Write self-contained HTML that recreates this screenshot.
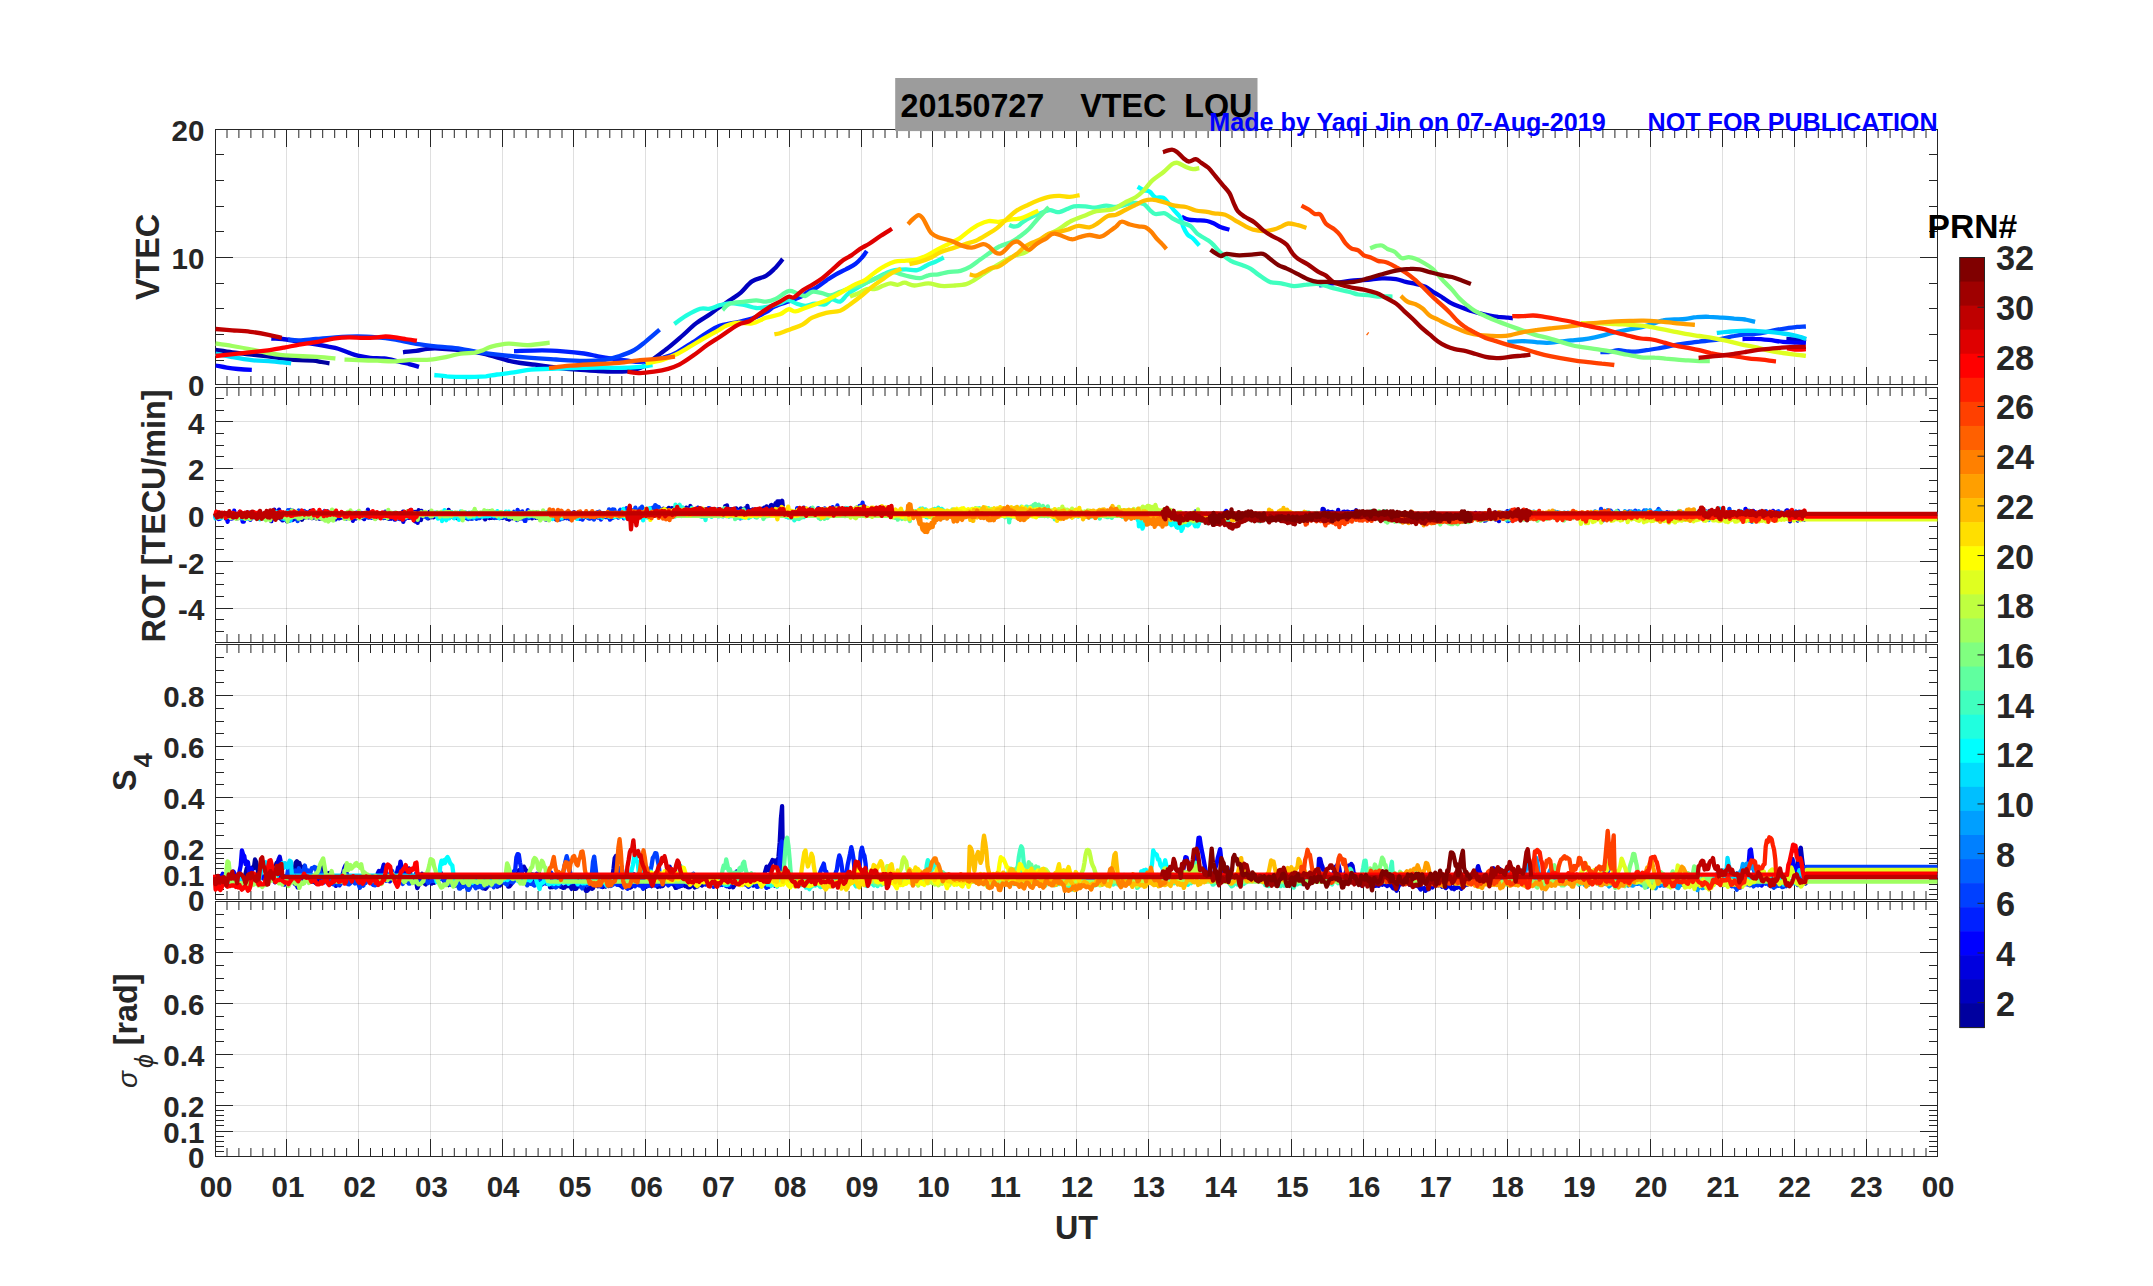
<!DOCTYPE html>
<html><head><meta charset="utf-8"><title>VTEC LOU 20150727</title>
<style>
html,body{margin:0;padding:0;background:#fff;}
body{width:2153px;height:1286px;overflow:hidden;font-family:"Liberation Sans",sans-serif;}
svg{display:block}
svg text{white-space:pre}
</style></head><body>
<svg width="2153" height="1286" viewBox="0 0 2153 1286">
<rect width="2153" height="1286" fill="#fff"/>
<path d="M286.5 129.5V384.5M358.5 129.5V384.5M430.5 129.5V384.5M502.5 129.5V384.5M573.5 129.5V384.5M645.5 129.5V384.5M717.5 129.5V384.5M789.5 129.5V384.5M861.5 129.5V384.5M932.5 129.5V384.5M1004.5 129.5V384.5M1076.5 129.5V384.5M1148.5 129.5V384.5M1220.5 129.5V384.5M1291.5 129.5V384.5M1363.5 129.5V384.5M1435.5 129.5V384.5M1507.5 129.5V384.5M1579.5 129.5V384.5M1650.5 129.5V384.5M1722.5 129.5V384.5M1794.5 129.5V384.5M1866.5 129.5V384.5M286.5 387.5V642.5M358.5 387.5V642.5M430.5 387.5V642.5M502.5 387.5V642.5M573.5 387.5V642.5M645.5 387.5V642.5M717.5 387.5V642.5M789.5 387.5V642.5M861.5 387.5V642.5M932.5 387.5V642.5M1004.5 387.5V642.5M1076.5 387.5V642.5M1148.5 387.5V642.5M1220.5 387.5V642.5M1291.5 387.5V642.5M1363.5 387.5V642.5M1435.5 387.5V642.5M1507.5 387.5V642.5M1579.5 387.5V642.5M1650.5 387.5V642.5M1722.5 387.5V642.5M1794.5 387.5V642.5M1866.5 387.5V642.5M286.5 644.5V899.5M358.5 644.5V899.5M430.5 644.5V899.5M502.5 644.5V899.5M573.5 644.5V899.5M645.5 644.5V899.5M717.5 644.5V899.5M789.5 644.5V899.5M861.5 644.5V899.5M932.5 644.5V899.5M1004.5 644.5V899.5M1076.5 644.5V899.5M1148.5 644.5V899.5M1220.5 644.5V899.5M1291.5 644.5V899.5M1363.5 644.5V899.5M1435.5 644.5V899.5M1507.5 644.5V899.5M1579.5 644.5V899.5M1650.5 644.5V899.5M1722.5 644.5V899.5M1794.5 644.5V899.5M1866.5 644.5V899.5M286.5 901.5V1156.5M358.5 901.5V1156.5M430.5 901.5V1156.5M502.5 901.5V1156.5M573.5 901.5V1156.5M645.5 901.5V1156.5M717.5 901.5V1156.5M789.5 901.5V1156.5M861.5 901.5V1156.5M932.5 901.5V1156.5M1004.5 901.5V1156.5M1076.5 901.5V1156.5M1148.5 901.5V1156.5M1220.5 901.5V1156.5M1291.5 901.5V1156.5M1363.5 901.5V1156.5M1435.5 901.5V1156.5M1507.5 901.5V1156.5M1579.5 901.5V1156.5M1650.5 901.5V1156.5M1722.5 901.5V1156.5M1794.5 901.5V1156.5M1866.5 901.5V1156.5" stroke="#262626" stroke-opacity="0.15" stroke-width="1" fill="none"/>
<path d="M215.5 257.5H1937.5M215.5 608.5H1937.5M215.5 561.5H1937.5M215.5 515.5H1937.5M215.5 468.5H1937.5M215.5 421.5H1937.5M215.5 874.5H1937.5M215.5 848.5H1937.5M215.5 797.5H1937.5M215.5 746.5H1937.5M215.5 695.5H1937.5M215.5 1131.5H1937.5M215.5 1105.5H1937.5M215.5 1054.5H1937.5M215.5 1003.5H1937.5M215.5 952.5H1937.5" stroke="#262626" stroke-opacity="0.15" stroke-width="1" fill="none"/>
<path d="M227 129.5v8.5M227 384.5v-8.5M238.9 129.5v8.5M238.9 384.5v-8.5M250.9 129.5v8.5M250.9 384.5v-8.5M262.9 129.5v8.5M262.9 384.5v-8.5M274.8 129.5v8.5M274.8 384.5v-8.5M298.8 129.5v8.5M298.8 384.5v-8.5M310.7 129.5v8.5M310.7 384.5v-8.5M322.7 129.5v8.5M322.7 384.5v-8.5M334.7 129.5v8.5M334.7 384.5v-8.5M346.6 129.5v8.5M346.6 384.5v-8.5M370.5 129.5v8.5M370.5 384.5v-8.5M382.5 129.5v8.5M382.5 384.5v-8.5M394.5 129.5v8.5M394.5 384.5v-8.5M406.4 129.5v8.5M406.4 384.5v-8.5M418.4 129.5v8.5M418.4 384.5v-8.5M442.3 129.5v8.5M442.3 384.5v-8.5M454.3 129.5v8.5M454.3 384.5v-8.5M466.3 129.5v8.5M466.3 384.5v-8.5M478.2 129.5v8.5M478.2 384.5v-8.5M490.2 129.5v8.5M490.2 384.5v-8.5M514.1 129.5v8.5M514.1 384.5v-8.5M526.1 129.5v8.5M526.1 384.5v-8.5M538.1 129.5v8.5M538.1 384.5v-8.5M550 129.5v8.5M550 384.5v-8.5M562 129.5v8.5M562 384.5v-8.5M585.9 129.5v8.5M585.9 384.5v-8.5M597.9 129.5v8.5M597.9 384.5v-8.5M609.8 129.5v8.5M609.8 384.5v-8.5M621.8 129.5v8.5M621.8 384.5v-8.5M633.8 129.5v8.5M633.8 384.5v-8.5M657.7 129.5v8.5M657.7 384.5v-8.5M669.7 129.5v8.5M669.7 384.5v-8.5M681.6 129.5v8.5M681.6 384.5v-8.5M693.6 129.5v8.5M693.6 384.5v-8.5M705.6 129.5v8.5M705.6 384.5v-8.5M729.5 129.5v8.5M729.5 384.5v-8.5M741.5 129.5v8.5M741.5 384.5v-8.5M753.4 129.5v8.5M753.4 384.5v-8.5M765.4 129.5v8.5M765.4 384.5v-8.5M777.4 129.5v8.5M777.4 384.5v-8.5M801.3 129.5v8.5M801.3 384.5v-8.5M813.3 129.5v8.5M813.3 384.5v-8.5M825.2 129.5v8.5M825.2 384.5v-8.5M837.2 129.5v8.5M837.2 384.5v-8.5M849.1 129.5v8.5M849.1 384.5v-8.5M873.1 129.5v8.5M873.1 384.5v-8.5M885 129.5v8.5M885 384.5v-8.5M897 129.5v8.5M897 384.5v-8.5M909 129.5v8.5M909 384.5v-8.5M920.9 129.5v8.5M920.9 384.5v-8.5M944.9 129.5v8.5M944.9 384.5v-8.5M956.8 129.5v8.5M956.8 384.5v-8.5M968.8 129.5v8.5M968.8 384.5v-8.5M980.8 129.5v8.5M980.8 384.5v-8.5M992.7 129.5v8.5M992.7 384.5v-8.5M1016.7 129.5v8.5M1016.7 384.5v-8.5M1028.6 129.5v8.5M1028.6 384.5v-8.5M1040.6 129.5v8.5M1040.6 384.5v-8.5M1052.6 129.5v8.5M1052.6 384.5v-8.5M1064.5 129.5v8.5M1064.5 384.5v-8.5M1088.4 129.5v8.5M1088.4 384.5v-8.5M1100.4 129.5v8.5M1100.4 384.5v-8.5M1112.4 129.5v8.5M1112.4 384.5v-8.5M1124.3 129.5v8.5M1124.3 384.5v-8.5M1136.3 129.5v8.5M1136.3 384.5v-8.5M1160.2 129.5v8.5M1160.2 384.5v-8.5M1172.2 129.5v8.5M1172.2 384.5v-8.5M1184.2 129.5v8.5M1184.2 384.5v-8.5M1196.1 129.5v8.5M1196.1 384.5v-8.5M1208.1 129.5v8.5M1208.1 384.5v-8.5M1232 129.5v8.5M1232 384.5v-8.5M1244 129.5v8.5M1244 384.5v-8.5M1256 129.5v8.5M1256 384.5v-8.5M1267.9 129.5v8.5M1267.9 384.5v-8.5M1279.9 129.5v8.5M1279.9 384.5v-8.5M1303.8 129.5v8.5M1303.8 384.5v-8.5M1315.8 129.5v8.5M1315.8 384.5v-8.5M1327.7 129.5v8.5M1327.7 384.5v-8.5M1339.7 129.5v8.5M1339.7 384.5v-8.5M1351.7 129.5v8.5M1351.7 384.5v-8.5M1375.6 129.5v8.5M1375.6 384.5v-8.5M1387.6 129.5v8.5M1387.6 384.5v-8.5M1399.5 129.5v8.5M1399.5 384.5v-8.5M1411.5 129.5v8.5M1411.5 384.5v-8.5M1423.5 129.5v8.5M1423.5 384.5v-8.5M1447.4 129.5v8.5M1447.4 384.5v-8.5M1459.4 129.5v8.5M1459.4 384.5v-8.5M1471.3 129.5v8.5M1471.3 384.5v-8.5M1483.3 129.5v8.5M1483.3 384.5v-8.5M1495.3 129.5v8.5M1495.3 384.5v-8.5M1519.2 129.5v8.5M1519.2 384.5v-8.5M1531.2 129.5v8.5M1531.2 384.5v-8.5M1543.1 129.5v8.5M1543.1 384.5v-8.5M1555.1 129.5v8.5M1555.1 384.5v-8.5M1567 129.5v8.5M1567 384.5v-8.5M1591 129.5v8.5M1591 384.5v-8.5M1602.9 129.5v8.5M1602.9 384.5v-8.5M1614.9 129.5v8.5M1614.9 384.5v-8.5M1626.9 129.5v8.5M1626.9 384.5v-8.5M1638.8 129.5v8.5M1638.8 384.5v-8.5M1662.8 129.5v8.5M1662.8 384.5v-8.5M1674.7 129.5v8.5M1674.7 384.5v-8.5M1686.7 129.5v8.5M1686.7 384.5v-8.5M1698.7 129.5v8.5M1698.7 384.5v-8.5M1710.6 129.5v8.5M1710.6 384.5v-8.5M1734.6 129.5v8.5M1734.6 384.5v-8.5M1746.5 129.5v8.5M1746.5 384.5v-8.5M1758.5 129.5v8.5M1758.5 384.5v-8.5M1770.5 129.5v8.5M1770.5 384.5v-8.5M1782.4 129.5v8.5M1782.4 384.5v-8.5M1806.3 129.5v8.5M1806.3 384.5v-8.5M1818.3 129.5v8.5M1818.3 384.5v-8.5M1830.3 129.5v8.5M1830.3 384.5v-8.5M1842.2 129.5v8.5M1842.2 384.5v-8.5M1854.2 129.5v8.5M1854.2 384.5v-8.5M1878.1 129.5v8.5M1878.1 384.5v-8.5M1890.1 129.5v8.5M1890.1 384.5v-8.5M1902.1 129.5v8.5M1902.1 384.5v-8.5M1914 129.5v8.5M1914 384.5v-8.5M1926 129.5v8.5M1926 384.5v-8.5M215.5 360.5h8.5M1937.5 360.5h-8.5M215.5 334.5h8.5M1937.5 334.5h-8.5M215.5 308.5h8.5M1937.5 308.5h-8.5M215.5 283.5h8.5M1937.5 283.5h-8.5M215.5 231.5h8.5M1937.5 231.5h-8.5M215.5 206.5h8.5M1937.5 206.5h-8.5M215.5 180.5h8.5M1937.5 180.5h-8.5M215.5 154.5h8.5M1937.5 154.5h-8.5M227 387.5v8.5M227 642.5v-8.5M238.9 387.5v8.5M238.9 642.5v-8.5M250.9 387.5v8.5M250.9 642.5v-8.5M262.9 387.5v8.5M262.9 642.5v-8.5M274.8 387.5v8.5M274.8 642.5v-8.5M298.8 387.5v8.5M298.8 642.5v-8.5M310.7 387.5v8.5M310.7 642.5v-8.5M322.7 387.5v8.5M322.7 642.5v-8.5M334.7 387.5v8.5M334.7 642.5v-8.5M346.6 387.5v8.5M346.6 642.5v-8.5M370.5 387.5v8.5M370.5 642.5v-8.5M382.5 387.5v8.5M382.5 642.5v-8.5M394.5 387.5v8.5M394.5 642.5v-8.5M406.4 387.5v8.5M406.4 642.5v-8.5M418.4 387.5v8.5M418.4 642.5v-8.5M442.3 387.5v8.5M442.3 642.5v-8.5M454.3 387.5v8.5M454.3 642.5v-8.5M466.3 387.5v8.5M466.3 642.5v-8.5M478.2 387.5v8.5M478.2 642.5v-8.5M490.2 387.5v8.5M490.2 642.5v-8.5M514.1 387.5v8.5M514.1 642.5v-8.5M526.1 387.5v8.5M526.1 642.5v-8.5M538.1 387.5v8.5M538.1 642.5v-8.5M550 387.5v8.5M550 642.5v-8.5M562 387.5v8.5M562 642.5v-8.5M585.9 387.5v8.5M585.9 642.5v-8.5M597.9 387.5v8.5M597.9 642.5v-8.5M609.8 387.5v8.5M609.8 642.5v-8.5M621.8 387.5v8.5M621.8 642.5v-8.5M633.8 387.5v8.5M633.8 642.5v-8.5M657.7 387.5v8.5M657.7 642.5v-8.5M669.7 387.5v8.5M669.7 642.5v-8.5M681.6 387.5v8.5M681.6 642.5v-8.5M693.6 387.5v8.5M693.6 642.5v-8.5M705.6 387.5v8.5M705.6 642.5v-8.5M729.5 387.5v8.5M729.5 642.5v-8.5M741.5 387.5v8.5M741.5 642.5v-8.5M753.4 387.5v8.5M753.4 642.5v-8.5M765.4 387.5v8.5M765.4 642.5v-8.5M777.4 387.5v8.5M777.4 642.5v-8.5M801.3 387.5v8.5M801.3 642.5v-8.5M813.3 387.5v8.5M813.3 642.5v-8.5M825.2 387.5v8.5M825.2 642.5v-8.5M837.2 387.5v8.5M837.2 642.5v-8.5M849.1 387.5v8.5M849.1 642.5v-8.5M873.1 387.5v8.5M873.1 642.5v-8.5M885 387.5v8.5M885 642.5v-8.5M897 387.5v8.5M897 642.5v-8.5M909 387.5v8.5M909 642.5v-8.5M920.9 387.5v8.5M920.9 642.5v-8.5M944.9 387.5v8.5M944.9 642.5v-8.5M956.8 387.5v8.5M956.8 642.5v-8.5M968.8 387.5v8.5M968.8 642.5v-8.5M980.8 387.5v8.5M980.8 642.5v-8.5M992.7 387.5v8.5M992.7 642.5v-8.5M1016.7 387.5v8.5M1016.7 642.5v-8.5M1028.6 387.5v8.5M1028.6 642.5v-8.5M1040.6 387.5v8.5M1040.6 642.5v-8.5M1052.6 387.5v8.5M1052.6 642.5v-8.5M1064.5 387.5v8.5M1064.5 642.5v-8.5M1088.4 387.5v8.5M1088.4 642.5v-8.5M1100.4 387.5v8.5M1100.4 642.5v-8.5M1112.4 387.5v8.5M1112.4 642.5v-8.5M1124.3 387.5v8.5M1124.3 642.5v-8.5M1136.3 387.5v8.5M1136.3 642.5v-8.5M1160.2 387.5v8.5M1160.2 642.5v-8.5M1172.2 387.5v8.5M1172.2 642.5v-8.5M1184.2 387.5v8.5M1184.2 642.5v-8.5M1196.1 387.5v8.5M1196.1 642.5v-8.5M1208.1 387.5v8.5M1208.1 642.5v-8.5M1232 387.5v8.5M1232 642.5v-8.5M1244 387.5v8.5M1244 642.5v-8.5M1256 387.5v8.5M1256 642.5v-8.5M1267.9 387.5v8.5M1267.9 642.5v-8.5M1279.9 387.5v8.5M1279.9 642.5v-8.5M1303.8 387.5v8.5M1303.8 642.5v-8.5M1315.8 387.5v8.5M1315.8 642.5v-8.5M1327.7 387.5v8.5M1327.7 642.5v-8.5M1339.7 387.5v8.5M1339.7 642.5v-8.5M1351.7 387.5v8.5M1351.7 642.5v-8.5M1375.6 387.5v8.5M1375.6 642.5v-8.5M1387.6 387.5v8.5M1387.6 642.5v-8.5M1399.5 387.5v8.5M1399.5 642.5v-8.5M1411.5 387.5v8.5M1411.5 642.5v-8.5M1423.5 387.5v8.5M1423.5 642.5v-8.5M1447.4 387.5v8.5M1447.4 642.5v-8.5M1459.4 387.5v8.5M1459.4 642.5v-8.5M1471.3 387.5v8.5M1471.3 642.5v-8.5M1483.3 387.5v8.5M1483.3 642.5v-8.5M1495.3 387.5v8.5M1495.3 642.5v-8.5M1519.2 387.5v8.5M1519.2 642.5v-8.5M1531.2 387.5v8.5M1531.2 642.5v-8.5M1543.1 387.5v8.5M1543.1 642.5v-8.5M1555.1 387.5v8.5M1555.1 642.5v-8.5M1567 387.5v8.5M1567 642.5v-8.5M1591 387.5v8.5M1591 642.5v-8.5M1602.9 387.5v8.5M1602.9 642.5v-8.5M1614.9 387.5v8.5M1614.9 642.5v-8.5M1626.9 387.5v8.5M1626.9 642.5v-8.5M1638.8 387.5v8.5M1638.8 642.5v-8.5M1662.8 387.5v8.5M1662.8 642.5v-8.5M1674.7 387.5v8.5M1674.7 642.5v-8.5M1686.7 387.5v8.5M1686.7 642.5v-8.5M1698.7 387.5v8.5M1698.7 642.5v-8.5M1710.6 387.5v8.5M1710.6 642.5v-8.5M1734.6 387.5v8.5M1734.6 642.5v-8.5M1746.5 387.5v8.5M1746.5 642.5v-8.5M1758.5 387.5v8.5M1758.5 642.5v-8.5M1770.5 387.5v8.5M1770.5 642.5v-8.5M1782.4 387.5v8.5M1782.4 642.5v-8.5M1806.3 387.5v8.5M1806.3 642.5v-8.5M1818.3 387.5v8.5M1818.3 642.5v-8.5M1830.3 387.5v8.5M1830.3 642.5v-8.5M1842.2 387.5v8.5M1842.2 642.5v-8.5M1854.2 387.5v8.5M1854.2 642.5v-8.5M1878.1 387.5v8.5M1878.1 642.5v-8.5M1890.1 387.5v8.5M1890.1 642.5v-8.5M1902.1 387.5v8.5M1902.1 642.5v-8.5M1914 387.5v8.5M1914 642.5v-8.5M1926 387.5v8.5M1926 642.5v-8.5M215.5 631.5h8.5M1937.5 631.5h-8.5M215.5 619.5h8.5M1937.5 619.5h-8.5M215.5 596.5h8.5M1937.5 596.5h-8.5M215.5 584.5h8.5M1937.5 584.5h-8.5M215.5 573.5h8.5M1937.5 573.5h-8.5M215.5 549.5h8.5M1937.5 549.5h-8.5M215.5 538.5h8.5M1937.5 538.5h-8.5M215.5 526.5h8.5M1937.5 526.5h-8.5M215.5 503.5h8.5M1937.5 503.5h-8.5M215.5 491.5h8.5M1937.5 491.5h-8.5M215.5 480.5h8.5M1937.5 480.5h-8.5M215.5 456.5h8.5M1937.5 456.5h-8.5M215.5 445.5h8.5M1937.5 445.5h-8.5M215.5 433.5h8.5M1937.5 433.5h-8.5M215.5 410.5h8.5M1937.5 410.5h-8.5M215.5 398.5h8.5M1937.5 398.5h-8.5M227 644.5v8.5M227 899.5v-8.5M238.9 644.5v8.5M238.9 899.5v-8.5M250.9 644.5v8.5M250.9 899.5v-8.5M262.9 644.5v8.5M262.9 899.5v-8.5M274.8 644.5v8.5M274.8 899.5v-8.5M298.8 644.5v8.5M298.8 899.5v-8.5M310.7 644.5v8.5M310.7 899.5v-8.5M322.7 644.5v8.5M322.7 899.5v-8.5M334.7 644.5v8.5M334.7 899.5v-8.5M346.6 644.5v8.5M346.6 899.5v-8.5M370.5 644.5v8.5M370.5 899.5v-8.5M382.5 644.5v8.5M382.5 899.5v-8.5M394.5 644.5v8.5M394.5 899.5v-8.5M406.4 644.5v8.5M406.4 899.5v-8.5M418.4 644.5v8.5M418.4 899.5v-8.5M442.3 644.5v8.5M442.3 899.5v-8.5M454.3 644.5v8.5M454.3 899.5v-8.5M466.3 644.5v8.5M466.3 899.5v-8.5M478.2 644.5v8.5M478.2 899.5v-8.5M490.2 644.5v8.5M490.2 899.5v-8.5M514.1 644.5v8.5M514.1 899.5v-8.5M526.1 644.5v8.5M526.1 899.5v-8.5M538.1 644.5v8.5M538.1 899.5v-8.5M550 644.5v8.5M550 899.5v-8.5M562 644.5v8.5M562 899.5v-8.5M585.9 644.5v8.5M585.9 899.5v-8.5M597.9 644.5v8.5M597.9 899.5v-8.5M609.8 644.5v8.5M609.8 899.5v-8.5M621.8 644.5v8.5M621.8 899.5v-8.5M633.8 644.5v8.5M633.8 899.5v-8.5M657.7 644.5v8.5M657.7 899.5v-8.5M669.7 644.5v8.5M669.7 899.5v-8.5M681.6 644.5v8.5M681.6 899.5v-8.5M693.6 644.5v8.5M693.6 899.5v-8.5M705.6 644.5v8.5M705.6 899.5v-8.5M729.5 644.5v8.5M729.5 899.5v-8.5M741.5 644.5v8.5M741.5 899.5v-8.5M753.4 644.5v8.5M753.4 899.5v-8.5M765.4 644.5v8.5M765.4 899.5v-8.5M777.4 644.5v8.5M777.4 899.5v-8.5M801.3 644.5v8.5M801.3 899.5v-8.5M813.3 644.5v8.5M813.3 899.5v-8.5M825.2 644.5v8.5M825.2 899.5v-8.5M837.2 644.5v8.5M837.2 899.5v-8.5M849.1 644.5v8.5M849.1 899.5v-8.5M873.1 644.5v8.5M873.1 899.5v-8.5M885 644.5v8.5M885 899.5v-8.5M897 644.5v8.5M897 899.5v-8.5M909 644.5v8.5M909 899.5v-8.5M920.9 644.5v8.5M920.9 899.5v-8.5M944.9 644.5v8.5M944.9 899.5v-8.5M956.8 644.5v8.5M956.8 899.5v-8.5M968.8 644.5v8.5M968.8 899.5v-8.5M980.8 644.5v8.5M980.8 899.5v-8.5M992.7 644.5v8.5M992.7 899.5v-8.5M1016.7 644.5v8.5M1016.7 899.5v-8.5M1028.6 644.5v8.5M1028.6 899.5v-8.5M1040.6 644.5v8.5M1040.6 899.5v-8.5M1052.6 644.5v8.5M1052.6 899.5v-8.5M1064.5 644.5v8.5M1064.5 899.5v-8.5M1088.4 644.5v8.5M1088.4 899.5v-8.5M1100.4 644.5v8.5M1100.4 899.5v-8.5M1112.4 644.5v8.5M1112.4 899.5v-8.5M1124.3 644.5v8.5M1124.3 899.5v-8.5M1136.3 644.5v8.5M1136.3 899.5v-8.5M1160.2 644.5v8.5M1160.2 899.5v-8.5M1172.2 644.5v8.5M1172.2 899.5v-8.5M1184.2 644.5v8.5M1184.2 899.5v-8.5M1196.1 644.5v8.5M1196.1 899.5v-8.5M1208.1 644.5v8.5M1208.1 899.5v-8.5M1232 644.5v8.5M1232 899.5v-8.5M1244 644.5v8.5M1244 899.5v-8.5M1256 644.5v8.5M1256 899.5v-8.5M1267.9 644.5v8.5M1267.9 899.5v-8.5M1279.9 644.5v8.5M1279.9 899.5v-8.5M1303.8 644.5v8.5M1303.8 899.5v-8.5M1315.8 644.5v8.5M1315.8 899.5v-8.5M1327.7 644.5v8.5M1327.7 899.5v-8.5M1339.7 644.5v8.5M1339.7 899.5v-8.5M1351.7 644.5v8.5M1351.7 899.5v-8.5M1375.6 644.5v8.5M1375.6 899.5v-8.5M1387.6 644.5v8.5M1387.6 899.5v-8.5M1399.5 644.5v8.5M1399.5 899.5v-8.5M1411.5 644.5v8.5M1411.5 899.5v-8.5M1423.5 644.5v8.5M1423.5 899.5v-8.5M1447.4 644.5v8.5M1447.4 899.5v-8.5M1459.4 644.5v8.5M1459.4 899.5v-8.5M1471.3 644.5v8.5M1471.3 899.5v-8.5M1483.3 644.5v8.5M1483.3 899.5v-8.5M1495.3 644.5v8.5M1495.3 899.5v-8.5M1519.2 644.5v8.5M1519.2 899.5v-8.5M1531.2 644.5v8.5M1531.2 899.5v-8.5M1543.1 644.5v8.5M1543.1 899.5v-8.5M1555.1 644.5v8.5M1555.1 899.5v-8.5M1567 644.5v8.5M1567 899.5v-8.5M1591 644.5v8.5M1591 899.5v-8.5M1602.9 644.5v8.5M1602.9 899.5v-8.5M1614.9 644.5v8.5M1614.9 899.5v-8.5M1626.9 644.5v8.5M1626.9 899.5v-8.5M1638.8 644.5v8.5M1638.8 899.5v-8.5M1662.8 644.5v8.5M1662.8 899.5v-8.5M1674.7 644.5v8.5M1674.7 899.5v-8.5M1686.7 644.5v8.5M1686.7 899.5v-8.5M1698.7 644.5v8.5M1698.7 899.5v-8.5M1710.6 644.5v8.5M1710.6 899.5v-8.5M1734.6 644.5v8.5M1734.6 899.5v-8.5M1746.5 644.5v8.5M1746.5 899.5v-8.5M1758.5 644.5v8.5M1758.5 899.5v-8.5M1770.5 644.5v8.5M1770.5 899.5v-8.5M1782.4 644.5v8.5M1782.4 899.5v-8.5M1806.3 644.5v8.5M1806.3 899.5v-8.5M1818.3 644.5v8.5M1818.3 899.5v-8.5M1830.3 644.5v8.5M1830.3 899.5v-8.5M1842.2 644.5v8.5M1842.2 899.5v-8.5M1854.2 644.5v8.5M1854.2 899.5v-8.5M1878.1 644.5v8.5M1878.1 899.5v-8.5M1890.1 644.5v8.5M1890.1 899.5v-8.5M1902.1 644.5v8.5M1902.1 899.5v-8.5M1914 644.5v8.5M1914 899.5v-8.5M1926 644.5v8.5M1926 899.5v-8.5M215.5 894.5h8.5M1937.5 894.5h-8.5M215.5 889.5h8.5M1937.5 889.5h-8.5M215.5 884.5h8.5M1937.5 884.5h-8.5M215.5 879.5h8.5M1937.5 879.5h-8.5M215.5 868.5h8.5M1937.5 868.5h-8.5M215.5 863.5h8.5M1937.5 863.5h-8.5M215.5 858.5h8.5M1937.5 858.5h-8.5M215.5 853.5h8.5M1937.5 853.5h-8.5M215.5 835.5h8.5M1937.5 835.5h-8.5M215.5 823.5h8.5M1937.5 823.5h-8.5M215.5 810.5h8.5M1937.5 810.5h-8.5M215.5 784.5h8.5M1937.5 784.5h-8.5M215.5 772.5h8.5M1937.5 772.5h-8.5M215.5 759.5h8.5M1937.5 759.5h-8.5M215.5 733.5h8.5M1937.5 733.5h-8.5M215.5 721.5h8.5M1937.5 721.5h-8.5M215.5 708.5h8.5M1937.5 708.5h-8.5M215.5 682.5h8.5M1937.5 682.5h-8.5M215.5 670.5h8.5M1937.5 670.5h-8.5M215.5 657.5h8.5M1937.5 657.5h-8.5M227 901.5v8.5M227 1156.5v-8.5M238.9 901.5v8.5M238.9 1156.5v-8.5M250.9 901.5v8.5M250.9 1156.5v-8.5M262.9 901.5v8.5M262.9 1156.5v-8.5M274.8 901.5v8.5M274.8 1156.5v-8.5M298.8 901.5v8.5M298.8 1156.5v-8.5M310.7 901.5v8.5M310.7 1156.5v-8.5M322.7 901.5v8.5M322.7 1156.5v-8.5M334.7 901.5v8.5M334.7 1156.5v-8.5M346.6 901.5v8.5M346.6 1156.5v-8.5M370.5 901.5v8.5M370.5 1156.5v-8.5M382.5 901.5v8.5M382.5 1156.5v-8.5M394.5 901.5v8.5M394.5 1156.5v-8.5M406.4 901.5v8.5M406.4 1156.5v-8.5M418.4 901.5v8.5M418.4 1156.5v-8.5M442.3 901.5v8.5M442.3 1156.5v-8.5M454.3 901.5v8.5M454.3 1156.5v-8.5M466.3 901.5v8.5M466.3 1156.5v-8.5M478.2 901.5v8.5M478.2 1156.5v-8.5M490.2 901.5v8.5M490.2 1156.5v-8.5M514.1 901.5v8.5M514.1 1156.5v-8.5M526.1 901.5v8.5M526.1 1156.5v-8.5M538.1 901.5v8.5M538.1 1156.5v-8.5M550 901.5v8.5M550 1156.5v-8.5M562 901.5v8.5M562 1156.5v-8.5M585.9 901.5v8.5M585.9 1156.5v-8.5M597.9 901.5v8.5M597.9 1156.5v-8.5M609.8 901.5v8.5M609.8 1156.5v-8.5M621.8 901.5v8.5M621.8 1156.5v-8.5M633.8 901.5v8.5M633.8 1156.5v-8.5M657.7 901.5v8.5M657.7 1156.5v-8.5M669.7 901.5v8.5M669.7 1156.5v-8.5M681.6 901.5v8.5M681.6 1156.5v-8.5M693.6 901.5v8.5M693.6 1156.5v-8.5M705.6 901.5v8.5M705.6 1156.5v-8.5M729.5 901.5v8.5M729.5 1156.5v-8.5M741.5 901.5v8.5M741.5 1156.5v-8.5M753.4 901.5v8.5M753.4 1156.5v-8.5M765.4 901.5v8.5M765.4 1156.5v-8.5M777.4 901.5v8.5M777.4 1156.5v-8.5M801.3 901.5v8.5M801.3 1156.5v-8.5M813.3 901.5v8.5M813.3 1156.5v-8.5M825.2 901.5v8.5M825.2 1156.5v-8.5M837.2 901.5v8.5M837.2 1156.5v-8.5M849.1 901.5v8.5M849.1 1156.5v-8.5M873.1 901.5v8.5M873.1 1156.5v-8.5M885 901.5v8.5M885 1156.5v-8.5M897 901.5v8.5M897 1156.5v-8.5M909 901.5v8.5M909 1156.5v-8.5M920.9 901.5v8.5M920.9 1156.5v-8.5M944.9 901.5v8.5M944.9 1156.5v-8.5M956.8 901.5v8.5M956.8 1156.5v-8.5M968.8 901.5v8.5M968.8 1156.5v-8.5M980.8 901.5v8.5M980.8 1156.5v-8.5M992.7 901.5v8.5M992.7 1156.5v-8.5M1016.7 901.5v8.5M1016.7 1156.5v-8.5M1028.6 901.5v8.5M1028.6 1156.5v-8.5M1040.6 901.5v8.5M1040.6 1156.5v-8.5M1052.6 901.5v8.5M1052.6 1156.5v-8.5M1064.5 901.5v8.5M1064.5 1156.5v-8.5M1088.4 901.5v8.5M1088.4 1156.5v-8.5M1100.4 901.5v8.5M1100.4 1156.5v-8.5M1112.4 901.5v8.5M1112.4 1156.5v-8.5M1124.3 901.5v8.5M1124.3 1156.5v-8.5M1136.3 901.5v8.5M1136.3 1156.5v-8.5M1160.2 901.5v8.5M1160.2 1156.5v-8.5M1172.2 901.5v8.5M1172.2 1156.5v-8.5M1184.2 901.5v8.5M1184.2 1156.5v-8.5M1196.1 901.5v8.5M1196.1 1156.5v-8.5M1208.1 901.5v8.5M1208.1 1156.5v-8.5M1232 901.5v8.5M1232 1156.5v-8.5M1244 901.5v8.5M1244 1156.5v-8.5M1256 901.5v8.5M1256 1156.5v-8.5M1267.9 901.5v8.5M1267.9 1156.5v-8.5M1279.9 901.5v8.5M1279.9 1156.5v-8.5M1303.8 901.5v8.5M1303.8 1156.5v-8.5M1315.8 901.5v8.5M1315.8 1156.5v-8.5M1327.7 901.5v8.5M1327.7 1156.5v-8.5M1339.7 901.5v8.5M1339.7 1156.5v-8.5M1351.7 901.5v8.5M1351.7 1156.5v-8.5M1375.6 901.5v8.5M1375.6 1156.5v-8.5M1387.6 901.5v8.5M1387.6 1156.5v-8.5M1399.5 901.5v8.5M1399.5 1156.5v-8.5M1411.5 901.5v8.5M1411.5 1156.5v-8.5M1423.5 901.5v8.5M1423.5 1156.5v-8.5M1447.4 901.5v8.5M1447.4 1156.5v-8.5M1459.4 901.5v8.5M1459.4 1156.5v-8.5M1471.3 901.5v8.5M1471.3 1156.5v-8.5M1483.3 901.5v8.5M1483.3 1156.5v-8.5M1495.3 901.5v8.5M1495.3 1156.5v-8.5M1519.2 901.5v8.5M1519.2 1156.5v-8.5M1531.2 901.5v8.5M1531.2 1156.5v-8.5M1543.1 901.5v8.5M1543.1 1156.5v-8.5M1555.1 901.5v8.5M1555.1 1156.5v-8.5M1567 901.5v8.5M1567 1156.5v-8.5M1591 901.5v8.5M1591 1156.5v-8.5M1602.9 901.5v8.5M1602.9 1156.5v-8.5M1614.9 901.5v8.5M1614.9 1156.5v-8.5M1626.9 901.5v8.5M1626.9 1156.5v-8.5M1638.8 901.5v8.5M1638.8 1156.5v-8.5M1662.8 901.5v8.5M1662.8 1156.5v-8.5M1674.7 901.5v8.5M1674.7 1156.5v-8.5M1686.7 901.5v8.5M1686.7 1156.5v-8.5M1698.7 901.5v8.5M1698.7 1156.5v-8.5M1710.6 901.5v8.5M1710.6 1156.5v-8.5M1734.6 901.5v8.5M1734.6 1156.5v-8.5M1746.5 901.5v8.5M1746.5 1156.5v-8.5M1758.5 901.5v8.5M1758.5 1156.5v-8.5M1770.5 901.5v8.5M1770.5 1156.5v-8.5M1782.4 901.5v8.5M1782.4 1156.5v-8.5M1806.3 901.5v8.5M1806.3 1156.5v-8.5M1818.3 901.5v8.5M1818.3 1156.5v-8.5M1830.3 901.5v8.5M1830.3 1156.5v-8.5M1842.2 901.5v8.5M1842.2 1156.5v-8.5M1854.2 901.5v8.5M1854.2 1156.5v-8.5M1878.1 901.5v8.5M1878.1 1156.5v-8.5M1890.1 901.5v8.5M1890.1 1156.5v-8.5M1902.1 901.5v8.5M1902.1 1156.5v-8.5M1914 901.5v8.5M1914 1156.5v-8.5M1926 901.5v8.5M1926 1156.5v-8.5M215.5 1151.5h8.5M1937.5 1151.5h-8.5M215.5 1146.5h8.5M1937.5 1146.5h-8.5M215.5 1141.5h8.5M1937.5 1141.5h-8.5M215.5 1136.5h8.5M1937.5 1136.5h-8.5M215.5 1125.5h8.5M1937.5 1125.5h-8.5M215.5 1120.5h8.5M1937.5 1120.5h-8.5M215.5 1115.5h8.5M1937.5 1115.5h-8.5M215.5 1110.5h8.5M1937.5 1110.5h-8.5M215.5 1092.5h8.5M1937.5 1092.5h-8.5M215.5 1080.5h8.5M1937.5 1080.5h-8.5M215.5 1067.5h8.5M1937.5 1067.5h-8.5M215.5 1041.5h8.5M1937.5 1041.5h-8.5M215.5 1029.5h8.5M1937.5 1029.5h-8.5M215.5 1016.5h8.5M1937.5 1016.5h-8.5M215.5 990.5h8.5M1937.5 990.5h-8.5M215.5 978.5h8.5M1937.5 978.5h-8.5M215.5 965.5h8.5M1937.5 965.5h-8.5M215.5 939.5h8.5M1937.5 939.5h-8.5M215.5 927.5h8.5M1937.5 927.5h-8.5M215.5 914.5h8.5M1937.5 914.5h-8.5" stroke="#262626" stroke-width="1" fill="none"/>
<path d="M215.5 129.5v17.5M215.5 384.5v-17.5M286.5 129.5v17.5M286.5 384.5v-17.5M358.5 129.5v17.5M358.5 384.5v-17.5M430.5 129.5v17.5M430.5 384.5v-17.5M502.5 129.5v17.5M502.5 384.5v-17.5M573.5 129.5v17.5M573.5 384.5v-17.5M645.5 129.5v17.5M645.5 384.5v-17.5M717.5 129.5v17.5M717.5 384.5v-17.5M789.5 129.5v17.5M789.5 384.5v-17.5M861.5 129.5v17.5M861.5 384.5v-17.5M932.5 129.5v17.5M932.5 384.5v-17.5M1004.5 129.5v17.5M1004.5 384.5v-17.5M1076.5 129.5v17.5M1076.5 384.5v-17.5M1148.5 129.5v17.5M1148.5 384.5v-17.5M1220.5 129.5v17.5M1220.5 384.5v-17.5M1291.5 129.5v17.5M1291.5 384.5v-17.5M1363.5 129.5v17.5M1363.5 384.5v-17.5M1435.5 129.5v17.5M1435.5 384.5v-17.5M1507.5 129.5v17.5M1507.5 384.5v-17.5M1579.5 129.5v17.5M1579.5 384.5v-17.5M1650.5 129.5v17.5M1650.5 384.5v-17.5M1722.5 129.5v17.5M1722.5 384.5v-17.5M1794.5 129.5v17.5M1794.5 384.5v-17.5M1866.5 129.5v17.5M1866.5 384.5v-17.5M1937.5 129.5v17.5M1937.5 384.5v-17.5M215.5 384.5h17.5M1937.5 384.5h-17.5M215.5 257.5h17.5M1937.5 257.5h-17.5M215.5 129.5h17.5M1937.5 129.5h-17.5M215.5 387.5v17.5M215.5 642.5v-17.5M286.5 387.5v17.5M286.5 642.5v-17.5M358.5 387.5v17.5M358.5 642.5v-17.5M430.5 387.5v17.5M430.5 642.5v-17.5M502.5 387.5v17.5M502.5 642.5v-17.5M573.5 387.5v17.5M573.5 642.5v-17.5M645.5 387.5v17.5M645.5 642.5v-17.5M717.5 387.5v17.5M717.5 642.5v-17.5M789.5 387.5v17.5M789.5 642.5v-17.5M861.5 387.5v17.5M861.5 642.5v-17.5M932.5 387.5v17.5M932.5 642.5v-17.5M1004.5 387.5v17.5M1004.5 642.5v-17.5M1076.5 387.5v17.5M1076.5 642.5v-17.5M1148.5 387.5v17.5M1148.5 642.5v-17.5M1220.5 387.5v17.5M1220.5 642.5v-17.5M1291.5 387.5v17.5M1291.5 642.5v-17.5M1363.5 387.5v17.5M1363.5 642.5v-17.5M1435.5 387.5v17.5M1435.5 642.5v-17.5M1507.5 387.5v17.5M1507.5 642.5v-17.5M1579.5 387.5v17.5M1579.5 642.5v-17.5M1650.5 387.5v17.5M1650.5 642.5v-17.5M1722.5 387.5v17.5M1722.5 642.5v-17.5M1794.5 387.5v17.5M1794.5 642.5v-17.5M1866.5 387.5v17.5M1866.5 642.5v-17.5M1937.5 387.5v17.5M1937.5 642.5v-17.5M215.5 608.5h17.5M1937.5 608.5h-17.5M215.5 561.5h17.5M1937.5 561.5h-17.5M215.5 515.5h17.5M1937.5 515.5h-17.5M215.5 468.5h17.5M1937.5 468.5h-17.5M215.5 421.5h17.5M1937.5 421.5h-17.5M215.5 644.5v17.5M215.5 899.5v-17.5M286.5 644.5v17.5M286.5 899.5v-17.5M358.5 644.5v17.5M358.5 899.5v-17.5M430.5 644.5v17.5M430.5 899.5v-17.5M502.5 644.5v17.5M502.5 899.5v-17.5M573.5 644.5v17.5M573.5 899.5v-17.5M645.5 644.5v17.5M645.5 899.5v-17.5M717.5 644.5v17.5M717.5 899.5v-17.5M789.5 644.5v17.5M789.5 899.5v-17.5M861.5 644.5v17.5M861.5 899.5v-17.5M932.5 644.5v17.5M932.5 899.5v-17.5M1004.5 644.5v17.5M1004.5 899.5v-17.5M1076.5 644.5v17.5M1076.5 899.5v-17.5M1148.5 644.5v17.5M1148.5 899.5v-17.5M1220.5 644.5v17.5M1220.5 899.5v-17.5M1291.5 644.5v17.5M1291.5 899.5v-17.5M1363.5 644.5v17.5M1363.5 899.5v-17.5M1435.5 644.5v17.5M1435.5 899.5v-17.5M1507.5 644.5v17.5M1507.5 899.5v-17.5M1579.5 644.5v17.5M1579.5 899.5v-17.5M1650.5 644.5v17.5M1650.5 899.5v-17.5M1722.5 644.5v17.5M1722.5 899.5v-17.5M1794.5 644.5v17.5M1794.5 899.5v-17.5M1866.5 644.5v17.5M1866.5 899.5v-17.5M1937.5 644.5v17.5M1937.5 899.5v-17.5M215.5 899.5h17.5M1937.5 899.5h-17.5M215.5 874.5h17.5M1937.5 874.5h-17.5M215.5 848.5h17.5M1937.5 848.5h-17.5M215.5 797.5h17.5M1937.5 797.5h-17.5M215.5 746.5h17.5M1937.5 746.5h-17.5M215.5 695.5h17.5M1937.5 695.5h-17.5M215.5 901.5v17.5M215.5 1156.5v-17.5M286.5 901.5v17.5M286.5 1156.5v-17.5M358.5 901.5v17.5M358.5 1156.5v-17.5M430.5 901.5v17.5M430.5 1156.5v-17.5M502.5 901.5v17.5M502.5 1156.5v-17.5M573.5 901.5v17.5M573.5 1156.5v-17.5M645.5 901.5v17.5M645.5 1156.5v-17.5M717.5 901.5v17.5M717.5 1156.5v-17.5M789.5 901.5v17.5M789.5 1156.5v-17.5M861.5 901.5v17.5M861.5 1156.5v-17.5M932.5 901.5v17.5M932.5 1156.5v-17.5M1004.5 901.5v17.5M1004.5 1156.5v-17.5M1076.5 901.5v17.5M1076.5 1156.5v-17.5M1148.5 901.5v17.5M1148.5 1156.5v-17.5M1220.5 901.5v17.5M1220.5 1156.5v-17.5M1291.5 901.5v17.5M1291.5 1156.5v-17.5M1363.5 901.5v17.5M1363.5 1156.5v-17.5M1435.5 901.5v17.5M1435.5 1156.5v-17.5M1507.5 901.5v17.5M1507.5 1156.5v-17.5M1579.5 901.5v17.5M1579.5 1156.5v-17.5M1650.5 901.5v17.5M1650.5 1156.5v-17.5M1722.5 901.5v17.5M1722.5 1156.5v-17.5M1794.5 901.5v17.5M1794.5 1156.5v-17.5M1866.5 901.5v17.5M1866.5 1156.5v-17.5M1937.5 901.5v17.5M1937.5 1156.5v-17.5M215.5 1156.5h17.5M1937.5 1156.5h-17.5M215.5 1131.5h17.5M1937.5 1131.5h-17.5M215.5 1105.5h17.5M1937.5 1105.5h-17.5M215.5 1054.5h17.5M1937.5 1054.5h-17.5M215.5 1003.5h17.5M1937.5 1003.5h-17.5M215.5 952.5h17.5M1937.5 952.5h-17.5" stroke="#262626" stroke-width="1" fill="none"/>
<rect x="215.5" y="129.5" width="1722" height="255" fill="none" stroke="#262626" stroke-width="1"/>
<rect x="215.5" y="387.5" width="1722" height="255" fill="none" stroke="#262626" stroke-width="1"/>
<rect x="215.5" y="644.5" width="1722" height="255" fill="none" stroke="#262626" stroke-width="1"/>
<rect x="215.5" y="901.5" width="1722" height="255" fill="none" stroke="#262626" stroke-width="1"/>
<g fill="none" stroke-width="4.3" stroke-linejoin="round" stroke-linecap="butt">
<path d="M215.6 349.9C218.4 350.3 226.3 351.5 232.3 352.3C238.3 353.0 245.3 353.9 251.8 354.6C258.3 355.4 265.3 356.1 271.3 356.8C277.3 357.6 283.4 358.7 288.0 359.2C292.7 359.8 295.0 360.0 299.2 360.2C303.4 360.4 309.4 360.3 313.1 360.6C316.8 360.9 318.7 361.5 321.5 362.0C324.2 362.5 328.2 363.2 329.5 363.4" stroke="#00009f"/>
<path d="M403.0 352.3C405.2 352.0 412.2 351.4 416.2 350.9C420.3 350.3 423.6 349.2 427.4 348.8C431.1 348.4 432.9 348.3 438.5 348.5C444.1 348.7 453.4 349.3 460.8 350.2C468.2 351.0 474.2 351.7 483.1 353.6C492.0 355.6 505.3 360.1 514.0 361.9C522.7 363.7 528.0 363.8 535.0 364.7C542.0 365.6 549.0 366.7 556.0 367.5C563.0 368.3 570.0 369.0 577.0 369.6C584.0 370.2 591.2 370.6 598.0 371.0C604.8 371.3 611.8 371.8 617.6 371.7C623.4 371.6 628.3 371.3 633.0 370.3C637.7 369.2 642.1 367.4 645.6 365.4C649.1 363.4 650.3 361.3 654.0 358.4C657.7 355.5 663.3 351.6 668.0 347.9C672.7 344.2 677.3 340.1 682.0 336.0C686.7 331.9 691.3 327.0 696.0 323.4C700.7 319.8 706.3 316.9 710.0 314.3C713.7 311.7 714.9 310.4 718.4 308.0C721.9 305.5 727.3 302.2 731.0 299.6C734.7 297.0 737.3 295.6 740.8 292.6C744.3 289.6 747.8 284.2 752.0 281.4C756.2 278.6 762.3 277.9 766.0 275.8C769.7 273.7 771.6 271.6 774.4 268.8C777.2 266.0 781.4 260.6 782.8 259.0" stroke="#0000bf"/>
<path d="M1786.4 339.0C1788.2 339.1 1793.6 339.0 1796.9 339.5C1800.1 339.9 1804.4 341.4 1805.9 341.8" stroke="#0000bf"/>
<path d="M271.3 338.7C273.2 338.8 277.8 338.5 282.5 339.0C287.1 339.5 293.6 340.9 299.2 341.8C304.7 342.7 311.0 343.5 315.9 344.3C320.8 345.1 324.7 345.9 328.4 346.7C332.1 347.4 334.7 347.7 338.2 348.8C341.7 349.8 346.1 351.8 349.3 352.9C352.6 354.1 354.2 354.9 357.7 355.7C361.2 356.5 365.8 357.4 370.2 357.8C374.6 358.3 379.5 357.9 384.2 358.5C388.8 359.1 393.9 360.4 398.1 361.3C402.3 362.2 405.8 363.2 409.2 364.1C412.7 365.0 417.4 366.4 419.0 366.9" stroke="#0000df"/>
<path d="M1319.0 285.4C1321.3 285.0 1327.2 284.1 1333.0 283.3C1338.8 282.5 1348.2 281.1 1354.0 280.5C1359.8 279.9 1363.3 280.1 1368.0 279.8C1372.7 279.4 1377.3 278.5 1382.0 278.4C1386.7 278.3 1392.0 278.5 1396.0 279.1C1400.0 279.7 1402.5 281.1 1405.8 281.9C1409.1 282.7 1412.3 283.2 1415.6 284.0C1418.9 284.8 1422.4 285.4 1425.4 286.8C1428.4 288.2 1431.0 290.6 1433.8 292.4C1436.6 294.1 1439.4 295.5 1442.2 297.3C1445.0 299.0 1447.6 301.3 1450.6 302.9C1453.6 304.5 1457.1 305.8 1460.4 307.1C1463.7 308.4 1466.9 309.5 1470.2 310.6C1473.5 311.6 1476.7 312.6 1480.0 313.4C1483.3 314.2 1486.8 314.9 1489.8 315.5C1492.8 316.1 1495.2 316.5 1498.2 316.9C1501.2 317.2 1505.5 317.4 1508.0 317.6C1510.4 317.8 1512.1 318.2 1512.9 318.3" stroke="#0000df"/>
<path d="M215.6 365.5C217.4 365.8 223.0 367.0 226.7 367.6C230.4 368.2 233.7 368.6 237.9 369.0C242.0 369.4 249.5 369.8 251.8 369.9" stroke="#0000ff"/>
<path d="M1181.8 216.8C1183.0 217.3 1186.2 219.0 1188.8 219.6C1191.4 220.2 1194.2 220.1 1197.2 220.3C1200.2 220.5 1204.2 220.5 1207.0 221.0C1209.8 221.5 1211.7 222.5 1214.0 223.5C1216.3 224.6 1218.4 226.3 1221.0 227.3C1223.6 228.3 1228.0 229.3 1229.4 229.7" stroke="#0000ff"/>
<path d="M1742.5 339.0C1744.6 339.0 1750.7 338.6 1755.1 338.8C1759.5 338.9 1764.4 339.4 1769.0 339.9C1773.6 340.4 1778.3 341.4 1782.9 341.8C1787.6 342.3 1793.0 342.4 1796.9 342.7C1800.7 342.9 1804.4 343.1 1805.9 343.2" stroke="#0000ff"/>
<path d="M514.0 351.1C518.7 351.0 533.8 350.4 542.0 350.4C550.2 350.5 556.0 350.9 563.0 351.4C570.0 351.9 578.2 352.7 584.0 353.5C589.8 354.3 593.3 355.4 598.0 356.3C602.7 357.2 607.3 358.0 612.0 358.7C616.7 359.4 621.3 360.0 626.0 360.5C630.7 361.0 635.3 361.9 640.0 361.9C644.7 361.9 649.8 361.3 654.0 360.5C658.2 359.7 661.7 358.2 665.2 357.0C668.7 355.8 669.9 356.3 675.0 353.5C680.1 350.7 689.0 344.6 696.0 340.2C703.0 335.8 710.0 329.9 717.0 326.9C724.0 323.9 732.2 323.4 738.0 322.0C743.8 320.6 747.3 320.1 752.0 318.5C756.7 316.9 762.3 314.2 766.0 312.2C769.7 310.2 770.7 308.4 774.4 306.6C778.1 304.8 785.1 302.8 788.4 301.6C791.7 300.4 791.9 300.3 794.0 299.5C796.1 298.7 798.7 298.0 801.0 296.7C803.3 295.4 805.4 293.3 808.0 291.8C810.6 290.3 813.4 289.5 816.4 287.6C819.4 285.7 822.9 282.8 826.2 280.6C829.5 278.4 832.7 276.2 836.0 274.3C839.3 272.4 842.5 271.1 845.8 269.4C849.1 267.6 852.8 265.9 855.6 263.8C858.4 261.7 860.7 258.9 862.6 256.8C864.5 254.7 866.1 251.9 866.8 250.9" stroke="#0020ff"/>
<path d="M288.0 339.4C289.9 339.6 294.5 340.5 299.2 340.4C303.8 340.3 309.9 339.5 315.9 339.0C321.9 338.5 328.4 337.8 335.4 337.3C342.4 336.9 350.7 336.5 357.7 336.5C364.7 336.5 371.2 336.9 377.2 337.3C383.2 337.8 387.4 338.3 393.9 339.4C400.4 340.5 408.8 342.7 416.2 343.9C423.6 345.1 431.1 345.9 438.5 346.7C445.9 347.5 453.4 347.7 460.8 348.8C468.2 349.8 471.9 351.5 483.1 352.9C494.3 354.4 515.8 356.6 528.0 357.7C540.2 358.8 546.7 359.0 556.0 359.5C565.3 360.1 575.8 360.9 584.0 360.9C592.2 361.0 599.2 360.6 605.0 359.8C610.8 359.0 614.1 357.9 619.0 356.3C623.9 354.7 630.0 352.4 634.4 350.0C638.8 347.5 641.4 345.0 645.6 341.6C649.8 338.2 657.3 331.7 659.6 329.7" stroke="#0040ff"/>
<path d="M1600.4 352.0C1601.8 352.0 1605.7 352.3 1608.8 352.0C1611.8 351.7 1615.5 350.3 1618.5 350.2C1621.5 350.1 1624.1 351.1 1626.9 351.3C1629.7 351.5 1632.0 351.8 1635.2 351.6C1638.5 351.4 1642.7 350.7 1646.4 350.2C1650.1 349.7 1653.8 349.1 1657.5 348.5C1661.2 347.9 1665.2 347.1 1668.7 346.4C1672.2 345.7 1675.0 344.9 1678.4 344.3C1681.9 343.8 1686.1 343.4 1689.6 342.9C1693.1 342.5 1695.9 342.0 1699.3 341.6C1702.8 341.1 1706.8 340.9 1710.5 340.4C1714.2 340.0 1717.7 339.5 1721.6 338.8C1725.6 338.0 1730.2 336.7 1734.2 336.0C1738.1 335.2 1741.8 334.7 1745.3 334.3C1748.8 334.0 1751.6 334.3 1755.1 333.9C1758.6 333.5 1762.5 332.8 1766.2 332.1C1769.9 331.4 1773.6 330.4 1777.4 329.7C1781.1 329.0 1785.3 328.4 1788.5 327.9C1791.8 327.4 1794.0 327.2 1796.9 326.9C1799.8 326.7 1804.4 326.6 1805.9 326.5" stroke="#0040ff"/>
<path d="M1507.3 342.1C1509.7 341.9 1517.2 341.1 1522.0 341.1C1526.8 341.1 1531.8 341.8 1536.0 342.1C1540.2 342.4 1543.0 342.9 1547.2 342.8C1551.4 342.7 1557.2 341.8 1561.2 341.4C1565.2 341.0 1567.6 340.8 1571.1 340.4C1574.7 340.1 1578.3 340.0 1582.3 339.5C1586.2 339.0 1590.9 338.2 1594.8 337.4C1598.8 336.6 1602.0 335.6 1606.0 334.6C1609.9 333.6 1614.6 332.4 1618.5 331.5C1622.5 330.6 1626.0 330.0 1629.7 329.3C1633.4 328.6 1637.1 328.2 1640.8 327.3C1644.5 326.5 1648.2 325.3 1652.0 324.1C1655.7 323.0 1659.4 321.1 1663.1 320.4C1666.8 319.6 1670.5 319.8 1674.3 319.5C1678.0 319.3 1681.7 319.4 1685.4 319.0C1689.1 318.6 1692.6 317.5 1696.5 317.2C1700.5 316.8 1704.9 316.7 1709.1 316.8C1713.3 316.8 1717.4 317.3 1721.6 317.6C1725.8 317.9 1730.2 318.2 1734.2 318.6C1738.1 318.9 1741.8 319.0 1745.3 319.5C1748.8 320.1 1753.4 321.4 1755.1 321.8" stroke="#009fff"/>
<path d="M215.6 353.6C218.4 354.2 226.3 356.0 232.3 357.1C238.3 358.2 245.3 359.5 251.8 360.2C258.3 360.9 266.2 360.9 271.3 361.3C276.4 361.7 279.2 362.1 282.5 362.4C285.8 362.8 289.7 363.2 291.1 363.4" stroke="#00dfff"/>
<path d="M1716.8 332.9C1718.5 332.7 1723.1 332.1 1727.2 331.8C1731.3 331.5 1736.5 331.0 1741.1 330.8C1745.8 330.7 1750.4 330.7 1755.1 330.8C1759.7 331.0 1764.4 331.4 1769.0 331.8C1773.6 332.2 1778.8 332.9 1782.9 333.5C1787.1 334.1 1791.1 334.7 1794.1 335.3C1797.1 335.9 1799.0 336.5 1801.0 337.1C1803.1 337.7 1805.5 338.7 1806.3 339.0" stroke="#00dfff"/>
<path d="M434.3 375.0C436.4 375.2 442.5 376.0 446.9 376.4C451.3 376.7 456.2 376.8 460.8 376.9C465.4 377.0 470.6 377.0 474.7 376.9C478.9 376.8 482.2 376.7 485.9 376.4C489.6 376.0 492.3 375.2 497.0 374.5C501.7 373.9 508.4 373.2 514.0 372.4C519.6 371.6 525.0 370.2 530.8 369.6C536.6 369.0 542.5 369.1 549.0 368.9C555.5 368.7 561.8 368.4 570.0 368.2C578.2 368.0 589.8 367.5 598.0 367.5C606.2 367.5 612.0 368.0 619.0 367.9C626.0 367.8 634.4 367.3 640.0 366.8C645.6 366.3 650.5 365.4 652.6 365.1" stroke="#00ffff"/>
<path d="M1137.7 186.7C1138.7 187.3 1142.0 189.4 1144.0 190.2C1146.0 191.0 1147.7 190.4 1149.6 191.6C1151.5 192.8 1152.9 196.1 1155.2 197.2C1157.5 198.2 1161.3 196.7 1163.6 197.9C1165.9 199.1 1167.3 202.0 1169.2 204.2C1171.1 206.4 1172.9 209.0 1174.8 211.2C1176.7 213.4 1179.0 214.9 1180.4 217.5C1181.8 220.1 1182.0 223.8 1183.2 226.6C1184.4 229.4 1185.8 232.3 1187.4 234.3C1189.0 236.3 1191.0 236.6 1193.0 238.5C1195.0 240.4 1198.2 244.3 1199.3 245.5" stroke="#00ffff"/>
<path d="M674.3 324.1C676.3 322.7 681.9 318.3 686.2 315.7C690.5 313.1 696.2 309.9 700.2 308.7C704.2 307.5 706.7 309.3 710.0 308.7C713.3 308.1 716.3 306.1 719.8 305.2C723.3 304.3 726.8 303.1 731.0 303.1C735.2 303.1 740.8 304.4 745.0 305.2C749.2 306.0 752.2 307.8 756.2 308.0C760.2 308.2 764.8 307.4 768.8 306.6C772.8 305.8 776.7 304.2 780.0 303.1C783.3 302.0 785.6 300.1 788.4 300.2C791.2 300.3 794.0 302.8 796.8 303.7C799.6 304.6 802.2 305.8 805.2 305.8C808.2 305.8 811.7 303.9 815.0 303.7C818.3 303.5 822.0 305.1 824.8 304.4C827.6 303.7 829.2 300.0 831.8 299.5C834.4 299.0 837.6 302.4 840.2 301.6C842.8 300.8 844.6 296.7 847.2 294.6C849.8 292.5 852.8 290.7 855.6 289.0C858.4 287.2 860.7 285.8 864.0 284.1C867.3 282.3 871.5 280.4 875.2 278.5C878.9 276.6 883.1 274.3 886.4 272.9C889.7 271.5 891.5 270.7 894.8 270.1C898.1 269.5 902.3 269.4 906.0 269.4C909.7 269.4 913.7 270.8 917.2 270.1C920.7 269.4 924.0 266.6 927.0 265.2C930.0 263.8 932.6 263.0 935.4 261.7C938.2 260.4 942.4 258.2 943.8 257.5" stroke="#20ffdf"/>
<path d="M1009.2 224.9C1009.9 225.2 1011.9 226.4 1013.4 226.5C1014.9 226.6 1016.7 226.3 1018.1 225.7C1019.5 225.1 1020.3 223.9 1021.8 222.8C1023.3 221.8 1024.9 220.5 1026.9 219.4C1028.9 218.3 1031.4 217.0 1033.6 216.0C1035.8 215.0 1037.8 214.3 1039.9 213.5C1042.0 212.7 1044.5 211.6 1046.2 211.0C1048.0 210.4 1048.8 210.1 1050.4 210.2C1052.0 210.3 1054.3 211.5 1055.9 211.8C1057.5 212.1 1058.2 212.3 1060.0 211.9C1061.8 211.4 1064.7 210.0 1067.0 209.1C1069.3 208.2 1071.0 206.8 1074.0 206.3C1077.0 205.8 1081.7 206.1 1085.2 206.3C1088.7 206.5 1091.5 207.8 1095.0 207.7C1098.5 207.6 1102.7 205.7 1106.2 205.6C1109.7 205.5 1112.5 207.2 1116.0 207.0C1119.5 206.8 1123.9 204.9 1127.2 204.2C1130.5 203.5 1132.8 202.8 1135.6 202.8C1138.4 202.8 1141.7 203.0 1144.0 204.2C1146.3 205.4 1147.7 208.2 1149.6 209.8C1151.5 211.4 1152.6 213.4 1155.2 214.0C1157.8 214.6 1162.2 212.6 1165.0 213.3C1167.8 214.0 1169.7 216.8 1172.0 218.2C1174.3 219.6 1176.0 220.4 1179.0 221.7C1182.0 223.0 1187.2 223.9 1190.2 225.9C1193.2 227.9 1194.2 231.1 1197.2 233.6C1200.2 236.0 1205.6 238.6 1208.4 240.6C1211.2 242.6 1211.9 243.4 1214.0 245.5C1216.1 247.6 1218.2 250.6 1221.0 253.2C1223.8 255.8 1227.3 258.9 1230.8 260.9C1234.3 262.9 1238.7 263.8 1242.0 265.1C1245.3 266.4 1247.6 267.0 1250.4 268.6C1253.2 270.2 1255.5 272.7 1258.8 274.9C1262.1 277.1 1266.3 280.5 1270.0 281.9C1273.7 283.3 1277.2 282.6 1281.2 283.3C1285.2 284.0 1289.6 285.9 1293.8 286.1C1298.0 286.3 1302.2 285.0 1306.4 284.7C1310.6 284.3 1314.6 283.4 1319.0 284.0C1323.4 284.6 1328.1 286.9 1333.0 288.2C1337.9 289.5 1344.2 290.6 1348.4 291.7C1352.6 292.7 1354.9 293.9 1358.2 294.5C1361.5 295.1 1364.7 294.8 1368.0 295.2C1371.3 295.5 1374.8 296.4 1377.8 296.6C1380.8 296.8 1383.7 296.3 1386.2 296.3C1388.6 296.3 1391.4 296.6 1392.5 296.6" stroke="#40ffbf"/>
<path d="M722.6 310.1C723.8 309.0 725.9 305.2 729.6 303.8C733.3 302.4 740.6 302.3 745.0 301.7C749.4 301.1 752.7 300.3 756.2 300.3C759.7 300.3 762.7 301.9 766.0 301.7C769.3 301.5 772.1 300.7 775.8 298.9C779.5 297.1 784.9 292.0 788.4 291.1C791.9 290.1 794.0 292.4 796.8 293.2C799.6 294.0 802.6 296.2 805.2 296.0C807.8 295.8 809.4 292.3 812.2 291.8C815.0 291.3 819.0 292.6 822.0 293.2C825.0 293.8 827.4 295.5 830.4 295.3C833.4 295.1 836.9 293.0 840.2 291.8C843.5 290.6 846.5 289.5 850.0 288.3C853.5 287.1 857.7 286.1 861.2 284.8C864.7 283.5 867.7 282.0 871.0 280.6C874.3 279.2 877.3 277.8 880.8 276.4C884.3 275.0 889.0 272.7 892.0 272.2C895.0 271.7 896.2 272.9 899.0 273.6C901.8 274.3 905.3 275.7 908.8 276.4C912.3 277.1 916.7 278.3 920.0 278.1C923.3 277.9 925.4 275.9 928.4 275.3C931.4 274.6 934.9 274.8 938.2 274.3C941.5 273.8 944.3 272.8 948.0 272.2C951.7 271.6 956.9 271.7 960.6 270.8C964.3 269.9 967.1 268.5 970.4 266.6C973.7 264.7 976.9 261.9 980.2 259.6C983.5 257.3 986.7 254.8 990.0 252.6C993.3 250.4 996.3 248.0 999.8 246.3C1003.3 244.5 1007.5 243.8 1011.0 242.1C1014.5 240.3 1017.8 238.0 1020.8 235.8C1023.8 233.6 1026.4 231.6 1029.2 228.8C1032.0 226.0 1034.8 222.1 1037.6 219.0C1040.4 215.8 1044.1 211.9 1046.0 209.9C1047.9 207.9 1048.3 207.6 1048.8 207.1" stroke="#60ff9f"/>
<path d="M1370.1 248.3C1371.1 247.9 1374.4 246.4 1376.4 245.9C1378.4 245.5 1380.1 245.0 1382.0 245.5C1383.9 246.0 1385.5 247.9 1387.6 249.0C1389.7 250.0 1392.3 250.3 1394.6 251.8C1396.9 253.3 1399.3 257.2 1401.6 258.1C1403.9 259.0 1406.3 257.0 1408.6 257.1C1410.9 257.2 1413.0 257.8 1415.6 258.8C1418.2 259.8 1421.2 261.4 1424.0 263.0C1426.8 264.6 1429.8 266.4 1432.4 268.6C1435.0 270.8 1437.3 274.0 1439.4 276.3C1441.5 278.6 1442.9 280.4 1445.0 282.6C1447.1 284.8 1449.7 287.0 1452.0 289.6C1454.3 292.2 1456.7 295.5 1459.0 298.0C1461.3 300.4 1463.4 302.2 1466.0 304.3C1468.6 306.4 1471.1 308.6 1474.4 310.6C1477.7 312.6 1481.9 314.4 1485.6 316.2C1489.3 317.9 1493.1 319.6 1496.8 321.1C1500.5 322.6 1503.8 323.8 1508.0 325.3C1512.2 326.8 1517.3 328.6 1522.0 330.2C1526.7 331.8 1531.3 333.7 1536.0 335.1C1540.7 336.5 1544.1 336.9 1550.0 338.6C1555.9 340.3 1565.8 343.6 1571.1 345.0C1576.5 346.5 1578.1 346.4 1582.3 347.1C1586.5 347.8 1591.6 348.5 1596.2 349.2C1600.9 349.9 1605.7 350.5 1610.2 351.3C1614.6 352.1 1618.5 353.0 1622.7 353.8C1626.9 354.6 1631.8 355.6 1635.2 356.2C1638.7 356.8 1640.3 357.3 1643.6 357.6C1646.9 357.8 1651.0 357.4 1654.7 357.6C1658.5 357.7 1662.2 358.2 1665.9 358.6C1669.6 358.9 1673.3 359.4 1677.0 359.7C1680.8 360.0 1684.5 360.1 1688.2 360.4C1691.9 360.6 1695.7 360.9 1699.3 361.1C1702.9 361.2 1708.0 361.1 1709.8 361.1" stroke="#80ff80"/>
<path d="M215.6 343.5C218.4 343.9 226.3 345.0 232.3 346.0C238.3 347.0 245.3 348.2 251.8 349.5C258.3 350.7 264.8 352.6 271.3 353.6C277.8 354.7 284.8 355.3 290.8 355.7C296.9 356.2 302.0 356.2 307.5 356.4C313.1 356.7 319.6 357.1 324.3 357.4C328.9 357.8 333.5 358.3 335.4 358.5" stroke="#9fff60"/>
<path d="M344.5 359.6C346.7 359.7 352.2 360.0 357.7 360.2C363.2 360.4 371.2 360.6 377.2 360.7C383.2 360.9 388.1 361.4 393.9 361.3C399.7 361.2 406.0 360.2 412.0 359.9C418.1 359.6 424.3 360.1 430.1 359.6C436.0 359.1 441.8 357.8 446.9 356.8C452.0 355.8 456.2 354.3 460.8 353.6C465.4 352.9 471.0 353.2 474.7 352.7C478.5 352.1 480.3 351.2 483.1 350.2C485.9 349.2 487.2 347.8 491.5 346.7C495.7 345.6 502.3 344.0 508.4 343.7C514.5 343.4 521.1 345.3 528.0 345.1C534.9 344.9 546.1 343.1 549.7 342.7" stroke="#9fff60"/>
<path d="M850.0 296.7C851.4 296.1 855.6 294.5 858.4 293.2C861.2 291.9 864.0 289.7 866.8 289.0C869.6 288.3 872.4 289.6 875.2 289.0C878.0 288.4 881.0 286.4 883.6 285.5C886.2 284.6 888.3 283.5 890.6 283.4C892.9 283.3 895.3 284.9 897.6 284.8C899.9 284.7 901.8 282.6 904.6 282.7C907.4 282.8 910.4 285.4 914.4 285.5C918.4 285.6 924.0 283.3 928.4 283.4C932.8 283.5 936.6 285.6 941.0 285.9C945.4 286.3 950.8 285.8 955.0 285.5C959.2 285.2 962.9 285.0 966.2 284.1C969.5 283.2 971.8 281.5 974.6 279.9C977.4 278.3 980.0 276.3 983.0 274.3C986.0 272.3 989.3 270.2 992.8 268.0C996.3 265.8 1000.3 263.1 1004.0 261.0C1007.7 258.9 1011.5 256.9 1015.2 255.4C1018.9 253.9 1022.7 254.0 1026.4 251.9C1030.1 249.8 1034.3 245.5 1037.6 242.8C1040.9 240.1 1042.7 237.9 1046.0 235.8C1049.3 233.7 1053.0 232.7 1057.2 230.2C1061.4 227.7 1066.5 223.5 1071.2 221.0C1075.9 218.5 1081.0 217.0 1085.2 215.4C1089.4 213.8 1091.7 212.2 1096.4 211.2C1101.1 210.1 1108.5 210.5 1113.2 209.1C1117.9 207.7 1120.7 204.8 1124.4 202.8C1128.1 200.8 1132.3 199.3 1135.6 197.2C1138.9 195.1 1141.2 193.0 1144.0 190.2C1146.8 187.4 1149.1 183.4 1152.4 180.4C1155.7 177.4 1160.3 174.7 1163.6 172.0C1166.9 169.3 1169.7 165.8 1172.0 164.3C1174.3 162.8 1175.3 162.4 1177.6 162.9C1179.9 163.4 1183.4 166.0 1186.0 167.1C1188.6 168.1 1190.8 169.0 1193.0 169.2C1195.2 169.4 1198.2 168.3 1199.3 168.1" stroke="#bfff40"/>
<path d="M1580.9 323.2C1584.4 323.2 1596.0 323.3 1601.8 323.4C1607.6 323.6 1611.1 323.9 1615.7 324.1C1620.4 324.4 1625.0 324.5 1629.7 324.8C1634.3 325.1 1639.0 325.4 1643.6 325.9C1648.2 326.5 1652.9 327.5 1657.5 328.3C1662.2 329.2 1666.8 330.2 1671.5 331.1C1676.1 332.0 1680.8 333.1 1685.4 333.9C1690.0 334.7 1694.7 335.3 1699.3 336.0C1704.0 336.7 1708.6 337.3 1713.3 338.1C1717.9 338.9 1722.6 339.8 1727.2 340.9C1731.8 341.9 1736.5 343.3 1741.1 344.3C1745.8 345.4 1750.4 346.1 1755.1 347.1C1759.7 348.2 1764.4 349.6 1769.0 350.6C1773.6 351.6 1778.3 352.3 1782.9 353.0C1787.6 353.7 1793.0 354.3 1796.9 354.8C1800.7 355.3 1804.4 355.6 1805.9 355.8" stroke="#dfff20"/>
<path d="M645.6 363.3C648.2 362.8 656.1 361.9 661.0 360.5C665.9 359.1 670.3 357.1 675.0 354.9C679.7 352.7 684.3 349.9 689.0 347.2C693.7 344.5 698.3 341.5 703.0 338.8C707.7 336.1 713.0 333.3 717.0 331.1C721.0 328.9 723.3 326.9 726.8 325.5C730.3 324.1 733.8 323.0 738.0 322.7C742.2 322.3 747.3 324.2 752.0 323.4C756.7 322.6 761.3 319.3 766.0 317.8C770.7 316.3 776.3 315.7 780.0 314.3C783.7 312.9 785.8 309.8 788.4 309.3C791.0 308.8 792.6 311.6 795.4 311.4C798.2 311.2 801.9 309.1 805.2 307.9C808.5 306.7 811.7 305.6 815.0 304.4C818.3 303.2 821.3 302.4 824.8 300.9C828.3 299.4 832.5 297.2 836.0 295.3C839.5 293.4 842.5 291.6 845.8 289.7C849.1 287.8 852.3 285.7 855.6 284.1C858.9 282.5 862.1 281.9 865.4 279.9C868.7 277.9 871.9 274.5 875.2 272.2C878.5 269.9 881.7 267.6 885.0 265.9C888.3 264.1 891.3 262.6 894.8 261.7C898.3 260.8 902.5 261.1 906.0 260.7C909.5 260.4 912.3 260.5 915.8 259.6C919.3 258.7 923.3 257.1 927.0 255.4C930.7 253.6 934.7 251.0 938.2 249.1C941.7 247.2 944.5 245.9 948.0 244.2C951.5 242.4 955.7 240.8 959.2 238.6C962.7 236.4 965.7 233.2 969.0 230.9C972.3 228.6 975.5 226.2 978.8 224.6C982.1 223.0 985.3 221.6 988.6 221.1C991.9 220.6 994.9 222.0 998.4 221.8C1001.9 221.6 1005.9 220.3 1009.6 219.7C1013.3 219.1 1017.3 219.2 1020.8 218.3C1024.3 217.4 1027.7 215.4 1030.6 214.1C1033.5 212.8 1037.0 211.2 1038.3 210.6" stroke="#ffff00"/>
<path d="M774.4 334.3C775.3 334.1 777.2 334.1 780.0 333.2C782.8 332.3 787.5 330.3 791.2 328.9C794.9 327.5 798.9 326.6 802.4 324.7C805.9 322.8 808.2 319.7 812.2 317.7C816.2 315.7 821.5 314.0 826.2 312.8C830.9 311.6 836.2 312.1 840.2 310.7C844.2 309.3 846.5 306.8 850.0 304.4C853.5 301.9 857.7 298.8 861.2 296.0C864.7 293.2 867.7 290.2 871.0 287.6C874.3 285.0 877.3 283.0 880.8 280.6C884.3 278.1 888.6 274.9 892.0 272.9C895.4 270.9 899.6 269.4 901.1 268.7" stroke="#ffdf00"/>
<path d="M909.5 264.1C911.2 263.7 916.4 262.8 920.0 261.7C923.6 260.6 927.7 259.1 931.2 257.5C934.7 255.9 937.5 253.4 941.0 251.9C944.5 250.4 948.2 249.7 952.2 248.4C956.2 247.1 960.8 245.5 964.8 244.2C968.8 242.9 972.3 242.3 976.0 240.7C979.7 239.1 983.7 236.5 987.2 234.4C990.7 232.3 993.7 230.7 997.0 228.1C1000.3 225.5 1003.5 221.9 1006.8 219.0C1010.1 216.1 1013.1 212.9 1016.6 210.6C1020.1 208.3 1024.1 206.7 1027.8 205.0C1031.5 203.2 1035.3 201.5 1039.0 200.1C1042.7 198.7 1046.7 197.3 1050.2 196.6C1053.7 195.9 1056.7 195.8 1060.0 195.9C1063.3 196.0 1066.5 197.1 1069.8 196.9C1073.1 196.8 1078.0 195.4 1079.6 195.1" stroke="#ffdf00"/>
<path d="M969.7 274.3C970.7 274.5 973.8 276.0 976.0 275.7C978.2 275.3 980.4 273.5 983.0 272.2C985.6 270.9 988.8 268.9 991.4 268.0C994.0 267.1 995.8 267.8 998.4 266.6C1001.0 265.4 1003.8 263.1 1006.8 261.0C1009.8 258.9 1013.8 256.2 1016.6 254.0C1019.4 251.8 1021.3 249.4 1023.6 247.7C1025.9 245.9 1028.0 244.8 1030.6 243.5C1033.2 242.2 1036.0 241.6 1039.0 240.0C1042.0 238.4 1045.3 235.1 1048.8 233.7C1052.3 232.3 1056.7 232.3 1060.0 231.6C1063.3 230.9 1065.4 230.3 1068.4 229.4C1071.4 228.4 1074.7 226.2 1078.2 225.9C1081.7 225.5 1086.1 227.8 1089.4 227.3C1092.7 226.8 1094.8 225.0 1097.8 223.1C1100.8 221.2 1104.6 217.5 1107.6 216.1C1110.6 214.7 1113.0 215.7 1116.0 214.7C1119.0 213.6 1122.5 211.4 1125.8 209.8C1129.1 208.2 1132.6 206.4 1135.6 204.9C1138.6 203.4 1141.2 201.6 1144.0 200.7C1146.8 199.8 1149.1 199.3 1152.4 199.6C1155.7 199.8 1159.9 201.1 1163.6 202.1C1167.3 203.1 1171.1 204.8 1174.8 205.6C1178.5 206.4 1182.5 206.2 1186.0 207.0C1189.5 207.8 1192.3 209.7 1195.8 210.5C1199.3 211.3 1204.0 211.4 1207.0 211.9C1210.0 212.4 1211.0 212.8 1214.0 213.3C1217.0 213.8 1221.7 213.5 1225.2 214.7C1228.7 215.9 1231.7 218.4 1235.0 220.3C1238.3 222.2 1241.8 224.3 1244.8 225.9C1247.8 227.5 1250.2 228.8 1253.2 229.7C1256.2 230.5 1259.5 231.1 1263.0 231.1C1266.5 231.0 1271.2 230.1 1274.2 229.4C1277.2 228.7 1278.9 227.6 1281.2 226.6C1283.5 225.6 1285.4 223.8 1288.2 223.5C1291.0 223.3 1295.0 224.5 1298.0 225.2C1301.0 225.9 1305.0 227.5 1306.4 228.0" stroke="#ffbf00"/>
<path d="M1400.9 295.9C1401.9 296.8 1404.7 300.1 1407.2 301.5C1409.6 302.9 1413.0 303.1 1415.6 304.3C1418.2 305.5 1420.3 306.6 1422.6 308.5C1424.9 310.4 1427.0 313.6 1429.6 315.5C1432.2 317.4 1435.0 318.2 1438.0 319.7C1441.0 321.2 1444.5 323.1 1447.8 324.6C1451.1 326.1 1454.1 327.4 1457.6 328.8C1461.1 330.2 1465.1 331.9 1468.8 333.0C1472.5 334.0 1476.3 334.6 1480.0 335.1C1483.7 335.6 1487.7 335.6 1491.2 335.8C1494.7 336.0 1497.7 336.2 1501.0 336.1C1504.3 336.0 1507.3 335.7 1510.8 335.1C1514.3 334.5 1517.8 333.1 1522.0 332.3C1526.2 331.5 1531.3 330.8 1536.0 330.2C1540.7 329.6 1543.7 329.2 1550.0 328.5C1556.3 327.8 1567.6 326.7 1573.9 325.9C1580.2 325.1 1583.2 324.3 1587.9 323.7C1592.5 323.1 1597.2 322.7 1601.8 322.3C1606.4 321.9 1611.1 321.6 1615.7 321.4C1620.4 321.1 1625.0 321.0 1629.7 320.9C1634.3 320.8 1639.0 320.6 1643.6 320.7C1648.2 320.7 1652.9 321.0 1657.5 321.4C1662.2 321.7 1666.8 322.3 1671.5 322.7C1676.1 323.2 1681.5 323.8 1685.4 324.1C1689.3 324.5 1693.3 324.7 1694.9 324.8" stroke="#ff9f00"/>
<path d="M908.1 224.3C908.9 223.4 911.2 220.5 913.0 219.0C914.7 217.5 917.0 215.2 918.6 215.1C920.2 215.0 921.4 216.5 922.8 218.3C924.2 220.1 925.6 223.5 927.0 226.0C928.4 228.4 929.3 231.1 931.2 233.0C933.1 234.9 934.9 235.9 938.2 237.2C941.5 238.5 946.8 239.3 950.8 240.7C954.8 242.1 958.5 244.4 962.0 245.6C965.5 246.8 968.3 247.9 971.8 247.7C975.3 247.5 980.2 244.4 983.0 244.2C985.8 244.0 986.5 244.9 988.6 246.3C990.7 247.7 993.5 251.4 995.6 252.6C997.7 253.8 999.3 254.0 1001.2 253.3C1003.1 252.6 1004.9 250.1 1006.8 248.4C1008.7 246.6 1010.5 243.9 1012.4 242.8C1014.3 241.7 1016.1 241.1 1018.0 241.7C1019.9 242.3 1021.7 244.9 1023.6 246.3C1025.5 247.7 1027.1 250.1 1029.2 249.8C1031.3 249.4 1033.4 246.1 1036.2 244.2C1039.0 242.3 1043.0 240.3 1046.0 238.6C1049.0 236.8 1050.2 233.6 1054.4 233.7C1058.6 233.8 1067.0 238.6 1071.2 239.2C1075.4 239.8 1076.6 237.8 1079.6 237.1C1082.6 236.4 1085.9 235.1 1089.4 235.0C1092.9 234.9 1097.1 237.4 1100.6 236.7C1104.1 236.0 1107.8 232.5 1110.4 230.8C1113.0 229.1 1114.1 228.1 1116.0 226.6C1117.9 225.1 1119.3 222.0 1121.6 221.7C1123.9 221.3 1127.2 223.7 1130.0 224.5C1132.8 225.3 1135.8 225.9 1138.4 226.3C1141.0 226.8 1143.3 226.4 1145.4 227.3C1147.5 228.2 1149.1 229.6 1151.0 231.5C1152.9 233.4 1154.7 236.4 1156.6 238.5C1158.5 240.6 1160.6 242.3 1162.2 244.1C1163.8 245.8 1165.7 248.2 1166.4 249.0" stroke="#ff8000"/>
<path d="M549.0 368.2C552.5 367.8 561.8 366.4 570.0 365.7C578.2 365.0 589.8 364.5 598.0 364.0C606.2 363.5 612.0 363.5 619.0 362.9C626.0 362.2 634.2 360.7 640.0 360.1C645.8 359.4 648.2 359.7 654.0 359.1C659.8 358.5 671.5 357.1 675.0 356.7" stroke="#ff6000"/>
<path d="M1366.6 335.1L1368.7 332.3" stroke="#ff6000" stroke-width="1.3"/>
<path d="M1301.5 205.6C1302.8 206.3 1307.0 208.4 1309.2 209.8C1311.4 211.2 1312.9 213.2 1314.8 214.0C1316.7 214.8 1318.5 213.1 1320.4 214.7C1322.3 216.3 1323.7 221.3 1326.0 223.8C1328.3 226.2 1332.1 227.5 1334.4 229.4C1336.7 231.3 1338.1 232.7 1340.0 235.0C1341.9 237.3 1343.7 241.2 1345.6 243.4C1347.5 245.6 1349.1 247.1 1351.2 248.3C1353.3 249.5 1356.1 249.2 1358.2 250.4C1360.3 251.6 1361.7 254.1 1363.8 255.3C1365.9 256.5 1368.5 256.5 1370.8 257.4C1373.1 258.3 1375.2 260.1 1377.8 260.9C1380.4 261.7 1383.2 261.2 1386.2 262.3C1389.2 263.3 1392.7 265.4 1396.0 267.2C1399.3 268.9 1402.8 270.8 1405.8 272.8C1408.8 274.8 1411.4 276.8 1414.2 279.1C1417.0 281.4 1419.8 284.1 1422.6 286.8C1425.4 289.5 1428.2 292.5 1431.0 295.2C1433.8 297.9 1436.4 300.1 1439.4 302.9C1442.4 305.7 1446.2 309.0 1449.2 312.0C1452.2 315.0 1455.0 318.6 1457.6 321.1C1460.2 323.5 1461.8 324.8 1464.6 326.7C1467.4 328.6 1470.9 330.4 1474.4 332.3C1477.9 334.2 1481.9 336.4 1485.6 337.9C1489.3 339.4 1493.1 340.2 1496.8 341.4C1500.5 342.6 1503.8 343.7 1508.0 344.9C1512.2 346.1 1517.3 347.1 1522.0 348.4C1526.7 349.7 1531.3 351.3 1536.0 352.6C1540.7 353.9 1543.7 354.8 1550.0 356.1C1556.3 357.4 1567.6 359.4 1573.9 360.4C1580.2 361.4 1583.2 361.6 1587.9 362.2C1592.5 362.7 1597.4 363.1 1601.8 363.6C1606.2 364.0 1612.3 364.7 1614.3 365.0" stroke="#ff4000"/>
<path d="M1512.2 316.2C1513.8 316.2 1518.5 316.3 1522.0 316.2C1525.5 316.1 1529.5 315.4 1533.2 315.5C1536.9 315.6 1540.4 316.3 1544.4 316.9C1548.4 317.5 1552.1 318.1 1557.0 319.0C1561.9 319.9 1568.8 321.2 1573.9 322.3C1579.1 323.5 1583.2 324.9 1587.9 325.9C1592.5 327.0 1597.2 327.6 1601.8 328.7C1606.4 329.8 1611.1 331.3 1615.7 332.5C1620.4 333.7 1625.5 335.0 1629.7 336.0C1633.8 337.0 1637.1 337.9 1640.8 338.5C1644.5 339.1 1648.2 338.8 1652.0 339.5C1655.7 340.1 1659.2 341.2 1663.1 342.3C1667.1 343.3 1671.5 344.8 1675.6 345.7C1679.8 346.7 1684.2 347.1 1688.2 347.8C1692.1 348.6 1695.6 349.3 1699.3 350.2C1703.0 351.1 1707.0 352.2 1710.5 353.0C1714.0 353.7 1716.3 354.3 1720.2 354.8C1724.2 355.3 1729.5 355.6 1734.2 356.2C1738.8 356.8 1743.5 357.7 1748.1 358.3C1752.7 358.9 1757.4 359.2 1762.0 359.7C1766.7 360.2 1773.6 361.1 1776.0 361.3" stroke="#ff2000"/>
<path d="M215.6 356.0C219.3 355.6 231.1 354.4 237.9 353.6C244.6 352.9 250.4 352.2 256.0 351.6C261.6 350.9 266.4 350.6 271.3 349.9C276.2 349.2 280.6 348.3 285.2 347.4C289.9 346.5 294.1 345.5 299.2 344.6C304.3 343.7 309.9 343.1 315.9 342.1C321.9 341.0 329.8 339.1 335.4 338.3C341.0 337.5 344.7 337.4 349.3 337.3C354.0 337.3 358.6 337.9 363.3 337.9C367.9 337.9 373.5 337.6 377.2 337.3C380.9 337.1 382.5 336.5 385.6 336.5C388.6 336.5 392.1 336.9 395.3 337.3C398.6 337.8 401.5 338.5 405.1 339.0C408.7 339.6 414.9 340.4 416.9 340.7" stroke="#ff0000"/>
<path d="M1787.1 348.2C1788.7 348.5 1793.7 349.5 1796.9 349.6C1800.0 349.8 1804.4 349.3 1805.9 349.2" stroke="#ff0000"/>
<path d="M627.4 371.7C629.5 371.9 635.6 373.1 640.0 373.1C644.4 373.1 649.3 372.4 654.0 371.7C658.7 371.0 663.8 370.1 668.0 368.9C672.2 367.7 675.0 366.9 679.2 364.7C683.4 362.5 688.5 358.9 693.2 355.6C697.9 352.3 702.5 348.4 707.2 345.1C711.9 341.8 716.1 339.4 721.2 336.0C726.3 332.6 733.3 327.2 738.0 324.8C742.7 322.3 745.7 323.0 749.2 321.3C752.7 319.5 755.5 316.7 759.0 314.3C762.5 311.8 766.7 308.7 770.2 306.6C773.7 304.5 777.0 303.3 780.0 301.7C783.0 300.0 786.1 297.4 788.4 296.7C790.7 296.0 791.7 298.4 794.0 297.4C796.3 296.3 799.4 292.5 802.4 290.4C805.4 288.3 808.9 286.8 812.2 284.8C815.5 282.8 818.7 280.9 822.0 278.5C825.3 276.0 828.3 273.1 831.8 270.1C835.3 267.1 839.7 262.7 843.0 260.3C846.3 257.8 848.6 257.3 851.4 255.4C854.2 253.5 856.8 251.1 859.8 249.1C862.8 247.1 866.1 245.7 869.6 243.5C873.1 241.3 877.1 238.2 880.8 235.8C884.5 233.3 890.1 230.0 892.0 228.8" stroke="#df0000"/>
<path d="M215.6 329.0C218.4 329.2 226.5 329.9 232.3 330.4C238.1 330.8 244.4 331.0 250.4 331.8C256.4 332.5 263.3 333.8 268.5 334.8C273.7 335.9 279.6 337.4 281.8 337.9" stroke="#bf0000"/>
<path d="M1698.6 358.0C1700.6 357.8 1706.6 357.0 1710.5 356.6C1714.3 356.2 1717.7 356.0 1721.6 355.5C1725.6 355.0 1730.2 354.4 1734.2 353.8C1738.1 353.2 1741.4 352.7 1745.3 352.0C1749.3 351.4 1753.9 350.4 1757.9 349.9C1761.8 349.4 1765.3 349.1 1769.0 348.8C1772.7 348.5 1776.7 348.1 1780.1 347.8C1783.6 347.5 1785.6 347.3 1789.9 347.1C1794.2 347.0 1803.3 346.9 1805.9 346.8" stroke="#bf0000"/>
<path d="M1162.9 152.1C1164.4 151.7 1169.5 149.6 1172.0 149.6C1174.4 149.6 1175.7 151.0 1177.6 152.4C1179.5 153.8 1181.3 156.5 1183.2 158.0C1185.1 159.5 1186.7 161.3 1188.8 161.5C1190.9 161.7 1193.7 158.9 1195.8 159.1C1197.9 159.4 1199.3 161.5 1201.4 162.9C1203.5 164.3 1206.1 165.6 1208.4 167.8C1210.7 170.0 1213.1 173.4 1215.4 176.2C1217.7 179.0 1220.1 181.8 1222.4 184.6C1224.7 187.4 1227.5 190.0 1229.4 193.0C1231.3 196.0 1232.2 199.8 1233.6 202.8C1235.0 205.8 1235.9 208.9 1237.8 211.2C1239.7 213.5 1242.0 214.9 1244.8 216.8C1247.6 218.7 1251.6 220.2 1254.6 222.4C1257.6 224.6 1260.2 227.9 1263.0 230.1C1265.8 232.3 1268.6 234.1 1271.4 235.7C1274.2 237.3 1277.2 238.4 1279.8 239.9C1282.4 241.4 1284.7 242.6 1286.8 244.8C1288.9 247.0 1290.5 250.9 1292.4 253.2C1294.3 255.5 1295.4 256.9 1298.0 258.8C1300.6 260.7 1304.5 262.3 1307.8 264.4C1311.1 266.5 1314.6 269.5 1317.6 271.4C1320.6 273.3 1323.2 273.7 1326.0 275.6C1328.8 277.5 1330.2 280.6 1334.4 282.6C1338.6 284.6 1346.3 286.3 1351.2 287.5C1356.1 288.7 1359.6 288.7 1363.8 289.6C1368.0 290.5 1372.9 291.8 1376.4 293.1C1379.9 294.4 1381.5 295.5 1384.8 297.3C1388.1 299.0 1392.7 301.3 1396.0 303.6C1399.3 305.9 1401.6 308.7 1404.4 311.3C1407.2 313.9 1410.0 316.3 1412.8 319.0C1415.6 321.7 1418.4 324.8 1421.2 327.4C1424.0 330.0 1426.8 332.1 1429.6 334.4C1432.4 336.7 1435.2 339.4 1438.0 341.4C1440.8 343.4 1443.6 345.0 1446.4 346.3C1449.2 347.6 1451.5 348.3 1454.8 349.1C1458.1 349.9 1462.5 350.4 1466.0 351.2C1469.5 352.0 1472.5 353.1 1475.8 354.0C1479.1 354.9 1482.6 356.1 1485.6 356.8C1488.6 357.5 1491.2 357.7 1494.0 357.9C1496.8 358.1 1499.4 358.2 1502.4 357.9C1505.4 357.7 1508.9 356.9 1512.2 356.5C1515.5 356.1 1519.0 356.0 1522.0 355.7C1525.0 355.4 1529.0 354.9 1530.4 354.7" stroke="#9f0000"/>
<path d="M1210.5 249.7C1211.3 250.3 1213.6 252.1 1215.4 253.2C1217.1 254.2 1219.1 255.9 1221.0 256.0C1222.9 256.1 1223.6 254.0 1226.6 253.9C1229.6 253.8 1235.0 255.2 1239.2 255.3C1243.4 255.4 1247.8 254.8 1251.8 254.6C1255.8 254.4 1260.0 253.2 1263.0 253.9C1266.0 254.6 1267.4 256.9 1270.0 258.8C1272.6 260.7 1275.6 263.5 1278.4 265.1C1281.2 266.7 1283.5 267.1 1286.8 268.6C1290.1 270.1 1294.3 272.3 1298.0 274.2C1301.7 276.1 1305.9 278.5 1309.2 279.8C1312.5 281.1 1314.3 281.5 1317.6 281.9C1320.9 282.2 1325.1 281.8 1328.8 281.9C1332.5 282.0 1335.8 282.6 1340.0 282.6C1344.2 282.6 1349.3 282.6 1354.0 281.9C1358.7 281.2 1363.3 279.7 1368.0 278.4C1372.7 277.1 1377.3 275.5 1382.0 274.2C1386.7 272.9 1391.3 271.6 1396.0 270.7C1400.7 269.8 1406.0 269.1 1410.0 268.9C1414.0 268.6 1416.5 268.8 1419.8 269.3C1423.1 269.8 1426.1 271.2 1429.6 272.1C1433.1 273.0 1437.1 274.1 1440.8 274.9C1444.5 275.7 1448.5 276.1 1452.0 277.0C1455.5 277.9 1458.6 279.3 1461.8 280.5C1464.9 281.7 1469.4 283.4 1470.9 284.0" stroke="#800000"/>
</g>
<clipPath id="c2"><rect x="213" y="387.5" width="1726" height="255"/></clipPath>
<clipPath id="c3"><rect x="213" y="644.5" width="1726" height="255"/></clipPath>
<g fill="none" stroke-width="4.3" stroke-linejoin="round" stroke-linecap="butt" clip-path="url(#c2)">
<path d="M215.0 515.0L215.6 515.5L216.2 516.3L216.8 516.9L217.4 515.2L218.0 517.4L218.6 516.6L219.2 516.6L219.8 518.7L220.4 515.9L221.0 516.7L221.6 515.6L222.2 516.0L222.8 516.4L223.4 515.5L224.0 516.3L224.6 516.1L225.2 516.1L225.8 515.1L226.4 516.0L227.0 515.9L227.6 514.9L228.2 513.0L228.8 514.9L229.4 515.9L230.0 514.5L230.6 513.0L231.2 515.6L231.8 516.1L232.4 516.0L233.0 515.6L233.6 515.2L234.2 515.6L234.8 516.4L235.4 516.6L236.0 515.0L236.6 516.3L237.2 518.3L237.8 516.7L238.4 517.2L239.0 516.0L239.6 514.8L240.2 516.4L240.8 517.7L241.4 516.3L242.0 515.2L242.6 515.2L243.2 515.8L243.8 513.1L244.4 515.3L245.0 515.4L245.6 515.7L246.2 513.0L246.8 517.4L247.4 516.1L248.0 514.0L248.6 517.2L249.2 515.6L249.8 516.2L250.4 516.6L251.0 516.9L251.6 516.1L252.2 513.9L252.8 514.4L253.4 516.4L254.0 514.3L254.6 516.0L255.2 514.6L255.8 514.6L256.4 515.6L257.0 515.1L257.6 517.4L258.2 516.9L258.8 516.5L259.4 515.6L260.0 516.2L260.6 512.9L261.2 515.0L261.8 515.7L262.4 516.3L263.0 514.0L263.6 514.5L264.2 516.7L264.8 517.1L265.4 514.6L266.0 514.0L266.6 517.1L267.2 514.4L267.8 515.3L268.4 515.1L269.0 513.6L269.6 517.5L270.2 514.6L270.8 514.4L271.4 515.2L272.0 516.1L272.6 516.1L273.2 516.0L273.8 517.1L274.4 512.0L275.0 514.0L275.6 514.1L276.2 513.9L276.8 515.3L277.4 514.8L278.0 516.6L278.6 517.4L279.2 516.8L279.8 514.6L280.4 518.4L281.0 515.4L281.6 515.7L282.2 518.2L282.8 518.6L283.4 516.8L284.0 516.1L284.6 516.3L285.2 514.9L285.8 517.5L286.4 513.7L287.0 515.4L287.6 515.9L288.2 515.6L288.8 515.1L289.4 519.2L290.0 514.7L290.6 514.9L291.2 515.7L291.8 514.9L292.4 517.5L293.0 516.8L293.6 514.4L294.2 517.5L294.8 513.7L295.4 516.2L296.0 513.0L296.6 514.2L297.2 514.5L297.8 519.2L298.4 515.6L299.0 517.9L299.6 517.1L300.2 514.7L300.8 515.2L301.4 517.0L302.0 519.7L302.6 513.1L303.2 514.8L303.8 511.7L304.4 513.5L305.0 516.1L305.6 512.2L306.2 514.5L306.8 514.9L307.4 513.8L308.0 514.5L308.6 517.3L309.2 513.8L309.8 516.4L310.4 511.0L311.0 513.3L311.6 515.2L312.2 515.1L312.8 514.7L313.4 515.9L314.0 516.2L314.6 516.1L315.2 514.6L315.8 516.4L316.4 518.2L317.0 517.4L317.6 513.7L318.2 517.0L318.8 517.5L319.4 512.6L320.0 518.5L320.6 518.1L321.2 514.4L321.8 518.9L322.4 516.3L323.0 516.5L323.6 515.8L324.2 516.4L324.8 518.1L325.4 518.8L326.0 511.9L326.6 512.7L327.2 511.2L327.8 512.2L328.4 517.2L329.0 520.0L329.6 515.0" stroke="#00009f"/>
<path d="M402.4 514.4L403.0 511.7L403.6 511.6L404.2 515.3L404.8 517.6L405.4 513.6L406.0 517.4L406.6 514.3L407.2 516.1L407.8 512.2L408.4 515.3L409.0 517.9L409.6 514.9L410.2 515.5L410.8 509.8L411.4 515.9L412.0 516.3L412.6 512.8L413.2 512.1L413.8 513.1L414.4 517.0L415.0 512.0L415.6 512.9L416.2 513.7L416.8 514.8L417.4 511.8L418.0 518.8L418.6 510.2L419.2 513.7L419.8 515.5L420.4 515.7L421.0 520.0L421.6 510.9L422.2 512.4L422.8 513.6L423.4 512.2L424.0 513.5L424.6 513.7L425.2 515.0L425.8 516.4L426.4 513.1L427.0 513.2L427.6 516.5L428.2 518.4L428.8 516.5L429.4 511.8L430.0 515.1L430.6 514.8L431.2 517.2L431.8 513.2L432.4 515.6L433.0 515.3L433.6 517.2L434.2 517.0L434.8 513.0L435.4 514.5L436.0 516.1L436.6 514.5L437.2 516.1L437.8 514.4L438.4 513.7L439.0 517.3L439.6 516.8L440.2 515.5L440.8 514.2L441.4 514.2L442.0 515.7L442.6 516.4L443.2 515.9L443.8 515.5L444.4 515.4L445.0 516.7L445.6 517.7L446.2 515.9L446.8 514.8L447.4 516.9L448.0 515.1L448.6 509.9L449.2 512.7L449.8 515.8L450.4 514.6L451.0 514.7L451.6 515.4L452.2 514.5L452.8 515.2L453.4 517.3L454.0 513.4L454.6 516.0L455.2 517.1L455.8 516.2L456.4 513.6L457.0 518.1L457.6 513.3L458.2 514.7L458.8 516.0L459.4 515.5L460.0 513.8L460.6 515.3L461.2 515.4L461.8 514.8L462.4 516.1L463.0 515.0L463.6 516.1L464.2 514.5L464.8 517.1L465.4 515.4L466.0 515.8L466.6 516.4L467.2 515.8L467.8 515.5L468.4 515.3L469.0 515.2L469.6 515.8L470.2 516.9L470.8 518.4L471.4 518.6L472.0 516.0L472.6 516.4L473.2 517.8L473.8 515.0L474.4 517.5L475.0 517.6L475.6 516.4L476.2 516.5L476.8 514.5L477.4 517.7L478.0 517.7L478.6 515.5L479.2 516.1L479.8 517.7L480.4 516.6L481.0 516.1L481.6 517.0L482.2 515.8L482.8 516.0L483.4 517.4L484.0 515.0L484.6 515.4L485.2 519.4L485.8 515.1L486.4 517.7L487.0 516.5L487.6 516.3L488.2 514.1L488.8 514.8L489.4 518.2L490.0 515.6L490.6 516.7L491.2 517.8L491.8 517.7L492.4 516.6L493.0 517.2L493.6 517.5L494.2 517.9L494.8 516.9L495.4 516.1L496.0 515.1L496.6 514.2L497.2 515.6L497.8 515.1L498.4 517.8L499.0 516.9L499.6 518.0L500.2 517.2L500.8 517.4L501.4 515.6L502.0 515.0L502.6 517.8L503.2 517.6L503.8 515.2L504.4 516.2L505.0 515.3L505.6 516.5L506.2 515.8L506.8 518.8L507.4 515.5L508.0 517.5L508.6 518.2L509.2 519.5L509.8 514.8L510.4 516.5L511.0 518.2L511.6 516.2L512.2 517.8L512.8 518.2L513.4 517.7L514.0 513.9L514.6 516.1L515.2 517.1L515.8 515.8L516.4 515.8L517.0 517.5L517.6 516.1L518.2 515.7L518.8 516.9L519.4 518.6L520.0 513.3L520.6 515.3L521.2 515.1L521.8 517.5L522.4 516.4L523.0 518.4L523.6 515.2L524.2 515.5L524.8 515.3L525.4 514.9L526.0 514.8L526.6 517.1L527.2 514.6L527.8 516.3L528.4 514.3L529.0 515.9L529.6 516.1L530.2 514.4L530.8 516.7L531.4 515.6L532.0 518.4L532.6 514.4L533.2 513.1L533.8 514.4L534.4 514.6L535.0 516.3L535.6 517.7L536.2 516.2L536.8 513.7L537.4 516.8L538.0 517.6L538.6 515.1L539.2 514.5L539.8 517.8L540.4 517.2L541.0 516.4L541.6 517.3L542.2 515.0L542.8 514.1L543.4 517.5L544.0 516.2L544.6 512.8L545.2 516.2L545.8 519.7L546.4 514.9L547.0 517.3L547.6 512.5L548.2 515.8L548.8 512.5L549.4 515.3L550.0 515.7L550.6 513.4L551.2 515.2L551.8 515.9L552.4 514.5L553.0 516.4L553.6 514.4L554.2 514.6L554.8 513.9L555.4 518.0L556.0 519.6L556.6 516.8L557.2 517.8L557.8 518.3L558.4 514.8L559.0 516.4L559.6 518.1L560.2 514.6L560.8 516.4L561.4 515.9L562.0 518.5L562.6 516.0L563.2 518.3L563.8 518.2L564.4 516.4L565.0 514.5L565.6 514.6L566.2 516.2L566.8 516.7L567.4 514.6L568.0 515.5L568.6 516.8L569.2 516.2L569.8 516.0L570.4 516.3L571.0 515.2L571.6 515.0L572.2 517.1L572.8 514.0L573.4 516.0L574.0 512.2L574.6 515.5L575.2 515.0L575.8 516.2L576.4 516.0L577.0 517.0L577.6 515.9L578.2 516.2L578.8 516.9L579.4 514.4L580.0 513.5L580.6 513.7L581.2 515.6L581.8 513.6L582.4 517.2L583.0 514.8L583.6 517.7L584.2 514.7L584.8 515.8L585.4 513.6L586.0 516.8L586.6 513.9L587.2 515.9L587.8 515.9L588.4 516.2L589.0 515.6L589.6 516.7L590.2 516.1L590.8 516.1L591.4 514.4L592.0 516.2L592.6 514.5L593.2 516.8L593.8 514.5L594.4 514.6L595.0 517.3L595.6 513.4L596.2 515.2L596.8 514.1L597.4 514.8L598.0 512.9L598.6 514.1L599.2 516.6L599.8 515.2L600.4 515.0L601.0 515.2L601.6 514.6L602.2 516.6L602.8 516.2L603.4 515.3L604.0 513.9L604.6 516.0L605.2 513.3L605.8 515.1L606.4 515.2L607.0 515.7L607.6 513.2L608.2 515.7L608.8 514.8L609.4 514.0L610.0 514.1L610.6 517.2L611.2 514.1L611.8 517.1L612.4 515.6L613.0 512.3L613.6 517.2L614.2 515.2L614.8 514.2L615.4 514.5L616.0 514.4L616.6 514.7L617.2 514.0L617.8 515.5L618.4 513.7L619.0 513.0L619.6 515.2L620.2 513.4L620.8 515.3L621.4 514.1L622.0 515.8L622.6 515.1L623.2 515.4L623.8 514.8L624.4 515.6L625.0 515.0L625.6 514.3L626.2 511.5L626.8 516.2L627.4 514.3L628.0 514.4L628.6 513.7L629.2 512.8L629.8 516.1L630.4 514.2L631.0 516.6L631.6 515.1L632.2 513.1L632.8 512.4L633.4 513.9L634.0 514.6L634.6 514.3L635.2 510.7L635.8 514.7L636.4 513.0L637.0 511.5L637.6 512.1L638.2 511.4L638.8 511.9L639.4 513.9L640.0 511.4L640.6 513.0L641.2 510.4L641.8 513.5L642.4 510.9L643.0 512.0L643.6 513.5L644.2 512.2L644.8 511.6L645.4 510.6L646.0 513.1L646.6 512.0L647.2 508.9L647.8 510.0L648.4 510.4L649.0 511.9L649.6 509.8L650.2 509.5L650.8 508.5L651.4 509.5L652.0 510.8L652.6 510.8L653.2 510.5L653.8 507.7L654.4 509.8L655.0 510.2L655.6 514.8L656.2 510.7L656.8 510.5L657.4 508.8L658.0 511.3L658.6 509.6L659.2 509.3L659.8 510.8L660.4 511.8L661.0 509.7L661.6 511.8L662.2 510.0L662.8 509.4L663.4 508.7L664.0 510.0L664.6 512.4L665.2 510.3L665.8 509.3L666.4 511.0L667.0 510.2L667.6 509.0L668.2 511.2L668.8 507.9L669.4 510.3L670.0 511.9L670.6 511.7L671.2 511.3L671.8 508.1L672.4 512.5L673.0 509.1L673.6 508.4L674.2 509.3L674.8 508.2L675.4 510.6L676.0 508.0L676.6 509.9L677.2 508.2L677.8 511.2L678.4 508.9L679.0 510.8L679.6 507.2L680.2 515.7L680.8 510.7L681.4 509.3L682.0 509.9L682.6 511.7L683.2 508.5L683.8 508.7L684.4 510.1L685.0 510.5L685.6 510.0L686.2 507.6L686.8 510.7L687.4 509.2L688.0 509.6L688.6 510.5L689.2 508.3L689.8 509.7L690.4 506.0L691.0 511.6L691.6 514.2L692.2 509.8L692.8 509.1L693.4 509.4L694.0 511.2L694.6 510.8L695.2 509.2L695.8 511.3L696.4 511.4L697.0 510.7L697.6 509.4L698.2 507.8L698.8 511.7L699.4 509.5L700.0 511.9L700.6 508.5L701.2 510.6L701.8 511.3L702.4 510.6L703.0 512.9L703.6 511.9L704.2 509.3L704.8 512.2L705.4 513.1L706.0 510.5L706.6 510.0L707.2 511.5L707.8 509.5L708.4 510.1L709.0 511.7L709.6 508.3L710.2 510.8L710.8 513.1L711.4 511.1L712.0 510.0L712.6 512.5L713.2 510.0L713.8 511.1L714.4 511.7L715.0 510.2L715.6 512.3L716.2 509.5L716.8 512.5L717.4 512.9L718.0 509.5L718.6 510.3L719.2 509.3L719.8 510.4L720.4 512.0L721.0 511.7L721.6 511.3L722.2 510.5L722.8 511.0L723.4 512.8L724.0 512.4L724.6 510.3L725.2 506.1L725.8 511.0L726.4 512.4L727.0 505.5L727.6 511.1L728.2 510.8L728.8 510.5L729.4 509.5L730.0 510.9L730.6 510.1L731.2 509.2L731.8 512.1L732.4 511.4L733.0 509.7L733.6 511.7L734.2 510.1L734.8 511.1L735.4 510.1L736.0 508.4L736.6 510.8L737.2 510.0L737.8 509.7L738.4 511.2L739.0 511.2L739.6 510.6L740.2 511.6L740.8 508.3L741.4 509.8L742.0 509.5L742.6 509.2L743.2 512.0L743.8 509.3L744.4 511.3L745.0 508.5L745.6 510.5L746.2 509.5L746.8 513.9L747.4 505.9L748.0 509.6L748.6 510.4L749.2 510.9L749.8 510.0L750.4 512.8L751.0 514.1L751.6 510.4L752.2 510.5L752.8 509.4L753.4 513.0L754.0 512.1L754.6 514.8L755.2 512.0L755.8 509.8L756.4 511.9L757.0 512.6L757.6 512.8L758.2 515.1L758.8 509.4L759.4 512.9L760.0 513.4L760.6 512.5L761.2 510.3L761.8 509.0L762.4 512.2L763.0 511.7L763.6 512.1L764.2 507.6L764.8 513.4L765.4 513.3L766.0 509.6L766.6 506.3L767.2 509.1L767.8 513.3L768.4 510.4L769.0 511.2L769.6 511.7L770.2 510.2L770.8 505.4L771.4 505.0L772.0 507.8L772.6 505.7L773.2 509.0L773.8 507.8L774.4 508.4L775.0 506.0L775.6 503.1L776.2 505.6L776.8 510.4L777.4 501.3L778.0 505.3L778.6 501.3L779.2 508.2L779.8 501.5L780.4 503.2L781.0 506.5L781.6 502.8L782.2 500.7L782.8 506.3L783.4 514.4L1785.8 514.4L1786.4 510.6L1787.0 518.2L1787.6 512.1L1788.2 512.8L1788.8 516.2L1789.4 511.9L1790.0 521.3L1790.6 517.9L1791.2 518.7L1791.8 517.1L1792.4 512.6L1793.0 512.4L1793.6 515.1L1794.2 515.4L1794.8 515.7L1795.4 514.4L1796.0 514.0L1796.6 512.3L1797.2 515.1L1797.8 520.5L1798.4 516.5L1799.0 519.2L1799.6 512.3L1800.2 517.4L1800.8 515.0L1801.4 513.4L1802.0 516.3L1802.6 519.2L1803.2 516.6L1803.8 518.1L1804.4 519.5L1805.0 518.8L1805.6 516.0L1806.2 514.4L1937.5 514.4" stroke="#0000bf"/>
<path d="M270.7 514.9L271.3 521.2L271.9 514.0L272.5 518.6L273.1 514.6L273.7 518.7L274.3 509.6L274.9 513.1L275.5 514.7L276.1 514.2L276.7 511.6L277.3 513.2L277.9 514.9L278.5 516.0L279.1 509.6L279.7 516.9L280.3 514.7L280.9 514.9L281.5 519.6L282.1 515.8L282.7 520.4L283.3 515.0L283.9 513.7L284.5 518.2L285.1 515.9L285.7 518.2L286.3 514.8L286.9 521.3L287.5 513.5L288.1 516.7L288.7 518.0L289.3 512.8L289.9 516.0L290.5 513.2L291.1 516.0L291.7 515.3L292.3 520.2L292.9 515.2L293.5 518.3L294.1 512.9L294.7 519.1L295.3 517.1L295.9 514.0L296.5 516.6L297.1 516.0L297.7 514.3L298.3 517.1L298.9 514.1L299.5 515.1L300.1 515.5L300.7 518.5L301.3 516.7L301.9 516.5L302.5 517.0L303.1 513.3L303.7 515.5L304.3 515.6L304.9 517.5L305.5 513.0L306.1 516.4L306.7 516.9L307.3 516.6L307.9 516.7L308.5 515.9L309.1 515.3L309.7 512.3L310.3 515.2L310.9 517.0L311.5 513.5L312.1 518.2L312.7 516.5L313.3 517.5L313.9 512.9L314.5 516.2L315.1 516.9L315.7 515.6L316.3 517.6L316.9 514.9L317.5 516.8L318.1 515.9L318.7 514.6L319.3 518.5L319.9 517.5L320.5 514.2L321.1 516.9L321.7 516.2L322.3 515.0L322.9 515.8L323.5 517.6L324.1 518.6L324.7 514.0L325.3 519.9L325.9 517.0L326.5 517.3L327.1 515.3L327.7 518.6L328.3 515.9L328.9 517.4L329.5 515.4L330.1 515.2L330.7 517.8L331.3 517.8L331.9 515.2L332.5 518.7L333.1 516.0L333.7 516.5L334.3 515.3L334.9 516.8L335.5 519.4L336.1 515.0L336.7 515.9L337.3 517.3L337.9 516.2L338.5 516.9L339.1 518.4L339.7 517.3L340.3 516.1L340.9 517.7L341.5 516.1L342.1 517.4L342.7 517.5L343.3 517.4L343.9 517.5L344.5 514.1L345.1 517.6L345.7 517.3L346.3 514.5L346.9 514.8L347.5 514.4L348.1 516.8L348.7 517.7L349.3 515.6L349.9 517.3L350.5 517.7L351.1 516.6L351.7 516.4L352.3 518.5L352.9 520.8L353.5 516.8L354.1 516.3L354.7 514.2L355.3 515.0L355.9 518.6L356.5 518.0L357.1 517.0L357.7 516.1L358.3 514.7L358.9 514.8L359.5 516.0L360.1 515.3L360.7 515.8L361.3 517.4L361.9 515.0L362.5 517.7L363.1 515.4L363.7 514.5L364.3 519.1L364.9 516.2L365.5 515.0L366.1 514.5L366.7 515.8L367.3 514.7L367.9 509.7L368.5 517.7L369.1 515.6L369.7 515.6L370.3 515.1L370.9 515.4L371.5 515.6L372.1 515.4L372.7 515.3L373.3 515.5L373.9 516.3L374.5 514.9L375.1 518.7L375.7 513.6L376.3 515.2L376.9 516.7L377.5 515.4L378.1 514.8L378.7 516.4L379.3 516.0L379.9 513.7L380.5 516.2L381.1 515.1L381.7 513.2L382.3 516.7L382.9 517.8L383.5 515.3L384.1 513.5L384.7 514.8L385.3 517.9L385.9 513.0L386.5 516.3L387.1 517.6L387.7 515.0L388.3 515.0L388.9 518.8L389.5 517.1L390.1 516.4L390.7 515.8L391.3 518.7L391.9 515.1L392.5 513.5L393.1 516.5L393.7 517.8L394.3 513.6L394.9 519.7L395.5 512.8L396.1 513.6L396.7 517.5L397.3 516.0L397.9 518.2L398.5 517.6L399.1 515.5L399.7 519.0L400.3 518.2L400.9 519.1L401.5 517.3L402.1 518.5L402.7 514.3L403.3 521.9L403.9 519.0L404.5 518.9L405.1 517.7L405.7 518.5L406.3 514.8L406.9 517.2L407.5 511.7L408.1 511.8L408.7 516.9L409.3 515.6L409.9 514.6L410.5 516.7L411.1 517.5L411.7 516.2L412.3 517.6L412.9 516.0L413.5 512.6L414.1 515.8L414.7 520.9L415.3 521.4L415.9 514.8L416.5 515.6L417.1 514.9L417.7 522.8L418.3 516.9L418.9 518.5L419.5 514.9L1318.4 514.9L1319.0 515.5L1319.6 517.3L1320.2 516.5L1320.8 513.4L1321.4 515.1L1322.0 517.2L1322.6 509.0L1323.2 509.0L1323.8 509.5L1324.4 513.4L1325.0 517.9L1325.6 515.2L1326.2 518.2L1326.8 513.7L1327.4 516.8L1328.0 511.3L1328.6 513.7L1329.2 515.4L1329.8 514.1L1330.4 512.2L1331.0 516.6L1331.6 520.2L1332.2 511.9L1332.8 517.9L1333.4 514.9L1334.0 513.6L1334.6 512.9L1335.2 514.7L1335.8 515.3L1336.4 516.9L1337.0 512.4L1337.6 516.2L1338.2 510.0L1338.8 517.1L1339.4 513.0L1340.0 513.3L1340.6 514.6L1341.2 517.1L1341.8 513.3L1342.4 514.6L1343.0 511.9L1343.6 514.9L1344.2 511.7L1344.8 517.0L1345.4 513.8L1346.0 514.7L1346.6 514.0L1347.2 511.7L1347.8 515.6L1348.4 515.0L1349.0 512.0L1349.6 514.1L1350.2 516.0L1350.8 514.7L1351.4 513.9L1352.0 512.3L1352.6 516.0L1353.2 512.0L1353.8 513.5L1354.4 517.0L1355.0 514.8L1355.6 513.1L1356.2 510.3L1356.8 514.4L1357.4 513.6L1358.0 515.0L1358.6 512.2L1359.2 515.0L1359.8 514.3L1360.4 513.6L1361.0 516.5L1361.6 512.2L1362.2 514.7L1362.8 513.2L1363.4 516.6L1364.0 516.3L1364.6 513.7L1365.2 517.1L1365.8 514.5L1366.4 514.7L1367.0 515.6L1367.6 514.3L1368.2 513.2L1368.8 514.4L1369.4 514.4L1370.0 513.2L1370.6 512.8L1371.2 514.8L1371.8 515.5L1372.4 513.4L1373.0 515.8L1373.6 514.4L1374.2 512.7L1374.8 511.4L1375.4 512.6L1376.0 513.4L1376.6 515.0L1377.2 514.3L1377.8 513.7L1378.4 514.8L1379.0 516.8L1379.6 515.7L1380.2 513.7L1380.8 512.6L1381.4 514.0L1382.0 516.9L1382.6 514.3L1383.2 514.1L1383.8 517.8L1384.4 516.9L1385.0 515.9L1385.6 514.3L1386.2 514.0L1386.8 516.6L1387.4 514.3L1388.0 514.7L1388.6 514.5L1389.2 516.5L1389.8 516.9L1390.4 515.5L1391.0 514.0L1391.6 513.0L1392.2 515.1L1392.8 515.0L1393.4 518.9L1394.0 516.2L1394.6 515.9L1395.2 515.7L1395.8 517.1L1396.4 515.7L1397.0 516.3L1397.6 514.3L1398.2 518.2L1398.8 516.0L1399.4 514.9L1400.0 519.4L1400.6 516.5L1401.2 517.2L1401.8 517.0L1402.4 517.2L1403.0 518.9L1403.6 517.5L1404.2 517.0L1404.8 517.9L1405.4 514.2L1406.0 518.6L1406.6 514.8L1407.2 517.4L1407.8 516.4L1408.4 517.9L1409.0 517.2L1409.6 517.4L1410.2 517.2L1410.8 515.5L1411.4 516.8L1412.0 514.8L1412.6 516.2L1413.2 516.7L1413.8 518.5L1414.4 515.9L1415.0 516.7L1415.6 519.3L1416.2 516.4L1416.8 516.5L1417.4 515.9L1418.0 516.9L1418.6 516.2L1419.2 518.7L1419.8 517.5L1420.4 516.2L1421.0 516.5L1421.6 518.9L1422.2 516.5L1422.8 519.8L1423.4 518.1L1424.0 516.0L1424.6 516.2L1425.2 517.3L1425.8 517.8L1426.4 519.1L1427.0 519.7L1427.6 519.4L1428.2 521.2L1428.8 517.0L1429.4 518.4L1430.0 518.8L1430.6 518.9L1431.2 519.9L1431.8 520.0L1432.4 518.2L1433.0 519.7L1433.6 517.2L1434.2 518.3L1434.8 518.1L1435.4 517.2L1436.0 518.9L1436.6 518.3L1437.2 518.2L1437.8 518.7L1438.4 520.5L1439.0 520.3L1439.6 519.1L1440.2 520.0L1440.8 517.6L1441.4 518.5L1442.0 519.9L1442.6 518.6L1443.2 517.2L1443.8 519.9L1444.4 519.9L1445.0 519.0L1445.6 518.4L1446.2 519.2L1446.8 517.5L1447.4 517.1L1448.0 518.7L1448.6 518.7L1449.2 518.2L1449.8 519.8L1450.4 517.2L1451.0 516.9L1451.6 517.3L1452.2 517.9L1452.8 516.5L1453.4 520.8L1454.0 520.5L1454.6 518.6L1455.2 515.9L1455.8 518.5L1456.4 517.1L1457.0 518.2L1457.6 519.0L1458.2 518.3L1458.8 517.5L1459.4 517.8L1460.0 519.2L1460.6 518.9L1461.2 515.6L1461.8 516.8L1462.4 518.7L1463.0 520.2L1463.6 513.9L1464.2 517.6L1464.8 517.2L1465.4 516.0L1466.0 517.6L1466.6 518.5L1467.2 515.6L1467.8 516.1L1468.4 516.9L1469.0 516.3L1469.6 519.7L1470.2 518.5L1470.8 518.0L1471.4 516.5L1472.0 516.8L1472.6 515.1L1473.2 513.9L1473.8 516.6L1474.4 518.1L1475.0 518.7L1475.6 513.0L1476.2 518.4L1476.8 513.8L1477.4 516.7L1478.0 517.0L1478.6 519.1L1479.2 514.7L1479.8 513.5L1480.4 514.5L1481.0 516.4L1481.6 517.5L1482.2 513.9L1482.8 517.5L1483.4 517.0L1484.0 515.2L1484.6 520.7L1485.2 517.1L1485.8 520.4L1486.4 516.2L1487.0 516.0L1487.6 516.0L1488.2 514.1L1488.8 515.9L1489.4 515.1L1490.0 518.3L1490.6 514.6L1491.2 518.5L1491.8 516.4L1492.4 516.5L1493.0 515.0L1493.6 515.7L1494.2 512.9L1494.8 513.0L1495.4 512.6L1496.0 519.7L1496.6 516.7L1497.2 518.0L1497.8 514.7L1498.4 514.5L1499.0 521.2L1499.6 512.4L1500.2 518.4L1500.8 513.7L1501.4 514.9L1502.0 512.9L1502.6 516.2L1503.2 516.4L1503.8 518.4L1504.4 512.9L1505.0 513.2L1505.6 516.1L1506.2 518.8L1506.8 516.2L1507.4 511.1L1508.0 521.0L1508.6 513.5L1509.2 517.5L1509.8 513.6L1510.4 518.0L1511.0 520.1L1511.6 512.9L1512.2 517.1L1512.8 515.6L1513.4 514.9" stroke="#0000df"/>
<path d="M215.0 514.8L215.6 516.8L216.2 517.9L216.8 515.5L217.4 517.0L218.0 516.8L218.6 519.0L219.2 518.7L219.8 516.3L220.4 514.4L221.0 513.6L221.6 515.5L222.2 515.5L222.8 514.0L223.4 516.5L224.0 514.8L224.6 517.2L225.2 515.2L225.8 518.5L226.4 516.3L227.0 517.8L227.6 521.8L228.2 515.4L228.8 513.9L229.4 517.0L230.0 514.6L230.6 514.2L231.2 518.6L231.8 515.6L232.4 515.0L233.0 518.2L233.6 515.7L234.2 510.7L234.8 517.2L235.4 513.8L236.0 514.9L236.6 515.0L237.2 514.3L237.8 517.8L238.4 515.2L239.0 518.0L239.6 512.0L240.2 515.3L240.8 517.1L241.4 515.8L242.0 516.8L242.6 521.5L243.2 515.5L243.8 521.5L244.4 513.3L245.0 517.4L245.6 513.6L246.2 515.1L246.8 512.6L247.4 513.2L248.0 514.0L248.6 517.1L249.2 515.4L249.8 512.6L250.4 519.8L251.0 517.4L251.6 514.4L252.2 514.8L1181.2 514.8L1181.8 515.1L1182.4 521.0L1183.0 518.9L1183.6 514.5L1184.2 518.3L1184.8 518.6L1185.4 516.7L1186.0 513.4L1186.6 521.5L1187.2 514.2L1187.8 516.7L1188.4 515.8L1189.0 514.4L1189.6 516.2L1190.2 517.6L1190.8 522.2L1191.4 518.9L1192.0 517.4L1192.6 516.7L1193.2 513.6L1193.8 520.2L1194.4 516.0L1195.0 515.4L1195.6 511.5L1196.2 516.3L1196.8 516.0L1197.4 515.3L1198.0 515.3L1198.6 516.2L1199.2 513.4L1199.8 515.5L1200.4 515.4L1201.0 514.6L1201.6 514.1L1202.2 515.5L1202.8 516.1L1203.4 515.5L1204.0 515.3L1204.6 516.8L1205.2 515.8L1205.8 519.0L1206.4 513.8L1207.0 518.9L1207.6 517.3L1208.2 514.6L1208.8 516.1L1209.4 514.6L1210.0 519.0L1210.6 516.2L1211.2 517.0L1211.8 520.5L1212.4 516.5L1213.0 519.8L1213.6 517.0L1214.2 520.0L1214.8 518.7L1215.4 520.1L1216.0 517.6L1216.6 518.0L1217.2 516.5L1217.8 518.6L1218.4 519.1L1219.0 517.1L1219.6 516.3L1220.2 515.7L1220.8 515.3L1221.4 520.6L1222.0 520.0L1222.6 520.0L1223.2 517.2L1223.8 513.8L1224.4 514.2L1225.0 512.3L1225.6 517.7L1226.2 510.8L1226.8 522.2L1227.4 514.5L1228.0 521.7L1228.6 518.8L1229.2 517.0L1229.8 514.8L1741.9 514.8L1742.5 515.4L1743.1 520.4L1743.7 516.5L1744.3 514.3L1744.9 514.8L1745.5 508.8L1746.1 510.1L1746.7 514.7L1747.3 515.2L1747.9 516.9L1748.5 515.2L1749.1 514.6L1749.7 513.6L1750.3 515.7L1750.9 516.4L1751.5 514.1L1752.1 513.6L1752.7 514.5L1753.3 510.8L1753.9 512.7L1754.5 514.0L1755.1 516.0L1755.7 512.3L1756.3 518.5L1756.9 519.2L1757.5 514.7L1758.1 513.1L1758.7 519.2L1759.3 518.7L1759.9 516.8L1760.5 512.3L1761.1 515.0L1761.7 515.4L1762.3 514.2L1762.9 512.3L1763.5 513.5L1764.1 515.6L1764.7 514.1L1765.3 519.2L1765.9 515.3L1766.5 513.1L1767.1 518.1L1767.7 517.0L1768.3 514.7L1768.9 517.1L1769.5 513.5L1770.1 517.0L1770.7 513.5L1771.3 514.5L1771.9 517.2L1772.5 516.3L1773.1 511.0L1773.7 517.1L1774.3 517.2L1774.9 517.1L1775.5 517.2L1776.1 517.9L1776.7 517.7L1777.3 516.5L1777.9 514.6L1778.5 517.1L1779.1 512.6L1779.7 517.2L1780.3 515.0L1780.9 514.3L1781.5 513.9L1782.1 515.2L1782.7 516.6L1783.3 517.1L1783.9 514.7L1784.5 514.1L1785.1 514.4L1785.7 518.6L1786.3 514.8L1786.9 517.3L1787.5 510.3L1788.1 515.7L1788.7 515.0L1789.3 517.5L1789.9 513.9L1790.5 513.9L1791.1 513.2L1791.7 517.2L1792.3 516.3L1792.9 516.0L1793.5 515.1L1794.1 515.4L1794.7 515.6L1795.3 514.7L1795.9 518.1L1796.5 514.6L1797.1 517.0L1797.7 515.8L1798.3 516.8L1798.9 513.9L1799.5 512.2L1800.1 515.4L1800.7 513.9L1801.3 517.1L1801.9 516.0L1802.5 515.2L1803.1 515.2L1803.7 515.6L1804.3 514.4L1804.9 515.2L1805.5 515.0L1806.1 514.8L1937.5 514.8" stroke="#0000ff"/>
<path d="M513.4 514.7L514.0 511.8L514.6 517.8L515.2 516.8L515.8 517.9L516.4 512.9L517.0 520.0L517.6 509.9L518.2 513.5L518.8 514.6L519.4 512.5L520.0 512.3L520.6 517.4L521.2 512.5L521.8 518.3L522.4 511.4L523.0 516.4L523.6 517.1L524.2 516.4L524.8 520.9L525.4 520.9L526.0 516.3L526.6 516.1L527.2 512.9L527.8 510.1L528.4 515.7L529.0 515.8L529.6 513.8L530.2 514.6L530.8 516.2L531.4 514.6L532.0 515.4L532.6 513.0L533.2 514.4L533.8 515.0L534.4 513.2L535.0 515.6L535.6 514.1L536.2 512.4L536.8 516.9L537.4 513.2L538.0 512.7L538.6 518.0L539.2 514.9L539.8 515.4L540.4 516.4L541.0 517.0L541.6 517.3L542.2 517.4L542.8 514.1L543.4 516.2L544.0 515.8L544.6 518.2L545.2 513.1L545.8 515.4L546.4 513.6L547.0 516.7L547.6 516.9L548.2 512.0L548.8 515.5L549.4 513.0L550.0 515.5L550.6 512.9L551.2 516.8L551.8 514.2L552.4 516.2L553.0 517.7L553.6 516.7L554.2 515.7L554.8 516.2L555.4 513.8L556.0 516.9L556.6 516.8L557.2 513.5L557.8 513.9L558.4 513.4L559.0 515.4L559.6 517.8L560.2 516.5L560.8 516.3L561.4 515.0L562.0 516.8L562.6 513.0L563.2 514.1L563.8 516.1L564.4 516.6L565.0 513.8L565.6 514.6L566.2 515.9L566.8 518.2L567.4 516.5L568.0 513.9L568.6 515.4L569.2 515.1L569.8 519.1L570.4 514.2L571.0 513.5L571.6 516.2L572.2 515.6L572.8 516.3L573.4 517.4L574.0 513.9L574.6 515.5L575.2 515.6L575.8 513.1L576.4 514.9L577.0 515.4L577.6 516.0L578.2 515.4L578.8 518.3L579.4 515.5L580.0 514.0L580.6 518.4L581.2 517.9L581.8 516.4L582.4 519.7L583.0 514.2L583.6 517.6L584.2 516.1L584.8 516.2L585.4 513.4L586.0 514.3L586.6 515.1L587.2 516.2L587.8 514.6L588.4 516.6L589.0 516.4L589.6 518.6L590.2 516.3L590.8 516.8L591.4 514.9L592.0 518.2L592.6 516.2L593.2 515.5L593.8 515.5L594.4 515.5L595.0 514.1L595.6 517.1L596.2 516.2L596.8 514.2L597.4 516.4L598.0 517.5L598.6 513.6L599.2 513.2L599.8 515.9L600.4 514.5L601.0 519.5L601.6 515.9L602.2 515.1L602.8 517.1L603.4 515.3L604.0 513.5L604.6 516.2L605.2 517.0L605.8 516.8L606.4 517.2L607.0 517.0L607.6 516.1L608.2 517.5L608.8 514.8L609.4 515.5L610.0 519.6L610.6 515.9L611.2 516.3L611.8 516.5L612.4 517.9L613.0 516.4L613.6 516.0L614.2 514.6L614.8 516.0L615.4 516.4L616.0 516.9L616.6 516.8L617.2 515.4L617.8 515.4L618.4 517.6L619.0 514.8L619.6 510.8L620.2 516.7L620.8 515.4L621.4 516.1L622.0 514.4L622.6 516.0L623.2 515.5L623.8 518.3L624.4 509.7L625.0 515.8L625.6 516.7L626.2 516.1L626.8 516.6L627.4 518.3L628.0 513.6L628.6 515.3L629.2 515.1L629.8 517.0L630.4 513.0L631.0 516.7L631.6 516.1L632.2 517.3L632.8 515.4L633.4 514.1L634.0 515.3L634.6 516.7L635.2 515.1L635.8 517.0L636.4 514.5L637.0 513.9L637.6 517.4L638.2 514.4L638.8 514.3L639.4 515.6L640.0 515.9L640.6 513.2L641.2 516.9L641.8 512.8L642.4 515.6L643.0 513.5L643.6 514.4L644.2 516.2L644.8 513.1L645.4 515.3L646.0 515.1L646.6 515.9L647.2 513.1L647.8 513.7L648.4 513.6L649.0 511.8L649.6 515.6L650.2 514.5L650.8 514.0L651.4 515.5L652.0 512.3L652.6 512.3L653.2 514.1L653.8 513.0L654.4 512.3L655.0 514.3L655.6 512.8L656.2 515.9L656.8 511.9L657.4 513.1L658.0 513.1L658.6 512.6L659.2 509.8L659.8 512.7L660.4 512.6L661.0 512.5L661.6 511.4L662.2 512.4L662.8 510.5L663.4 513.4L664.0 516.0L664.6 514.0L665.2 512.7L665.8 512.5L666.4 513.3L667.0 513.8L667.6 512.1L668.2 511.3L668.8 515.5L669.4 512.6L670.0 512.9L670.6 512.3L671.2 513.2L671.8 513.4L672.4 514.3L673.0 514.8L673.6 511.3L674.2 512.2L674.8 512.1L675.4 510.3L676.0 512.3L676.6 510.9L677.2 510.7L677.8 511.9L678.4 508.4L679.0 515.5L679.6 511.6L680.2 513.3L680.8 514.4L681.4 512.8L682.0 511.6L682.6 511.6L683.2 510.5L683.8 513.6L684.4 510.9L685.0 511.8L685.6 511.6L686.2 513.6L686.8 513.8L687.4 512.4L688.0 509.9L688.6 510.8L689.2 510.6L689.8 509.6L690.4 509.9L691.0 510.9L691.6 511.7L692.2 511.1L692.8 509.5L693.4 509.5L694.0 511.8L694.6 511.3L695.2 510.2L695.8 510.7L696.4 510.3L697.0 512.6L697.6 508.5L698.2 511.1L698.8 512.3L699.4 510.4L700.0 510.6L700.6 509.8L701.2 512.8L701.8 510.8L702.4 510.2L703.0 509.9L703.6 510.6L704.2 511.5L704.8 509.4L705.4 511.2L706.0 510.9L706.6 511.7L707.2 510.0L707.8 510.1L708.4 508.3L709.0 512.4L709.6 512.9L710.2 512.2L710.8 510.2L711.4 512.5L712.0 511.6L712.6 512.9L713.2 513.7L713.8 513.2L714.4 512.8L715.0 513.4L715.6 512.6L716.2 510.4L716.8 515.0L717.4 514.1L718.0 510.2L718.6 515.1L719.2 512.1L719.8 513.2L720.4 512.3L721.0 515.2L721.6 512.8L722.2 513.1L722.8 512.8L723.4 516.1L724.0 513.3L724.6 514.1L725.2 511.4L725.8 512.9L726.4 516.0L727.0 513.7L727.6 513.6L728.2 514.0L728.8 513.5L729.4 512.8L730.0 513.4L730.6 514.2L731.2 510.5L731.8 513.5L732.4 515.2L733.0 514.2L733.6 514.4L734.2 514.0L734.8 516.1L735.4 514.6L736.0 513.7L736.6 512.8L737.2 510.7L737.8 511.7L738.4 515.6L739.0 512.1L739.6 511.5L740.2 518.4L740.8 512.9L741.4 516.0L742.0 513.0L742.6 513.7L743.2 515.0L743.8 511.8L744.4 512.5L745.0 512.0L745.6 513.1L746.2 514.2L746.8 511.0L747.4 515.0L748.0 513.3L748.6 512.3L749.2 512.1L749.8 514.3L750.4 513.5L751.0 512.7L751.6 511.7L752.2 511.9L752.8 510.4L753.4 511.7L754.0 511.0L754.6 512.4L755.2 513.7L755.8 510.4L756.4 510.8L757.0 511.4L757.6 510.8L758.2 511.7L758.8 512.0L759.4 512.1L760.0 513.2L760.6 513.8L761.2 513.6L761.8 513.7L762.4 512.3L763.0 512.6L763.6 513.7L764.2 512.1L764.8 512.0L765.4 509.3L766.0 510.1L766.6 512.1L767.2 510.2L767.8 513.4L768.4 513.3L769.0 512.3L769.6 510.9L770.2 511.1L770.8 510.8L771.4 510.9L772.0 511.5L772.6 512.1L773.2 513.9L773.8 513.1L774.4 511.7L775.0 511.0L775.6 513.2L776.2 513.0L776.8 511.9L777.4 511.0L778.0 511.5L778.6 512.7L779.2 512.5L779.8 512.2L780.4 511.2L781.0 513.1L781.6 515.4L782.2 512.7L782.8 514.5L783.4 511.8L784.0 509.6L784.6 513.2L785.2 512.9L785.8 510.8L786.4 512.9L787.0 513.1L787.6 514.8L788.2 512.3L788.8 514.0L789.4 512.3L790.0 513.3L790.6 512.2L791.2 514.4L791.8 512.7L792.4 511.6L793.0 515.4L793.6 513.8L794.2 512.2L794.8 512.8L795.4 512.7L796.0 514.6L796.6 513.0L797.2 508.1L797.8 508.8L798.4 509.4L799.0 510.9L799.6 513.4L800.2 511.6L800.8 512.3L801.4 510.4L802.0 513.2L802.6 510.5L803.2 511.0L803.8 507.7L804.4 512.9L805.0 508.4L805.6 513.0L806.2 509.9L806.8 514.0L807.4 511.8L808.0 510.9L808.6 513.9L809.2 511.8L809.8 511.7L810.4 511.7L811.0 508.3L811.6 512.2L812.2 510.4L812.8 511.8L813.4 512.4L814.0 513.1L814.6 512.1L815.2 512.6L815.8 511.4L816.4 511.1L817.0 511.2L817.6 514.1L818.2 508.2L818.8 508.9L819.4 509.3L820.0 509.4L820.6 510.6L821.2 513.5L821.8 510.1L822.4 510.6L823.0 510.3L823.6 513.8L824.2 509.9L824.8 508.5L825.4 510.1L826.0 508.9L826.6 509.7L827.2 510.3L827.8 509.2L828.4 511.0L829.0 511.4L829.6 512.1L830.2 512.9L830.8 511.6L831.4 513.3L832.0 512.1L832.6 507.1L833.2 511.1L833.8 510.2L834.4 513.4L835.0 510.3L835.6 509.0L836.2 511.3L836.8 511.1L837.4 505.5L838.0 513.5L838.6 512.7L839.2 512.8L839.8 509.2L840.4 513.6L841.0 509.8L841.6 513.1L842.2 515.3L842.8 511.0L843.4 509.8L844.0 511.2L844.6 514.1L845.2 509.7L845.8 510.3L846.4 508.4L847.0 515.1L847.6 510.2L848.2 510.6L848.8 514.6L849.4 508.7L850.0 511.7L850.6 510.1L851.2 512.3L851.8 510.5L852.4 509.9L853.0 512.0L853.6 512.7L854.2 511.6L854.8 510.3L855.4 508.8L856.0 510.8L856.6 508.8L857.2 507.6L857.8 508.1L858.4 510.1L859.0 510.7L859.6 505.8L860.2 506.8L860.8 506.8L861.4 511.8L862.0 507.6L862.6 502.7L863.2 508.9L863.8 507.3L864.4 506.4L865.0 507.2L865.6 510.8L866.2 509.3L866.8 514.7" stroke="#0020ff"/>
<path d="M287.4 514.2L288.0 510.2L288.6 516.7L289.2 520.9L289.8 516.1L290.4 509.9L291.0 512.9L291.6 510.7L292.2 516.0L292.8 510.7L293.4 514.3L294.0 512.3L294.6 513.4L295.2 517.1L295.8 513.6L296.4 518.4L297.0 513.3L297.6 521.0L298.2 513.6L298.8 510.5L299.4 515.1L300.0 512.7L300.6 515.0L301.2 511.0L301.8 512.7L302.4 512.4L303.0 513.7L303.6 511.7L304.2 511.0L304.8 516.7L305.4 513.9L306.0 514.5L306.6 512.7L307.2 517.0L307.8 512.3L308.4 512.4L309.0 513.6L309.6 513.0L310.2 514.4L310.8 513.5L311.4 513.4L312.0 512.7L312.6 510.5L313.2 514.4L313.8 515.1L314.4 515.4L315.0 514.7L315.6 514.5L316.2 512.6L316.8 514.5L317.4 515.5L318.0 514.5L318.6 512.9L319.2 513.9L319.8 516.2L320.4 514.0L321.0 515.3L321.6 512.6L322.2 512.4L322.8 513.2L323.4 515.8L324.0 513.2L324.6 511.0L325.2 513.5L325.8 516.4L326.4 515.2L327.0 513.7L327.6 513.9L328.2 512.9L328.8 512.8L329.4 515.3L330.0 513.2L330.6 513.7L331.2 516.2L331.8 514.2L332.4 514.6L333.0 514.9L333.6 516.8L334.2 514.9L334.8 516.1L335.4 513.7L336.0 515.4L336.6 514.3L337.2 514.5L337.8 514.2L338.4 513.9L339.0 516.0L339.6 514.1L340.2 514.3L340.8 514.9L341.4 515.0L342.0 515.3L342.6 516.3L343.2 514.5L343.8 514.3L344.4 514.4L345.0 516.1L345.6 513.8L346.2 518.7L346.8 513.3L347.4 515.4L348.0 516.5L348.6 514.6L349.2 514.6L349.8 514.8L350.4 516.1L351.0 517.5L351.6 517.8L352.2 512.8L352.8 516.1L353.4 514.3L354.0 514.9L354.6 514.7L355.2 513.3L355.8 517.2L356.4 512.7L357.0 515.1L357.6 516.2L358.2 516.8L358.8 515.7L359.4 514.6L360.0 517.2L360.6 514.8L361.2 514.0L361.8 512.9L362.4 516.5L363.0 516.1L363.6 516.9L364.2 516.4L364.8 516.7L365.4 516.7L366.0 516.3L366.6 515.4L367.2 517.0L367.8 515.2L368.4 513.5L369.0 514.9L369.6 515.4L370.2 517.2L370.8 515.0L371.4 517.9L372.0 514.3L372.6 515.5L373.2 513.7L373.8 514.8L374.4 513.6L375.0 516.0L375.6 516.6L376.2 515.2L376.8 517.4L377.4 515.3L378.0 517.1L378.6 514.2L379.2 516.7L379.8 514.8L380.4 516.1L381.0 516.4L381.6 515.8L382.2 517.9L382.8 516.9L383.4 518.1L384.0 516.2L384.6 515.6L385.2 511.6L385.8 516.3L386.4 513.2L387.0 518.0L387.6 513.3L388.2 516.1L388.8 513.6L389.4 514.9L390.0 516.9L390.6 515.1L391.2 513.9L391.8 515.9L392.4 515.8L393.0 514.4L393.6 517.7L394.2 513.0L394.8 517.1L395.4 515.3L396.0 514.2L396.6 516.3L397.2 516.9L397.8 515.5L398.4 515.3L399.0 518.8L399.6 513.5L400.2 515.0L400.8 515.1L401.4 515.2L402.0 516.9L402.6 516.7L403.2 516.4L403.8 517.6L404.4 515.4L405.0 516.9L405.6 516.2L406.2 517.7L406.8 517.5L407.4 515.5L408.0 514.3L408.6 516.4L409.2 516.8L409.8 516.2L410.4 515.3L411.0 514.9L411.6 515.3L412.2 515.9L412.8 514.8L413.4 515.3L414.0 516.4L414.6 517.2L415.2 514.1L415.8 514.4L416.4 514.5L417.0 515.2L417.6 517.0L418.2 516.8L418.8 515.9L419.4 513.7L420.0 515.0L420.6 515.2L421.2 515.6L421.8 515.2L422.4 515.1L423.0 513.6L423.6 515.8L424.2 516.5L424.8 515.5L425.4 515.4L426.0 515.9L426.6 513.6L427.2 518.0L427.8 514.4L428.4 516.2L429.0 516.5L429.6 515.5L430.2 516.0L430.8 517.0L431.4 515.5L432.0 515.3L432.6 514.6L433.2 515.9L433.8 515.0L434.4 513.5L435.0 515.1L435.6 515.2L436.2 513.3L436.8 515.0L437.4 513.6L438.0 514.5L438.6 516.7L439.2 515.5L439.8 514.8L440.4 515.1L441.0 513.6L441.6 516.1L442.2 513.6L442.8 516.8L443.4 518.4L444.0 514.4L444.6 518.0L445.2 516.9L445.8 515.0L446.4 513.3L447.0 515.8L447.6 515.5L448.2 515.0L448.8 515.5L449.4 511.9L450.0 517.3L450.6 515.3L451.2 515.9L451.8 516.0L452.4 515.5L453.0 514.2L453.6 516.8L454.2 517.0L454.8 516.9L455.4 514.9L456.0 515.8L456.6 516.6L457.2 515.5L457.8 515.3L458.4 515.9L459.0 516.4L459.6 515.4L460.2 517.0L460.8 517.4L461.4 517.1L462.0 516.1L462.6 517.6L463.2 516.3L463.8 516.7L464.4 516.5L465.0 516.6L465.6 517.7L466.2 517.3L466.8 517.6L467.4 518.8L468.0 519.0L468.6 515.5L469.2 516.2L469.8 518.2L470.4 516.4L471.0 514.4L471.6 517.4L472.2 517.0L472.8 518.5L473.4 515.0L474.0 515.1L474.6 515.0L475.2 515.2L475.8 515.2L476.4 518.8L477.0 516.8L477.6 515.1L478.2 518.0L478.8 516.1L479.4 518.1L480.0 516.4L480.6 515.4L481.2 516.1L481.8 515.0L482.4 515.4L483.0 516.1L483.6 514.7L484.2 516.6L484.8 515.2L485.4 515.2L486.0 515.1L486.6 515.9L487.2 514.5L487.8 516.0L488.4 513.4L489.0 515.6L489.6 511.2L490.2 513.7L490.8 515.2L491.4 516.5L492.0 515.2L492.6 513.9L493.2 512.4L493.8 513.8L494.4 517.6L495.0 516.3L495.6 514.5L496.2 517.8L496.8 516.6L497.4 514.2L498.0 516.0L498.6 517.6L499.2 514.1L499.8 517.3L500.4 517.6L501.0 516.3L501.6 515.3L502.2 516.2L502.8 517.0L503.4 514.2L504.0 516.0L504.6 515.4L505.2 514.4L505.8 517.7L506.4 515.0L507.0 516.0L507.6 514.3L508.2 514.0L508.8 515.6L509.4 514.4L510.0 517.7L510.6 516.4L511.2 516.6L511.8 516.5L512.4 516.6L513.0 514.2L513.6 515.2L514.2 515.6L514.8 515.6L515.4 514.2L516.0 517.0L516.6 516.4L517.2 515.7L517.8 515.2L518.4 512.5L519.0 517.7L519.6 515.5L520.2 515.4L520.8 516.1L521.4 514.8L522.0 515.2L522.6 514.8L523.2 515.1L523.8 517.6L524.4 514.0L525.0 515.0L525.6 515.9L526.2 514.8L526.8 514.5L527.4 515.1L528.0 517.2L528.6 518.1L529.2 516.7L529.8 517.0L530.4 515.2L531.0 515.6L531.6 514.4L532.2 514.9L532.8 516.3L533.4 514.6L534.0 516.9L534.6 516.8L535.2 513.0L535.8 516.3L536.4 516.1L537.0 515.6L537.6 514.5L538.2 515.2L538.8 515.5L539.4 514.8L540.0 516.3L540.6 516.4L541.2 517.1L541.8 516.2L542.4 515.5L543.0 515.5L543.6 514.9L544.2 515.9L544.8 515.9L545.4 512.9L546.0 515.3L546.6 516.8L547.2 517.4L547.8 515.5L548.4 514.2L549.0 516.7L549.6 516.4L550.2 517.4L550.8 516.2L551.4 515.9L552.0 515.8L552.6 516.7L553.2 516.8L553.8 515.8L554.4 518.2L555.0 515.8L555.6 514.1L556.2 513.5L556.8 514.6L557.4 517.5L558.0 518.1L558.6 515.9L559.2 515.2L559.8 519.7L560.4 514.0L561.0 515.5L561.6 515.1L562.2 514.1L562.8 518.1L563.4 515.2L564.0 515.8L564.6 513.0L565.2 516.2L565.8 514.7L566.4 514.3L567.0 512.5L567.6 514.6L568.2 515.3L568.8 512.4L569.4 517.9L570.0 517.8L570.6 514.7L571.2 514.1L571.8 515.4L572.4 515.4L573.0 515.2L573.6 514.3L574.2 516.9L574.8 516.0L575.4 516.3L576.0 515.9L576.6 515.4L577.2 513.9L577.8 514.8L578.4 515.9L579.0 514.8L579.6 516.4L580.2 518.9L580.8 514.3L581.4 514.6L582.0 514.0L582.6 514.6L583.2 515.3L583.8 513.9L584.4 515.0L585.0 513.4L585.6 515.5L586.2 513.7L586.8 514.6L587.4 514.0L588.0 518.0L588.6 515.6L589.2 517.4L589.8 514.5L590.4 513.5L591.0 513.2L591.6 513.2L592.2 514.7L592.8 514.1L593.4 514.9L594.0 519.6L594.6 513.6L595.2 513.4L595.8 515.1L596.4 514.2L597.0 512.4L597.6 515.6L598.2 513.5L598.8 516.2L599.4 511.6L600.0 515.5L600.6 512.9L601.2 517.0L601.8 516.6L602.4 514.4L603.0 515.0L603.6 513.3L604.2 514.5L604.8 513.5L605.4 515.4L606.0 515.5L606.6 515.0L607.2 513.3L607.8 514.0L608.4 514.4L609.0 509.5L609.6 510.4L610.2 512.9L610.8 516.2L611.4 513.5L612.0 511.5L612.6 509.4L613.2 512.6L613.8 513.4L614.4 509.7L615.0 512.9L615.6 514.4L616.2 513.5L616.8 514.9L617.4 515.0L618.0 513.7L618.6 513.4L619.2 512.3L619.8 512.3L620.4 509.8L621.0 514.1L621.6 513.0L622.2 510.9L622.8 511.9L623.4 514.1L624.0 515.5L624.6 513.2L625.2 512.0L625.8 510.9L626.4 508.1L627.0 514.0L627.6 513.5L628.2 510.9L628.8 511.8L629.4 512.1L630.0 514.4L630.6 514.7L631.2 509.8L631.8 510.9L632.4 511.9L633.0 512.4L633.6 512.3L634.2 512.2L634.8 511.6L635.4 507.7L636.0 510.5L636.6 510.1L637.2 511.2L637.8 510.7L638.4 511.6L639.0 511.9L639.6 512.6L640.2 508.2L640.8 510.9L641.4 509.7L642.0 506.6L642.6 508.3L643.2 509.0L643.8 510.7L644.4 509.2L645.0 512.4L645.6 509.1L646.2 511.8L646.8 511.2L647.4 512.0L648.0 509.4L648.6 511.8L649.2 509.5L649.8 509.5L650.4 509.0L651.0 509.8L651.6 509.0L652.2 509.9L652.8 507.8L653.4 510.6L654.0 509.5L654.6 510.2L655.2 505.1L655.8 513.0L656.4 507.9L657.0 506.2L657.6 510.8L658.2 509.5L658.8 507.2L659.4 508.9L660.0 514.2L1599.8 514.2L1600.4 515.6L1601.0 508.9L1601.6 518.9L1602.2 514.5L1602.8 520.7L1603.4 517.0L1604.0 517.5L1604.6 517.1L1605.2 518.0L1605.8 512.4L1606.4 516.4L1607.0 513.9L1607.6 516.1L1608.2 511.0L1608.8 511.6L1609.4 514.0L1610.0 514.0L1610.6 510.7L1611.2 511.3L1611.8 514.4L1612.4 515.8L1613.0 513.9L1613.6 516.3L1614.2 512.8L1614.8 516.0L1615.4 515.6L1616.0 514.0L1616.6 512.2L1617.2 513.5L1617.8 510.9L1618.4 514.6L1619.0 515.4L1619.6 512.8L1620.2 513.7L1620.8 513.2L1621.4 517.3L1622.0 515.2L1622.6 514.1L1623.2 514.2L1623.8 515.3L1624.4 515.7L1625.0 515.5L1625.6 516.8L1626.2 512.9L1626.8 513.1L1627.4 515.9L1628.0 512.6L1628.6 515.5L1629.2 511.3L1629.8 515.4L1630.4 513.7L1631.0 515.1L1631.6 517.1L1632.2 512.2L1632.8 514.5L1633.4 518.1L1634.0 513.0L1634.6 514.6L1635.2 510.6L1635.8 515.7L1636.4 515.1L1637.0 514.1L1637.6 517.1L1638.2 514.1L1638.8 515.0L1639.4 513.2L1640.0 513.5L1640.6 515.0L1641.2 512.6L1641.8 515.1L1642.4 516.4L1643.0 513.3L1643.6 512.3L1644.2 510.5L1644.8 515.6L1645.4 512.6L1646.0 514.4L1646.6 515.1L1647.2 513.6L1647.8 514.4L1648.4 515.8L1649.0 513.4L1649.6 519.0L1650.2 513.1L1650.8 515.4L1651.4 512.8L1652.0 514.1L1652.6 514.4L1653.2 512.9L1653.8 514.6L1654.4 516.0L1655.0 512.4L1655.6 512.7L1656.2 512.3L1656.8 513.7L1657.4 513.0L1658.0 510.0L1658.6 509.0L1659.2 513.7L1659.8 513.7L1660.4 515.4L1661.0 513.4L1661.6 516.6L1662.2 514.9L1662.8 513.6L1663.4 513.9L1664.0 512.9L1664.6 515.2L1665.2 514.4L1665.8 513.0L1666.4 515.4L1667.0 512.1L1667.6 513.3L1668.2 514.7L1668.8 512.9L1669.4 512.6L1670.0 513.5L1670.6 513.3L1671.2 513.7L1671.8 514.0L1672.4 514.5L1673.0 513.9L1673.6 514.3L1674.2 513.8L1674.8 515.7L1675.4 515.1L1676.0 514.3L1676.6 513.8L1677.2 513.7L1677.8 514.0L1678.4 512.9L1679.0 514.5L1679.6 513.9L1680.2 512.0L1680.8 516.9L1681.4 512.9L1682.0 514.1L1682.6 514.5L1683.2 512.9L1683.8 516.0L1684.4 514.5L1685.0 515.7L1685.6 515.4L1686.2 514.9L1686.8 513.1L1687.4 513.8L1688.0 514.0L1688.6 512.1L1689.2 515.2L1689.8 515.3L1690.4 514.8L1691.0 516.5L1691.6 516.2L1692.2 513.6L1692.8 512.4L1693.4 514.8L1694.0 514.3L1694.6 514.1L1695.2 515.9L1695.8 515.4L1696.4 514.8L1697.0 513.7L1697.6 513.8L1698.2 513.5L1698.8 512.3L1699.4 512.0L1700.0 515.8L1700.6 515.8L1701.2 513.9L1701.8 513.3L1702.4 515.5L1703.0 515.0L1703.6 513.1L1704.2 516.5L1704.8 516.3L1705.4 513.8L1706.0 512.9L1706.6 511.6L1707.2 514.2L1707.8 513.1L1708.4 515.3L1709.0 516.6L1709.6 511.0L1710.2 515.4L1710.8 513.2L1711.4 513.8L1712.0 514.8L1712.6 513.4L1713.2 513.9L1713.8 516.6L1714.4 514.3L1715.0 514.1L1715.6 515.5L1716.2 514.1L1716.8 513.6L1717.4 515.2L1718.0 513.3L1718.6 514.1L1719.2 513.0L1719.8 516.9L1720.4 515.6L1721.0 512.9L1721.6 514.8L1722.2 514.9L1722.8 514.0L1723.4 514.4L1724.0 513.9L1724.6 514.0L1725.2 514.1L1725.8 515.9L1726.4 515.3L1727.0 512.7L1727.6 512.9L1728.2 512.1L1728.8 513.4L1729.4 508.9L1730.0 512.2L1730.6 514.3L1731.2 514.3L1731.8 512.1L1732.4 513.8L1733.0 514.7L1733.6 514.7L1734.2 515.6L1734.8 514.5L1735.4 513.0L1736.0 515.2L1736.6 516.1L1737.2 514.6L1737.8 514.2L1738.4 513.0L1739.0 514.5L1739.6 511.0L1740.2 513.7L1740.8 515.2L1741.4 514.8L1742.0 514.0L1742.6 514.3L1743.2 517.5L1743.8 513.7L1744.4 516.0L1745.0 514.4L1745.6 515.5L1746.2 514.9L1746.8 514.5L1747.4 511.8L1748.0 513.4L1748.6 514.5L1749.2 515.9L1749.8 514.0L1750.4 513.0L1751.0 515.9L1751.6 517.3L1752.2 516.0L1752.8 516.7L1753.4 513.7L1754.0 513.4L1754.6 515.2L1755.2 513.1L1755.8 514.7L1756.4 513.8L1757.0 514.0L1757.6 514.5L1758.2 514.4L1758.8 513.7L1759.4 514.7L1760.0 511.6L1760.6 515.0L1761.2 512.0L1761.8 512.2L1762.4 512.4L1763.0 514.5L1763.6 514.8L1764.2 512.8L1764.8 514.3L1765.4 514.7L1766.0 511.1L1766.6 513.2L1767.2 515.5L1767.8 513.6L1768.4 513.4L1769.0 514.6L1769.6 514.4L1770.2 513.0L1770.8 515.0L1771.4 513.7L1772.0 515.1L1772.6 514.4L1773.2 515.1L1773.8 514.8L1774.4 513.1L1775.0 513.8L1775.6 513.3L1776.2 512.5L1776.8 514.7L1777.4 511.6L1778.0 513.3L1778.6 511.3L1779.2 512.8L1779.8 515.2L1780.4 514.3L1781.0 514.3L1781.6 514.2L1782.2 514.0L1782.8 514.8L1783.4 514.3L1784.0 513.0L1784.6 514.2L1785.2 514.3L1785.8 514.1L1786.4 512.9L1787.0 515.6L1787.6 513.5L1788.2 514.3L1788.8 512.0L1789.4 513.7L1790.0 514.4L1790.6 513.4L1791.2 513.9L1791.8 512.2L1792.4 515.6L1793.0 514.4L1793.6 514.0L1794.2 513.4L1794.8 514.4L1795.4 513.7L1796.0 511.5L1796.6 515.5L1797.2 515.1L1797.8 516.2L1798.4 514.7L1799.0 511.7L1799.6 512.6L1800.2 515.7L1800.8 514.6L1801.4 515.6L1802.0 512.4L1802.6 517.1L1803.2 514.0L1803.8 514.2L1804.4 513.0L1805.0 514.2L1805.6 514.0L1806.2 514.2L1937.5 514.2" stroke="#0040ff"/>
<path d="M1506.7 514.3L1507.3 520.6L1507.9 515.6L1508.5 512.3L1509.1 519.8L1509.7 513.4L1510.3 510.8L1510.9 514.7L1511.5 518.4L1512.1 512.0L1512.7 511.8L1513.3 515.7L1513.9 517.4L1514.5 513.9L1515.1 517.4L1515.7 519.3L1516.3 511.8L1516.9 514.8L1517.5 513.1L1518.1 518.3L1518.7 515.8L1519.3 514.9L1519.9 518.4L1520.5 512.4L1521.1 519.0L1521.7 513.7L1522.3 511.8L1522.9 517.1L1523.5 515.4L1524.1 517.3L1524.7 515.8L1525.3 515.0L1525.9 519.5L1526.5 516.8L1527.1 514.4L1527.7 515.2L1528.3 514.1L1528.9 513.3L1529.5 514.5L1530.1 514.7L1530.7 515.2L1531.3 513.5L1531.9 515.9L1532.5 513.9L1533.1 515.0L1533.7 511.6L1534.3 514.3L1534.9 516.7L1535.5 517.0L1536.1 517.0L1536.7 512.4L1537.3 513.1L1537.9 515.1L1538.5 513.4L1539.1 513.3L1539.7 514.4L1540.3 514.8L1540.9 514.7L1541.5 515.2L1542.1 516.0L1542.7 515.8L1543.3 513.7L1543.9 515.0L1544.5 514.9L1545.1 515.8L1545.7 514.1L1546.3 516.5L1546.9 514.4L1547.5 513.8L1548.1 515.9L1548.7 514.2L1549.3 513.4L1549.9 517.2L1550.5 515.8L1551.1 514.4L1551.7 515.7L1552.3 513.8L1552.9 515.4L1553.5 512.5L1554.1 514.6L1554.7 511.7L1555.3 512.7L1555.9 512.9L1556.5 513.3L1557.1 513.0L1557.7 512.3L1558.3 514.3L1558.9 515.0L1559.5 513.0L1560.1 515.2L1560.7 513.8L1561.3 513.3L1561.9 514.0L1562.5 515.8L1563.1 514.8L1563.7 516.0L1564.3 512.7L1564.9 513.6L1565.5 514.6L1566.1 514.8L1566.7 514.8L1567.3 515.8L1567.9 512.6L1568.5 515.0L1569.1 514.8L1569.7 514.4L1570.3 515.8L1570.9 516.3L1571.5 515.1L1572.1 514.7L1572.7 513.8L1573.3 513.0L1573.9 514.0L1574.5 514.6L1575.1 513.9L1575.7 514.6L1576.3 514.5L1576.9 516.5L1577.5 514.0L1578.1 515.3L1578.7 514.1L1579.3 515.2L1579.9 515.3L1580.5 514.5L1581.1 513.5L1581.7 515.3L1582.3 514.0L1582.9 514.5L1583.5 515.5L1584.1 513.2L1584.7 515.3L1585.3 514.3L1585.9 514.5L1586.5 515.8L1587.1 513.8L1587.7 517.3L1588.3 514.3L1588.9 513.5L1589.5 515.0L1590.1 515.1L1590.7 514.2L1591.3 516.9L1591.9 514.1L1592.5 517.0L1593.1 513.9L1593.7 512.6L1594.3 513.2L1594.9 511.4L1595.5 514.2L1596.1 514.0L1596.7 512.5L1597.3 515.7L1597.9 512.7L1598.5 513.1L1599.1 512.7L1599.7 514.0L1600.3 512.4L1600.9 514.1L1601.5 514.1L1602.1 512.7L1602.7 515.5L1603.3 514.0L1603.9 511.8L1604.5 513.1L1605.1 513.4L1605.7 514.3L1606.3 515.4L1606.9 514.7L1607.5 510.1L1608.1 514.8L1608.7 512.1L1609.3 514.1L1609.9 515.7L1610.5 513.2L1611.1 512.3L1611.7 514.2L1612.3 513.2L1612.9 514.7L1613.5 514.1L1614.1 513.2L1614.7 515.7L1615.3 513.8L1615.9 515.7L1616.5 511.6L1617.1 512.2L1617.7 511.9L1618.3 513.2L1618.9 512.7L1619.5 513.3L1620.1 515.3L1620.7 514.2L1621.3 513.4L1621.9 514.1L1622.5 514.2L1623.1 513.2L1623.7 513.5L1624.3 512.6L1624.9 511.3L1625.5 513.5L1626.1 514.1L1626.7 512.4L1627.3 514.1L1627.9 515.9L1628.5 515.3L1629.1 514.6L1629.7 514.3L1630.3 514.6L1630.9 512.4L1631.5 511.5L1632.1 512.2L1632.7 516.0L1633.3 514.6L1633.9 513.9L1634.5 512.1L1635.1 514.0L1635.7 513.6L1636.3 515.3L1636.9 513.8L1637.5 513.0L1638.1 515.5L1638.7 511.1L1639.3 513.7L1639.9 513.6L1640.5 513.5L1641.1 515.7L1641.7 515.0L1642.3 513.7L1642.9 513.5L1643.5 513.6L1644.1 514.6L1644.7 511.4L1645.3 512.0L1645.9 513.0L1646.5 510.3L1647.1 512.0L1647.7 513.9L1648.3 512.6L1648.9 512.6L1649.5 512.0L1650.1 510.3L1650.7 513.1L1651.3 512.8L1651.9 513.3L1652.5 513.4L1653.1 514.6L1653.7 513.9L1654.3 513.5L1654.9 514.5L1655.5 514.0L1656.1 513.9L1656.7 513.2L1657.3 511.0L1657.9 511.5L1658.5 512.7L1659.1 513.3L1659.7 510.5L1660.3 514.9L1660.9 515.2L1661.5 513.4L1662.1 512.6L1662.7 514.2L1663.3 514.2L1663.9 514.8L1664.5 515.8L1665.1 513.2L1665.7 514.4L1666.3 513.7L1666.9 515.0L1667.5 513.5L1668.1 514.4L1668.7 513.8L1669.3 515.1L1669.9 515.0L1670.5 516.4L1671.1 514.8L1671.7 515.1L1672.3 515.5L1672.9 512.8L1673.5 513.6L1674.1 515.1L1674.7 514.4L1675.3 515.1L1675.9 514.8L1676.5 514.2L1677.1 514.4L1677.7 512.7L1678.3 515.2L1678.9 516.9L1679.5 516.1L1680.1 517.3L1680.7 512.3L1681.3 516.6L1681.9 515.7L1682.5 516.6L1683.1 512.6L1683.7 513.7L1684.3 516.0L1684.9 514.6L1685.5 516.3L1686.1 515.2L1686.7 515.1L1687.3 514.5L1687.9 514.2L1688.5 515.3L1689.1 515.3L1689.7 513.7L1690.3 515.0L1690.9 512.6L1691.5 513.5L1692.1 516.4L1692.7 513.2L1693.3 514.9L1693.9 513.5L1694.5 516.2L1695.1 513.5L1695.7 513.5L1696.3 515.1L1696.9 514.8L1697.5 513.6L1698.1 512.4L1698.7 516.5L1699.3 515.9L1699.9 514.2L1700.5 515.5L1701.1 515.2L1701.7 516.0L1702.3 515.2L1702.9 512.9L1703.5 517.2L1704.1 516.4L1704.7 514.8L1705.3 512.4L1705.9 513.1L1706.5 517.5L1707.1 515.7L1707.7 514.9L1708.3 515.1L1708.9 520.0L1709.5 517.8L1710.1 515.0L1710.7 518.7L1711.3 515.2L1711.9 515.9L1712.5 519.0L1713.1 516.7L1713.7 515.8L1714.3 514.2L1714.9 514.7L1715.5 514.1L1716.1 513.0L1716.7 514.9L1717.3 513.4L1717.9 514.6L1718.5 515.3L1719.1 516.3L1719.7 515.9L1720.3 516.2L1720.9 516.9L1721.5 516.4L1722.1 514.9L1722.7 514.8L1723.3 515.5L1723.9 517.5L1724.5 513.2L1725.1 515.9L1725.7 519.8L1726.3 513.8L1726.9 513.8L1727.5 514.7L1728.1 516.1L1728.7 516.2L1729.3 519.1L1729.9 516.4L1730.5 516.8L1731.1 517.3L1731.7 514.1L1732.3 514.5L1732.9 512.7L1733.5 514.7L1734.1 514.5L1734.7 515.5L1735.3 513.7L1735.9 513.4L1736.5 515.7L1737.1 518.8L1737.7 515.5L1738.3 516.1L1738.9 518.5L1739.5 518.5L1740.1 512.6L1740.7 512.6L1741.3 516.1L1741.9 518.8L1742.5 515.7L1743.1 515.3L1743.7 516.0L1744.3 514.3L1744.9 514.8L1745.5 519.0L1746.1 516.2L1746.7 519.9L1747.3 516.0L1747.9 515.9L1748.5 519.3L1749.1 510.7L1749.7 520.8L1750.3 513.8L1750.9 516.9L1751.5 516.4L1752.1 521.8L1752.7 516.4L1753.3 514.7L1753.9 517.5L1754.5 514.7L1755.1 514.3" stroke="#009fff"/>
<path d="M215.0 514.4L215.6 518.4L216.2 515.5L216.8 515.6L217.4 514.9L218.0 517.6L218.6 515.0L219.2 517.8L219.8 514.8L220.4 515.0L221.0 518.4L221.6 517.1L222.2 516.4L222.8 515.4L223.4 516.7L224.0 514.8L224.6 514.7L225.2 516.3L225.8 515.4L226.4 516.7L227.0 516.2L227.6 515.8L228.2 515.6L228.8 516.3L229.4 515.3L230.0 516.7L230.6 516.0L231.2 515.1L231.8 515.0L232.4 516.8L233.0 515.1L233.6 513.1L234.2 513.8L234.8 515.4L235.4 515.7L236.0 514.2L236.6 516.1L237.2 515.7L237.8 516.9L238.4 516.7L239.0 515.7L239.6 515.8L240.2 517.6L240.8 515.0L241.4 516.8L242.0 518.2L242.6 513.3L243.2 517.0L243.8 516.9L244.4 513.5L245.0 515.2L245.6 516.1L246.2 516.2L246.8 518.7L247.4 514.2L248.0 515.4L248.6 514.8L249.2 516.9L249.8 516.5L250.4 514.3L251.0 514.2L251.6 513.4L252.2 514.5L252.8 517.5L253.4 515.6L254.0 516.8L254.6 516.3L255.2 514.4L255.8 517.5L256.4 518.3L257.0 514.1L257.6 515.9L258.2 518.6L258.8 516.2L259.4 514.4L260.0 519.3L260.6 515.1L261.2 514.6L261.8 515.5L262.4 514.6L263.0 517.1L263.6 518.4L264.2 514.1L264.8 515.1L265.4 515.9L266.0 513.5L266.6 513.0L267.2 518.6L267.8 517.5L268.4 517.2L269.0 515.1L269.6 513.8L270.2 515.9L270.8 514.9L271.4 514.2L272.0 517.4L272.6 513.8L273.2 516.3L273.8 514.0L274.4 517.3L275.0 515.8L275.6 513.0L276.2 511.9L276.8 513.1L277.4 517.5L278.0 513.3L278.6 514.6L279.2 515.4L279.8 512.4L280.4 513.2L281.0 514.7L281.6 516.2L282.2 518.4L282.8 512.6L283.4 516.3L284.0 518.8L284.6 515.9L285.2 515.1L285.8 517.9L286.4 519.0L287.0 520.4L287.6 511.9L288.2 513.8L288.8 514.4L289.4 517.1L290.0 518.5L290.6 520.4L291.2 514.4L1716.2 514.4L1716.8 516.9L1717.4 514.2L1718.0 510.0L1718.6 512.5L1719.2 508.3L1719.8 512.0L1720.4 518.4L1721.0 519.2L1721.6 515.5L1722.2 513.8L1722.8 513.6L1723.4 511.1L1724.0 512.7L1724.6 513.5L1725.2 516.5L1725.8 518.0L1726.4 513.9L1727.0 518.7L1727.6 514.0L1728.2 512.9L1728.8 514.4L1729.4 513.7L1730.0 514.3L1730.6 515.0L1731.2 511.9L1731.8 515.5L1732.4 518.4L1733.0 517.9L1733.6 516.2L1734.2 512.1L1734.8 512.2L1735.4 513.8L1736.0 513.4L1736.6 514.7L1737.2 513.8L1737.8 516.7L1738.4 515.6L1739.0 517.4L1739.6 515.6L1740.2 516.2L1740.8 511.4L1741.4 517.8L1742.0 518.5L1742.6 513.3L1743.2 515.7L1743.8 514.4L1744.4 518.6L1745.0 512.3L1745.6 516.3L1746.2 514.1L1746.8 514.4L1747.4 512.7L1748.0 518.6L1748.6 514.5L1749.2 515.0L1749.8 513.1L1750.4 513.1L1751.0 516.2L1751.6 517.4L1752.2 515.9L1752.8 514.0L1753.4 516.1L1754.0 514.6L1754.6 517.7L1755.2 514.8L1755.8 517.4L1756.4 514.7L1757.0 513.3L1757.6 515.0L1758.2 515.3L1758.8 516.3L1759.4 513.0L1760.0 515.2L1760.6 513.9L1761.2 516.1L1761.8 515.3L1762.4 515.4L1763.0 515.5L1763.6 514.8L1764.2 517.0L1764.8 517.2L1765.4 515.1L1766.0 517.3L1766.6 514.8L1767.2 514.6L1767.8 514.4L1768.4 515.6L1769.0 515.1L1769.6 513.4L1770.2 515.0L1770.8 515.6L1771.4 514.8L1772.0 515.0L1772.6 517.3L1773.2 516.7L1773.8 517.6L1774.4 515.6L1775.0 513.5L1775.6 517.0L1776.2 516.1L1776.8 517.6L1777.4 515.1L1778.0 516.5L1778.6 516.1L1779.2 515.3L1779.8 516.0L1780.4 515.0L1781.0 516.0L1781.6 517.1L1782.2 515.4L1782.8 514.8L1783.4 516.0L1784.0 515.0L1784.6 517.8L1785.2 515.1L1785.8 516.2L1786.4 515.3L1787.0 517.0L1787.6 517.1L1788.2 515.7L1788.8 512.3L1789.4 516.5L1790.0 515.5L1790.6 516.5L1791.2 517.7L1791.8 518.2L1792.4 515.7L1793.0 517.0L1793.6 514.9L1794.2 518.1L1794.8 515.3L1795.4 516.7L1796.0 515.7L1796.6 518.2L1797.2 516.8L1797.8 517.5L1798.4 517.4L1799.0 519.9L1799.6 519.2L1800.2 514.9L1800.8 514.4L1801.4 517.9L1802.0 518.2L1802.6 517.2L1803.2 519.2L1803.8 518.0L1804.4 518.5L1805.0 515.2L1805.6 518.4L1806.2 517.2L1806.8 514.4L1937.5 514.4" stroke="#00dfff"/>
<path d="M433.7 514.4L434.3 513.2L434.9 515.2L435.5 515.1L436.1 514.0L436.7 512.6L437.3 517.3L437.9 518.5L438.5 515.4L439.1 513.0L439.7 518.1L440.3 517.6L440.9 516.2L441.5 512.0L442.1 521.0L442.7 517.4L443.3 515.7L443.9 513.8L444.5 510.2L445.1 514.9L445.7 518.2L446.3 520.2L446.9 516.2L447.5 516.8L448.1 513.1L448.7 514.6L449.3 518.3L449.9 515.5L450.5 515.8L451.1 514.9L451.7 512.1L452.3 513.2L452.9 516.7L453.5 515.7L454.1 518.3L454.7 513.0L455.3 514.1L455.9 516.0L456.5 514.6L457.1 516.0L457.7 512.8L458.3 516.7L458.9 519.8L459.5 516.8L460.1 514.1L460.7 511.5L461.3 515.3L461.9 512.4L462.5 515.2L463.1 516.9L463.7 514.8L464.3 515.9L464.9 516.6L465.5 512.4L466.1 514.8L466.7 513.8L467.3 516.6L467.9 516.2L468.5 517.6L469.1 512.6L469.7 516.0L470.3 517.3L470.9 513.8L471.5 513.8L472.1 515.2L472.7 515.1L473.3 511.7L473.9 517.5L474.5 514.8L475.1 513.3L475.7 514.4L476.3 516.4L476.9 515.6L477.5 516.3L478.1 514.7L478.7 514.1L479.3 514.6L479.9 516.1L480.5 513.3L481.1 513.7L481.7 514.2L482.3 516.8L482.9 514.3L483.5 513.0L484.1 514.5L484.7 514.3L485.3 516.2L485.9 514.1L486.5 511.2L487.1 514.9L487.7 516.4L488.3 512.5L488.9 515.0L489.5 513.6L490.1 515.9L490.7 514.3L491.3 515.2L491.9 512.8L492.5 513.6L493.1 512.4L493.7 516.0L494.3 513.2L494.9 512.6L495.5 515.0L496.1 514.9L496.7 513.5L497.3 511.2L497.9 512.8L498.5 513.9L499.1 518.0L499.7 515.4L500.3 513.8L500.9 513.7L501.5 512.5L502.1 516.6L502.7 515.2L503.3 513.5L503.9 513.0L504.5 513.4L505.1 513.3L505.7 511.6L506.3 514.3L506.9 514.4L507.5 512.6L508.1 513.8L508.7 511.6L509.3 515.0L509.9 513.5L510.5 513.9L511.1 514.1L511.7 514.3L512.3 515.2L512.9 516.0L513.5 513.8L514.1 514.0L514.7 514.5L515.3 512.8L515.9 513.3L516.5 514.7L517.1 513.7L517.7 515.7L518.3 515.4L518.9 513.6L519.5 515.0L520.1 514.5L520.7 512.9L521.3 513.2L521.9 514.0L522.5 515.7L523.1 514.4L523.7 514.6L524.3 513.2L524.9 513.8L525.5 515.3L526.1 514.6L526.7 513.8L527.3 515.2L527.9 514.0L528.5 514.4L529.1 516.5L529.7 513.5L530.3 514.4L530.9 515.7L531.5 513.0L532.1 513.5L532.7 512.6L533.3 513.3L533.9 516.0L534.5 515.6L535.1 514.1L535.7 514.9L536.3 513.6L536.9 513.2L537.5 514.4L538.1 515.7L538.7 513.8L539.3 515.1L539.9 514.9L540.5 513.4L541.1 514.1L541.7 515.7L542.3 513.4L542.9 515.9L543.5 517.4L544.1 517.4L544.7 515.8L545.3 518.3L545.9 516.1L546.5 515.3L547.1 512.4L547.7 514.0L548.3 513.5L548.9 515.6L549.5 513.3L550.1 513.8L550.7 515.1L551.3 515.3L551.9 514.0L552.5 519.0L553.1 515.5L553.7 514.4L554.3 513.6L554.9 513.0L555.5 515.0L556.1 515.9L556.7 516.8L557.3 513.7L557.9 513.6L558.5 515.1L559.1 514.2L559.7 515.6L560.3 514.3L560.9 516.8L561.5 518.3L562.1 517.7L562.7 515.1L563.3 515.3L563.9 514.3L564.5 514.9L565.1 513.3L565.7 515.6L566.3 514.8L566.9 515.2L567.5 515.7L568.1 515.3L568.7 514.0L569.3 515.6L569.9 514.3L570.5 516.3L571.1 516.0L571.7 514.2L572.3 514.2L572.9 513.8L573.5 513.6L574.1 515.8L574.7 514.4L575.3 515.8L575.9 515.0L576.5 516.5L577.1 518.9L577.7 513.5L578.3 514.9L578.9 515.6L579.5 514.7L580.1 516.6L580.7 515.3L581.3 513.5L581.9 514.9L582.5 515.9L583.1 516.0L583.7 516.7L584.3 514.8L584.9 514.9L585.5 515.5L586.1 514.5L586.7 514.5L587.3 516.5L587.9 515.8L588.5 512.9L589.1 514.7L589.7 513.5L590.3 516.5L590.9 514.9L591.5 515.7L592.1 514.1L592.7 513.2L593.3 514.7L593.9 514.3L594.5 512.9L595.1 513.9L595.7 514.3L596.3 514.4L596.9 515.5L597.5 513.8L598.1 514.8L598.7 516.8L599.3 514.5L599.9 514.9L600.5 514.8L601.1 515.8L601.7 514.7L602.3 517.9L602.9 513.9L603.5 513.8L604.1 516.1L604.7 514.6L605.3 514.2L605.9 514.1L606.5 514.4L607.1 514.7L607.7 514.3L608.3 516.4L608.9 514.8L609.5 517.0L610.1 513.9L610.7 516.6L611.3 516.8L611.9 515.3L612.5 515.2L613.1 515.2L613.7 514.4L614.3 517.4L614.9 513.2L615.5 516.0L616.1 516.4L616.7 513.6L617.3 514.2L617.9 514.4L618.5 515.5L619.1 516.9L619.7 514.5L620.3 516.0L620.9 517.0L621.5 515.9L622.1 514.2L622.7 515.2L623.3 508.9L623.9 514.3L624.5 515.8L625.1 517.9L625.7 512.8L626.3 512.6L626.9 515.7L627.5 513.7L628.1 513.0L628.7 515.9L629.3 512.7L629.9 512.1L630.5 517.5L631.1 517.0L631.7 514.9L632.3 513.5L632.9 518.3L633.5 515.0L634.1 513.9L634.7 514.7L635.3 514.4L635.9 514.0L636.5 514.6L637.1 512.0L637.7 515.3L638.3 513.0L638.9 514.5L639.5 511.9L640.1 513.9L640.7 515.8L641.3 514.8L641.9 514.1L642.5 512.7L643.1 520.4L643.7 513.0L644.3 514.2L644.9 511.1L645.5 514.9L646.1 515.8L646.7 514.6L647.3 517.6L647.9 513.5L648.5 513.0L649.1 513.5L649.7 508.2L650.3 515.1L650.9 515.6L651.5 516.7L652.1 515.3L652.7 514.4L1137.1 514.4L1137.7 520.1L1138.3 514.3L1138.9 526.3L1139.5 523.9L1140.1 517.1L1140.7 522.3L1141.3 521.1L1141.9 524.3L1142.5 528.7L1143.1 526.8L1143.7 520.7L1144.3 524.2L1144.9 524.3L1145.5 520.2L1146.1 523.4L1146.7 516.3L1147.3 514.8L1147.9 519.9L1148.5 522.1L1149.1 518.1L1149.7 517.4L1150.3 512.8L1150.9 517.3L1151.5 516.7L1152.1 515.4L1152.7 519.1L1153.3 514.4L1153.9 519.2L1154.5 521.3L1155.1 517.8L1155.7 515.5L1156.3 516.1L1156.9 516.1L1157.5 519.8L1158.1 514.3L1158.7 516.8L1159.3 512.7L1159.9 518.0L1160.5 518.2L1161.1 520.0L1161.7 520.1L1162.3 517.5L1162.9 516.9L1163.5 518.2L1164.1 518.5L1164.7 518.7L1165.3 521.9L1165.9 518.8L1166.5 521.7L1167.1 517.5L1167.7 523.2L1168.3 523.4L1168.9 523.5L1169.5 523.6L1170.1 520.1L1170.7 523.4L1171.3 525.1L1171.9 520.9L1172.5 524.1L1173.1 520.4L1173.7 522.1L1174.3 523.6L1174.9 522.7L1175.5 525.5L1176.1 521.9L1176.7 527.2L1177.3 525.7L1177.9 527.8L1178.5 526.7L1179.1 526.3L1179.7 524.7L1180.3 523.5L1180.9 526.4L1181.5 530.9L1182.1 524.2L1182.7 528.6L1183.3 525.6L1183.9 521.5L1184.5 524.2L1185.1 523.5L1185.7 523.5L1186.3 524.7L1186.9 524.7L1187.5 525.4L1188.1 525.3L1188.7 516.8L1189.3 524.5L1189.9 521.0L1190.5 523.0L1191.1 520.1L1191.7 519.6L1192.3 522.3L1192.9 515.8L1193.5 520.0L1194.1 521.5L1194.7 525.3L1195.3 526.2L1195.9 520.1L1196.5 520.0L1197.1 524.9L1197.7 526.3L1198.3 524.9L1198.9 523.8L1199.5 514.4" stroke="#00ffff"/>
<path d="M673.7 514.9L674.3 511.6L674.9 516.7L675.5 504.6L676.1 509.6L676.7 510.9L677.3 506.4L677.9 511.7L678.5 508.9L679.1 506.9L679.7 504.8L680.3 510.9L680.9 512.6L681.5 516.0L682.1 507.8L682.7 507.4L683.3 509.4L683.9 515.0L684.5 514.3L685.1 514.0L685.7 511.3L686.3 512.2L686.9 509.7L687.5 509.8L688.1 510.7L688.7 511.6L689.3 512.2L689.9 512.5L690.5 511.4L691.1 514.2L691.7 507.8L692.3 511.9L692.9 513.9L693.5 510.1L694.1 510.3L694.7 509.9L695.3 514.1L695.9 513.4L696.5 512.1L697.1 514.3L697.7 514.7L698.3 511.9L698.9 512.2L699.5 513.0L700.1 514.2L700.7 516.3L701.3 514.3L701.9 516.9L702.5 513.2L703.1 512.6L703.7 513.9L704.3 513.2L704.9 516.1L705.5 520.0L706.1 513.5L706.7 515.1L707.3 515.6L707.9 512.2L708.5 512.9L709.1 515.0L709.7 512.5L710.3 514.5L710.9 513.9L711.5 516.9L712.1 512.6L712.7 510.8L713.3 514.6L713.9 512.5L714.5 512.2L715.1 512.5L715.7 513.2L716.3 512.8L716.9 515.5L717.5 513.9L718.1 516.3L718.7 516.4L719.3 514.3L719.9 513.5L720.5 513.0L721.1 513.2L721.7 513.3L722.3 516.4L722.9 513.4L723.5 513.9L724.1 512.1L724.7 514.1L725.3 512.9L725.9 514.5L726.5 514.3L727.1 512.9L727.7 514.8L728.3 516.2L728.9 516.5L729.5 514.5L730.1 516.1L730.7 515.4L731.3 515.9L731.9 514.0L732.5 514.7L733.1 516.0L733.7 515.4L734.3 514.7L734.9 515.1L735.5 515.2L736.1 514.1L736.7 517.4L737.3 516.2L737.9 515.8L738.5 513.5L739.1 517.7L739.7 515.0L740.3 517.6L740.9 517.3L741.5 514.3L742.1 518.0L742.7 514.5L743.3 517.4L743.9 517.4L744.5 517.5L745.1 517.3L745.7 515.7L746.3 515.1L746.9 515.4L747.5 514.2L748.1 517.1L748.7 518.0L749.3 515.7L749.9 517.1L750.5 516.7L751.1 516.0L751.7 515.4L752.3 516.0L752.9 515.8L753.5 515.5L754.1 513.6L754.7 514.5L755.3 517.1L755.9 515.4L756.5 515.5L757.1 516.3L757.7 516.0L758.3 514.8L758.9 514.6L759.5 512.0L760.1 515.3L760.7 514.7L761.3 515.7L761.9 513.0L762.5 513.3L763.1 512.7L763.7 514.4L764.3 512.9L764.9 514.9L765.5 514.1L766.1 512.1L766.7 514.8L767.3 512.1L767.9 514.9L768.5 512.9L769.1 512.1L769.7 515.5L770.3 514.9L770.9 514.2L771.5 514.5L772.1 513.6L772.7 513.0L773.3 511.9L773.9 513.3L774.5 515.0L775.1 513.2L775.7 513.7L776.3 511.6L776.9 510.8L777.5 514.2L778.1 511.1L778.7 511.3L779.3 512.9L779.9 513.5L780.5 514.0L781.1 512.0L781.7 514.2L782.3 514.0L782.9 514.2L783.5 513.2L784.1 512.3L784.7 514.5L785.3 516.2L785.9 516.8L786.5 514.1L787.1 513.6L787.7 516.2L788.3 517.5L788.9 516.8L789.5 516.3L790.1 516.2L790.7 516.1L791.3 518.0L791.9 516.6L792.5 516.5L793.1 515.5L793.7 517.3L794.3 520.4L794.9 518.2L795.5 515.0L796.1 517.5L796.7 518.3L797.3 518.6L797.9 517.3L798.5 516.8L799.1 519.0L799.7 517.6L800.3 514.6L800.9 517.2L801.5 516.8L802.1 517.0L802.7 516.4L803.3 516.5L803.9 517.0L804.5 515.2L805.1 514.8L805.7 515.6L806.3 513.8L806.9 515.5L807.5 515.6L808.1 514.9L808.7 514.6L809.3 512.6L809.9 514.1L810.5 511.9L811.1 515.6L811.7 514.7L812.3 514.4L812.9 514.2L813.5 514.5L814.1 513.9L814.7 515.6L815.3 514.2L815.9 514.6L816.5 514.9L817.1 515.4L817.7 514.7L818.3 513.3L818.9 514.9L819.5 513.8L820.1 516.1L820.7 512.9L821.3 512.9L821.9 515.5L822.5 515.4L823.1 515.0L823.7 514.7L824.3 514.8L824.9 512.2L825.5 512.8L826.1 512.6L826.7 513.3L827.3 512.2L827.9 512.4L828.5 511.7L829.1 514.2L829.7 515.6L830.3 511.9L830.9 513.4L831.5 511.8L832.1 514.5L832.7 510.6L833.3 514.3L833.9 514.4L834.5 514.8L835.1 512.4L835.7 512.3L836.3 512.7L836.9 515.1L837.5 514.5L838.1 513.5L838.7 515.3L839.3 513.4L839.9 513.8L840.5 511.5L841.1 510.5L841.7 514.0L842.3 513.0L842.9 512.5L843.5 509.6L844.1 513.0L844.7 509.9L845.3 511.5L845.9 508.0L846.5 509.3L847.1 509.7L847.7 511.2L848.3 508.3L848.9 510.6L849.5 511.6L850.1 509.6L850.7 511.1L851.3 509.5L851.9 512.3L852.5 510.8L853.1 510.1L853.7 509.2L854.3 512.8L854.9 510.5L855.5 510.0L856.1 511.4L856.7 512.9L857.3 511.7L857.9 513.3L858.5 511.5L859.1 510.9L859.7 510.9L860.3 512.0L860.9 510.5L861.5 512.0L862.1 510.5L862.7 511.6L863.3 513.3L863.9 509.2L864.5 512.9L865.1 511.6L865.7 513.3L866.3 509.6L866.9 513.1L867.5 510.5L868.1 512.6L868.7 510.9L869.3 511.6L869.9 510.0L870.5 511.9L871.1 511.8L871.7 509.1L872.3 513.1L872.9 513.3L873.5 510.1L874.1 510.4L874.7 513.1L875.3 510.9L875.9 512.5L876.5 512.3L877.1 511.5L877.7 513.1L878.3 511.7L878.9 512.0L879.5 511.7L880.1 512.4L880.7 511.3L881.3 511.8L881.9 512.3L882.5 511.8L883.1 511.4L883.7 511.1L884.3 513.8L884.9 514.6L885.5 508.9L886.1 515.1L886.7 512.6L887.3 511.3L887.9 511.7L888.5 511.5L889.1 516.0L889.7 512.6L890.3 514.3L890.9 514.6L891.5 514.6L892.1 514.3L892.7 512.0L893.3 516.6L893.9 511.4L894.5 514.4L895.1 513.8L895.7 517.9L896.3 514.0L896.9 513.7L897.5 514.9L898.1 515.3L898.7 513.7L899.3 514.3L899.9 512.5L900.5 515.7L901.1 516.4L901.7 511.0L902.3 513.3L902.9 516.5L903.5 517.6L904.1 513.3L904.7 515.4L905.3 515.3L905.9 515.8L906.5 516.4L907.1 514.6L907.7 517.6L908.3 515.7L908.9 515.1L909.5 517.8L910.1 516.3L910.7 516.3L911.3 514.3L911.9 514.1L912.5 514.8L913.1 511.8L913.7 514.6L914.3 515.6L914.9 513.5L915.5 511.2L916.1 514.5L916.7 513.9L917.3 514.6L917.9 515.4L918.5 514.2L919.1 513.8L919.7 512.9L920.3 508.6L920.9 510.9L921.5 510.4L922.1 510.6L922.7 508.5L923.3 513.3L923.9 511.1L924.5 513.5L925.1 510.3L925.7 509.4L926.3 517.0L926.9 515.9L927.5 517.2L928.1 516.3L928.7 511.6L929.3 511.3L929.9 514.9L930.5 511.1L931.1 510.6L931.7 512.7L932.3 516.5L932.9 510.0L933.5 511.6L934.1 512.4L934.7 508.9L935.3 510.4L935.9 510.8L936.5 510.4L937.1 510.3L937.7 514.1L938.3 507.7L938.9 509.3L939.5 509.6L940.1 517.3L940.7 513.7L941.3 509.1L941.9 508.9L942.5 513.1L943.1 518.0L943.7 510.3L944.3 514.9" stroke="#20ffdf"/>
<path d="M1008.6 514.2L1009.2 522.4L1009.8 512.3L1010.4 518.3L1011.0 516.0L1011.6 510.8L1012.2 511.9L1012.8 515.1L1013.4 508.8L1014.0 514.3L1014.6 516.5L1015.2 514.8L1015.8 510.0L1016.4 507.4L1017.0 511.7L1017.6 511.3L1018.2 509.5L1018.8 511.4L1019.4 509.0L1020.0 512.4L1020.6 515.5L1021.2 510.3L1021.8 510.2L1022.4 514.5L1023.0 510.0L1023.6 515.6L1024.2 513.3L1024.8 511.3L1025.4 510.3L1026.0 511.8L1026.6 512.0L1027.2 509.5L1027.8 511.4L1028.4 514.4L1029.0 512.1L1029.6 513.6L1030.2 512.6L1030.8 509.4L1031.4 511.7L1032.0 510.5L1032.6 510.7L1033.2 511.6L1033.8 511.6L1034.4 511.8L1035.0 511.2L1035.6 514.4L1036.2 510.6L1036.8 511.1L1037.4 509.8L1038.0 513.0L1038.6 514.1L1039.2 513.3L1039.8 513.1L1040.4 508.3L1041.0 513.5L1041.6 510.0L1042.2 510.9L1042.8 515.5L1043.4 511.1L1044.0 511.1L1044.6 516.0L1045.2 514.6L1045.8 514.0L1046.4 515.4L1047.0 515.9L1047.6 516.2L1048.2 513.4L1048.8 514.7L1049.4 514.1L1050.0 512.2L1050.6 515.2L1051.2 514.3L1051.8 515.9L1052.4 512.8L1053.0 516.9L1053.6 517.1L1054.2 515.9L1054.8 519.3L1055.4 515.1L1056.0 516.4L1056.6 516.5L1057.2 515.5L1057.8 515.4L1058.4 516.4L1059.0 513.8L1059.6 514.0L1060.2 512.5L1060.8 514.2L1061.4 512.6L1062.0 513.2L1062.6 514.6L1063.2 511.7L1063.8 512.9L1064.4 512.8L1065.0 515.4L1065.6 512.9L1066.2 511.8L1066.8 512.4L1067.4 512.7L1068.0 510.9L1068.6 513.1L1069.2 512.3L1069.8 512.9L1070.4 514.2L1071.0 512.9L1071.6 511.2L1072.2 515.6L1072.8 513.0L1073.4 514.7L1074.0 516.5L1074.6 513.3L1075.2 514.8L1075.8 514.2L1076.4 512.8L1077.0 513.7L1077.6 515.6L1078.2 516.6L1078.8 514.5L1079.4 514.5L1080.0 514.0L1080.6 515.1L1081.2 515.4L1081.8 515.3L1082.4 513.7L1083.0 514.8L1083.6 515.5L1084.2 514.5L1084.8 515.5L1085.4 516.3L1086.0 515.8L1086.6 516.2L1087.2 515.2L1087.8 515.7L1088.4 516.0L1089.0 517.6L1089.6 516.7L1090.2 513.2L1090.8 516.9L1091.4 513.6L1092.0 515.3L1092.6 515.3L1093.2 516.1L1093.8 514.3L1094.4 514.8L1095.0 514.9L1095.6 513.2L1096.2 512.6L1096.8 512.7L1097.4 513.5L1098.0 512.8L1098.6 513.8L1099.2 513.1L1099.8 518.5L1100.4 513.0L1101.0 516.1L1101.6 514.9L1102.2 513.8L1102.8 514.8L1103.4 513.3L1104.0 510.6L1104.6 516.3L1105.2 515.9L1105.8 512.9L1106.4 514.1L1107.0 517.1L1107.6 516.2L1108.2 516.9L1108.8 514.4L1109.4 514.3L1110.0 516.6L1110.6 515.3L1111.2 514.4L1111.8 517.9L1112.4 516.1L1113.0 513.9L1113.6 515.9L1114.2 514.3L1114.8 514.7L1115.4 515.1L1116.0 515.0L1116.6 513.2L1117.2 514.6L1117.8 514.6L1118.4 513.4L1119.0 511.8L1119.6 512.5L1120.2 515.7L1120.8 512.8L1121.4 512.6L1122.0 514.5L1122.6 516.9L1123.2 512.7L1123.8 514.2L1124.4 514.4L1125.0 514.3L1125.6 514.9L1126.2 514.9L1126.8 512.5L1127.4 514.3L1128.0 514.0L1128.6 517.3L1129.2 514.1L1129.8 512.3L1130.4 514.9L1131.0 515.4L1131.6 511.7L1132.2 514.4L1132.8 514.8L1133.4 516.4L1134.0 515.5L1134.6 515.8L1135.2 512.5L1135.8 513.1L1136.4 516.6L1137.0 515.7L1137.6 516.1L1138.2 516.2L1138.8 514.8L1139.4 516.4L1140.0 518.8L1140.6 518.4L1141.2 517.6L1141.8 517.4L1142.4 518.0L1143.0 517.7L1143.6 517.8L1144.2 520.4L1144.8 517.4L1145.4 519.7L1146.0 519.0L1146.6 519.2L1147.2 520.3L1147.8 518.2L1148.4 519.9L1149.0 520.1L1149.6 522.8L1150.2 519.8L1150.8 520.5L1151.4 520.6L1152.0 517.7L1152.6 518.5L1153.2 517.4L1153.8 517.7L1154.4 518.4L1155.0 517.2L1155.6 518.3L1156.2 517.1L1156.8 518.2L1157.4 515.7L1158.0 515.3L1158.6 515.7L1159.2 516.0L1159.8 514.7L1160.4 517.3L1161.0 517.2L1161.6 513.8L1162.2 516.5L1162.8 516.0L1163.4 515.8L1164.0 516.6L1164.6 517.9L1165.2 517.1L1165.8 518.2L1166.4 519.1L1167.0 517.3L1167.6 516.2L1168.2 517.6L1168.8 518.2L1169.4 519.6L1170.0 519.8L1170.6 518.5L1171.2 519.6L1171.8 519.2L1172.4 518.7L1173.0 517.4L1173.6 519.7L1174.2 518.3L1174.8 518.5L1175.4 515.0L1176.0 519.3L1176.6 517.4L1177.2 518.2L1177.8 517.9L1178.4 516.9L1179.0 518.9L1179.6 516.1L1180.2 517.7L1180.8 517.2L1181.4 518.2L1182.0 518.5L1182.6 516.1L1183.2 518.4L1183.8 518.4L1184.4 516.9L1185.0 519.4L1185.6 518.5L1186.2 516.3L1186.8 517.1L1187.4 516.9L1188.0 517.2L1188.6 516.7L1189.2 521.5L1189.8 518.0L1190.4 520.9L1191.0 520.1L1191.6 521.5L1192.2 518.7L1192.8 521.8L1193.4 519.0L1194.0 518.0L1194.6 519.7L1195.2 522.4L1195.8 518.1L1196.4 520.8L1197.0 519.1L1197.6 519.4L1198.2 520.4L1198.8 517.8L1199.4 519.0L1200.0 519.5L1200.6 521.0L1201.2 520.5L1201.8 519.2L1202.4 520.7L1203.0 517.5L1203.6 520.5L1204.2 520.1L1204.8 520.7L1205.4 518.6L1206.0 520.2L1206.6 523.1L1207.2 520.1L1207.8 516.8L1208.4 519.6L1209.0 518.6L1209.6 518.7L1210.2 519.9L1210.8 520.4L1211.4 519.9L1212.0 520.1L1212.6 520.0L1213.2 521.1L1213.8 521.7L1214.4 520.0L1215.0 521.4L1215.6 519.5L1216.2 522.0L1216.8 521.3L1217.4 520.7L1218.0 519.6L1218.6 519.5L1219.2 516.6L1219.8 520.6L1220.4 519.4L1221.0 518.3L1221.6 521.1L1222.2 519.1L1222.8 519.7L1223.4 518.6L1224.0 519.0L1224.6 518.2L1225.2 514.0L1225.8 520.9L1226.4 521.1L1227.0 516.9L1227.6 517.7L1228.2 519.2L1228.8 519.7L1229.4 518.4L1230.0 519.3L1230.6 518.3L1231.2 517.4L1231.8 516.7L1232.4 517.0L1233.0 517.4L1233.6 516.9L1234.2 517.6L1234.8 518.9L1235.4 517.0L1236.0 517.5L1236.6 518.5L1237.2 518.8L1237.8 516.4L1238.4 515.7L1239.0 518.0L1239.6 515.1L1240.2 518.5L1240.8 517.9L1241.4 518.8L1242.0 516.2L1242.6 514.1L1243.2 519.8L1243.8 517.1L1244.4 518.6L1245.0 516.9L1245.6 517.5L1246.2 519.8L1246.8 518.9L1247.4 518.1L1248.0 518.5L1248.6 518.1L1249.2 517.7L1249.8 519.1L1250.4 519.9L1251.0 517.9L1251.6 517.8L1252.2 518.5L1252.8 518.3L1253.4 517.3L1254.0 520.8L1254.6 518.7L1255.2 519.5L1255.8 519.0L1256.4 520.3L1257.0 519.9L1257.6 519.7L1258.2 518.5L1258.8 518.7L1259.4 519.1L1260.0 521.4L1260.6 520.6L1261.2 519.9L1261.8 519.6L1262.4 518.3L1263.0 519.0L1263.6 519.3L1264.2 517.7L1264.8 519.5L1265.4 517.8L1266.0 517.5L1266.6 517.7L1267.2 516.8L1267.8 517.1L1268.4 514.4L1269.0 519.6L1269.6 516.3L1270.2 519.6L1270.8 516.8L1271.4 517.0L1272.0 516.7L1272.6 516.3L1273.2 517.0L1273.8 516.6L1274.4 515.1L1275.0 516.1L1275.6 513.6L1276.2 516.0L1276.8 515.7L1277.4 514.6L1278.0 516.0L1278.6 514.5L1279.2 517.8L1279.8 515.0L1280.4 514.8L1281.0 515.4L1281.6 515.2L1282.2 515.8L1282.8 516.8L1283.4 516.1L1284.0 517.4L1284.6 517.3L1285.2 517.3L1285.8 514.3L1286.4 516.1L1287.0 514.3L1287.6 519.7L1288.2 517.1L1288.8 514.3L1289.4 514.9L1290.0 516.9L1290.6 513.4L1291.2 517.5L1291.8 516.6L1292.4 514.3L1293.0 516.0L1293.6 516.7L1294.2 517.1L1294.8 517.0L1295.4 515.5L1296.0 513.2L1296.6 514.1L1297.2 515.7L1297.8 515.4L1298.4 513.6L1299.0 513.6L1299.6 514.2L1300.2 513.5L1300.8 513.1L1301.4 514.2L1302.0 514.7L1302.6 513.6L1303.2 512.9L1303.8 515.1L1304.4 514.0L1305.0 515.1L1305.6 513.0L1306.2 512.8L1306.8 512.5L1307.4 513.8L1308.0 514.6L1308.6 512.4L1309.2 514.0L1309.8 514.1L1310.4 514.8L1311.0 514.9L1311.6 515.0L1312.2 514.2L1312.8 514.3L1313.4 513.9L1314.0 513.6L1314.6 515.2L1315.2 513.3L1315.8 515.1L1316.4 514.5L1317.0 513.1L1317.6 516.3L1318.2 514.3L1318.8 517.6L1319.4 515.5L1320.0 516.5L1320.6 517.0L1321.2 514.2L1321.8 517.5L1322.4 515.8L1323.0 515.7L1323.6 516.3L1324.2 515.3L1324.8 514.8L1325.4 516.7L1326.0 518.8L1326.6 517.2L1327.2 516.9L1327.8 519.0L1328.4 516.9L1329.0 516.3L1329.6 516.3L1330.2 517.5L1330.8 515.5L1331.4 516.0L1332.0 516.1L1332.6 516.9L1333.2 516.0L1333.8 517.8L1334.4 518.3L1335.0 516.4L1335.6 518.0L1336.2 515.9L1336.8 514.2L1337.4 516.0L1338.0 517.3L1338.6 515.6L1339.2 518.5L1339.8 515.1L1340.4 514.5L1341.0 515.0L1341.6 519.0L1342.2 515.2L1342.8 515.9L1343.4 517.7L1344.0 515.2L1344.6 515.7L1345.2 516.0L1345.8 517.7L1346.4 516.9L1347.0 513.6L1347.6 515.4L1348.2 516.7L1348.8 513.9L1349.4 514.5L1350.0 516.8L1350.6 516.9L1351.2 516.1L1351.8 516.3L1352.4 514.1L1353.0 517.2L1353.6 519.6L1354.2 517.8L1354.8 515.3L1355.4 515.9L1356.0 517.2L1356.6 515.3L1357.2 517.7L1357.8 517.6L1358.4 516.5L1359.0 516.0L1359.6 514.8L1360.2 517.7L1360.8 518.2L1361.4 516.9L1362.0 517.0L1362.6 518.4L1363.2 519.4L1363.8 517.8L1364.4 514.1L1365.0 514.6L1365.6 514.1L1366.2 513.6L1366.8 517.2L1367.4 514.2L1368.0 519.6L1368.6 512.3L1369.2 515.7L1369.8 511.8L1370.4 515.8L1371.0 511.2L1371.6 516.8L1372.2 516.4L1372.8 516.4L1373.4 512.4L1374.0 517.3L1374.6 517.9L1375.2 516.4L1375.8 512.1L1376.4 514.8L1377.0 513.2L1377.6 518.0L1378.2 513.0L1378.8 515.9L1379.4 514.9L1380.0 513.1L1380.6 512.5L1381.2 518.0L1381.8 514.8L1382.4 512.8L1383.0 516.1L1383.6 518.0L1384.2 519.9L1384.8 511.1L1385.4 515.4L1386.0 521.1L1386.6 513.2L1387.2 516.4L1387.8 512.5L1388.4 515.1L1389.0 517.9L1389.6 512.4L1390.2 514.1L1390.8 515.2L1391.4 514.1L1392.0 516.5L1392.6 514.2" stroke="#40ffbf"/>
<path d="M722.0 515.1L722.6 514.8L723.2 509.1L723.8 514.0L724.4 508.2L725.0 510.6L725.6 510.8L726.2 513.7L726.8 509.2L727.4 512.4L728.0 512.9L728.6 516.3L729.2 515.7L729.8 515.1L730.4 510.6L731.0 513.3L731.6 511.2L732.2 511.6L732.8 510.4L733.4 511.6L734.0 513.4L734.6 513.1L735.2 519.2L735.8 517.1L736.4 513.7L737.0 512.2L737.6 516.0L738.2 517.7L738.8 512.7L739.4 512.3L740.0 511.9L740.6 515.1L741.2 515.0L741.8 514.1L742.4 514.5L743.0 512.7L743.6 509.3L744.2 513.3L744.8 514.9L745.4 515.1L746.0 512.5L746.6 512.5L747.2 512.5L747.8 514.2L748.4 514.6L749.0 516.7L749.6 514.2L750.2 516.5L750.8 514.6L751.4 512.4L752.0 513.3L752.6 513.7L753.2 515.3L753.8 515.3L754.4 513.7L755.0 514.7L755.6 512.7L756.2 516.0L756.8 517.6L757.4 516.5L758.0 515.7L758.6 516.0L759.2 513.3L759.8 514.6L760.4 515.4L761.0 514.6L761.6 516.0L762.2 514.1L762.8 515.6L763.4 519.0L764.0 514.6L764.6 517.4L765.2 511.6L765.8 516.0L766.4 516.0L767.0 514.4L767.6 516.1L768.2 514.4L768.8 513.1L769.4 513.5L770.0 512.9L770.6 513.7L771.2 512.1L771.8 515.4L772.4 513.1L773.0 512.9L773.6 512.2L774.2 513.1L774.8 512.4L775.4 513.8L776.0 509.1L776.6 512.1L777.2 511.4L777.8 512.7L778.4 513.1L779.0 513.1L779.6 513.3L780.2 510.2L780.8 512.2L781.4 511.6L782.0 510.7L782.6 512.2L783.2 513.3L783.8 513.6L784.4 514.2L785.0 511.8L785.6 514.3L786.2 514.9L786.8 513.6L787.4 515.0L788.0 512.9L788.6 513.1L789.2 515.9L789.8 516.6L790.4 515.3L791.0 515.9L791.6 513.4L792.2 514.0L792.8 517.9L793.4 516.1L794.0 517.5L794.6 517.6L795.2 516.1L795.8 518.0L796.4 517.3L797.0 518.6L797.6 515.9L798.2 515.9L798.8 518.0L799.4 517.0L800.0 518.1L800.6 514.5L801.2 517.6L801.8 515.6L802.4 514.4L803.0 515.2L803.6 514.5L804.2 516.1L804.8 514.1L805.4 514.5L806.0 513.4L806.6 512.8L807.2 512.8L807.8 513.5L808.4 513.7L809.0 514.1L809.6 512.3L810.2 511.2L810.8 512.0L811.4 513.8L812.0 514.7L812.6 507.7L813.2 513.3L813.8 515.6L814.4 515.5L815.0 515.6L815.6 515.8L816.2 514.9L816.8 515.7L817.4 514.0L818.0 516.0L818.6 517.9L819.2 516.9L819.8 514.4L820.4 519.1L821.0 515.2L821.6 515.9L822.2 516.8L822.8 517.0L823.4 515.2L824.0 517.0L824.6 518.7L825.2 515.6L825.8 517.4L826.4 513.1L827.0 515.3L827.6 518.0L828.2 513.8L828.8 515.3L829.4 511.4L830.0 516.0L830.6 513.7L831.2 513.5L831.8 513.7L832.4 512.7L833.0 513.7L833.6 513.4L834.2 513.7L834.8 513.4L835.4 512.5L836.0 512.4L836.6 514.4L837.2 511.9L837.8 511.2L838.4 514.3L839.0 511.5L839.6 513.8L840.2 514.2L840.8 513.7L841.4 510.5L842.0 514.6L842.6 512.8L843.2 510.6L843.8 510.4L844.4 514.0L845.0 516.1L845.6 514.9L846.2 512.9L846.8 513.4L847.4 512.8L848.0 513.4L848.6 513.0L849.2 514.7L849.8 510.5L850.4 513.6L851.0 512.1L851.6 513.5L852.2 513.5L852.8 514.4L853.4 512.5L854.0 516.1L854.6 513.3L855.2 514.7L855.8 511.9L856.4 512.3L857.0 513.8L857.6 511.4L858.2 512.9L858.8 512.4L859.4 512.5L860.0 515.5L860.6 513.0L861.2 512.5L861.8 512.4L862.4 511.8L863.0 512.6L863.6 512.6L864.2 508.6L864.8 511.6L865.4 514.3L866.0 512.6L866.6 510.6L867.2 512.5L867.8 512.1L868.4 514.7L869.0 510.7L869.6 515.2L870.2 513.1L870.8 513.1L871.4 510.7L872.0 512.1L872.6 511.6L873.2 513.0L873.8 511.0L874.4 510.5L875.0 510.5L875.6 512.9L876.2 511.2L876.8 511.1L877.4 512.3L878.0 511.7L878.6 511.1L879.2 514.5L879.8 511.3L880.4 512.5L881.0 514.3L881.6 513.8L882.2 513.0L882.8 512.5L883.4 512.2L884.0 512.9L884.6 513.5L885.2 511.1L885.8 510.5L886.4 513.0L887.0 511.1L887.6 513.5L888.2 512.9L888.8 513.5L889.4 512.2L890.0 512.9L890.6 513.3L891.2 513.9L891.8 513.6L892.4 515.1L893.0 513.9L893.6 514.6L894.2 516.8L894.8 515.0L895.4 517.5L896.0 515.6L896.6 515.4L897.2 515.7L897.8 519.7L898.4 516.1L899.0 514.3L899.6 516.1L900.2 516.4L900.8 514.6L901.4 515.6L902.0 519.0L902.6 515.4L903.2 515.7L903.8 514.7L904.4 516.8L905.0 516.5L905.6 517.8L906.2 517.0L906.8 517.3L907.4 514.5L908.0 515.4L908.6 518.8L909.2 519.5L909.8 521.1L910.4 517.3L911.0 514.7L911.6 516.4L912.2 516.1L912.8 514.6L913.4 516.4L914.0 515.5L914.6 513.5L915.2 514.6L915.8 515.5L916.4 516.0L917.0 514.8L917.6 516.2L918.2 512.7L918.8 513.5L919.4 514.6L920.0 513.1L920.6 513.5L921.2 513.4L921.8 513.3L922.4 513.9L923.0 513.0L923.6 514.9L924.2 513.7L924.8 513.9L925.4 512.7L926.0 513.0L926.6 514.7L927.2 513.2L927.8 511.7L928.4 515.1L929.0 515.4L929.6 516.0L930.2 513.7L930.8 512.3L931.4 512.3L932.0 513.5L932.6 515.0L933.2 516.5L933.8 513.1L934.4 513.5L935.0 513.4L935.6 512.5L936.2 514.3L936.8 513.4L937.4 513.8L938.0 515.9L938.6 510.4L939.2 513.3L939.8 513.7L940.4 513.7L941.0 516.0L941.6 512.9L942.2 514.2L942.8 513.1L943.4 516.1L944.0 515.8L944.6 512.0L945.2 512.6L945.8 515.3L946.4 513.0L947.0 513.3L947.6 514.3L948.2 516.6L948.8 515.7L949.4 515.1L950.0 513.5L950.6 513.7L951.2 513.8L951.8 512.2L952.4 509.5L953.0 514.3L953.6 512.4L954.2 514.9L954.8 512.8L955.4 514.0L956.0 514.5L956.6 515.8L957.2 515.5L957.8 512.8L958.4 511.9L959.0 514.4L959.6 513.6L960.2 512.0L960.8 514.0L961.4 511.2L962.0 513.9L962.6 514.8L963.2 510.6L963.8 515.8L964.4 512.7L965.0 513.3L965.6 511.9L966.2 512.9L966.8 514.0L967.4 514.1L968.0 512.6L968.6 511.2L969.2 511.3L969.8 511.2L970.4 512.3L971.0 510.5L971.6 509.4L972.2 512.3L972.8 512.8L973.4 509.7L974.0 510.9L974.6 511.4L975.2 510.7L975.8 510.8L976.4 511.8L977.0 511.9L977.6 508.5L978.2 510.4L978.8 510.6L979.4 508.2L980.0 509.5L980.6 510.3L981.2 509.3L981.8 509.6L982.4 510.0L983.0 511.3L983.6 512.6L984.2 510.7L984.8 509.9L985.4 511.3L986.0 511.0L986.6 509.3L987.2 510.7L987.8 511.9L988.4 508.1L989.0 512.8L989.6 511.9L990.2 511.5L990.8 512.5L991.4 510.7L992.0 512.8L992.6 511.5L993.2 510.2L993.8 510.1L994.4 514.1L995.0 511.5L995.6 509.2L996.2 510.7L996.8 510.8L997.4 513.3L998.0 512.1L998.6 514.0L999.2 511.4L999.8 512.2L1000.4 512.4L1001.0 509.3L1001.6 510.9L1002.2 511.4L1002.8 514.0L1003.4 511.0L1004.0 510.1L1004.6 514.5L1005.2 517.2L1005.8 512.5L1006.4 514.4L1007.0 510.5L1007.6 515.5L1008.2 513.2L1008.8 515.6L1009.4 512.8L1010.0 511.9L1010.6 512.7L1011.2 512.0L1011.8 511.7L1012.4 515.6L1013.0 508.4L1013.6 512.2L1014.2 512.9L1014.8 513.9L1015.4 511.3L1016.0 511.0L1016.6 514.4L1017.2 513.8L1017.8 514.4L1018.4 509.8L1019.0 509.4L1019.6 510.9L1020.2 510.7L1020.8 511.1L1021.4 506.7L1022.0 511.4L1022.6 508.8L1023.2 509.8L1023.8 509.6L1024.4 509.5L1025.0 509.8L1025.6 510.5L1026.2 506.7L1026.8 508.0L1027.4 506.8L1028.0 508.4L1028.6 508.6L1029.2 509.6L1029.8 507.5L1030.4 512.5L1031.0 506.7L1031.6 507.6L1032.2 506.4L1032.8 506.8L1033.4 505.2L1034.0 509.2L1034.6 509.9L1035.2 503.9L1035.8 507.9L1036.4 509.9L1037.0 506.9L1037.6 509.9L1038.2 509.1L1038.8 504.7L1039.4 507.7L1040.0 513.9L1040.6 512.6L1041.2 507.0L1041.8 508.1L1042.4 510.6L1043.0 505.8L1043.6 507.1L1044.2 509.0L1044.8 509.8L1045.4 509.9L1046.0 514.6L1046.6 513.3L1047.2 511.0L1047.8 506.4L1048.4 510.5L1049.0 515.1" stroke="#60ff9f"/>
<path d="M1369.5 514.5L1370.1 517.1L1370.7 514.5L1371.3 516.5L1371.9 512.9L1372.5 517.4L1373.1 513.5L1373.7 515.6L1374.3 514.7L1374.9 514.6L1375.5 511.5L1376.1 513.8L1376.7 517.8L1377.3 516.4L1377.9 515.7L1378.5 517.2L1379.1 511.2L1379.7 520.1L1380.3 516.9L1380.9 515.1L1381.5 513.4L1382.1 514.4L1382.7 517.5L1383.3 516.2L1383.9 515.9L1384.5 512.6L1385.1 516.6L1385.7 521.4L1386.3 517.2L1386.9 516.4L1387.5 522.5L1388.1 516.1L1388.7 517.4L1389.3 518.5L1389.9 519.4L1390.5 520.6L1391.1 518.0L1391.7 519.2L1392.3 513.2L1392.9 519.6L1393.5 518.5L1394.1 520.7L1394.7 521.7L1395.3 517.0L1395.9 517.6L1396.5 520.4L1397.1 520.9L1397.7 520.9L1398.3 521.2L1398.9 519.1L1399.5 519.3L1400.1 521.7L1400.7 518.8L1401.3 516.2L1401.9 515.3L1402.5 518.2L1403.1 515.7L1403.7 518.4L1404.3 516.5L1404.9 513.0L1405.5 514.5L1406.1 513.1L1406.7 515.4L1407.3 513.5L1407.9 514.7L1408.5 515.6L1409.1 515.2L1409.7 515.7L1410.3 514.9L1410.9 515.0L1411.5 518.0L1412.1 516.1L1412.7 518.1L1413.3 517.0L1413.9 517.2L1414.5 518.4L1415.1 516.1L1415.7 517.7L1416.3 517.3L1416.9 516.8L1417.5 518.7L1418.1 517.3L1418.7 517.6L1419.3 520.0L1419.9 518.7L1420.5 517.2L1421.1 518.3L1421.7 518.1L1422.3 517.9L1422.9 518.5L1423.5 518.6L1424.1 516.9L1424.7 516.6L1425.3 519.4L1425.9 519.4L1426.5 518.8L1427.1 520.5L1427.7 519.0L1428.3 519.1L1428.9 519.0L1429.5 521.6L1430.1 521.8L1430.7 520.6L1431.3 520.3L1431.9 520.8L1432.5 520.3L1433.1 518.4L1433.7 523.2L1434.3 520.1L1434.9 522.8L1435.5 522.2L1436.1 520.2L1436.7 521.0L1437.3 520.2L1437.9 522.1L1438.5 521.8L1439.1 521.3L1439.7 521.6L1440.3 524.5L1440.9 522.5L1441.5 520.7L1442.1 522.0L1442.7 520.7L1443.3 521.5L1443.9 519.8L1444.5 518.3L1445.1 522.0L1445.7 520.9L1446.3 517.2L1446.9 520.7L1447.5 522.4L1448.1 522.0L1448.7 523.4L1449.3 523.3L1449.9 521.7L1450.5 520.2L1451.1 524.1L1451.7 523.4L1452.3 521.1L1452.9 524.1L1453.5 521.4L1454.1 520.6L1454.7 520.4L1455.3 521.7L1455.9 521.2L1456.5 523.6L1457.1 521.2L1457.7 524.2L1458.3 521.7L1458.9 520.2L1459.5 520.0L1460.1 520.7L1460.7 521.8L1461.3 521.4L1461.9 522.0L1462.5 518.9L1463.1 521.8L1463.7 520.6L1464.3 518.6L1464.9 519.7L1465.5 520.1L1466.1 519.9L1466.7 521.6L1467.3 520.7L1467.9 520.2L1468.5 522.0L1469.1 520.5L1469.7 519.0L1470.3 519.0L1470.9 520.2L1471.5 516.6L1472.1 518.5L1472.7 516.8L1473.3 517.0L1473.9 517.2L1474.5 518.5L1475.1 519.0L1475.7 519.3L1476.3 516.5L1476.9 518.7L1477.5 515.8L1478.1 517.4L1478.7 516.5L1479.3 518.2L1479.9 518.8L1480.5 520.9L1481.1 519.4L1481.7 517.5L1482.3 519.8L1482.9 518.1L1483.5 519.6L1484.1 518.0L1484.7 517.2L1485.3 519.2L1485.9 518.5L1486.5 519.2L1487.1 517.3L1487.7 517.3L1488.3 519.1L1488.9 517.1L1489.5 518.4L1490.1 517.5L1490.7 517.2L1491.3 518.5L1491.9 517.3L1492.5 515.4L1493.1 518.7L1493.7 518.9L1494.3 518.0L1494.9 517.6L1495.5 516.5L1496.1 517.6L1496.7 515.5L1497.3 515.9L1497.9 516.4L1498.5 514.3L1499.1 517.1L1499.7 517.1L1500.3 516.2L1500.9 517.5L1501.5 518.5L1502.1 515.8L1502.7 517.8L1503.3 516.6L1503.9 518.5L1504.5 517.2L1505.1 517.5L1505.7 519.2L1506.3 514.7L1506.9 517.2L1507.5 517.0L1508.1 516.9L1508.7 517.1L1509.3 517.3L1509.9 519.2L1510.5 519.1L1511.1 516.2L1511.7 518.3L1512.3 516.3L1512.9 515.5L1513.5 516.0L1514.1 513.9L1514.7 516.0L1515.3 518.5L1515.9 517.3L1516.5 518.4L1517.1 516.7L1517.7 516.0L1518.3 517.2L1518.9 513.5L1519.5 517.6L1520.1 516.8L1520.7 517.4L1521.3 517.2L1521.9 517.1L1522.5 515.9L1523.1 517.2L1523.7 519.5L1524.3 517.6L1524.9 519.3L1525.5 514.9L1526.1 518.1L1526.7 516.3L1527.3 518.9L1527.9 516.1L1528.5 515.4L1529.1 516.6L1529.7 515.3L1530.3 516.5L1530.9 518.4L1531.5 518.0L1532.1 517.4L1532.7 515.9L1533.3 517.8L1533.9 515.5L1534.5 515.2L1535.1 515.8L1535.7 516.8L1536.3 514.4L1536.9 518.2L1537.5 520.7L1538.1 516.6L1538.7 519.3L1539.3 515.9L1539.9 518.0L1540.5 514.8L1541.1 514.0L1541.7 516.1L1542.3 518.2L1542.9 515.1L1543.5 516.5L1544.1 515.3L1544.7 518.2L1545.3 516.5L1545.9 515.3L1546.5 519.0L1547.1 516.2L1547.7 515.8L1548.3 516.5L1548.9 515.4L1549.5 516.3L1550.1 515.3L1550.7 516.7L1551.3 516.8L1551.9 516.7L1552.5 515.8L1553.1 515.8L1553.7 516.8L1554.3 518.1L1554.9 515.7L1555.5 517.1L1556.1 517.6L1556.7 518.4L1557.3 514.7L1557.9 514.8L1558.5 516.3L1559.1 518.6L1559.7 514.0L1560.3 514.9L1560.9 515.8L1561.5 516.8L1562.1 518.1L1562.7 514.3L1563.3 515.6L1563.9 520.6L1564.5 518.0L1565.1 517.9L1565.7 515.7L1566.3 515.1L1566.9 516.6L1567.5 513.9L1568.1 518.4L1568.7 518.3L1569.3 517.1L1569.9 516.2L1570.5 517.5L1571.1 516.1L1571.7 516.8L1572.3 517.2L1572.9 518.0L1573.5 512.7L1574.1 515.3L1574.7 516.0L1575.3 515.3L1575.9 516.4L1576.5 517.1L1577.1 516.9L1577.7 516.1L1578.3 517.3L1578.9 517.5L1579.5 515.3L1580.1 519.3L1580.7 516.7L1581.3 514.5L1581.9 514.4L1582.5 516.9L1583.1 516.6L1583.7 514.8L1584.3 516.5L1584.9 516.4L1585.5 514.9L1586.1 516.0L1586.7 514.8L1587.3 515.7L1587.9 518.4L1588.5 516.5L1589.1 516.6L1589.7 514.8L1590.3 516.3L1590.9 515.8L1591.5 516.1L1592.1 516.0L1592.7 516.3L1593.3 518.2L1593.9 516.2L1594.5 516.6L1595.1 515.5L1595.7 516.5L1596.3 516.3L1596.9 515.1L1597.5 515.7L1598.1 516.9L1598.7 517.0L1599.3 515.7L1599.9 514.4L1600.5 518.1L1601.1 517.7L1601.7 515.6L1602.3 516.4L1602.9 515.8L1603.5 516.6L1604.1 513.0L1604.7 513.9L1605.3 516.6L1605.9 517.1L1606.5 518.5L1607.1 516.3L1607.7 515.3L1608.3 518.2L1608.9 513.4L1609.5 513.8L1610.1 514.5L1610.7 516.0L1611.3 515.3L1611.9 515.7L1612.5 514.3L1613.1 514.2L1613.7 514.9L1614.3 515.9L1614.9 517.5L1615.5 518.0L1616.1 513.9L1616.7 511.3L1617.3 517.3L1617.9 514.7L1618.5 515.4L1619.1 517.5L1619.7 514.8L1620.3 516.9L1620.9 516.0L1621.5 517.8L1622.1 518.0L1622.7 514.6L1623.3 517.0L1623.9 514.0L1624.5 516.3L1625.1 512.9L1625.7 517.4L1626.3 517.0L1626.9 517.1L1627.5 514.7L1628.1 517.0L1628.7 515.2L1629.3 517.9L1629.9 515.7L1630.5 516.4L1631.1 516.8L1631.7 519.1L1632.3 515.7L1632.9 516.2L1633.5 516.3L1634.1 515.1L1634.7 516.6L1635.3 516.6L1635.9 517.1L1636.5 516.0L1637.1 516.5L1637.7 515.5L1638.3 516.5L1638.9 514.9L1639.5 513.4L1640.1 515.1L1640.7 513.4L1641.3 516.6L1641.9 516.9L1642.5 515.1L1643.1 514.5L1643.7 514.5L1644.3 515.9L1644.9 516.5L1645.5 515.8L1646.1 516.4L1646.7 515.3L1647.3 516.2L1647.9 515.8L1648.5 514.6L1649.1 514.7L1649.7 516.8L1650.3 513.6L1650.9 517.3L1651.5 515.1L1652.1 514.0L1652.7 519.5L1653.3 517.2L1653.9 514.2L1654.5 514.0L1655.1 515.1L1655.7 515.4L1656.3 515.1L1656.9 515.0L1657.5 514.4L1658.1 516.2L1658.7 516.5L1659.3 515.8L1659.9 515.5L1660.5 514.4L1661.1 517.1L1661.7 519.4L1662.3 515.9L1662.9 515.0L1663.5 516.0L1664.1 514.4L1664.7 515.6L1665.3 514.7L1665.9 515.1L1666.5 513.8L1667.1 513.9L1667.7 514.5L1668.3 515.7L1668.9 517.7L1669.5 514.5L1670.1 516.4L1670.7 513.2L1671.3 514.0L1671.9 512.7L1672.5 513.2L1673.1 514.0L1673.7 515.7L1674.3 513.0L1674.9 519.0L1675.5 513.2L1676.1 516.6L1676.7 514.2L1677.3 514.6L1677.9 513.8L1678.5 512.5L1679.1 511.0L1679.7 514.9L1680.3 515.0L1680.9 514.1L1681.5 515.7L1682.1 515.1L1682.7 516.0L1683.3 519.9L1683.9 514.2L1684.5 516.6L1685.1 516.7L1685.7 515.3L1686.3 517.6L1686.9 512.8L1687.5 511.6L1688.1 518.6L1688.7 514.2L1689.3 512.6L1689.9 511.5L1690.5 515.0L1691.1 514.3L1691.7 514.3L1692.3 513.1L1692.9 514.5L1693.5 516.2L1694.1 509.8L1694.7 515.3L1695.3 518.5L1695.9 516.7L1696.5 517.9L1697.1 518.6L1697.7 514.6L1698.3 512.7L1698.9 515.8L1699.5 517.0L1700.1 516.5L1700.7 514.3L1701.3 514.0L1701.9 514.5L1702.5 509.0L1703.1 516.7L1703.7 516.7L1704.3 513.5L1704.9 512.0L1705.5 517.0L1706.1 512.4L1706.7 516.9L1707.3 516.4L1707.9 513.7L1708.5 517.4L1709.1 511.9L1709.7 513.8L1710.3 514.5" stroke="#80ff80"/>
<path d="M215.0 515.8L215.6 515.0L216.2 515.3L216.8 515.7L217.4 515.9L218.0 514.7L218.6 517.3L219.2 516.1L219.8 513.8L220.4 514.1L221.0 516.1L221.6 515.4L222.2 516.3L222.8 516.6L223.4 516.2L224.0 513.9L224.6 514.1L225.2 516.3L225.8 516.1L226.4 517.1L227.0 514.9L227.6 515.4L228.2 515.5L228.8 515.1L229.4 514.7L230.0 516.5L230.6 518.0L231.2 516.6L231.8 517.3L232.4 517.2L233.0 517.4L233.6 514.9L234.2 517.3L234.8 514.7L235.4 517.2L236.0 518.7L236.6 517.1L237.2 518.1L237.8 515.5L238.4 518.3L239.0 516.8L239.6 513.4L240.2 515.2L240.8 516.1L241.4 513.6L242.0 515.7L242.6 515.8L243.2 515.7L243.8 514.1L244.4 515.3L245.0 518.9L245.6 518.1L246.2 518.0L246.8 516.2L247.4 517.8L248.0 515.9L248.6 516.6L249.2 514.6L249.8 516.9L250.4 519.0L251.0 515.1L251.6 514.8L252.2 515.9L252.8 515.5L253.4 513.3L254.0 514.8L254.6 516.4L255.2 515.8L255.8 516.5L256.4 515.1L257.0 516.6L257.6 518.3L258.2 517.3L258.8 515.0L259.4 517.5L260.0 515.6L260.6 518.3L261.2 514.2L261.8 516.7L262.4 514.6L263.0 518.2L263.6 515.0L264.2 516.7L264.8 518.0L265.4 517.8L266.0 520.2L266.6 515.9L267.2 514.8L267.8 516.4L268.4 515.4L269.0 516.3L269.6 516.3L270.2 520.3L270.8 515.1L271.4 514.3L272.0 514.7L272.6 517.7L273.2 516.5L273.8 516.1L274.4 516.6L275.0 515.2L275.6 517.1L276.2 513.8L276.8 514.2L277.4 516.1L278.0 516.7L278.6 515.3L279.2 515.9L279.8 516.2L280.4 515.2L281.0 516.4L281.6 515.7L282.2 513.9L282.8 516.2L283.4 515.6L284.0 517.2L284.6 515.2L285.2 514.7L285.8 517.5L286.4 514.6L287.0 515.6L287.6 521.6L288.2 513.6L288.8 516.1L289.4 514.6L290.0 514.9L290.6 517.7L291.2 514.1L291.8 510.3L292.4 513.2L293.0 517.2L293.6 514.7L294.2 516.6L294.8 515.1L295.4 516.6L296.0 511.6L296.6 515.5L297.2 514.3L297.8 516.7L298.4 518.7L299.0 518.6L299.6 514.2L300.2 514.0L300.8 514.3L301.4 517.8L302.0 513.9L302.6 516.9L303.2 516.6L303.8 512.7L304.4 514.1L305.0 515.7L305.6 513.5L306.2 517.5L306.8 514.3L307.4 517.0L308.0 515.0L308.6 513.7L309.2 514.3L309.8 516.2L310.4 513.8L311.0 517.4L311.6 518.0L312.2 512.7L312.8 516.1L313.4 511.6L314.0 515.8L314.6 511.6L315.2 515.5L315.8 516.1L316.4 518.2L317.0 516.1L317.6 515.0L318.2 515.4L318.8 517.3L319.4 511.6L320.0 513.6L320.6 513.3L321.2 518.6L321.8 518.1L322.4 519.1L323.0 517.5L323.6 516.4L324.2 518.2L324.8 513.9L325.4 520.7L326.0 511.5L326.6 515.7L327.2 519.7L327.8 512.9L328.4 521.6L329.0 516.6L329.6 515.4L330.2 515.3L330.8 519.5L331.4 512.0L332.0 509.6L332.6 512.9L333.2 520.5L333.8 510.9L334.4 516.3L335.0 517.4L335.6 515.8L343.9 515.8L344.5 518.9L345.1 515.8L345.7 514.6L346.3 515.6L346.9 512.8L347.5 512.1L348.1 518.4L348.7 516.6L349.3 515.0L349.9 518.8L350.5 510.3L351.1 513.6L351.7 516.5L352.3 515.5L352.9 517.0L353.5 512.7L354.1 514.9L354.7 515.2L355.3 515.7L355.9 515.0L356.5 516.4L357.1 514.9L357.7 517.5L358.3 517.3L358.9 511.0L359.5 518.3L360.1 514.6L360.7 515.2L361.3 513.9L361.9 516.7L362.5 515.0L363.1 514.1L363.7 513.7L364.3 515.2L364.9 515.0L365.5 514.3L366.1 512.7L366.7 515.6L367.3 516.0L367.9 515.9L368.5 515.8L369.1 514.6L369.7 516.8L370.3 515.6L370.9 514.4L371.5 513.2L372.1 515.9L372.7 516.9L373.3 515.4L373.9 513.9L374.5 515.6L375.1 519.1L375.7 516.0L376.3 515.4L376.9 517.2L377.5 517.5L378.1 515.0L378.7 513.6L379.3 514.2L379.9 516.1L380.5 513.4L381.1 514.1L381.7 516.2L382.3 517.2L382.9 514.2L383.5 515.5L384.1 514.2L384.7 515.8L385.3 516.7L385.9 513.1L386.5 513.3L387.1 516.5L387.7 518.2L388.3 510.0L388.9 514.2L389.5 514.7L390.1 514.6L390.7 516.0L391.3 515.8L391.9 512.8L392.5 516.6L393.1 515.1L393.7 515.6L394.3 516.1L394.9 515.6L395.5 515.8L396.1 512.5L396.7 513.9L397.3 513.7L397.9 517.4L398.5 514.2L399.1 516.4L399.7 514.4L400.3 515.6L400.9 513.9L401.5 514.2L402.1 516.4L402.7 513.2L403.3 515.1L403.9 515.5L404.5 514.6L405.1 514.0L405.7 517.3L406.3 512.5L406.9 516.0L407.5 511.1L408.1 515.4L408.7 516.1L409.3 514.5L409.9 514.7L410.5 514.4L411.1 513.5L411.7 515.8L412.3 516.2L412.9 514.4L413.5 513.1L414.1 514.4L414.7 514.7L415.3 513.2L415.9 514.4L416.5 515.1L417.1 515.6L417.7 519.8L418.3 514.6L418.9 513.6L419.5 513.7L420.1 514.2L420.7 515.0L421.3 512.3L421.9 515.4L422.5 515.3L423.1 515.9L423.7 513.2L424.3 512.2L424.9 513.2L425.5 511.9L426.1 513.8L426.7 514.6L427.3 514.5L427.9 514.0L428.5 514.2L429.1 514.4L429.7 515.4L430.3 516.2L430.9 514.5L431.5 510.7L432.1 516.3L432.7 512.5L433.3 512.9L433.9 513.4L434.5 514.6L435.1 513.9L435.7 514.1L436.3 514.4L436.9 514.0L437.5 512.3L438.1 512.8L438.7 512.9L439.3 513.3L439.9 516.8L440.5 514.4L441.1 512.0L441.7 515.2L442.3 513.1L442.9 515.4L443.5 514.5L444.1 516.2L444.7 512.3L445.3 514.6L445.9 516.2L446.5 512.0L447.1 513.1L447.7 514.3L448.3 516.2L448.9 512.0L449.5 512.1L450.1 514.4L450.7 514.8L451.3 516.0L451.9 512.7L452.5 514.6L453.1 515.0L453.7 514.1L454.3 513.6L454.9 513.5L455.5 512.4L456.1 514.6L456.7 512.7L457.3 513.8L457.9 513.2L458.5 514.7L459.1 513.3L459.7 514.6L460.3 516.2L460.9 513.8L461.5 513.8L462.1 511.4L462.7 520.3L463.3 514.7L463.9 513.6L464.5 512.3L465.1 513.8L465.7 513.9L466.3 513.9L466.9 514.3L467.5 515.0L468.1 515.2L468.7 516.2L469.3 515.6L469.9 514.6L470.5 516.4L471.1 514.2L471.7 512.5L472.3 513.1L472.9 513.1L473.5 511.6L474.1 515.5L474.7 509.0L475.3 513.0L475.9 513.7L476.5 512.0L477.1 512.3L477.7 513.7L478.3 513.6L478.9 513.1L479.5 515.5L480.1 513.9L480.7 512.4L481.3 514.4L481.9 514.2L482.5 512.2L483.1 514.3L483.7 512.9L484.3 510.3L484.9 514.0L485.5 511.8L486.1 512.6L486.7 513.2L487.3 511.7L487.9 511.0L488.5 513.3L489.1 512.8L489.7 511.5L490.3 513.7L490.9 512.8L491.5 514.0L492.1 510.3L492.7 514.6L493.3 513.3L493.9 514.6L494.5 512.5L495.1 514.3L495.7 512.8L496.3 514.1L496.9 516.2L497.5 512.8L498.1 514.2L498.7 515.0L499.3 513.9L499.9 512.2L500.5 513.7L501.1 516.6L501.7 512.1L502.3 514.7L502.9 514.1L503.5 514.6L504.1 513.7L504.7 514.4L505.3 515.8L505.9 514.2L506.5 515.0L507.1 512.8L507.7 514.3L508.3 514.9L508.9 516.7L509.5 514.0L510.1 516.3L510.7 515.0L511.3 517.3L511.9 512.7L512.5 514.3L513.1 516.3L513.7 516.5L514.3 515.6L514.9 519.0L515.5 516.3L516.1 517.4L516.7 514.6L517.3 518.1L517.9 519.4L518.5 516.4L519.1 514.5L519.7 516.4L520.3 517.9L520.9 517.5L521.5 517.4L522.1 513.5L522.7 514.5L523.3 516.4L523.9 516.2L524.5 516.2L525.1 515.1L525.7 515.7L526.3 514.2L526.9 513.6L527.5 515.4L528.1 513.6L528.7 514.7L529.3 511.7L529.9 515.7L530.5 515.7L531.1 514.6L531.7 514.7L532.3 515.3L532.9 511.8L533.5 514.1L534.1 516.1L534.7 515.0L535.3 512.2L535.9 514.5L536.5 514.9L537.1 517.2L537.7 514.8L538.3 512.0L538.9 517.1L539.5 513.3L540.1 520.4L540.7 520.0L541.3 515.9L541.9 512.4L542.5 518.0L543.1 510.5L543.7 515.2L544.3 514.5L544.9 513.3L545.5 519.3L546.1 514.9L546.7 512.6L547.3 517.5L547.9 516.0L548.5 514.8L549.1 520.4L549.7 514.7L550.3 515.8L1937.5 515.8" stroke="#9fff60"/>
<path d="M849.4 514.9L850.0 515.1L850.6 517.6L851.2 510.9L851.8 508.9L852.4 512.4L853.0 513.9L853.6 511.7L854.2 516.6L854.8 517.6L855.4 515.3L856.0 518.2L856.6 507.3L857.2 514.0L857.8 515.4L858.4 515.9L859.0 507.9L859.6 509.1L860.2 509.2L860.8 507.1L861.4 512.0L862.0 510.4L862.6 512.2L863.2 511.1L863.8 512.4L864.4 512.5L865.0 513.3L865.6 516.3L866.2 512.3L866.8 515.6L867.4 514.8L868.0 515.3L868.6 514.4L869.2 515.9L869.8 514.3L870.4 513.9L871.0 511.3L871.6 514.7L872.2 516.9L872.8 513.8L873.4 515.8L874.0 515.2L874.6 514.7L875.2 511.9L875.8 514.1L876.4 513.5L877.0 514.2L877.6 513.7L878.2 515.7L878.8 513.4L879.4 513.2L880.0 514.6L880.6 513.2L881.2 512.7L881.8 515.7L882.4 512.7L883.0 512.8L883.6 513.3L884.2 513.7L884.8 512.7L885.4 514.3L886.0 512.5L886.6 514.4L887.2 515.1L887.8 514.3L888.4 515.2L889.0 515.9L889.6 515.7L890.2 513.4L890.8 514.6L891.4 516.4L892.0 513.2L892.6 512.6L893.2 517.6L893.8 515.7L894.4 516.0L895.0 514.5L895.6 513.2L896.2 513.1L896.8 516.1L897.4 515.3L898.0 514.8L898.6 513.7L899.2 516.4L899.8 515.3L900.4 514.3L901.0 516.9L901.6 514.8L902.2 514.8L902.8 514.0L903.4 517.2L904.0 512.9L904.6 515.7L905.2 519.2L905.8 514.3L906.4 517.1L907.0 515.5L907.6 516.3L908.2 516.1L908.8 516.1L909.4 517.3L910.0 514.7L910.6 516.4L911.2 518.0L911.8 516.4L912.4 516.6L913.0 516.5L913.6 515.5L914.2 516.7L914.8 514.3L915.4 514.9L916.0 514.4L916.6 516.8L917.2 512.9L917.8 514.6L918.4 518.1L919.0 514.1L919.6 515.2L920.2 514.8L920.8 513.7L921.4 514.8L922.0 513.2L922.6 511.6L923.2 515.3L923.8 513.4L924.4 513.7L925.0 515.1L925.6 513.5L926.2 513.5L926.8 515.5L927.4 514.1L928.0 516.1L928.6 515.0L929.2 514.4L929.8 516.8L930.4 516.5L931.0 515.7L931.6 515.8L932.2 517.9L932.8 517.8L933.4 518.7L934.0 516.3L934.6 515.8L935.2 516.4L935.8 516.4L936.4 514.3L937.0 515.0L937.6 517.5L938.2 515.6L938.8 515.7L939.4 515.6L940.0 513.7L940.6 515.6L941.2 513.3L941.8 514.6L942.4 515.4L943.0 513.9L943.6 514.0L944.2 514.2L944.8 515.2L945.4 515.1L946.0 514.7L946.6 514.8L947.2 512.4L947.8 515.3L948.4 513.8L949.0 512.8L949.6 516.6L950.2 513.3L950.8 515.4L951.4 513.3L952.0 515.0L952.6 515.5L953.2 513.3L953.8 516.1L954.4 513.1L955.0 515.4L955.6 514.5L956.2 513.6L956.8 517.4L957.4 513.7L958.0 515.4L958.6 511.0L959.2 515.6L959.8 514.1L960.4 513.5L961.0 513.4L961.6 513.8L962.2 514.1L962.8 514.9L963.4 512.0L964.0 514.9L964.6 512.0L965.2 513.1L965.8 514.0L966.4 513.9L967.0 513.6L967.6 512.7L968.2 514.0L968.8 510.9L969.4 511.2L970.0 513.9L970.6 511.4L971.2 511.3L971.8 509.5L972.4 512.3L973.0 511.0L973.6 510.1L974.2 511.0L974.8 510.8L975.4 508.1L976.0 510.9L976.6 511.4L977.2 510.3L977.8 512.1L978.4 510.8L979.0 511.4L979.6 511.4L980.2 509.7L980.8 510.0L981.4 512.3L982.0 510.2L982.6 512.9L983.2 509.0L983.8 512.1L984.4 511.6L985.0 508.8L985.6 507.7L986.2 511.1L986.8 512.9L987.4 511.3L988.0 510.4L988.6 509.3L989.2 510.3L989.8 510.8L990.4 512.0L991.0 510.4L991.6 509.1L992.2 509.9L992.8 510.9L993.4 511.2L994.0 510.7L994.6 509.5L995.2 510.7L995.8 512.0L996.4 510.8L997.0 509.9L997.6 511.0L998.2 512.4L998.8 513.7L999.4 510.0L1000.0 512.9L1000.6 509.3L1001.2 509.9L1001.8 512.1L1002.4 510.9L1003.0 512.6L1003.6 513.8L1004.2 511.7L1004.8 510.0L1005.4 513.0L1006.0 512.5L1006.6 511.4L1007.2 512.8L1007.8 510.3L1008.4 511.1L1009.0 511.7L1009.6 512.4L1010.2 512.0L1010.8 513.3L1011.4 513.0L1012.0 514.4L1012.6 511.9L1013.2 516.0L1013.8 511.1L1014.4 510.4L1015.0 514.4L1015.6 511.5L1016.2 510.1L1016.8 511.8L1017.4 513.1L1018.0 513.7L1018.6 515.4L1019.2 508.6L1019.8 512.4L1020.4 513.2L1021.0 512.3L1021.6 515.1L1022.2 512.6L1022.8 512.2L1023.4 510.0L1024.0 511.3L1024.6 510.9L1025.2 514.0L1025.8 509.7L1026.4 511.3L1027.0 511.8L1027.6 512.3L1028.2 510.9L1028.8 511.0L1029.4 511.9L1030.0 511.3L1030.6 510.0L1031.2 510.0L1031.8 511.1L1032.4 510.4L1033.0 510.7L1033.6 510.5L1034.2 509.8L1034.8 511.0L1035.4 509.1L1036.0 511.5L1036.6 511.9L1037.2 511.5L1037.8 509.0L1038.4 511.4L1039.0 510.2L1039.6 509.8L1040.2 509.3L1040.8 509.9L1041.4 509.2L1042.0 512.7L1042.6 509.3L1043.2 510.0L1043.8 511.5L1044.4 510.7L1045.0 511.0L1045.6 510.3L1046.2 511.3L1046.8 511.6L1047.4 511.6L1048.0 511.1L1048.6 510.6L1049.2 511.0L1049.8 512.3L1050.4 510.9L1051.0 511.2L1051.6 510.5L1052.2 512.6L1052.8 512.5L1053.4 513.3L1054.0 509.8L1054.6 510.7L1055.2 510.3L1055.8 511.1L1056.4 511.0L1057.0 514.5L1057.6 509.7L1058.2 511.8L1058.8 509.2L1059.4 511.6L1060.0 510.2L1060.6 509.8L1061.2 509.8L1061.8 511.8L1062.4 506.6L1063.0 513.2L1063.6 513.2L1064.2 509.5L1064.8 509.4L1065.4 512.1L1066.0 511.4L1066.6 510.2L1067.2 509.7L1067.8 512.1L1068.4 510.3L1069.0 510.7L1069.6 511.9L1070.2 512.8L1070.8 511.8L1071.4 511.4L1072.0 508.6L1072.6 512.8L1073.2 510.7L1073.8 513.1L1074.4 512.2L1075.0 511.6L1075.6 513.6L1076.2 513.3L1076.8 511.2L1077.4 513.3L1078.0 512.6L1078.6 514.6L1079.2 513.2L1079.8 511.7L1080.4 511.0L1081.0 511.2L1081.6 514.5L1082.2 512.1L1082.8 512.9L1083.4 512.9L1084.0 513.5L1084.6 511.5L1085.2 513.9L1085.8 514.1L1086.4 515.7L1087.0 512.7L1087.6 510.5L1088.2 513.1L1088.8 510.7L1089.4 512.5L1090.0 515.2L1090.6 511.7L1091.2 514.4L1091.8 511.6L1092.4 516.1L1093.0 512.9L1093.6 512.9L1094.2 516.4L1094.8 512.1L1095.4 514.2L1096.0 512.7L1096.6 513.7L1097.2 513.6L1097.8 512.9L1098.4 513.3L1099.0 514.7L1099.6 513.6L1100.2 513.9L1100.8 512.9L1101.4 515.6L1102.0 513.2L1102.6 512.7L1103.2 515.5L1103.8 511.1L1104.4 513.6L1105.0 513.8L1105.6 512.5L1106.2 515.0L1106.8 513.2L1107.4 511.7L1108.0 514.5L1108.6 512.2L1109.2 514.9L1109.8 512.6L1110.4 514.8L1111.0 513.1L1111.6 513.1L1112.2 511.6L1112.8 515.2L1113.4 513.3L1114.0 511.2L1114.6 511.9L1115.2 512.0L1115.8 513.0L1116.4 512.1L1117.0 512.7L1117.6 511.9L1118.2 511.2L1118.8 507.0L1119.4 511.5L1120.0 510.4L1120.6 512.7L1121.2 510.5L1121.8 513.5L1122.4 510.8L1123.0 512.2L1123.6 511.7L1124.2 510.5L1124.8 511.6L1125.4 513.6L1126.0 510.1L1126.6 510.6L1127.2 513.0L1127.8 515.5L1128.4 510.7L1129.0 511.2L1129.6 513.3L1130.2 511.7L1130.8 510.2L1131.4 511.9L1132.0 513.3L1132.6 512.6L1133.2 511.5L1133.8 509.0L1134.4 512.0L1135.0 511.1L1135.6 510.9L1136.2 512.3L1136.8 511.3L1137.4 510.5L1138.0 509.1L1138.6 512.7L1139.2 510.3L1139.8 508.6L1140.4 510.5L1141.0 508.9L1141.6 509.0L1142.2 509.6L1142.8 506.6L1143.4 508.9L1144.0 508.8L1144.6 511.3L1145.2 507.3L1145.8 511.4L1146.4 510.2L1147.0 508.3L1147.6 505.8L1148.2 505.9L1148.8 506.8L1149.4 507.5L1150.0 506.4L1150.6 510.0L1151.2 510.4L1151.8 509.0L1152.4 508.2L1153.0 507.0L1153.6 508.2L1154.2 508.5L1154.8 509.9L1155.4 504.9L1156.0 507.3L1156.6 512.5L1157.2 509.1L1157.8 511.8L1158.4 510.1L1159.0 510.3L1159.6 510.3L1160.2 513.0L1160.8 510.5L1161.4 511.6L1162.0 510.9L1162.6 511.3L1163.2 509.9L1163.8 509.6L1164.4 514.4L1165.0 510.4L1165.6 509.3L1166.2 511.2L1166.8 510.5L1167.4 510.0L1168.0 515.1L1168.6 509.5L1169.2 510.6L1169.8 511.0L1170.4 509.9L1171.0 513.2L1171.6 511.7L1172.2 512.3L1172.8 513.3L1173.4 513.6L1174.0 514.1L1174.6 513.6L1175.2 515.6L1175.8 515.4L1176.4 515.5L1177.0 514.4L1177.6 519.1L1178.2 512.3L1178.8 518.2L1179.4 514.2L1180.0 516.5L1180.6 512.2L1181.2 516.2L1181.8 523.1L1182.4 517.3L1183.0 516.1L1183.6 519.1L1184.2 520.3L1184.8 515.0L1185.4 522.0L1186.0 515.9L1186.6 518.3L1187.2 515.9L1187.8 516.5L1188.4 518.1L1189.0 516.0L1189.6 519.7L1190.2 519.7L1190.8 515.1L1191.4 515.2L1192.0 515.1L1192.6 513.7L1193.2 520.9L1193.8 512.4L1194.4 519.5L1195.0 516.1L1195.6 514.0L1196.2 516.4L1196.8 517.0L1197.4 520.2L1198.0 509.5L1198.6 513.5L1199.2 517.7L1199.8 514.9" stroke="#bfff40"/>
<path d="M1580.3 515.0L1580.9 523.9L1581.5 514.7L1582.1 517.2L1582.7 520.4L1583.3 517.7L1583.9 516.5L1584.5 516.6L1585.1 515.0L1585.7 523.2L1586.3 517.0L1586.9 516.6L1587.5 514.8L1588.1 523.0L1588.7 515.8L1589.3 515.9L1589.9 516.4L1590.5 518.4L1591.1 518.9L1591.7 519.6L1592.3 516.9L1592.9 522.0L1593.5 519.8L1594.1 516.1L1594.7 521.3L1595.3 513.4L1595.9 516.4L1596.5 514.5L1597.1 517.0L1597.7 519.6L1598.3 515.6L1598.9 514.5L1599.5 519.2L1600.1 517.7L1600.7 512.5L1601.3 522.5L1601.9 517.7L1602.5 518.1L1603.1 515.9L1603.7 517.2L1604.3 515.7L1604.9 517.2L1605.5 518.2L1606.1 518.1L1606.7 519.5L1607.3 519.0L1607.9 517.0L1608.5 514.7L1609.1 518.4L1609.7 518.7L1610.3 517.9L1610.9 515.9L1611.5 520.9L1612.1 517.4L1612.7 514.7L1613.3 517.9L1613.9 520.2L1614.5 518.8L1615.1 518.4L1615.7 518.3L1616.3 518.9L1616.9 519.2L1617.5 518.4L1618.1 518.6L1618.7 519.2L1619.3 518.4L1619.9 517.8L1620.5 520.5L1621.1 514.4L1621.7 517.2L1622.3 520.0L1622.9 516.0L1623.5 517.7L1624.1 518.1L1624.7 517.3L1625.3 517.7L1625.9 517.8L1626.5 517.1L1627.1 518.1L1627.7 522.1L1628.3 515.2L1628.9 518.8L1629.5 517.7L1630.1 518.0L1630.7 516.7L1631.3 519.3L1631.9 518.9L1632.5 517.7L1633.1 517.7L1633.7 517.9L1634.3 516.9L1634.9 516.2L1635.5 519.2L1636.1 519.1L1636.7 519.9L1637.3 520.3L1637.9 519.4L1638.5 519.5L1639.1 520.8L1639.7 518.0L1640.3 517.8L1640.9 518.7L1641.5 517.4L1642.1 519.4L1642.7 519.6L1643.3 519.8L1643.9 522.2L1644.5 518.1L1645.1 520.1L1645.7 519.3L1646.3 518.8L1646.9 521.2L1647.5 517.4L1648.1 519.6L1648.7 518.8L1649.3 517.6L1649.9 518.2L1650.5 518.3L1651.1 521.1L1651.7 517.9L1652.3 519.4L1652.9 519.8L1653.5 520.7L1654.1 519.7L1654.7 518.7L1655.3 517.5L1655.9 517.3L1656.5 518.1L1657.1 520.1L1657.7 516.2L1658.3 518.6L1658.9 519.6L1659.5 518.3L1660.1 519.3L1660.7 521.6L1661.3 519.3L1661.9 517.4L1662.5 516.5L1663.1 517.7L1663.7 520.1L1664.3 520.9L1664.9 519.7L1665.5 518.8L1666.1 519.0L1666.7 519.1L1667.3 521.3L1667.9 518.8L1668.5 517.5L1669.1 522.7L1669.7 519.2L1670.3 518.9L1670.9 518.5L1671.5 518.5L1672.1 520.0L1672.7 521.0L1673.3 519.5L1673.9 519.2L1674.5 517.7L1675.1 522.4L1675.7 517.5L1676.3 520.3L1676.9 519.4L1677.5 520.6L1678.1 520.4L1678.7 518.5L1679.3 520.0L1679.9 518.6L1680.5 520.4L1681.1 518.2L1681.7 520.6L1682.3 519.2L1682.9 518.9L1683.5 514.5L1684.1 516.5L1684.7 517.2L1685.3 519.1L1685.9 519.8L1686.5 518.6L1687.1 515.8L1687.7 519.9L1688.3 518.2L1688.9 517.5L1689.5 516.5L1690.1 518.4L1690.7 518.6L1691.3 519.8L1691.9 519.5L1692.5 520.2L1693.1 519.5L1693.7 521.2L1694.3 517.7L1694.9 517.4L1695.5 519.9L1696.1 518.8L1696.7 520.1L1697.3 518.3L1697.9 519.0L1698.5 516.9L1699.1 519.5L1699.7 518.0L1700.3 517.1L1700.9 516.6L1701.5 518.8L1702.1 516.1L1702.7 518.0L1703.3 519.1L1703.9 520.6L1704.5 517.7L1705.1 518.0L1705.7 520.7L1706.3 517.9L1706.9 518.7L1707.5 519.6L1708.1 519.1L1708.7 517.5L1709.3 517.4L1709.9 516.8L1710.5 516.6L1711.1 518.3L1711.7 518.9L1712.3 517.7L1712.9 520.3L1713.5 518.1L1714.1 520.4L1714.7 518.2L1715.3 516.8L1715.9 519.9L1716.5 520.2L1717.1 520.3L1717.7 517.7L1718.3 518.0L1718.9 521.1L1719.5 517.6L1720.1 519.2L1720.7 520.8L1721.3 518.5L1721.9 520.1L1722.5 520.3L1723.1 519.1L1723.7 518.5L1724.3 518.9L1724.9 517.9L1725.5 521.6L1726.1 519.2L1726.7 518.5L1727.3 518.3L1727.9 522.1L1728.5 520.6L1729.1 520.6L1729.7 519.8L1730.3 519.1L1730.9 520.2L1731.5 515.9L1732.1 519.3L1732.7 518.4L1733.3 519.1L1733.9 518.7L1734.5 518.9L1735.1 521.6L1735.7 518.4L1736.3 518.7L1736.9 521.5L1737.5 518.3L1738.1 519.8L1738.7 519.7L1739.3 517.8L1739.9 520.2L1740.5 520.0L1741.1 517.5L1741.7 519.5L1742.3 519.2L1742.9 518.0L1743.5 518.8L1744.1 521.1L1744.7 519.7L1745.3 520.9L1745.9 521.1L1746.5 519.1L1747.1 516.4L1747.7 519.7L1748.3 519.4L1748.9 520.1L1749.5 519.4L1750.1 519.0L1750.7 516.8L1751.3 519.6L1751.9 519.4L1752.5 518.0L1753.1 516.8L1753.7 521.0L1754.3 517.9L1754.9 520.4L1755.5 518.2L1756.1 517.3L1756.7 519.9L1757.3 518.5L1757.9 518.6L1758.5 519.7L1759.1 521.3L1759.7 518.0L1760.3 519.3L1760.9 519.9L1761.5 520.2L1762.1 520.8L1762.7 518.0L1763.3 519.5L1763.9 519.3L1764.5 520.5L1765.1 518.6L1765.7 514.0L1766.3 521.6L1766.9 519.9L1767.5 520.5L1768.1 518.5L1768.7 519.9L1769.3 517.4L1769.9 518.2L1770.5 518.1L1771.1 519.5L1771.7 519.5L1772.3 519.1L1772.9 519.9L1773.5 518.3L1774.1 519.2L1774.7 516.8L1775.3 516.5L1775.9 518.5L1776.5 517.5L1777.1 520.6L1777.7 517.7L1778.3 519.6L1778.9 517.4L1779.5 517.2L1780.1 518.5L1780.7 518.2L1781.3 519.8L1781.9 518.1L1782.5 516.4L1783.1 517.7L1783.7 517.8L1784.3 519.6L1784.9 517.2L1785.5 517.6L1786.1 517.9L1786.7 516.8L1787.3 518.8L1787.9 519.1L1788.5 517.4L1789.1 517.9L1789.7 519.8L1790.3 519.1L1790.9 518.5L1791.5 519.0L1792.1 517.3L1792.7 519.2L1793.3 517.0L1793.9 520.7L1794.5 520.2L1795.1 516.8L1795.7 518.4L1796.3 518.4L1796.9 518.6L1797.5 519.1L1798.1 517.1L1798.7 517.4L1799.3 518.8L1799.9 517.5L1800.5 520.1L1801.1 515.5L1801.7 518.3L1802.3 515.9L1802.9 517.8L1803.5 519.3L1804.1 517.5L1804.7 518.2L1805.3 519.0L1805.9 519.4L1806.5 519.4L1937.5 519.4" stroke="#dfff20"/>
<path d="M645.0 514.6L645.6 511.4L646.2 508.7L646.8 516.4L647.4 514.2L648.0 514.8L648.6 513.6L649.2 515.2L649.8 514.7L650.4 519.9L651.0 514.5L651.6 513.3L652.2 512.7L652.8 512.2L653.4 514.8L654.0 515.5L654.6 514.3L655.2 515.1L655.8 514.7L656.4 512.2L657.0 514.8L657.6 512.5L658.2 511.9L658.8 514.0L659.4 512.4L660.0 514.6L660.6 513.7L661.2 510.4L661.8 515.2L662.4 512.6L663.0 515.5L663.6 509.5L664.2 514.5L664.8 509.1L665.4 513.4L666.0 513.7L666.6 512.2L667.2 513.6L667.8 513.3L668.4 512.6L669.0 510.3L669.6 511.3L670.2 513.2L670.8 511.0L671.4 512.2L672.0 513.9L672.6 513.2L673.2 510.2L673.8 512.0L674.4 513.9L675.0 511.1L675.6 513.2L676.2 514.0L676.8 509.3L677.4 511.3L678.0 513.3L678.6 509.3L679.2 510.7L679.8 512.5L680.4 512.8L681.0 511.5L681.6 511.2L682.2 510.2L682.8 510.2L683.4 512.8L684.0 509.5L684.6 509.6L685.2 511.5L685.8 512.3L686.4 512.8L687.0 514.5L687.6 511.5L688.2 511.2L688.8 511.3L689.4 512.7L690.0 512.3L690.6 514.7L691.2 511.2L691.8 510.1L692.4 509.4L693.0 512.8L693.6 512.0L694.2 509.5L694.8 513.2L695.4 512.2L696.0 510.3L696.6 509.4L697.2 509.9L697.8 513.0L698.4 509.6L699.0 511.0L699.6 511.8L700.2 510.4L700.8 510.0L701.4 511.4L702.0 512.0L702.6 508.7L703.2 510.3L703.8 510.6L704.4 512.0L705.0 509.8L705.6 512.3L706.2 512.0L706.8 512.4L707.4 511.1L708.0 511.6L708.6 512.5L709.2 513.6L709.8 512.7L710.4 511.5L711.0 513.0L711.6 511.1L712.2 511.9L712.8 511.2L713.4 512.3L714.0 509.7L714.6 511.7L715.2 510.4L715.8 509.6L716.4 512.4L717.0 511.6L717.6 511.4L718.2 511.7L718.8 511.9L719.4 511.6L720.0 513.5L720.6 513.0L721.2 510.6L721.8 514.8L722.4 511.3L723.0 512.5L723.6 511.2L724.2 512.4L724.8 511.0L725.4 510.9L726.0 510.2L726.6 512.4L727.2 516.0L727.8 514.5L728.4 511.0L729.0 514.4L729.6 515.0L730.2 513.5L730.8 514.4L731.4 511.7L732.0 512.2L732.6 513.1L733.2 515.4L733.8 513.8L734.4 513.3L735.0 512.8L735.6 513.1L736.2 513.7L736.8 513.7L737.4 513.5L738.0 515.1L738.6 514.5L739.2 513.7L739.8 515.0L740.4 515.9L741.0 515.7L741.6 514.9L742.2 514.0L742.8 516.8L743.4 515.3L744.0 514.7L744.6 517.0L745.2 516.7L745.8 517.7L746.4 513.3L747.0 514.6L747.6 515.7L748.2 512.4L748.8 513.7L749.4 514.8L750.0 513.8L750.6 512.0L751.2 516.0L751.8 515.9L752.4 512.5L753.0 513.5L753.6 513.9L754.2 514.5L754.8 514.9L755.4 511.6L756.0 515.4L756.6 515.6L757.2 513.8L757.8 513.9L758.4 511.9L759.0 512.2L759.6 511.9L760.2 515.5L760.8 510.9L761.4 512.9L762.0 514.0L762.6 512.2L763.2 512.6L763.8 510.9L764.4 512.9L765.0 512.9L765.6 514.5L766.2 512.8L766.8 512.3L767.4 515.1L768.0 512.5L768.6 513.8L769.2 512.9L769.8 513.2L770.4 511.8L771.0 514.1L771.6 515.6L772.2 512.0L772.8 512.7L773.4 515.8L774.0 513.3L774.6 515.5L775.2 513.5L775.8 513.8L776.4 513.7L777.0 513.2L777.6 516.8L778.2 511.6L778.8 510.6L779.4 512.9L780.0 512.1L780.6 512.2L781.2 512.7L781.8 512.4L782.4 513.7L783.0 512.3L783.6 513.0L784.2 514.3L784.8 513.5L785.4 510.7L786.0 512.4L786.6 514.3L787.2 513.6L787.8 511.4L788.4 514.6L789.0 514.5L789.6 513.9L790.2 516.5L790.8 514.7L791.4 515.8L792.0 515.8L792.6 516.0L793.2 514.7L793.8 515.3L794.4 513.9L795.0 514.5L795.6 515.9L796.2 513.2L796.8 515.1L797.4 513.5L798.0 515.4L798.6 511.2L799.2 514.1L799.8 512.3L800.4 513.4L801.0 512.5L801.6 513.2L802.2 511.5L802.8 513.1L803.4 512.2L804.0 513.9L804.6 511.8L805.2 512.6L805.8 513.6L806.4 512.7L807.0 512.0L807.6 513.1L808.2 514.9L808.8 513.5L809.4 513.4L810.0 511.0L810.6 513.3L811.2 513.9L811.8 511.3L812.4 512.4L813.0 512.5L813.6 511.5L814.2 513.4L814.8 511.5L815.4 512.0L816.0 512.7L816.6 513.4L817.2 512.6L817.8 513.0L818.4 515.0L819.0 513.3L819.6 511.1L820.2 511.7L820.8 511.6L821.4 512.5L822.0 513.1L822.6 509.2L823.2 513.1L823.8 510.2L824.4 512.4L825.0 509.7L825.6 514.3L826.2 514.2L826.8 509.3L827.4 512.7L828.0 509.1L828.6 511.8L829.2 512.9L829.8 511.7L830.4 511.4L831.0 513.5L831.6 512.4L832.2 511.5L832.8 514.4L833.4 512.0L834.0 512.6L834.6 512.1L835.2 511.8L835.8 511.8L836.4 508.3L837.0 512.1L837.6 513.0L838.2 509.6L838.8 510.9L839.4 513.0L840.0 512.1L840.6 509.2L841.2 511.6L841.8 509.7L842.4 510.7L843.0 512.1L843.6 513.7L844.2 510.8L844.8 513.2L845.4 510.2L846.0 511.2L846.6 510.9L847.2 511.8L847.8 509.3L848.4 512.9L849.0 510.7L849.6 512.6L850.2 511.0L850.8 512.0L851.4 510.7L852.0 509.5L852.6 512.1L853.2 510.5L853.8 512.3L854.4 510.7L855.0 510.8L855.6 512.1L856.2 512.0L856.8 510.8L857.4 510.7L858.0 511.8L858.6 511.5L859.2 513.7L859.8 514.0L860.4 513.2L861.0 511.3L861.6 510.7L862.2 512.1L862.8 510.5L863.4 511.7L864.0 512.3L864.6 512.3L865.2 512.7L865.8 510.1L866.4 512.7L867.0 514.4L867.6 510.3L868.2 510.6L868.8 510.8L869.4 508.9L870.0 509.1L870.6 509.2L871.2 509.7L871.8 508.4L872.4 511.1L873.0 507.6L873.6 511.8L874.2 511.3L874.8 509.3L875.4 513.2L876.0 510.6L876.6 510.2L877.2 511.9L877.8 511.9L878.4 510.5L879.0 511.3L879.6 509.1L880.2 511.5L880.8 512.0L881.4 513.0L882.0 512.4L882.6 511.3L883.2 509.1L883.8 509.4L884.4 509.8L885.0 511.4L885.6 514.3L886.2 511.6L886.8 510.1L887.4 511.3L888.0 513.6L888.6 513.1L889.2 511.7L889.8 513.8L890.4 513.1L891.0 511.7L891.6 514.2L892.2 511.9L892.8 515.1L893.4 513.2L894.0 515.6L894.6 513.6L895.2 515.0L895.8 511.9L896.4 513.7L897.0 513.8L897.6 512.2L898.2 515.0L898.8 513.4L899.4 514.9L900.0 512.9L900.6 513.9L901.2 513.4L901.8 513.2L902.4 517.2L903.0 514.8L903.6 514.6L904.2 513.3L904.8 512.8L905.4 514.7L906.0 514.2L906.6 511.8L907.2 515.7L907.8 514.0L908.4 515.3L909.0 510.7L909.6 514.6L910.2 514.7L910.8 514.1L911.4 512.5L912.0 513.9L912.6 512.2L913.2 512.2L913.8 511.5L914.4 513.6L915.0 512.9L915.6 512.7L916.2 513.6L916.8 511.7L917.4 513.8L918.0 517.2L918.6 512.0L919.2 513.8L919.8 513.5L920.4 512.8L921.0 513.3L921.6 514.0L922.2 512.3L922.8 512.8L923.4 512.0L924.0 511.7L924.6 514.4L925.2 512.1L925.8 513.3L926.4 510.7L927.0 510.5L927.6 513.3L928.2 514.0L928.8 510.9L929.4 510.7L930.0 510.7L930.6 511.6L931.2 512.6L931.8 513.6L932.4 512.3L933.0 511.7L933.6 510.5L934.2 510.7L934.8 515.4L935.4 509.8L936.0 510.7L936.6 512.2L937.2 510.2L937.8 511.8L938.4 511.8L939.0 510.2L939.6 512.7L940.2 511.7L940.8 513.6L941.4 511.0L942.0 512.5L942.6 511.8L943.2 512.0L943.8 513.9L944.4 512.5L945.0 513.6L945.6 513.1L946.2 512.6L946.8 514.1L947.4 513.1L948.0 512.0L948.6 513.9L949.2 512.2L949.8 511.2L950.4 510.9L951.0 512.9L951.6 511.4L952.2 511.1L952.8 511.2L953.4 513.4L954.0 511.8L954.6 509.8L955.2 512.7L955.8 510.7L956.4 511.5L957.0 508.8L957.6 510.7L958.2 511.2L958.8 512.0L959.4 511.9L960.0 509.8L960.6 508.9L961.2 510.7L961.8 509.9L962.4 508.4L963.0 508.9L963.6 508.4L964.2 509.7L964.8 512.9L965.4 510.4L966.0 511.0L966.6 510.0L967.2 509.8L967.8 510.6L968.4 509.3L969.0 509.8L969.6 511.2L970.2 510.5L970.8 511.5L971.4 514.0L972.0 510.3L972.6 509.0L973.2 509.6L973.8 511.5L974.4 510.5L975.0 509.4L975.6 510.6L976.2 511.7L976.8 510.7L977.4 509.2L978.0 512.4L978.6 511.7L979.2 511.4L979.8 509.8L980.4 512.7L981.0 513.5L981.6 510.2L982.2 512.6L982.8 512.9L983.4 514.9L984.0 513.2L984.6 513.3L985.2 514.1L985.8 514.3L986.4 513.3L987.0 513.1L987.6 513.8L988.2 515.0L988.8 514.6L989.4 516.7L990.0 513.8L990.6 511.1L991.2 513.5L991.8 513.2L992.4 513.7L993.0 514.3L993.6 511.9L994.2 515.0L994.8 517.2L995.4 517.4L996.0 516.1L996.6 514.3L997.2 513.0L997.8 515.3L998.4 514.8L999.0 516.7L999.6 511.7L1000.2 515.5L1000.8 514.0L1001.4 515.0L1002.0 513.2L1002.6 515.4L1003.2 514.1L1003.8 511.0L1004.4 516.0L1005.0 514.4L1005.6 513.3L1006.2 513.1L1006.8 511.2L1007.4 512.0L1008.0 509.5L1008.6 514.9L1009.2 510.5L1009.8 514.4L1010.4 514.3L1011.0 515.5L1011.6 514.0L1012.2 515.6L1012.8 516.3L1013.4 513.3L1014.0 515.3L1014.6 515.7L1015.2 509.5L1015.8 509.5L1016.4 517.6L1017.0 514.2L1017.6 511.9L1018.2 512.5L1018.8 517.4L1019.4 513.3L1020.0 514.2L1020.6 513.3L1021.2 512.8L1021.8 510.2L1022.4 507.0L1023.0 517.9L1023.6 512.3L1024.2 513.1L1024.8 512.6L1025.4 513.3L1026.0 518.5L1026.6 516.3L1027.2 514.1L1027.8 513.9L1028.4 516.3L1029.0 512.5L1029.6 510.4L1030.2 508.0L1030.8 510.7L1031.4 510.7L1032.0 514.7L1032.6 516.4L1033.2 511.2L1033.8 511.9L1034.4 510.0L1035.0 516.8L1035.6 511.3L1036.2 517.3L1036.8 512.4L1037.4 509.5L1038.0 510.4L1038.6 514.6" stroke="#ffff00"/>
<path d="M773.8 514.4L774.4 513.7L775.0 510.3L775.6 509.0L776.2 509.9L776.8 516.0L777.4 519.4L778.0 512.8L778.6 509.4L779.2 515.0L779.8 511.0L780.4 511.6L781.0 512.9L781.6 507.0L782.2 513.8L782.8 513.7L783.4 508.2L784.0 509.1L784.6 514.5L785.2 513.7L785.8 512.2L786.4 513.1L787.0 511.8L787.6 511.7L788.2 506.6L788.8 511.7L789.4 513.3L790.0 513.5L790.6 513.3L791.2 510.9L791.8 510.8L792.4 511.3L793.0 512.5L793.6 512.5L794.2 511.8L794.8 511.7L795.4 514.9L796.0 512.8L796.6 514.1L797.2 515.2L797.8 510.0L798.4 512.1L799.0 512.1L799.6 512.9L800.2 511.1L800.8 511.2L801.4 513.0L802.0 511.3L802.6 512.4L803.2 513.2L803.8 511.7L804.4 510.0L805.0 511.6L805.6 514.6L806.2 508.4L806.8 515.0L807.4 510.9L808.0 509.5L808.6 513.8L809.2 512.0L809.8 511.5L810.4 512.6L811.0 511.7L811.6 511.6L812.2 511.3L812.8 513.8L813.4 511.1L814.0 513.5L814.6 514.7L815.2 512.9L815.8 513.0L816.4 512.4L817.0 510.7L817.6 511.6L818.2 512.9L818.8 515.0L819.4 513.6L820.0 512.9L820.6 512.6L821.2 514.6L821.8 517.8L822.4 511.8L823.0 513.0L823.6 514.7L824.2 516.7L824.8 513.6L825.4 510.2L826.0 513.4L826.6 513.6L827.2 514.1L827.8 512.2L828.4 514.9L829.0 513.2L829.6 515.6L830.2 511.9L830.8 512.5L831.4 513.7L832.0 515.0L832.6 514.1L833.2 514.0L833.8 512.9L834.4 514.7L835.0 513.6L835.6 511.9L836.2 513.9L836.8 511.9L837.4 514.5L838.0 510.2L838.6 513.1L839.2 513.3L839.8 512.8L840.4 514.5L841.0 510.0L841.6 510.3L842.2 511.6L842.8 511.4L843.4 512.6L844.0 512.0L844.6 510.5L845.2 514.1L845.8 509.9L846.4 510.2L847.0 509.7L847.6 511.5L848.2 509.2L848.8 513.8L849.4 510.2L850.0 509.7L850.6 508.4L851.2 509.8L851.8 508.9L852.4 511.1L853.0 509.6L853.6 512.4L854.2 510.0L854.8 510.3L855.4 509.0L856.0 510.9L856.6 509.3L857.2 508.5L857.8 512.7L858.4 510.5L859.0 509.0L859.6 512.3L860.2 510.8L860.8 513.7L861.4 512.0L862.0 509.7L862.6 510.9L863.2 509.8L863.8 511.0L864.4 509.0L865.0 511.7L865.6 511.2L866.2 509.4L866.8 511.1L867.4 507.9L868.0 512.8L868.6 510.8L869.2 510.3L869.8 510.9L870.4 509.2L871.0 509.4L871.6 507.8L872.2 510.4L872.8 509.5L873.4 512.1L874.0 509.9L874.6 508.3L875.2 508.8L875.8 510.5L876.4 512.2L877.0 510.4L877.6 509.4L878.2 509.1L878.8 509.6L879.4 508.5L880.0 510.9L880.6 509.0L881.2 509.9L881.8 506.1L882.4 511.7L883.0 509.2L883.6 510.2L884.2 510.5L884.8 514.1L885.4 507.5L886.0 510.2L886.6 511.8L887.2 508.9L887.8 512.0L888.4 508.8L889.0 513.7L889.6 509.6L890.2 512.3L890.8 511.7L891.4 514.4L892.0 515.0L892.6 511.5L893.2 513.9L893.8 511.7L894.4 511.0L895.0 512.9L895.6 509.5L896.2 510.8L896.8 511.7L897.4 512.1L898.0 513.3L898.6 511.1L899.2 511.2L899.8 513.8L900.4 509.4L901.0 508.7L901.6 514.4L908.9 514.4L909.5 519.3L910.1 512.5L910.7 510.6L911.3 515.6L911.9 513.0L912.5 515.5L913.1 511.8L913.7 515.2L914.3 512.1L914.9 515.7L915.5 514.3L916.1 512.5L916.7 511.7L917.3 512.7L917.9 513.4L918.5 510.2L919.1 515.6L919.7 511.7L920.3 512.5L920.9 513.2L921.5 515.4L922.1 509.1L922.7 513.6L923.3 516.0L923.9 510.8L924.5 514.6L925.1 513.5L925.7 515.4L926.3 510.6L926.9 512.8L927.5 514.4L928.1 511.5L928.7 513.4L929.3 516.5L929.9 512.9L930.5 514.1L931.1 510.5L931.7 511.8L932.3 513.1L932.9 509.5L933.5 511.3L934.1 511.6L934.7 512.4L935.3 513.7L935.9 510.8L936.5 511.0L937.1 510.2L937.7 510.6L938.3 509.3L938.9 512.6L939.5 516.1L940.1 512.9L940.7 510.9L941.3 510.2L941.9 512.6L942.5 515.2L943.1 511.9L943.7 511.0L944.3 512.7L944.9 511.8L945.5 512.2L946.1 515.3L946.7 513.2L947.3 510.7L947.9 512.9L948.5 512.1L949.1 512.4L949.7 512.4L950.3 512.0L950.9 514.1L951.5 512.6L952.1 513.1L952.7 510.3L953.3 515.0L953.9 509.3L954.5 513.2L955.1 513.9L955.7 511.3L956.3 509.9L956.9 514.1L957.5 511.8L958.1 513.6L958.7 511.5L959.3 514.7L959.9 513.5L960.5 513.4L961.1 511.8L961.7 512.2L962.3 512.4L962.9 512.8L963.5 513.6L964.1 515.7L964.7 515.4L965.3 512.5L965.9 513.4L966.5 515.1L967.1 513.6L967.7 511.4L968.3 514.4L968.9 511.9L969.5 511.0L970.1 512.9L970.7 511.7L971.3 513.6L971.9 512.9L972.5 512.6L973.1 515.4L973.7 514.9L974.3 515.8L974.9 513.4L975.5 510.0L976.1 512.8L976.7 511.4L977.3 512.9L977.9 511.0L978.5 510.5L979.1 512.1L979.7 511.9L980.3 510.8L980.9 511.6L981.5 511.6L982.1 512.1L982.7 510.3L983.3 511.3L983.9 511.5L984.5 511.0L985.1 512.5L985.7 507.9L986.3 512.4L986.9 511.8L987.5 511.6L988.1 512.7L988.7 510.6L989.3 512.2L989.9 510.2L990.5 511.3L991.1 511.4L991.7 512.6L992.3 512.4L992.9 510.1L993.5 509.0L994.1 508.3L994.7 509.5L995.3 510.9L995.9 512.3L996.5 510.3L997.1 508.4L997.7 510.8L998.3 509.9L998.9 509.0L999.5 509.7L1000.1 507.2L1000.7 510.3L1001.3 511.0L1001.9 510.2L1002.5 512.3L1003.1 508.2L1003.7 510.0L1004.3 509.6L1004.9 510.1L1005.5 509.7L1006.1 512.4L1006.7 511.1L1007.3 508.7L1007.9 511.6L1008.5 510.7L1009.1 509.5L1009.7 509.5L1010.3 508.7L1010.9 508.9L1011.5 507.3L1012.1 511.4L1012.7 509.1L1013.3 511.7L1013.9 510.7L1014.5 510.7L1015.1 510.9L1015.7 510.0L1016.3 510.6L1016.9 509.6L1017.5 512.3L1018.1 512.5L1018.7 512.0L1019.3 511.4L1019.9 511.8L1020.5 513.2L1021.1 511.1L1021.7 512.6L1022.3 514.9L1022.9 511.0L1023.5 509.1L1024.1 513.3L1024.7 513.2L1025.3 508.5L1025.9 511.7L1026.5 512.1L1027.1 511.8L1027.7 512.9L1028.3 512.4L1028.9 515.3L1029.5 510.9L1030.1 513.9L1030.7 513.6L1031.3 511.4L1031.9 512.4L1032.5 512.6L1033.1 512.9L1033.7 510.3L1034.3 513.2L1034.9 513.7L1035.5 512.9L1036.1 512.2L1036.7 511.1L1037.3 511.2L1037.9 512.9L1038.5 515.3L1039.1 512.0L1039.7 512.1L1040.3 511.0L1040.9 513.4L1041.5 511.0L1042.1 510.1L1042.7 513.0L1043.3 513.7L1043.9 514.6L1044.5 512.7L1045.1 512.8L1045.7 513.0L1046.3 511.8L1046.9 512.2L1047.5 513.9L1048.1 514.2L1048.7 511.3L1049.3 513.3L1049.9 513.0L1050.5 514.4L1051.1 513.2L1051.7 516.2L1052.3 512.0L1052.9 513.0L1053.5 516.9L1054.1 512.4L1054.7 509.1L1055.3 514.9L1055.9 513.6L1056.5 512.5L1057.1 520.9L1057.7 513.8L1058.3 519.0L1058.9 514.5L1059.5 517.2L1060.1 516.6L1060.7 519.1L1061.3 512.8L1061.9 516.7L1062.5 517.4L1063.1 517.8L1063.7 513.5L1064.3 517.1L1064.9 516.4L1065.5 517.6L1066.1 514.7L1066.7 517.6L1067.3 512.3L1067.9 514.9L1068.5 512.8L1069.1 514.3L1069.7 514.5L1070.3 513.8L1070.9 512.6L1071.5 517.0L1072.1 517.7L1072.7 516.4L1073.3 513.2L1073.9 512.8L1074.5 513.8L1075.1 513.6L1075.7 509.7L1076.3 509.7L1076.9 515.7L1077.5 511.3L1078.1 514.8L1078.7 515.6L1079.3 507.8L1079.9 514.4" stroke="#ffdf00"/>
<path d="M969.1 514.6L969.7 514.7L970.3 519.9L970.9 514.3L971.5 517.3L972.1 516.0L972.7 520.8L973.3 520.9L973.9 509.9L974.5 513.5L975.1 515.7L975.7 517.1L976.3 517.1L976.9 517.4L977.5 514.3L978.1 510.9L978.7 516.1L979.3 512.6L979.9 511.6L980.5 514.6L981.1 514.6L981.7 514.0L982.3 508.6L982.9 508.3L983.5 507.2L984.1 509.5L984.7 510.3L985.3 512.5L985.9 511.9L986.5 512.0L987.1 511.9L987.7 510.7L988.3 512.3L988.9 512.6L989.5 511.3L990.1 515.1L990.7 515.8L991.3 514.3L991.9 511.8L992.5 513.1L993.1 513.5L993.7 512.5L994.3 512.1L994.9 512.2L995.5 515.0L996.1 513.1L996.7 510.1L997.3 512.6L997.9 512.1L998.5 509.5L999.1 515.5L999.7 511.8L1000.3 509.6L1000.9 512.2L1001.5 511.6L1002.1 512.4L1002.7 509.0L1003.3 511.6L1003.9 508.5L1004.5 509.7L1005.1 510.7L1005.7 508.9L1006.3 510.2L1006.9 509.0L1007.5 510.6L1008.1 508.9L1008.7 511.1L1009.3 511.9L1009.9 508.7L1010.5 508.3L1011.1 511.2L1011.7 511.9L1012.3 511.2L1012.9 512.4L1013.5 510.7L1014.1 509.4L1014.7 508.0L1015.3 509.4L1015.9 509.5L1016.5 510.5L1017.1 506.8L1017.7 508.7L1018.3 508.8L1018.9 510.2L1019.5 509.0L1020.1 508.7L1020.7 510.2L1021.3 508.5L1021.9 509.2L1022.5 510.9L1023.1 510.5L1023.7 509.2L1024.3 510.0L1024.9 512.1L1025.5 516.8L1026.1 511.5L1026.7 512.5L1027.3 510.4L1027.9 510.6L1028.5 512.3L1029.1 510.5L1029.7 509.4L1030.3 512.8L1030.9 513.3L1031.5 513.2L1032.1 514.5L1032.7 513.1L1033.3 510.6L1033.9 512.1L1034.5 512.9L1035.1 513.5L1035.7 510.9L1036.3 512.1L1036.9 510.6L1037.5 511.7L1038.1 511.3L1038.7 512.2L1039.3 512.9L1039.9 512.8L1040.5 512.8L1041.1 511.0L1041.7 510.9L1042.3 512.3L1042.9 511.5L1043.5 511.2L1044.1 509.3L1044.7 511.2L1045.3 512.1L1045.9 511.2L1046.5 511.1L1047.1 512.7L1047.7 510.4L1048.3 514.3L1048.9 512.6L1049.5 513.5L1050.1 511.1L1050.7 514.0L1051.3 514.3L1051.9 513.6L1052.5 514.4L1053.1 513.2L1053.7 515.2L1054.3 515.2L1054.9 513.6L1055.5 513.3L1056.1 511.7L1056.7 511.4L1057.3 513.5L1057.9 514.5L1058.5 511.7L1059.1 512.0L1059.7 515.8L1060.3 512.6L1060.9 513.0L1061.5 511.1L1062.1 515.3L1062.7 514.1L1063.3 513.9L1063.9 510.5L1064.5 514.0L1065.1 515.2L1065.7 516.2L1066.3 512.8L1066.9 513.5L1067.5 515.3L1068.1 515.0L1068.7 513.1L1069.3 513.8L1069.9 511.3L1070.5 512.7L1071.1 513.0L1071.7 512.3L1072.3 511.9L1072.9 512.1L1073.5 514.8L1074.1 512.6L1074.7 512.7L1075.3 515.7L1075.9 514.3L1076.5 513.2L1077.1 515.1L1077.7 515.4L1078.3 512.8L1078.9 514.3L1079.5 515.6L1080.1 513.4L1080.7 513.1L1081.3 514.8L1081.9 516.4L1082.5 516.0L1083.1 519.3L1083.7 516.7L1084.3 515.3L1084.9 516.0L1085.5 516.7L1086.1 515.2L1086.7 516.7L1087.3 514.6L1087.9 514.3L1088.5 513.9L1089.1 512.4L1089.7 513.8L1090.3 513.3L1090.9 511.0L1091.5 512.8L1092.1 514.5L1092.7 512.2L1093.3 510.6L1093.9 511.0L1094.5 512.0L1095.1 512.8L1095.7 512.4L1096.3 511.5L1096.9 513.2L1097.5 511.3L1098.1 514.1L1098.7 510.6L1099.3 510.0L1099.9 510.0L1100.5 510.6L1101.1 511.1L1101.7 511.4L1102.3 509.6L1102.9 511.4L1103.5 513.3L1104.1 509.4L1104.7 511.2L1105.3 512.4L1105.9 511.6L1106.5 513.1L1107.1 511.6L1107.7 511.7L1108.3 513.9L1108.9 512.7L1109.5 514.4L1110.1 512.8L1110.7 512.4L1111.3 512.0L1111.9 509.1L1112.5 506.0L1113.1 509.1L1113.7 508.4L1114.3 512.9L1114.9 512.1L1115.5 512.1L1116.1 512.9L1116.7 512.1L1117.3 511.4L1117.9 511.4L1118.5 511.4L1119.1 512.7L1119.7 512.0L1120.3 514.4L1120.9 512.5L1121.5 510.5L1122.1 513.4L1122.7 512.2L1123.3 513.0L1123.9 510.2L1124.5 513.2L1125.1 512.3L1125.7 510.9L1126.3 515.6L1126.9 511.6L1127.5 513.3L1128.1 510.2L1128.7 509.8L1129.3 512.9L1129.9 512.8L1130.5 513.2L1131.1 512.8L1131.7 510.8L1132.3 512.3L1132.9 509.9L1133.5 511.4L1134.1 514.2L1134.7 512.5L1135.3 512.4L1135.9 511.9L1136.5 514.6L1137.1 511.9L1137.7 512.3L1138.3 508.7L1138.9 510.6L1139.5 512.7L1140.1 515.2L1140.7 514.1L1141.3 513.9L1141.9 512.9L1142.5 512.5L1143.1 511.5L1143.7 513.9L1144.3 513.6L1144.9 511.4L1145.5 514.1L1146.1 513.9L1146.7 512.3L1147.3 513.7L1147.9 513.2L1148.5 513.6L1149.1 515.8L1149.7 515.4L1150.3 514.6L1150.9 516.9L1151.5 515.9L1152.1 515.7L1152.7 516.5L1153.3 516.2L1153.9 514.3L1154.5 515.9L1155.1 515.1L1155.7 518.5L1156.3 514.6L1156.9 515.0L1157.5 517.5L1158.1 516.9L1158.7 516.5L1159.3 516.0L1159.9 517.1L1160.5 515.5L1161.1 516.3L1161.7 516.7L1162.3 515.2L1162.9 516.0L1163.5 517.3L1164.1 516.2L1164.7 516.3L1165.3 517.5L1165.9 516.3L1166.5 518.7L1167.1 517.3L1167.7 514.6L1168.3 517.6L1168.9 517.4L1169.5 518.2L1170.1 517.0L1170.7 519.8L1171.3 515.7L1171.9 514.6L1172.5 515.9L1173.1 517.2L1173.7 516.6L1174.3 515.4L1174.9 516.7L1175.5 517.5L1176.1 514.8L1176.7 516.9L1177.3 515.6L1177.9 515.5L1178.5 515.6L1179.1 514.2L1179.7 514.5L1180.3 515.7L1180.9 515.6L1181.5 516.3L1182.1 515.0L1182.7 519.2L1183.3 515.4L1183.9 515.8L1184.5 516.5L1185.1 517.3L1185.7 520.0L1186.3 514.6L1186.9 515.2L1187.5 518.6L1188.1 516.4L1188.7 514.1L1189.3 518.6L1189.9 516.0L1190.5 517.6L1191.1 518.9L1191.7 515.5L1192.3 517.8L1192.9 514.0L1193.5 515.6L1194.1 516.0L1194.7 516.3L1195.3 518.2L1195.9 516.9L1196.5 512.8L1197.1 517.2L1197.7 515.4L1198.3 518.2L1198.9 514.2L1199.5 515.9L1200.1 516.3L1200.7 515.8L1201.3 513.4L1201.9 518.9L1202.5 517.1L1203.1 514.8L1203.7 514.4L1204.3 516.0L1204.9 516.6L1205.5 515.9L1206.1 514.1L1206.7 514.2L1207.3 516.0L1207.9 518.5L1208.5 517.8L1209.1 515.3L1209.7 518.9L1210.3 516.2L1210.9 514.4L1211.5 514.7L1212.1 515.4L1212.7 516.8L1213.3 515.6L1213.9 515.4L1214.5 516.3L1215.1 515.1L1215.7 516.9L1216.3 513.5L1216.9 515.6L1217.5 515.9L1218.1 513.8L1218.7 517.0L1219.3 517.4L1219.9 515.8L1220.5 515.4L1221.1 516.7L1221.7 514.8L1222.3 517.0L1222.9 515.5L1223.5 517.9L1224.1 515.7L1224.7 519.1L1225.3 515.9L1225.9 516.1L1226.5 517.9L1227.1 516.4L1227.7 516.4L1228.3 517.0L1228.9 515.0L1229.5 516.5L1230.1 516.3L1230.7 515.6L1231.3 517.8L1231.9 520.0L1232.5 516.7L1233.1 518.0L1233.7 520.1L1234.3 520.1L1234.9 517.7L1235.5 516.1L1236.1 519.2L1236.7 517.1L1237.3 516.8L1237.9 518.0L1238.5 517.4L1239.1 518.1L1239.7 519.9L1240.3 517.9L1240.9 516.9L1241.5 518.1L1242.1 516.8L1242.7 517.1L1243.3 520.1L1243.9 519.0L1244.5 517.6L1245.1 516.6L1245.7 518.8L1246.3 517.6L1246.9 517.2L1247.5 517.8L1248.1 516.7L1248.7 517.2L1249.3 517.7L1249.9 518.5L1250.5 515.7L1251.1 514.1L1251.7 517.2L1252.3 513.1L1252.9 516.4L1253.5 514.1L1254.1 518.8L1254.7 517.9L1255.3 518.0L1255.9 515.5L1256.5 518.1L1257.1 518.7L1257.7 513.8L1258.3 515.2L1258.9 516.9L1259.5 515.1L1260.1 516.0L1260.7 513.6L1261.3 516.1L1261.9 514.2L1262.5 516.1L1263.1 514.7L1263.7 516.7L1264.3 516.5L1264.9 514.9L1265.5 515.6L1266.1 518.0L1266.7 515.5L1267.3 514.6L1267.9 515.1L1268.5 515.2L1269.1 509.6L1269.7 514.2L1270.3 514.9L1270.9 512.9L1271.5 510.9L1272.1 515.3L1272.7 514.5L1273.3 514.3L1273.9 515.9L1274.5 514.1L1275.1 516.6L1275.7 514.4L1276.3 513.8L1276.9 513.5L1277.5 516.2L1278.1 513.9L1278.7 511.5L1279.3 514.6L1279.9 514.2L1280.5 510.3L1281.1 510.4L1281.7 513.8L1282.3 510.3L1282.9 514.4L1283.5 508.0L1284.1 512.4L1284.7 516.0L1285.3 518.6L1285.9 512.5L1286.5 514.2L1287.1 509.7L1287.7 512.1L1288.3 512.6L1288.9 511.9L1289.5 515.1L1290.1 511.9L1290.7 514.5L1291.3 512.8L1291.9 512.9L1292.5 513.4L1293.1 516.2L1293.7 516.8L1294.3 518.8L1294.9 519.2L1295.5 518.9L1296.1 517.0L1296.7 515.8L1297.3 517.7L1297.9 513.4L1298.5 514.2L1299.1 513.9L1299.7 516.2L1300.3 516.7L1300.9 518.9L1301.5 515.6L1302.1 518.6L1302.7 520.6L1303.3 515.9L1303.9 515.0L1304.5 511.8L1305.1 518.4L1305.7 512.5L1306.3 515.4L1306.9 514.6" stroke="#ffbf00"/>
<path d="M1400.3 515.2L1400.9 520.6L1401.5 520.2L1402.1 519.3L1402.7 522.7L1403.3 517.2L1403.9 519.5L1404.5 517.6L1405.1 520.1L1405.7 519.5L1406.3 513.2L1406.9 522.1L1407.5 518.1L1408.1 514.3L1408.7 523.1L1409.3 520.0L1409.9 515.3L1410.5 520.6L1411.1 521.6L1411.7 511.7L1412.3 517.7L1412.9 519.1L1413.5 518.1L1414.1 520.3L1414.7 514.9L1415.3 517.1L1415.9 523.6L1416.5 519.7L1417.1 519.3L1417.7 518.0L1418.3 516.3L1418.9 519.3L1419.5 517.2L1420.1 519.7L1420.7 519.1L1421.3 521.0L1421.9 522.0L1422.5 522.7L1423.1 521.8L1423.7 525.3L1424.3 522.0L1424.9 518.8L1425.5 518.7L1426.1 518.4L1426.7 517.5L1427.3 521.7L1427.9 521.7L1428.5 522.1L1429.1 520.2L1429.7 521.5L1430.3 519.6L1430.9 517.1L1431.5 523.4L1432.1 520.0L1432.7 520.3L1433.3 518.7L1433.9 514.9L1434.5 518.7L1435.1 517.7L1435.7 519.2L1436.3 517.7L1436.9 519.6L1437.5 517.3L1438.1 517.9L1438.7 519.5L1439.3 516.7L1439.9 516.0L1440.5 520.4L1441.1 518.8L1441.7 518.2L1442.3 521.9L1442.9 516.1L1443.5 516.1L1444.1 518.7L1444.7 517.6L1445.3 515.2L1445.9 517.2L1446.5 518.5L1447.1 519.7L1447.7 517.8L1448.3 518.5L1448.9 518.0L1449.5 515.7L1450.1 516.2L1450.7 517.3L1451.3 517.2L1451.9 518.4L1452.5 518.5L1453.1 516.9L1453.7 518.5L1454.3 519.1L1454.9 519.7L1455.5 518.7L1456.1 517.4L1456.7 517.8L1457.3 520.0L1457.9 516.2L1458.5 516.7L1459.1 514.3L1459.7 515.3L1460.3 513.4L1460.9 516.5L1461.5 515.0L1462.1 518.0L1462.7 519.5L1463.3 515.5L1463.9 516.0L1464.5 518.0L1465.1 517.5L1465.7 516.7L1466.3 516.7L1466.9 517.8L1467.5 515.8L1468.1 517.5L1468.7 518.7L1469.3 518.3L1469.9 516.1L1470.5 513.6L1471.1 516.6L1471.7 516.6L1472.3 518.5L1472.9 515.5L1473.5 516.7L1474.1 514.3L1474.7 515.6L1475.3 518.1L1475.9 515.0L1476.5 514.5L1477.1 516.0L1477.7 515.6L1478.3 515.1L1478.9 515.8L1479.5 516.2L1480.1 515.3L1480.7 513.9L1481.3 514.0L1481.9 517.8L1482.5 516.3L1483.1 518.6L1483.7 516.4L1484.3 515.6L1484.9 513.2L1485.5 515.0L1486.1 515.6L1486.7 516.8L1487.3 514.0L1487.9 514.5L1488.5 515.1L1489.1 515.7L1489.7 515.8L1490.3 516.3L1490.9 514.3L1491.5 515.9L1492.1 513.8L1492.7 516.5L1493.3 515.1L1493.9 515.8L1494.5 514.9L1495.1 515.0L1495.7 515.8L1496.3 515.8L1496.9 514.6L1497.5 514.5L1498.1 515.6L1498.7 512.2L1499.3 515.2L1499.9 514.8L1500.5 515.1L1501.1 512.8L1501.7 516.7L1502.3 515.9L1502.9 514.7L1503.5 516.2L1504.1 517.6L1504.7 514.5L1505.3 516.4L1505.9 512.8L1506.5 512.9L1507.1 513.6L1507.7 513.5L1508.3 514.4L1508.9 515.5L1509.5 516.0L1510.1 513.1L1510.7 513.8L1511.3 511.4L1511.9 513.1L1512.5 511.9L1513.1 514.4L1513.7 515.3L1514.3 512.6L1514.9 516.2L1515.5 510.7L1516.1 513.0L1516.7 513.1L1517.3 512.8L1517.9 512.7L1518.5 514.3L1519.1 513.0L1519.7 514.1L1520.3 513.1L1520.9 516.5L1521.5 514.5L1522.1 515.0L1522.7 513.8L1523.3 512.7L1523.9 513.7L1524.5 514.7L1525.1 512.5L1525.7 513.9L1526.3 513.6L1526.9 514.5L1527.5 516.3L1528.1 513.8L1528.7 516.8L1529.3 513.2L1529.9 513.7L1530.5 512.1L1531.1 512.9L1531.7 513.3L1532.3 512.3L1532.9 513.0L1533.5 516.6L1534.1 514.4L1534.7 512.2L1535.3 512.5L1535.9 513.7L1536.5 512.9L1537.1 512.5L1537.7 513.4L1538.3 512.8L1538.9 515.2L1539.5 512.6L1540.1 515.6L1540.7 516.1L1541.3 514.2L1541.9 516.1L1542.5 512.8L1543.1 512.6L1543.7 516.4L1544.3 514.5L1544.9 515.0L1545.5 515.1L1546.1 512.6L1546.7 515.5L1547.3 515.1L1547.9 515.0L1548.5 513.1L1549.1 511.5L1549.7 514.2L1550.3 516.8L1550.9 511.8L1551.5 514.3L1552.1 514.6L1552.7 510.7L1553.3 514.3L1553.9 516.3L1554.5 514.3L1555.1 512.8L1555.7 514.2L1556.3 512.7L1556.9 514.1L1557.5 514.2L1558.1 513.5L1558.7 514.7L1559.3 513.7L1559.9 512.8L1560.5 515.9L1561.1 515.4L1561.7 516.5L1562.3 513.5L1562.9 514.9L1563.5 513.9L1564.1 513.0L1564.7 513.3L1565.3 515.5L1565.9 516.2L1566.5 514.5L1567.1 513.3L1567.7 514.6L1568.3 515.0L1568.9 517.7L1569.5 512.8L1570.1 515.7L1570.7 515.1L1571.3 515.0L1571.9 515.5L1572.5 511.4L1573.1 515.2L1573.7 515.9L1574.3 515.4L1574.9 516.4L1575.5 514.1L1576.1 512.0L1576.7 513.9L1577.3 515.4L1577.9 513.8L1578.5 514.6L1579.1 514.8L1579.7 515.1L1580.3 513.6L1580.9 515.6L1581.5 512.9L1582.1 514.2L1582.7 512.4L1583.3 515.8L1583.9 515.4L1584.5 513.9L1585.1 513.8L1585.7 514.4L1586.3 513.1L1586.9 515.4L1587.5 514.1L1588.1 516.3L1588.7 514.0L1589.3 513.4L1589.9 513.7L1590.5 514.5L1591.1 512.0L1591.7 513.9L1592.3 515.8L1592.9 515.2L1593.5 513.4L1594.1 514.2L1594.7 516.3L1595.3 512.0L1595.9 515.3L1596.5 514.8L1597.1 512.2L1597.7 513.0L1598.3 516.9L1598.9 515.0L1599.5 513.4L1600.1 514.6L1600.7 513.5L1601.3 515.5L1601.9 514.5L1602.5 515.4L1603.1 515.3L1603.7 516.3L1604.3 513.8L1604.9 514.1L1605.5 515.0L1606.1 516.1L1606.7 515.7L1607.3 515.9L1607.9 513.6L1608.5 517.3L1609.1 513.6L1609.7 515.4L1610.3 516.1L1610.9 512.8L1611.5 513.6L1612.1 514.7L1612.7 514.6L1613.3 514.9L1613.9 514.5L1614.5 515.7L1615.1 515.5L1615.7 515.0L1616.3 513.9L1616.9 513.2L1617.5 515.9L1618.1 515.8L1618.7 514.9L1619.3 514.7L1619.9 514.4L1620.5 515.9L1621.1 515.1L1621.7 515.4L1622.3 515.7L1622.9 515.0L1623.5 513.0L1624.1 515.3L1624.7 512.2L1625.3 514.1L1625.9 514.1L1626.5 515.9L1627.1 514.9L1627.7 514.4L1628.3 514.9L1628.9 517.5L1629.5 514.3L1630.1 512.4L1630.7 514.3L1631.3 513.6L1631.9 513.8L1632.5 515.7L1633.1 516.3L1633.7 514.2L1634.3 515.4L1634.9 515.0L1635.5 514.4L1636.1 514.7L1636.7 513.8L1637.3 517.8L1637.9 516.0L1638.5 514.6L1639.1 516.0L1639.7 515.7L1640.3 515.8L1640.9 514.9L1641.5 516.7L1642.1 515.7L1642.7 517.3L1643.3 514.6L1643.9 516.0L1644.5 518.4L1645.1 516.7L1645.7 514.3L1646.3 515.2L1646.9 514.9L1647.5 516.7L1648.1 517.2L1648.7 512.0L1649.3 513.2L1649.9 514.0L1650.5 514.2L1651.1 515.0L1651.7 514.3L1652.3 514.9L1652.9 515.7L1653.5 514.5L1654.1 515.9L1654.7 515.6L1655.3 518.8L1655.9 514.9L1656.5 513.4L1657.1 517.3L1657.7 517.5L1658.3 515.4L1658.9 516.4L1659.5 516.9L1660.1 521.6L1660.7 517.2L1661.3 513.6L1661.9 515.5L1662.5 514.0L1663.1 515.5L1663.7 515.3L1664.3 514.1L1664.9 514.2L1665.5 516.3L1666.1 516.1L1666.7 513.4L1667.3 516.4L1667.9 515.9L1668.5 514.7L1669.1 517.7L1669.7 515.6L1670.3 516.2L1670.9 514.6L1671.5 514.3L1672.1 514.0L1672.7 515.3L1673.3 513.6L1673.9 515.0L1674.5 514.3L1675.1 517.3L1675.7 516.2L1676.3 516.7L1676.9 516.1L1677.5 516.4L1678.1 518.3L1678.7 518.7L1679.3 513.9L1679.9 515.2L1680.5 511.4L1681.1 516.2L1681.7 515.0L1682.3 518.5L1682.9 516.8L1683.5 513.9L1684.1 516.5L1684.7 517.3L1685.3 519.2L1685.9 513.2L1686.5 511.3L1687.1 509.9L1687.7 516.2L1688.3 519.3L1688.9 509.4L1689.5 516.1L1690.1 520.8L1690.7 511.8L1691.3 519.1L1691.9 510.2L1692.5 515.4L1693.1 518.7L1693.7 509.4L1694.3 517.4L1694.9 515.2" stroke="#ff9f00"/>
<path d="M907.5 514.6L908.1 505.6L908.7 514.8L909.3 504.2L909.9 510.7L910.5 504.7L911.1 510.6L911.7 510.2L912.3 513.1L912.9 514.7L913.5 518.1L914.1 513.0L914.7 512.8L915.3 514.7L915.9 512.1L916.5 515.2L917.1 514.5L917.7 516.4L918.3 519.3L918.9 521.1L919.5 523.9L920.1 518.1L920.7 523.1L921.3 523.9L921.9 526.9L922.5 529.4L923.1 530.1L923.7 524.5L924.3 531.4L924.9 531.9L925.5 531.6L926.1 528.0L926.7 524.3L927.3 532.0L927.9 528.3L928.5 529.2L929.1 524.8L929.7 527.2L930.3 527.8L930.9 526.6L931.5 523.0L932.1 523.3L932.7 526.9L933.3 522.3L933.9 519.3L934.5 522.9L935.1 520.3L935.7 520.3L936.3 518.3L936.9 519.9L937.5 516.9L938.1 519.0L938.7 516.0L939.3 517.4L939.9 516.6L940.5 519.6L941.1 517.9L941.7 517.9L942.3 517.0L942.9 516.4L943.5 517.8L944.1 517.6L944.7 515.2L945.3 514.8L945.9 517.2L946.5 514.6L947.1 518.6L947.7 517.2L948.3 517.0L948.9 515.7L949.5 516.7L950.1 516.6L950.7 516.3L951.3 516.9L951.9 515.1L952.5 515.6L953.1 518.6L953.7 521.6L954.3 516.3L954.9 516.1L955.5 517.7L956.1 518.6L956.7 519.2L957.3 521.2L957.9 518.1L958.5 517.1L959.1 517.6L959.7 517.7L960.3 518.5L960.9 517.2L961.5 518.9L962.1 519.9L962.7 516.5L963.3 517.6L963.9 517.5L964.5 516.8L965.1 515.4L965.7 514.8L966.3 517.0L966.9 515.1L967.5 515.2L968.1 514.7L968.7 514.1L969.3 516.2L969.9 512.5L970.5 514.1L971.1 515.5L971.7 516.6L972.3 517.1L972.9 514.6L973.5 514.9L974.1 515.7L974.7 516.8L975.3 512.9L975.9 513.4L976.5 512.5L977.1 510.5L977.7 513.4L978.3 512.5L978.9 514.5L979.5 516.7L980.1 515.2L980.7 517.9L981.3 515.6L981.9 513.1L982.5 515.2L983.1 515.3L983.7 518.1L984.3 514.8L984.9 516.4L985.5 517.0L986.1 515.3L986.7 515.9L987.3 518.1L987.9 519.6L988.5 518.2L989.1 520.2L989.7 518.6L990.3 518.9L990.9 520.0L991.5 518.3L992.1 517.8L992.7 518.0L993.3 519.1L993.9 520.2L994.5 516.1L995.1 515.9L995.7 517.8L996.3 516.4L996.9 517.2L997.5 516.8L998.1 516.4L998.7 514.6L999.3 515.5L999.9 515.0L1000.5 514.7L1001.1 512.5L1001.7 513.3L1002.3 510.6L1002.9 511.6L1003.5 510.2L1004.1 509.4L1004.7 508.4L1005.3 511.4L1005.9 508.5L1006.5 508.1L1007.1 509.8L1007.7 506.8L1008.3 509.1L1008.9 510.1L1009.5 510.8L1010.1 510.3L1010.7 512.9L1011.3 514.0L1011.9 510.5L1012.5 512.1L1013.1 513.7L1013.7 513.8L1014.3 511.8L1014.9 513.9L1015.5 514.3L1016.1 513.6L1016.7 514.3L1017.3 514.3L1017.9 518.1L1018.5 518.8L1019.1 515.4L1019.7 518.7L1020.3 519.9L1020.9 519.6L1021.5 518.3L1022.1 519.1L1022.7 517.7L1023.3 518.6L1023.9 520.1L1024.5 519.8L1025.1 517.4L1025.7 517.6L1026.3 515.7L1026.9 516.2L1027.5 517.0L1028.1 512.2L1028.7 515.4L1029.3 514.9L1029.9 513.5L1030.5 510.5L1031.1 511.2L1031.7 514.0L1032.3 512.2L1032.9 513.4L1033.5 511.2L1034.1 512.3L1034.7 513.2L1035.3 511.6L1035.9 511.1L1036.5 512.5L1037.1 510.3L1037.7 510.4L1038.3 512.1L1038.9 512.8L1039.5 509.4L1040.1 510.8L1040.7 512.9L1041.3 511.3L1041.9 511.5L1042.5 513.0L1043.1 510.1L1043.7 511.2L1044.3 510.7L1044.9 509.2L1045.5 510.5L1046.1 510.6L1046.7 512.2L1047.3 511.1L1047.9 510.6L1048.5 510.0L1049.1 512.9L1049.7 511.1L1050.3 513.0L1050.9 511.8L1051.5 513.1L1052.1 514.2L1052.7 514.0L1053.3 514.8L1053.9 513.2L1054.5 514.3L1055.1 514.7L1055.7 512.1L1056.3 515.5L1056.9 513.7L1057.5 516.8L1058.1 516.0L1058.7 518.0L1059.3 517.4L1059.9 518.3L1060.5 516.7L1061.1 516.9L1061.7 518.3L1062.3 517.5L1062.9 516.4L1063.5 518.8L1064.1 513.2L1064.7 515.7L1065.3 515.9L1065.9 516.0L1066.5 517.1L1067.1 515.7L1067.7 515.5L1068.3 515.6L1068.9 516.1L1069.5 515.3L1070.1 514.5L1070.7 516.1L1071.3 512.2L1071.9 514.6L1072.5 514.5L1073.1 514.9L1073.7 515.1L1074.3 513.2L1074.9 514.8L1075.5 514.9L1076.1 514.8L1076.7 514.4L1077.3 514.5L1077.9 513.0L1078.5 514.3L1079.1 514.9L1079.7 514.6L1080.3 513.0L1080.9 513.1L1081.5 512.5L1082.1 513.8L1082.7 514.1L1083.3 514.1L1083.9 513.8L1084.5 514.2L1085.1 512.7L1085.7 513.4L1086.3 515.1L1086.9 511.6L1087.5 515.2L1088.1 513.5L1088.7 517.5L1089.3 513.0L1089.9 515.8L1090.5 514.4L1091.1 515.9L1091.7 514.3L1092.3 515.1L1092.9 516.1L1093.5 513.6L1094.1 515.9L1094.7 515.4L1095.3 518.0L1095.9 517.3L1096.5 515.3L1097.1 515.7L1097.7 514.7L1098.3 511.7L1098.9 512.6L1099.5 515.1L1100.1 513.8L1100.7 514.6L1101.3 511.0L1101.9 513.6L1102.5 514.6L1103.1 510.6L1103.7 513.0L1104.3 512.5L1104.9 514.3L1105.5 513.1L1106.1 514.3L1106.7 513.0L1107.3 510.4L1107.9 512.1L1108.5 513.7L1109.1 510.6L1109.7 511.6L1110.3 511.1L1110.9 508.5L1111.5 510.4L1112.1 510.3L1112.7 510.1L1113.3 512.1L1113.9 511.8L1114.5 509.6L1115.1 511.5L1115.7 509.1L1116.3 508.9L1116.9 510.4L1117.5 515.2L1118.1 511.4L1118.7 512.2L1119.3 513.7L1119.9 512.2L1120.5 512.5L1121.1 515.9L1121.7 512.6L1122.3 514.3L1122.9 515.4L1123.5 515.1L1124.1 515.6L1124.7 515.0L1125.3 517.9L1125.9 519.5L1126.5 514.9L1127.1 517.3L1127.7 514.6L1128.3 517.3L1128.9 515.8L1129.5 517.1L1130.1 516.1L1130.7 516.1L1131.3 518.7L1131.9 514.9L1132.5 517.1L1133.1 515.9L1133.7 514.7L1134.3 517.8L1134.9 514.1L1135.5 516.7L1136.1 514.1L1136.7 514.5L1137.3 517.4L1137.9 516.2L1138.5 514.4L1139.1 516.0L1139.7 517.3L1140.3 515.5L1140.9 515.3L1141.5 518.2L1142.1 516.9L1142.7 516.9L1143.3 517.0L1143.9 514.3L1144.5 514.7L1145.1 520.9L1145.7 518.8L1146.3 518.2L1146.9 524.7L1147.5 517.7L1148.1 519.0L1148.7 523.9L1149.3 519.4L1149.9 519.8L1150.5 520.0L1151.1 520.0L1151.7 520.9L1152.3 524.2L1152.9 523.2L1153.5 518.7L1154.1 521.8L1154.7 526.9L1155.3 520.4L1155.9 524.9L1156.5 524.1L1157.1 522.0L1157.7 518.8L1158.3 518.9L1158.9 523.7L1159.5 522.9L1160.1 524.3L1160.7 517.5L1161.3 521.4L1161.9 520.5L1162.5 526.7L1163.1 521.8L1163.7 521.9L1164.3 523.8L1164.9 520.0L1165.5 518.8L1166.1 524.4L1166.7 514.6" stroke="#ff8000"/>
<path d="M548.4 514.5L549.0 513.6L549.6 509.4L550.2 512.9L550.8 515.3L551.4 511.1L552.0 512.0L552.6 515.7L553.2 510.0L553.8 512.0L554.4 514.2L555.0 515.3L555.6 516.4L556.2 516.6L556.8 518.0L557.4 520.3L558.0 509.8L558.6 514.4L559.2 514.1L559.8 515.7L560.4 511.4L561.0 513.7L561.6 510.8L562.2 512.5L562.8 514.0L563.4 514.0L564.0 514.6L564.6 516.6L565.2 516.8L565.8 512.6L566.4 515.8L567.0 516.5L567.6 514.9L568.2 510.9L568.8 511.5L569.4 514.2L570.0 517.0L570.6 517.1L571.2 516.8L571.8 520.5L572.4 516.0L573.0 515.6L573.6 514.4L574.2 512.7L574.8 517.7L575.4 514.7L576.0 514.5L576.6 513.8L577.2 513.5L577.8 516.2L578.4 512.0L579.0 515.4L579.6 515.1L580.2 511.4L580.8 514.1L581.4 515.8L582.0 516.3L582.6 514.3L583.2 514.0L583.8 515.0L584.4 514.9L585.0 516.4L585.6 516.4L586.2 511.2L586.8 516.1L587.4 515.1L588.0 516.1L588.6 514.7L589.2 515.7L589.8 516.0L590.4 517.0L591.0 512.4L591.6 515.0L592.2 511.1L592.8 516.8L593.4 514.8L594.0 515.7L594.6 517.1L595.2 514.3L595.8 513.5L596.4 512.8L597.0 513.4L597.6 516.4L598.2 515.9L598.8 514.6L599.4 512.4L600.0 515.8L600.6 512.8L601.2 513.3L601.8 513.9L602.4 514.7L603.0 516.4L603.6 515.3L604.2 514.3L604.8 514.0L605.4 513.4L606.0 514.3L606.6 514.1L607.2 516.0L607.8 512.0L608.4 515.0L609.0 513.7L609.6 513.9L610.2 516.4L610.8 512.9L611.4 516.9L612.0 514.7L612.6 515.8L613.2 513.0L613.8 513.1L614.4 513.4L615.0 512.8L615.6 514.8L616.2 515.2L616.8 513.5L617.4 514.5L618.0 513.3L618.6 514.8L619.2 516.3L619.8 513.6L620.4 513.7L621.0 514.4L621.6 515.4L622.2 512.3L622.8 515.2L623.4 515.1L624.0 513.9L624.6 514.7L625.2 514.8L625.8 512.8L626.4 513.1L627.0 515.7L627.6 517.5L628.2 514.6L628.8 511.8L629.4 514.8L630.0 513.1L630.6 513.0L631.2 514.0L631.8 515.8L632.4 512.2L633.0 511.2L633.6 513.5L634.2 513.9L634.8 513.3L635.4 514.1L636.0 511.5L636.6 516.9L637.2 514.5L637.8 515.1L638.4 514.7L639.0 514.6L639.6 517.1L640.2 517.1L640.8 514.1L641.4 512.0L642.0 514.4L642.6 516.0L643.2 514.5L643.8 512.1L644.4 513.1L645.0 515.1L645.6 514.4L646.2 514.9L646.8 514.2L647.4 515.4L648.0 516.2L648.6 513.7L649.2 517.0L649.8 512.7L650.4 516.7L651.0 514.3L651.6 518.2L652.2 511.6L652.8 515.0L653.4 513.7L654.0 515.2L654.6 514.3L655.2 515.6L655.8 515.5L656.4 511.5L657.0 511.0L657.6 514.2L658.2 515.5L658.8 517.9L659.4 514.1L660.0 514.5L660.6 512.2L661.2 516.7L661.8 513.4L662.4 513.1L663.0 518.6L663.6 512.8L664.2 514.1L664.8 514.5L665.4 511.3L666.0 519.4L666.6 513.0L667.2 512.0L667.8 517.0L668.4 519.0L669.0 510.1L669.6 520.1L670.2 513.5L670.8 515.2L671.4 513.2L672.0 515.8L672.6 517.0L673.2 515.2L673.8 516.0L674.4 509.6L675.0 514.5" stroke="#ff6000"/>
<path d="M1300.9 514.6L1301.5 518.7L1302.1 514.1L1302.7 520.0L1303.3 514.8L1303.9 520.2L1304.5 520.3L1305.1 520.6L1305.7 524.7L1306.3 521.6L1306.9 523.7L1307.5 517.4L1308.1 516.2L1308.7 516.8L1309.3 513.3L1309.9 519.1L1310.5 516.1L1311.1 520.5L1311.7 518.0L1312.3 515.5L1312.9 516.4L1313.5 514.9L1314.1 517.0L1314.7 518.8L1315.3 517.9L1315.9 517.9L1316.5 521.3L1317.1 518.5L1317.7 519.4L1318.3 519.0L1318.9 519.4L1319.5 518.6L1320.1 519.7L1320.7 521.0L1321.3 519.2L1321.9 518.9L1322.5 519.7L1323.1 514.9L1323.7 518.8L1324.3 517.5L1324.9 523.9L1325.5 525.4L1326.1 521.2L1326.7 521.0L1327.3 522.9L1327.9 519.5L1328.5 521.3L1329.1 522.4L1329.7 519.0L1330.3 519.6L1330.9 519.0L1331.5 521.7L1332.1 520.1L1332.7 522.6L1333.3 519.4L1333.9 520.8L1334.5 519.6L1335.1 522.7L1335.7 524.2L1336.3 519.4L1336.9 519.1L1337.5 523.6L1338.1 519.6L1338.7 521.1L1339.3 527.1L1339.9 523.5L1340.5 523.5L1341.1 521.6L1341.7 522.4L1342.3 520.1L1342.9 521.0L1343.5 523.0L1344.1 520.6L1344.7 524.2L1345.3 520.2L1345.9 519.2L1346.5 521.9L1347.1 515.2L1347.7 522.0L1348.3 520.6L1348.9 518.8L1349.5 519.4L1350.1 518.8L1350.7 518.3L1351.3 516.9L1351.9 521.5L1352.5 518.5L1353.1 517.9L1353.7 517.6L1354.3 517.1L1354.9 517.5L1355.5 518.4L1356.1 519.8L1356.7 518.2L1357.3 519.0L1357.9 516.7L1358.5 519.3L1359.1 520.2L1359.7 517.0L1360.3 518.6L1360.9 520.4L1361.5 516.6L1362.1 518.7L1362.7 520.5L1363.3 517.7L1363.9 519.8L1364.5 519.2L1365.1 518.8L1365.7 517.8L1366.3 514.8L1366.9 518.1L1367.5 520.7L1368.1 516.8L1368.7 517.3L1369.3 518.5L1369.9 519.6L1370.5 519.6L1371.1 515.8L1371.7 520.9L1372.3 516.7L1372.9 517.1L1373.5 519.0L1374.1 518.2L1374.7 517.0L1375.3 516.7L1375.9 518.1L1376.5 517.6L1377.1 516.3L1377.7 517.7L1378.3 517.0L1378.9 518.4L1379.5 515.3L1380.1 516.1L1380.7 517.9L1381.3 515.8L1381.9 515.6L1382.5 515.5L1383.1 517.2L1383.7 518.4L1384.3 515.6L1384.9 517.4L1385.5 516.5L1386.1 517.0L1386.7 517.3L1387.3 517.1L1387.9 517.8L1388.5 517.8L1389.1 516.0L1389.7 517.4L1390.3 518.3L1390.9 520.1L1391.5 516.1L1392.1 516.9L1392.7 518.1L1393.3 517.6L1393.9 516.5L1394.5 515.2L1395.1 519.5L1395.7 515.6L1396.3 516.1L1396.9 518.0L1397.5 518.1L1398.1 518.9L1398.7 517.8L1399.3 520.4L1399.9 518.5L1400.5 519.3L1401.1 518.1L1401.7 519.3L1402.3 519.0L1402.9 519.2L1403.5 518.5L1404.1 518.3L1404.7 519.7L1405.3 519.1L1405.9 515.7L1406.5 520.3L1407.1 518.7L1407.7 521.0L1408.3 520.7L1408.9 519.7L1409.5 518.9L1410.1 519.1L1410.7 520.3L1411.3 519.5L1411.9 517.1L1412.5 519.3L1413.1 519.9L1413.7 520.6L1414.3 519.4L1414.9 520.2L1415.5 518.1L1416.1 521.0L1416.7 519.9L1417.3 519.0L1417.9 520.5L1418.5 521.5L1419.1 520.1L1419.7 521.6L1420.3 521.6L1420.9 520.1L1421.5 521.2L1422.1 519.3L1422.7 520.0L1423.3 522.7L1423.9 521.2L1424.5 521.3L1425.1 521.6L1425.7 520.0L1426.3 522.2L1426.9 524.2L1427.5 521.1L1428.1 521.9L1428.7 522.8L1429.3 521.8L1429.9 520.9L1430.5 521.3L1431.1 522.2L1431.7 519.1L1432.3 519.7L1432.9 522.9L1433.5 520.1L1434.1 522.0L1434.7 522.7L1435.3 521.4L1435.9 519.9L1436.5 520.2L1437.1 521.5L1437.7 517.0L1438.3 520.1L1438.9 518.4L1439.5 521.9L1440.1 520.2L1440.7 518.1L1441.3 521.3L1441.9 520.8L1442.5 519.7L1443.1 521.6L1443.7 518.9L1444.3 520.8L1444.9 521.0L1445.5 521.4L1446.1 521.7L1446.7 521.9L1447.3 519.7L1447.9 518.8L1448.5 521.3L1449.1 519.0L1449.7 519.6L1450.3 522.1L1450.9 519.1L1451.5 522.4L1452.1 521.2L1452.7 522.2L1453.3 520.2L1453.9 520.3L1454.5 522.1L1455.1 518.6L1455.7 520.4L1456.3 522.0L1456.9 520.4L1457.5 519.9L1458.1 520.3L1458.7 519.6L1459.3 520.5L1459.9 522.1L1460.5 521.1L1461.1 520.4L1461.7 519.5L1462.3 518.4L1462.9 521.5L1463.5 519.7L1464.1 517.4L1464.7 519.0L1465.3 518.4L1465.9 519.9L1466.5 520.8L1467.1 518.8L1467.7 520.4L1468.3 517.7L1468.9 520.3L1469.5 516.5L1470.1 519.1L1470.7 519.1L1471.3 519.3L1471.9 520.7L1472.5 519.2L1473.1 516.1L1473.7 518.6L1474.3 517.0L1474.9 515.5L1475.5 517.9L1476.1 515.6L1476.7 517.2L1477.3 518.6L1477.9 519.9L1478.5 519.1L1479.1 515.8L1479.7 519.7L1480.3 517.3L1480.9 517.4L1481.5 517.6L1482.1 516.3L1482.7 519.0L1483.3 518.2L1483.9 517.8L1484.5 517.3L1485.1 518.7L1485.7 517.7L1486.3 516.8L1486.9 516.0L1487.5 515.6L1488.1 517.5L1488.7 518.8L1489.3 516.7L1489.9 517.7L1490.5 515.4L1491.1 516.6L1491.7 516.6L1492.3 517.8L1492.9 517.6L1493.5 518.1L1494.1 515.6L1494.7 517.3L1495.3 517.7L1495.9 519.1L1496.5 517.6L1497.1 518.3L1497.7 516.5L1498.3 518.1L1498.9 515.6L1499.5 516.7L1500.1 516.7L1500.7 517.3L1501.3 516.1L1501.9 515.7L1502.5 516.7L1503.1 518.9L1503.7 515.0L1504.3 516.7L1504.9 515.6L1505.5 517.6L1506.1 516.2L1506.7 517.3L1507.3 517.2L1507.9 514.6L1508.5 515.6L1509.1 517.4L1509.7 517.0L1510.3 516.7L1510.9 516.6L1511.5 518.4L1512.1 515.9L1512.7 514.5L1513.3 515.4L1513.9 514.9L1514.5 515.9L1515.1 516.0L1515.7 515.2L1516.3 516.3L1516.9 515.3L1517.5 517.3L1518.1 515.9L1518.7 517.1L1519.3 518.3L1519.9 515.3L1520.5 517.1L1521.1 518.0L1521.7 515.0L1522.3 515.5L1522.9 515.5L1523.5 518.1L1524.1 517.2L1524.7 516.1L1525.3 519.1L1525.9 517.9L1526.5 514.6L1527.1 515.2L1527.7 518.9L1528.3 515.6L1528.9 518.8L1529.5 516.2L1530.1 515.9L1530.7 518.5L1531.3 518.3L1531.9 516.7L1532.5 517.9L1533.1 517.0L1533.7 519.1L1534.3 518.5L1534.9 517.1L1535.5 516.1L1536.1 519.2L1536.7 517.3L1537.3 517.2L1537.9 517.7L1538.5 516.4L1539.1 517.9L1539.7 516.4L1540.3 517.1L1540.9 518.2L1541.5 515.1L1542.1 514.4L1542.7 517.8L1543.3 516.2L1543.9 517.3L1544.5 517.6L1545.1 517.4L1545.7 517.0L1546.3 515.4L1546.9 515.5L1547.5 516.5L1548.1 514.2L1548.7 514.8L1549.3 518.4L1549.9 518.3L1550.5 515.9L1551.1 517.7L1551.7 516.5L1552.3 516.0L1552.9 516.9L1553.5 516.2L1554.1 516.4L1554.7 514.6L1555.3 516.6L1555.9 514.4L1556.5 514.4L1557.1 515.9L1557.7 517.0L1558.3 517.7L1558.9 517.6L1559.5 514.8L1560.1 516.7L1560.7 515.4L1561.3 515.8L1561.9 516.7L1562.5 517.0L1563.1 515.4L1563.7 516.7L1564.3 516.5L1564.9 515.3L1565.5 516.0L1566.1 513.2L1566.7 515.9L1567.3 517.0L1567.9 516.6L1568.5 517.0L1569.1 515.8L1569.7 518.9L1570.3 518.6L1570.9 516.5L1571.5 515.4L1572.1 516.9L1572.7 515.4L1573.3 510.8L1573.9 515.3L1574.5 516.5L1575.1 513.8L1575.7 514.3L1576.3 516.9L1576.9 518.5L1577.5 517.2L1578.1 516.6L1578.7 516.2L1579.3 512.8L1579.9 515.6L1580.5 515.9L1581.1 514.6L1581.7 512.5L1582.3 517.2L1582.9 513.8L1583.5 516.7L1584.1 513.8L1584.7 513.8L1585.3 515.2L1585.9 513.5L1586.5 513.2L1587.1 518.1L1587.7 512.1L1588.3 515.4L1588.9 514.9L1589.5 515.8L1590.1 516.8L1590.7 515.2L1591.3 514.8L1591.9 513.5L1592.5 515.0L1593.1 516.5L1593.7 513.1L1594.3 516.6L1594.9 513.8L1595.5 513.2L1596.1 514.8L1596.7 515.1L1597.3 515.9L1597.9 518.0L1598.5 513.8L1599.1 517.1L1599.7 514.7L1600.3 516.5L1600.9 512.0L1601.5 515.6L1602.1 514.4L1602.7 516.6L1603.3 515.2L1603.9 515.0L1604.5 510.8L1605.1 516.8L1605.7 517.2L1606.3 516.3L1606.9 520.3L1607.5 513.3L1608.1 518.4L1608.7 510.4L1609.3 516.7L1609.9 518.2L1610.5 514.2L1611.1 519.5L1611.7 514.3L1612.3 516.4L1612.9 517.8L1613.5 513.9L1614.1 513.7L1614.7 514.6" stroke="#ff4000"/>
<path d="M1511.6 514.7L1512.2 510.0L1512.8 521.1L1513.4 519.1L1514.0 517.8L1514.6 509.3L1515.2 513.6L1515.8 519.6L1516.4 517.4L1517.0 515.5L1517.6 511.8L1518.2 511.8L1518.8 513.0L1519.4 518.4L1520.0 515.4L1520.6 516.9L1521.2 512.8L1521.8 510.9L1522.4 513.7L1523.0 511.3L1523.6 509.6L1524.2 513.3L1524.8 512.6L1525.4 514.1L1526.0 516.8L1526.6 512.3L1527.2 510.8L1527.8 511.3L1528.4 517.2L1529.0 512.8L1529.6 513.5L1530.2 515.2L1530.8 515.4L1531.4 517.0L1532.0 514.0L1532.6 515.3L1533.2 513.5L1533.8 515.5L1534.4 515.5L1535.0 513.2L1535.6 514.8L1536.2 514.9L1536.8 517.3L1537.4 515.7L1538.0 516.8L1538.6 514.4L1539.2 510.9L1539.8 517.4L1540.4 517.1L1541.0 517.7L1541.6 515.3L1542.2 518.6L1542.8 513.4L1543.4 519.6L1544.0 516.3L1544.6 514.6L1545.2 516.2L1545.8 518.0L1546.4 514.8L1547.0 514.7L1547.6 514.1L1548.2 518.2L1548.8 514.6L1549.4 516.5L1550.0 515.6L1550.6 515.1L1551.2 516.7L1551.8 516.6L1552.4 515.4L1553.0 513.9L1553.6 515.4L1554.2 515.4L1554.8 517.8L1555.4 516.8L1556.0 515.9L1556.6 516.1L1557.2 520.3L1557.8 516.3L1558.4 515.5L1559.0 514.6L1559.6 515.9L1560.2 515.7L1560.8 518.3L1561.4 515.9L1562.0 514.5L1562.6 520.0L1563.2 516.4L1563.8 516.3L1564.4 515.6L1565.0 516.4L1565.6 516.4L1566.2 515.7L1566.8 518.3L1567.4 514.3L1568.0 518.2L1568.6 517.7L1569.2 516.5L1569.8 516.1L1570.4 518.7L1571.0 516.1L1571.6 516.2L1572.2 515.9L1572.8 516.0L1573.4 516.4L1574.0 517.1L1574.6 514.8L1575.2 514.6L1575.8 515.7L1576.4 517.2L1577.0 516.1L1577.6 516.1L1578.2 518.3L1578.8 516.2L1579.4 514.5L1580.0 515.9L1580.6 516.1L1581.2 516.7L1581.8 515.7L1582.4 514.5L1583.0 519.2L1583.6 517.1L1584.2 515.6L1584.8 517.6L1585.4 516.3L1586.0 521.5L1586.6 516.8L1587.2 517.4L1587.8 515.8L1588.4 515.1L1589.0 515.7L1589.6 517.1L1590.2 516.0L1590.8 514.8L1591.4 517.1L1592.0 517.0L1592.6 514.9L1593.2 514.0L1593.8 517.9L1594.4 512.9L1595.0 517.0L1595.6 513.6L1596.2 517.9L1596.8 515.8L1597.4 517.1L1598.0 518.4L1598.6 517.2L1599.2 515.3L1599.8 516.0L1600.4 516.7L1601.0 515.2L1601.6 516.8L1602.2 516.3L1602.8 515.7L1603.4 519.6L1604.0 517.7L1604.6 516.3L1605.2 517.6L1605.8 515.3L1606.4 516.8L1607.0 517.0L1607.6 517.2L1608.2 515.8L1608.8 518.6L1609.4 518.1L1610.0 517.3L1610.6 516.5L1611.2 516.9L1611.8 515.8L1612.4 514.5L1613.0 516.4L1613.6 514.6L1614.2 516.8L1614.8 517.1L1615.4 517.3L1616.0 516.1L1616.6 516.1L1617.2 516.0L1617.8 518.0L1618.4 516.8L1619.0 514.5L1619.6 517.9L1620.2 517.5L1620.8 516.5L1621.4 516.6L1622.0 516.4L1622.6 517.4L1623.2 518.1L1623.8 517.2L1624.4 517.5L1625.0 517.7L1625.6 518.0L1626.2 516.5L1626.8 516.4L1627.4 516.4L1628.0 516.4L1628.6 516.6L1629.2 514.0L1629.8 516.7L1630.4 516.2L1631.0 516.9L1631.6 518.1L1632.2 514.8L1632.8 513.7L1633.4 515.2L1634.0 516.6L1634.6 515.8L1635.2 515.9L1635.8 514.5L1636.4 516.6L1637.0 517.2L1637.6 514.3L1638.2 514.6L1638.8 515.8L1639.4 514.2L1640.0 515.6L1640.6 515.8L1641.2 515.5L1641.8 514.0L1642.4 516.3L1643.0 514.4L1643.6 514.6L1644.2 513.9L1644.8 515.1L1645.4 515.0L1646.0 515.9L1646.6 517.1L1647.2 516.2L1647.8 515.5L1648.4 515.4L1649.0 516.6L1649.6 517.5L1650.2 514.6L1650.8 512.0L1651.4 516.1L1652.0 517.2L1652.6 513.5L1653.2 516.4L1653.8 514.9L1654.4 515.8L1655.0 514.4L1655.6 515.9L1656.2 513.1L1656.8 515.4L1657.4 519.3L1658.0 519.4L1658.6 514.3L1659.2 516.1L1659.8 518.0L1660.4 517.3L1661.0 517.7L1661.6 513.9L1662.2 519.7L1662.8 516.4L1663.4 518.8L1664.0 518.1L1664.6 517.5L1665.2 514.9L1665.8 516.8L1666.4 515.6L1667.0 517.4L1667.6 515.9L1668.2 515.4L1668.8 521.6L1669.4 516.7L1670.0 517.1L1670.6 516.0L1671.2 519.1L1671.8 517.6L1672.4 516.6L1673.0 515.8L1673.6 515.7L1674.2 516.3L1674.8 517.0L1675.4 517.3L1676.0 517.6L1676.6 517.6L1677.2 516.1L1677.8 513.6L1678.4 512.5L1679.0 516.6L1679.6 513.6L1680.2 518.3L1680.8 517.3L1681.4 515.3L1682.0 514.6L1682.6 515.5L1683.2 515.9L1683.8 515.5L1684.4 516.8L1685.0 514.5L1685.6 514.3L1686.2 514.8L1686.8 517.3L1687.4 516.1L1688.0 516.8L1688.6 514.3L1689.2 516.1L1689.8 514.7L1690.4 516.7L1691.0 515.4L1691.6 515.6L1692.2 517.1L1692.8 514.6L1693.4 515.3L1694.0 516.8L1694.6 514.9L1695.2 514.9L1695.8 516.7L1696.4 516.6L1697.0 515.6L1697.6 513.3L1698.2 516.2L1698.8 516.6L1699.4 517.6L1700.0 514.0L1700.6 517.2L1701.2 516.2L1701.8 515.9L1702.4 518.3L1703.0 519.0L1703.6 515.0L1704.2 516.0L1704.8 517.5L1705.4 516.7L1706.0 516.4L1706.6 515.2L1707.2 514.6L1707.8 517.5L1708.4 515.7L1709.0 517.0L1709.6 517.7L1710.2 516.4L1710.8 517.8L1711.4 515.5L1712.0 516.3L1712.6 516.8L1713.2 518.0L1713.8 517.4L1714.4 517.0L1715.0 515.5L1715.6 514.4L1716.2 516.8L1716.8 516.0L1717.4 514.8L1718.0 513.3L1718.6 514.8L1719.2 516.0L1719.8 519.2L1720.4 514.0L1721.0 519.5L1721.6 516.5L1722.2 515.6L1722.8 515.7L1723.4 515.5L1724.0 516.3L1724.6 516.5L1725.2 515.3L1725.8 515.6L1726.4 512.1L1727.0 515.9L1727.6 513.3L1728.2 516.2L1728.8 517.3L1729.4 516.9L1730.0 518.8L1730.6 514.7L1731.2 516.4L1731.8 515.6L1732.4 516.8L1733.0 516.4L1733.6 515.1L1734.2 515.1L1734.8 516.9L1735.4 512.8L1736.0 516.3L1736.6 513.4L1737.2 513.3L1737.8 517.4L1738.4 513.4L1739.0 513.8L1739.6 516.5L1740.2 515.1L1740.8 515.9L1741.4 519.4L1742.0 519.1L1742.6 516.6L1743.2 521.9L1743.8 515.0L1744.4 516.8L1745.0 517.1L1745.6 514.5L1746.2 516.7L1746.8 515.8L1747.4 514.7L1748.0 516.5L1748.6 515.6L1749.2 514.1L1749.8 517.2L1750.4 516.8L1751.0 512.3L1751.6 521.0L1752.2 512.8L1752.8 513.3L1753.4 514.8L1754.0 517.5L1754.6 513.8L1755.2 519.8L1755.8 516.1L1756.4 521.7L1757.0 515.3L1757.6 518.1L1758.2 512.3L1758.8 519.6L1759.4 515.2L1760.0 516.9L1760.6 516.6L1761.2 512.9L1761.8 514.7L1762.4 516.8L1763.0 516.7L1763.6 517.4L1764.2 515.0L1764.8 518.4L1765.4 514.9L1766.0 517.5L1766.6 513.4L1767.2 514.4L1767.8 514.2L1768.4 521.8L1769.0 517.0L1769.6 517.5L1770.2 516.1L1770.8 514.5L1771.4 516.1L1772.0 511.8L1772.6 513.0L1773.2 520.2L1773.8 513.4L1774.4 520.9L1775.0 515.3L1775.6 520.6L1776.2 514.7" stroke="#ff2000"/>
<path d="M215.0 514.2L215.6 514.4L216.2 511.6L216.8 514.2L217.4 514.6L218.0 516.1L218.6 516.7L219.2 514.8L219.8 514.6L220.4 514.0L221.0 514.6L221.6 514.1L222.2 512.8L222.8 513.5L223.4 513.5L224.0 513.7L224.6 513.1L225.2 514.4L225.8 517.9L226.4 515.2L227.0 514.2L227.6 514.1L228.2 514.2L228.8 514.1L229.4 513.4L230.0 513.9L230.6 514.6L231.2 513.6L231.8 513.6L232.4 517.2L233.0 513.0L233.6 513.8L234.2 514.7L234.8 514.0L235.4 515.0L236.0 515.6L236.6 517.2L237.2 513.6L237.8 514.2L238.4 514.6L239.0 513.7L239.6 514.1L240.2 511.5L240.8 514.0L241.4 512.6L242.0 516.9L242.6 515.3L243.2 513.5L243.8 516.2L244.4 514.7L245.0 512.7L245.6 515.7L246.2 514.3L246.8 514.5L247.4 514.6L248.0 515.0L248.6 515.5L249.2 514.4L249.8 515.4L250.4 515.0L251.0 512.5L251.6 514.0L252.2 514.2L252.8 514.6L253.4 511.9L254.0 512.0L254.6 513.1L255.2 515.2L255.8 517.6L256.4 513.3L257.0 512.8L257.6 512.7L258.2 513.2L258.8 514.9L259.4 514.0L260.0 515.3L260.6 515.5L261.2 513.4L261.8 514.9L262.4 515.4L263.0 515.6L263.6 515.1L264.2 515.5L264.8 513.7L265.4 513.6L266.0 513.8L266.6 512.1L267.2 514.0L267.8 514.1L268.4 515.9L269.0 513.1L269.6 513.8L270.2 513.9L270.8 514.4L271.4 514.4L272.0 514.2L272.6 514.8L273.2 513.7L273.8 514.0L274.4 514.5L275.0 513.6L275.6 513.1L276.2 514.1L276.8 514.5L277.4 515.2L278.0 513.0L278.6 514.4L279.2 515.5L279.8 513.5L280.4 511.8L281.0 514.7L281.6 514.5L282.2 514.3L282.8 515.1L283.4 512.3L284.0 514.1L284.6 514.5L285.2 513.1L285.8 512.7L286.4 513.2L287.0 515.2L287.6 514.9L288.2 513.7L288.8 513.1L289.4 512.9L290.0 512.6L290.6 515.7L291.2 515.9L291.8 512.8L292.4 514.8L293.0 515.4L293.6 513.9L294.2 511.5L294.8 514.0L295.4 514.6L296.0 513.1L296.6 512.7L297.2 514.5L297.8 514.0L298.4 513.9L299.0 513.4L299.6 514.4L300.2 514.2L300.8 512.2L301.4 514.0L302.0 510.5L302.6 511.7L303.2 513.6L303.8 513.9L304.4 514.6L305.0 514.0L305.6 512.7L306.2 513.6L306.8 513.6L307.4 514.2L308.0 513.4L308.6 512.9L309.2 514.3L309.8 513.9L310.4 511.9L311.0 512.5L311.6 511.9L312.2 510.8L312.8 512.8L313.4 510.2L314.0 515.4L314.6 512.3L315.2 514.1L315.8 512.7L316.4 513.5L317.0 514.5L317.6 516.2L318.2 515.1L318.8 514.6L319.4 509.9L320.0 514.3L320.6 513.1L321.2 512.1L321.8 513.4L322.4 512.8L323.0 513.6L323.6 516.1L324.2 515.7L324.8 515.0L325.4 511.2L326.0 512.3L326.6 511.4L327.2 515.6L327.8 513.1L328.4 512.3L329.0 513.0L329.6 513.3L330.2 514.8L330.8 512.9L331.4 514.3L332.0 513.3L332.6 513.7L333.2 513.8L333.8 514.5L334.4 512.9L335.0 512.2L335.6 513.1L336.2 510.7L336.8 515.2L337.4 512.9L338.0 515.8L338.6 514.7L339.2 514.3L339.8 515.7L340.4 514.5L341.0 513.2L341.6 511.9L342.2 514.0L342.8 514.7L343.4 513.3L344.0 513.8L344.6 516.7L345.2 516.6L345.8 515.9L346.4 513.9L347.0 516.6L347.6 514.3L348.2 513.5L348.8 514.6L349.4 512.7L350.0 513.0L350.6 515.1L351.2 515.4L351.8 518.1L352.4 515.3L353.0 515.3L353.6 516.2L354.2 513.9L354.8 513.3L355.4 516.6L356.0 516.5L356.6 515.1L357.2 513.9L357.8 514.0L358.4 513.1L359.0 515.6L359.6 517.0L360.2 515.0L360.8 514.0L361.4 515.2L362.0 515.2L362.6 515.8L363.2 513.9L363.8 515.1L364.4 513.0L365.0 513.5L365.6 515.0L366.2 515.7L366.8 514.5L367.4 513.1L368.0 516.2L368.6 516.5L369.2 514.9L369.8 516.7L370.4 516.5L371.0 512.2L371.6 513.3L372.2 516.1L372.8 511.2L373.4 515.7L374.0 516.6L374.6 514.8L375.2 512.7L375.8 514.1L376.4 516.8L377.0 512.2L377.6 515.5L378.2 516.3L378.8 513.7L379.4 515.4L380.0 513.7L380.6 518.3L381.2 515.5L381.8 513.2L382.4 512.4L383.0 514.5L383.6 515.9L384.2 514.8L384.8 512.6L385.4 514.7L386.0 515.9L386.6 514.2L387.2 515.8L387.8 516.1L388.4 513.9L389.0 513.6L389.6 513.5L390.2 517.0L390.8 514.2L391.4 515.4L392.0 517.0L392.6 516.3L393.2 514.9L393.8 517.4L394.4 516.8L395.0 513.5L395.6 518.8L396.2 516.2L396.8 513.1L397.4 513.8L398.0 516.9L398.6 517.0L399.2 514.2L399.8 518.3L400.4 515.0L401.0 514.4L401.6 513.1L402.2 515.0L402.8 519.6L403.4 516.8L404.0 516.8L404.6 511.9L405.2 515.1L405.8 514.0L406.4 513.6L407.0 516.0L407.6 513.5L408.2 515.2L408.8 511.0L409.4 514.5L410.0 517.2L410.6 514.7L411.2 509.8L411.8 515.1L412.4 514.3L413.0 518.0L413.6 520.3L414.2 515.6L414.8 515.4L415.4 517.6L416.0 513.9L416.6 516.8L417.2 514.2L1786.5 514.2L1787.1 512.3L1787.7 515.6L1788.3 513.9L1788.9 515.4L1789.5 515.0L1790.1 519.7L1790.7 517.8L1791.3 517.9L1791.9 509.8L1792.5 513.4L1793.1 517.6L1793.7 515.8L1794.3 517.8L1794.9 513.9L1795.5 513.9L1796.1 515.8L1796.7 517.6L1797.3 513.3L1797.9 513.8L1798.5 518.6L1799.1 517.1L1799.7 513.4L1800.3 513.7L1800.9 514.0L1801.5 512.0L1802.1 518.9L1802.7 512.0L1803.3 513.9L1803.9 514.0L1804.5 510.5L1805.1 514.6L1805.7 515.7L1806.3 516.6L1937.5 516.6" stroke="#ff0000"/>
<path d="M626.8 514.7L627.4 515.7L628.0 519.2L628.6 510.2L629.2 508.5L629.8 505.8L630.4 518.8L631.0 529.4L631.6 523.3L632.2 516.8L632.8 517.2L633.4 514.7L634.0 512.5L634.6 512.6L635.2 517.6L635.8 520.2L636.4 525.3L637.0 521.2L637.6 518.2L638.2 511.6L638.8 517.6L639.4 511.4L640.0 517.6L640.6 514.7L641.2 515.6L641.8 515.9L642.4 515.9L643.0 515.2L643.6 514.1L644.2 514.4L644.8 515.3L645.4 514.9L646.0 515.9L646.6 509.0L647.2 512.5L647.8 514.1L648.4 514.6L649.0 515.1L649.6 514.0L650.2 515.1L650.8 512.9L651.4 513.3L652.0 515.1L652.6 514.2L653.2 513.2L653.8 513.2L654.4 515.8L655.0 511.5L655.6 514.1L656.2 514.0L656.8 510.9L657.4 514.8L658.0 514.6L658.6 515.4L659.2 516.2L659.8 511.5L660.4 512.4L661.0 512.9L661.6 512.4L662.2 510.9L662.8 511.8L663.4 514.1L664.0 512.9L664.6 511.3L665.2 516.3L665.8 515.5L666.4 512.4L667.0 514.4L667.6 512.9L668.2 513.1L668.8 511.7L669.4 513.9L670.0 513.6L670.6 512.8L671.2 513.5L671.8 513.5L672.4 514.9L673.0 512.8L673.6 511.1L674.2 510.3L674.8 513.8L675.4 514.1L676.0 511.1L676.6 514.0L677.2 506.9L677.8 510.6L678.4 510.6L679.0 511.9L679.6 509.8L680.2 511.0L680.8 511.0L681.4 512.1L682.0 511.1L682.6 512.0L683.2 510.3L683.8 510.4L684.4 509.9L685.0 510.8L685.6 510.9L686.2 510.7L686.8 509.4L687.4 511.5L688.0 510.4L688.6 512.4L689.2 509.8L689.8 513.9L690.4 511.9L691.0 511.0L691.6 510.0L692.2 510.9L692.8 510.8L693.4 509.3L694.0 509.3L694.6 509.3L695.2 511.5L695.8 508.7L696.4 510.2L697.0 511.8L697.6 510.8L698.2 511.8L698.8 511.0L699.4 508.1L700.0 510.9L700.6 511.2L701.2 508.7L701.8 513.6L702.4 509.3L703.0 510.7L703.6 511.2L704.2 511.0L704.8 510.7L705.4 510.5L706.0 510.9L706.6 509.3L707.2 509.8L707.8 510.0L708.4 511.6L709.0 511.3L709.6 509.3L710.2 509.2L710.8 509.0L711.4 510.2L712.0 510.4L712.6 510.0L713.2 509.1L713.8 513.2L714.4 509.0L715.0 510.1L715.6 512.7L716.2 510.5L716.8 513.3L717.4 511.4L718.0 512.1L718.6 509.6L719.2 513.2L719.8 509.2L720.4 512.8L721.0 511.5L721.6 510.2L722.2 511.4L722.8 513.6L723.4 514.3L724.0 511.7L724.6 510.7L725.2 511.0L725.8 509.3L726.4 511.1L727.0 508.8L727.6 509.1L728.2 509.0L728.8 512.2L729.4 509.6L730.0 510.8L730.6 513.6L731.2 512.2L731.8 511.2L732.4 509.2L733.0 511.1L733.6 511.1L734.2 508.7L734.8 511.6L735.4 511.8L736.0 514.9L736.6 513.0L737.2 513.2L737.8 512.0L738.4 512.2L739.0 512.7L739.6 513.7L740.2 512.9L740.8 511.1L741.4 513.1L742.0 512.9L742.6 511.5L743.2 511.4L743.8 514.2L744.4 514.5L745.0 513.7L745.6 513.9L746.2 514.3L746.8 513.0L747.4 511.9L748.0 512.5L748.6 511.2L749.2 512.8L749.8 512.6L750.4 512.3L751.0 511.5L751.6 512.7L752.2 510.6L752.8 510.0L753.4 510.5L754.0 510.7L754.6 510.6L755.2 509.2L755.8 511.5L756.4 509.3L757.0 509.7L757.6 512.1L758.2 508.9L758.8 511.3L759.4 511.7L760.0 508.5L760.6 509.5L761.2 511.2L761.8 512.0L762.4 512.5L763.0 511.6L763.6 510.0L764.2 509.9L764.8 511.4L765.4 509.9L766.0 509.7L766.6 508.8L767.2 512.6L767.8 511.7L768.4 512.8L769.0 512.6L769.6 510.5L770.2 510.3L770.8 513.1L771.4 511.5L772.0 509.3L772.6 511.2L773.2 510.3L773.8 511.9L774.4 512.0L775.0 512.4L775.6 511.4L776.2 512.8L776.8 512.0L777.4 511.9L778.0 513.2L778.6 513.5L779.2 510.4L779.8 509.7L780.4 509.0L781.0 512.7L781.6 510.4L782.2 510.9L782.8 512.2L783.4 509.0L784.0 511.7L784.6 514.7L785.2 512.5L785.8 513.1L786.4 513.7L787.0 513.0L787.6 512.7L788.2 514.8L788.8 512.9L789.4 514.8L790.0 513.6L790.6 513.8L791.2 517.2L791.8 513.7L792.4 512.2L793.0 513.7L793.6 512.5L794.2 513.7L794.8 512.3L795.4 513.8L796.0 512.4L796.6 513.6L797.2 512.7L797.8 511.6L798.4 511.3L799.0 510.3L799.6 507.9L800.2 512.3L800.8 512.0L801.4 512.3L802.0 512.6L802.6 508.7L803.2 507.9L803.8 509.2L804.4 510.2L805.0 510.9L805.6 513.0L806.2 515.8L806.8 511.0L807.4 510.5L808.0 510.7L808.6 511.4L809.2 509.6L809.8 510.1L810.4 512.6L811.0 510.6L811.6 509.9L812.2 509.8L812.8 511.1L813.4 511.7L814.0 513.3L814.6 512.1L815.2 514.9L815.8 511.1L816.4 511.5L817.0 509.4L817.6 513.0L818.2 510.5L818.8 510.6L819.4 509.0L820.0 512.4L820.6 509.4L821.2 511.4L821.8 511.0L822.4 509.3L823.0 511.0L823.6 510.7L824.2 512.7L824.8 509.8L825.4 509.8L826.0 509.7L826.6 511.3L827.2 509.9L827.8 512.6L828.4 511.6L829.0 510.1L829.6 508.8L830.2 508.1L830.8 509.5L831.4 509.9L832.0 510.1L832.6 509.3L833.2 508.4L833.8 515.5L834.4 510.0L835.0 509.8L835.6 509.7L836.2 509.6L836.8 510.1L837.4 511.0L838.0 511.5L838.6 510.1L839.2 508.3L839.8 509.6L840.4 510.1L841.0 510.8L841.6 510.9L842.2 508.2L842.8 511.6L843.4 513.6L844.0 510.8L844.6 508.7L845.2 514.1L845.8 511.7L846.4 509.9L847.0 508.9L847.6 511.0L848.2 511.4L848.8 510.5L849.4 512.1L850.0 513.0L850.6 507.8L851.2 509.8L851.8 510.5L852.4 513.6L853.0 513.2L853.6 512.2L854.2 512.0L854.8 511.9L855.4 510.9L856.0 509.3L856.6 510.3L857.2 512.8L857.8 512.0L858.4 508.8L859.0 511.7L859.6 509.9L860.2 509.4L860.8 511.4L861.4 511.6L862.0 510.5L862.6 513.7L863.2 512.6L863.8 506.3L864.4 509.8L865.0 514.0L865.6 512.4L866.2 512.2L866.8 515.7L867.4 510.2L868.0 512.1L868.6 510.8L869.2 510.1L869.8 510.7L870.4 509.6L871.0 509.6L871.6 508.4L872.2 509.5L872.8 508.7L873.4 512.0L874.0 512.4L874.6 508.9L875.2 514.4L875.8 513.9L876.4 507.6L877.0 513.8L877.6 508.3L878.2 510.9L878.8 508.8L879.4 511.8L880.0 507.2L880.6 512.7L881.2 514.8L881.8 515.8L882.4 512.0L883.0 507.7L883.6 510.6L884.2 513.5L884.8 513.0L885.4 510.4L886.0 509.6L886.6 511.3L887.2 509.4L887.8 513.1L888.4 507.2L889.0 515.1L889.6 513.4L890.2 511.2L890.8 517.2L891.4 505.8L892.0 510.3L892.6 514.7" stroke="#df0000"/>
<path d="M215.0 513.4L215.6 515.3L216.2 515.5L216.8 517.5L217.4 515.0L218.0 514.3L218.6 514.1L219.2 512.3L219.8 514.6L220.4 516.2L221.0 513.2L221.6 516.6L222.2 513.5L222.8 514.1L223.4 513.9L224.0 513.5L224.6 512.8L225.2 514.1L225.8 513.7L226.4 513.2L227.0 513.8L227.6 513.5L228.2 515.3L228.8 516.0L229.4 511.2L230.0 513.9L230.6 514.8L231.2 514.4L231.8 516.0L232.4 515.1L233.0 516.1L233.6 517.1L234.2 513.5L234.8 517.0L235.4 513.9L236.0 516.7L236.6 515.8L237.2 515.7L237.8 514.1L238.4 514.1L239.0 514.7L239.6 514.9L240.2 514.1L240.8 512.7L241.4 513.4L242.0 517.2L242.6 514.4L243.2 514.2L243.8 516.1L244.4 513.5L245.0 515.4L245.6 515.2L246.2 517.3L246.8 515.2L247.4 512.2L248.0 514.8L248.6 513.6L249.2 515.7L249.8 513.5L250.4 513.2L251.0 515.5L251.6 517.4L252.2 511.7L252.8 514.0L253.4 515.6L254.0 517.1L254.6 516.3L255.2 514.4L255.8 516.5L256.4 515.7L257.0 519.0L257.6 516.7L258.2 516.6L258.8 513.0L259.4 517.1L260.0 510.8L260.6 517.6L261.2 514.0L261.8 518.8L262.4 516.5L263.0 516.5L263.6 516.9L264.2 516.4L264.8 512.7L265.4 515.7L266.0 516.1L266.6 510.9L267.2 513.0L267.8 517.3L268.4 515.5L269.0 514.4L269.6 517.7L270.2 510.5L270.8 513.4L271.4 514.8L272.0 516.2L272.6 515.5L273.2 510.1L273.8 513.1L274.4 518.4L275.0 517.1L275.6 519.9L276.2 513.8L276.8 516.1L277.4 517.9L278.0 514.4L278.6 512.8L279.2 517.4L279.8 513.7L280.4 514.6L281.0 517.5L281.6 516.2L282.2 513.4L1698.0 513.4L1698.6 513.4L1699.2 511.2L1699.8 510.5L1700.4 513.5L1701.0 507.7L1701.6 513.0L1702.2 507.7L1702.8 509.9L1703.4 508.8L1704.0 515.5L1704.6 515.0L1705.2 513.1L1705.8 516.9L1706.4 513.4L1707.0 515.8L1707.6 516.6L1708.2 517.0L1708.8 516.6L1709.4 511.4L1710.0 513.5L1710.6 511.0L1711.2 514.3L1711.8 510.0L1712.4 511.0L1713.0 512.9L1713.6 511.9L1714.2 512.7L1714.8 511.2L1715.4 515.2L1716.0 513.4L1716.6 513.7L1717.2 510.1L1717.8 508.2L1718.4 515.3L1719.0 517.7L1719.6 516.1L1720.2 518.9L1720.8 516.8L1721.4 511.9L1722.0 513.0L1722.6 511.9L1723.2 507.8L1723.8 515.4L1724.4 515.0L1725.0 513.5L1725.6 517.1L1726.2 515.9L1726.8 513.5L1727.4 512.6L1728.0 515.1L1728.6 515.0L1729.2 512.2L1729.8 516.5L1730.4 513.8L1731.0 512.0L1731.6 514.9L1732.2 512.1L1732.8 513.6L1733.4 514.7L1734.0 512.0L1734.6 512.2L1735.2 513.4L1735.8 513.8L1736.4 512.9L1737.0 515.6L1737.6 512.4L1738.2 512.8L1738.8 511.2L1739.4 512.7L1740.0 514.3L1740.6 512.4L1741.2 512.0L1741.8 512.0L1742.4 514.0L1743.0 513.6L1743.6 513.7L1744.2 513.1L1744.8 514.3L1745.4 512.3L1746.0 514.7L1746.6 514.1L1747.2 510.8L1747.8 514.0L1748.4 513.5L1749.0 513.3L1749.6 514.9L1750.2 514.3L1750.8 511.2L1751.4 514.8L1752.0 512.3L1752.6 511.3L1753.2 514.8L1753.8 513.5L1754.4 512.6L1755.0 515.3L1755.6 513.2L1756.2 516.1L1756.8 514.8L1757.4 513.6L1758.0 513.2L1758.6 513.9L1759.2 513.5L1759.8 512.1L1760.4 514.0L1761.0 512.5L1761.6 512.9L1762.2 511.0L1762.8 514.0L1763.4 516.4L1764.0 513.0L1764.6 511.7L1765.2 514.4L1765.8 514.8L1766.4 513.1L1767.0 514.4L1767.6 514.0L1768.2 513.8L1768.8 514.0L1769.4 513.8L1770.0 511.7L1770.6 513.4L1771.2 516.1L1771.8 515.3L1772.4 513.1L1773.0 514.2L1773.6 513.6L1774.2 512.7L1774.8 515.2L1775.4 515.4L1776.0 512.5L1776.6 514.8L1777.2 513.0L1777.8 514.1L1778.4 513.3L1779.0 516.4L1779.6 514.5L1780.2 515.4L1780.8 514.8L1781.4 512.6L1782.0 514.2L1782.6 514.3L1783.2 514.3L1783.8 513.5L1784.4 515.3L1785.0 514.9L1785.6 513.8L1786.2 513.4L1786.8 513.2L1787.4 514.9L1788.0 512.9L1788.6 513.6L1789.2 511.6L1789.8 515.5L1790.4 514.2L1791.0 512.9L1791.6 514.6L1792.2 514.4L1792.8 512.1L1793.4 515.0L1794.0 515.3L1794.6 513.4L1795.2 514.6L1795.8 517.0L1796.4 512.5L1797.0 515.1L1797.6 515.1L1798.2 512.4L1798.8 513.9L1799.4 514.8L1800.0 513.4L1800.6 511.9L1801.2 513.9L1801.8 513.5L1802.4 516.6L1803.0 511.7L1803.6 515.6L1804.2 511.5L1804.8 514.6L1805.4 513.1L1806.0 513.9L1937.5 513.9" stroke="#bf0000"/>
<path d="M1162.3 515.2L1162.9 511.6L1163.5 515.6L1164.1 517.5L1164.7 509.1L1165.3 519.4L1165.9 511.0L1166.5 510.7L1167.1 507.8L1167.7 514.3L1168.3 514.9L1168.9 510.4L1169.5 515.9L1170.1 514.3L1170.7 514.1L1171.3 516.1L1171.9 518.2L1172.5 514.9L1173.1 513.5L1173.7 510.8L1174.3 514.3L1174.9 519.4L1175.5 515.7L1176.1 517.3L1176.7 517.8L1177.3 519.6L1177.9 516.9L1178.5 518.0L1179.1 517.3L1179.7 523.3L1180.3 516.0L1180.9 520.5L1181.5 518.8L1182.1 518.1L1182.7 520.3L1183.3 520.4L1183.9 518.9L1184.5 518.5L1185.1 519.4L1185.7 516.5L1186.3 517.4L1186.9 517.3L1187.5 519.9L1188.1 514.7L1188.7 515.1L1189.3 516.8L1189.9 514.0L1190.5 513.6L1191.1 518.0L1191.7 513.8L1192.3 516.4L1192.9 517.2L1193.5 518.8L1194.1 513.1L1194.7 514.4L1195.3 516.6L1195.9 514.8L1196.5 516.7L1197.1 520.5L1197.7 517.4L1198.3 517.0L1198.9 515.9L1199.5 517.7L1200.1 518.6L1200.7 520.1L1201.3 519.2L1201.9 517.7L1202.5 520.5L1203.1 518.6L1203.7 519.9L1204.3 519.2L1204.9 520.0L1205.5 522.7L1206.1 520.8L1206.7 520.2L1207.3 519.2L1207.9 522.0L1208.5 523.3L1209.1 520.7L1209.7 519.3L1210.3 518.4L1210.9 521.4L1211.5 522.6L1212.1 522.1L1212.7 521.7L1213.3 520.9L1213.9 524.8L1214.5 524.7L1215.1 522.6L1215.7 522.7L1216.3 520.3L1216.9 521.3L1217.5 523.9L1218.1 523.2L1218.7 521.5L1219.3 522.6L1219.9 524.6L1220.5 522.8L1221.1 522.8L1221.7 520.6L1222.3 522.7L1222.9 523.3L1223.5 520.3L1224.1 523.0L1224.7 525.0L1225.3 523.6L1225.9 523.6L1226.5 523.6L1227.1 524.5L1227.7 524.3L1228.3 525.9L1228.9 523.9L1229.5 527.3L1230.1 525.8L1230.7 524.0L1231.3 525.3L1231.9 528.3L1232.5 528.6L1233.1 524.6L1233.7 526.1L1234.3 526.8L1234.9 526.4L1235.5 526.2L1236.1 524.4L1236.7 526.4L1237.3 523.7L1237.9 524.7L1238.5 525.7L1239.1 522.7L1239.7 522.0L1240.3 521.2L1240.9 521.2L1241.5 522.0L1242.1 518.9L1242.7 521.6L1243.3 521.3L1243.9 519.4L1244.5 520.5L1245.1 520.7L1245.7 519.2L1246.3 517.6L1246.9 519.7L1247.5 519.4L1248.1 517.0L1248.7 518.5L1249.3 519.0L1249.9 518.9L1250.5 519.6L1251.1 519.1L1251.7 520.4L1252.3 518.8L1252.9 517.3L1253.5 519.7L1254.1 518.3L1254.7 521.2L1255.3 518.6L1255.9 520.3L1256.5 518.2L1257.1 519.3L1257.7 518.2L1258.3 520.5L1258.9 520.3L1259.5 518.3L1260.1 519.5L1260.7 520.7L1261.3 520.1L1261.9 518.4L1262.5 520.6L1263.1 519.8L1263.7 520.2L1264.3 519.1L1264.9 518.1L1265.5 517.2L1266.1 517.5L1266.7 518.0L1267.3 518.9L1267.9 519.5L1268.5 519.0L1269.1 522.4L1269.7 520.9L1270.3 515.8L1270.9 517.4L1271.5 519.5L1272.1 520.2L1272.7 517.8L1273.3 517.5L1273.9 517.8L1274.5 519.1L1275.1 517.4L1275.7 517.9L1276.3 516.1L1276.9 517.9L1277.5 517.1L1278.1 515.9L1278.7 518.4L1279.3 518.2L1279.9 519.8L1280.5 516.1L1281.1 521.1L1281.7 519.5L1282.3 518.0L1282.9 521.1L1283.5 518.7L1284.1 519.9L1284.7 521.3L1285.3 519.2L1285.9 521.8L1286.5 520.1L1287.1 519.4L1287.7 523.1L1288.3 520.5L1288.9 522.3L1289.5 522.6L1290.1 520.4L1290.7 521.5L1291.3 521.0L1291.9 522.0L1292.5 521.1L1293.1 523.8L1293.7 522.1L1294.3 521.7L1294.9 524.3L1295.5 521.6L1296.1 521.7L1296.7 520.2L1297.3 519.8L1297.9 519.9L1298.5 520.7L1299.1 520.8L1299.7 521.7L1300.3 519.5L1300.9 517.0L1301.5 518.6L1302.1 516.9L1302.7 518.2L1303.3 517.5L1303.9 517.5L1304.5 517.1L1305.1 517.3L1305.7 518.5L1306.3 520.4L1306.9 519.3L1307.5 520.9L1308.1 518.0L1308.7 519.8L1309.3 518.3L1309.9 517.0L1310.5 519.2L1311.1 518.8L1311.7 520.3L1312.3 519.3L1312.9 517.3L1313.5 519.1L1314.1 519.2L1314.7 519.9L1315.3 518.6L1315.9 519.5L1316.5 518.5L1317.1 520.2L1317.7 518.7L1318.3 520.1L1318.9 519.7L1319.5 518.8L1320.1 519.0L1320.7 518.2L1321.3 519.3L1321.9 517.2L1322.5 519.3L1323.1 520.7L1323.7 521.3L1324.3 519.1L1324.9 518.9L1325.5 521.0L1326.1 519.2L1326.7 519.4L1327.3 520.0L1327.9 519.2L1328.5 519.2L1329.1 519.2L1329.7 518.6L1330.3 520.7L1330.9 520.0L1331.5 518.7L1332.1 518.6L1332.7 519.0L1333.3 516.2L1333.9 516.8L1334.5 519.7L1335.1 518.1L1335.7 516.2L1336.3 518.1L1336.9 515.8L1337.5 517.1L1338.1 516.3L1338.7 516.6L1339.3 517.7L1339.9 516.2L1340.5 517.5L1341.1 514.0L1341.7 514.3L1342.3 516.7L1342.9 516.9L1343.5 515.0L1344.1 517.3L1344.7 516.8L1345.3 515.8L1345.9 517.0L1346.5 515.7L1347.1 519.3L1347.7 517.5L1348.3 517.3L1348.9 516.0L1349.5 516.8L1350.1 515.6L1350.7 515.8L1351.3 514.6L1351.9 516.3L1352.5 516.2L1353.1 515.0L1353.7 516.4L1354.3 516.6L1354.9 517.2L1355.5 516.6L1356.1 514.6L1356.7 517.0L1357.3 516.3L1357.9 514.6L1358.5 517.2L1359.1 516.2L1359.7 516.9L1360.3 517.3L1360.9 515.1L1361.5 516.0L1362.1 517.0L1362.7 515.3L1363.3 514.3L1363.9 516.6L1364.5 515.1L1365.1 516.5L1365.7 516.6L1366.3 517.2L1366.9 516.6L1367.5 518.0L1368.1 517.3L1368.7 516.9L1369.3 519.1L1369.9 517.5L1370.5 517.6L1371.1 516.0L1371.7 518.2L1372.3 518.9L1372.9 516.7L1373.5 517.6L1374.1 516.5L1374.7 517.6L1375.3 519.1L1375.9 517.1L1376.5 514.5L1377.1 518.4L1377.7 516.9L1378.3 516.8L1378.9 518.7L1379.5 515.9L1380.1 518.4L1380.7 521.1L1381.3 514.2L1381.9 520.2L1382.5 519.2L1383.1 516.2L1383.7 518.7L1384.3 518.3L1384.9 517.8L1385.5 518.2L1386.1 518.6L1386.7 518.7L1387.3 517.2L1387.9 518.0L1388.5 519.5L1389.1 517.9L1389.7 519.4L1390.3 519.3L1390.9 517.6L1391.5 519.4L1392.1 520.2L1392.7 518.7L1393.3 518.2L1393.9 519.8L1394.5 516.3L1395.1 518.7L1395.7 519.4L1396.3 520.7L1396.9 521.1L1397.5 520.2L1398.1 520.4L1398.7 518.5L1399.3 519.8L1399.9 519.6L1400.5 520.9L1401.1 520.4L1401.7 521.3L1402.3 519.9L1402.9 520.8L1403.5 521.3L1404.1 520.4L1404.7 521.6L1405.3 520.0L1405.9 521.1L1406.5 520.2L1407.1 519.7L1407.7 521.6L1408.3 521.4L1408.9 519.7L1409.5 518.9L1410.1 517.7L1410.7 521.6L1411.3 522.1L1411.9 519.2L1412.5 520.6L1413.1 521.4L1413.7 522.0L1414.3 518.7L1414.9 522.0L1415.5 521.1L1416.1 524.0L1416.7 519.8L1417.3 520.0L1417.9 520.8L1418.5 519.6L1419.1 519.7L1419.7 520.2L1420.3 521.0L1420.9 520.1L1421.5 522.7L1422.1 522.5L1422.7 517.3L1423.3 518.4L1423.9 518.2L1424.5 523.5L1425.1 521.9L1425.7 520.9L1426.3 520.1L1426.9 518.8L1427.5 520.5L1428.1 519.1L1428.7 519.0L1429.3 519.9L1429.9 519.3L1430.5 520.4L1431.1 518.4L1431.7 520.0L1432.3 520.0L1432.9 517.5L1433.5 520.4L1434.1 518.8L1434.7 519.2L1435.3 520.6L1435.9 520.0L1436.5 519.8L1437.1 519.8L1437.7 521.0L1438.3 519.7L1438.9 520.0L1439.5 519.2L1440.1 516.0L1440.7 521.0L1441.3 517.4L1441.9 519.5L1442.5 516.9L1443.1 518.6L1443.7 517.2L1444.3 517.9L1444.9 518.5L1445.5 518.2L1446.1 519.0L1446.7 518.3L1447.3 517.9L1447.9 517.7L1448.5 520.0L1449.1 516.7L1449.7 517.4L1450.3 517.1L1450.9 516.3L1451.5 516.2L1452.1 518.5L1452.7 518.1L1453.3 516.1L1453.9 517.4L1454.5 517.1L1455.1 516.9L1455.7 515.9L1456.3 515.4L1456.9 517.0L1457.5 516.6L1458.1 516.8L1458.7 516.5L1459.3 516.4L1459.9 515.0L1460.5 517.0L1461.1 517.5L1461.7 513.1L1462.3 516.9L1462.9 514.9L1463.5 516.8L1464.1 516.4L1464.7 516.8L1465.3 518.6L1465.9 516.7L1466.5 517.1L1467.1 516.1L1467.7 516.1L1468.3 517.1L1468.9 518.8L1469.5 518.2L1470.1 515.9L1470.7 513.8L1471.3 518.9L1471.9 514.7L1472.5 515.7L1473.1 516.4L1473.7 516.7L1474.3 517.8L1474.9 516.4L1475.5 518.1L1476.1 516.1L1476.7 515.9L1477.3 515.5L1477.9 515.5L1478.5 518.1L1479.1 519.0L1479.7 515.8L1480.3 516.1L1480.9 516.6L1481.5 519.4L1482.1 516.6L1482.7 516.6L1483.3 514.4L1483.9 518.5L1484.5 516.5L1485.1 517.5L1485.7 516.0L1486.3 515.3L1486.9 518.3L1487.5 515.6L1488.1 514.8L1488.7 516.6L1489.3 509.8L1489.9 513.4L1490.5 516.7L1491.1 519.0L1491.7 518.0L1492.3 517.8L1492.9 514.8L1493.5 517.0L1494.1 516.4L1494.7 512.4L1495.3 518.6L1495.9 514.6L1496.5 513.8L1497.1 515.1L1497.7 513.6L1498.3 513.7L1498.9 514.8L1499.5 515.1L1500.1 515.6L1500.7 516.9L1501.3 514.9L1501.9 515.1L1502.5 513.5L1503.1 516.1L1503.7 514.1L1504.3 514.4L1504.9 514.5L1505.5 516.5L1506.1 515.6L1506.7 516.4L1507.3 513.2L1507.9 517.2L1508.5 514.6L1509.1 515.1L1509.7 515.4L1510.3 512.3L1510.9 514.4L1511.5 514.7L1512.1 515.4L1512.7 516.6L1513.3 515.2L1513.9 514.2L1514.5 512.3L1515.1 513.8L1515.7 515.6L1516.3 510.7L1516.9 514.5L1517.5 516.1L1518.1 509.2L1518.7 513.8L1519.3 514.7L1519.9 512.4L1520.5 520.5L1521.1 518.9L1521.7 511.5L1522.3 510.8L1522.9 516.8L1523.5 515.6L1524.1 517.6L1524.7 511.4L1525.3 517.3L1525.9 511.8L1526.5 510.3L1527.1 520.4L1527.7 513.4L1528.3 515.3L1528.9 515.3L1529.5 511.5L1530.1 512.3L1530.7 515.2" stroke="#9f0000"/>
<path d="M1209.9 515.0L1210.5 521.1L1211.1 516.0L1211.7 520.3L1212.3 517.3L1212.9 524.9L1213.5 512.9L1214.1 523.6L1214.7 521.0L1215.3 520.4L1215.9 515.9L1216.5 519.3L1217.1 518.0L1217.7 521.6L1218.3 519.3L1218.9 522.4L1219.5 514.8L1220.1 516.4L1220.7 516.3L1221.3 517.0L1221.9 515.8L1222.5 516.9L1223.1 516.3L1223.7 514.9L1224.3 513.5L1224.9 516.2L1225.5 512.8L1226.1 515.3L1226.7 513.6L1227.3 512.1L1227.9 518.0L1228.5 516.9L1229.1 513.8L1229.7 512.9L1230.3 514.6L1230.9 516.8L1231.5 509.5L1232.1 515.7L1232.7 516.0L1233.3 513.1L1233.9 517.4L1234.5 516.3L1235.1 515.4L1235.7 516.1L1236.3 515.5L1236.9 519.5L1237.5 518.4L1238.1 516.3L1238.7 512.1L1239.3 517.4L1239.9 515.0L1240.5 518.1L1241.1 515.3L1241.7 517.4L1242.3 513.3L1242.9 514.6L1243.5 514.0L1244.1 515.6L1244.7 513.5L1245.3 513.9L1245.9 512.5L1246.5 513.9L1247.1 513.3L1247.7 515.6L1248.3 511.4L1248.9 513.0L1249.5 514.7L1250.1 512.9L1250.7 514.5L1251.3 511.5L1251.9 516.2L1252.5 513.3L1253.1 513.3L1253.7 515.2L1254.3 515.0L1254.9 513.8L1255.5 513.5L1256.1 514.9L1256.7 514.3L1257.3 515.8L1257.9 516.4L1258.5 514.3L1259.1 514.0L1259.7 516.1L1260.3 514.7L1260.9 518.7L1261.5 515.0L1262.1 515.7L1262.7 516.6L1263.3 518.7L1263.9 513.5L1264.5 517.7L1265.1 517.8L1265.7 518.5L1266.3 518.5L1266.9 518.9L1267.5 519.1L1268.1 520.6L1268.7 520.1L1269.3 519.8L1269.9 518.3L1270.5 520.1L1271.1 518.9L1271.7 520.1L1272.3 517.5L1272.9 518.9L1273.5 520.0L1274.1 519.9L1274.7 518.5L1275.3 519.1L1275.9 520.5L1276.5 517.5L1277.1 518.4L1277.7 518.5L1278.3 519.1L1278.9 516.6L1279.5 520.0L1280.1 518.2L1280.7 517.7L1281.3 517.3L1281.9 516.2L1282.5 518.2L1283.1 517.0L1283.7 517.5L1284.3 516.9L1284.9 517.4L1285.5 518.9L1286.1 517.5L1286.7 519.5L1287.3 517.7L1287.9 519.2L1288.5 515.9L1289.1 517.7L1289.7 518.0L1290.3 518.2L1290.9 519.6L1291.5 518.9L1292.1 519.6L1292.7 516.7L1293.3 517.9L1293.9 520.0L1294.5 517.3L1295.1 520.5L1295.7 518.2L1296.3 518.8L1296.9 516.6L1297.5 517.3L1298.1 518.8L1298.7 519.0L1299.3 517.8L1299.9 521.6L1300.5 517.6L1301.1 519.1L1301.7 517.4L1302.3 519.1L1302.9 518.0L1303.5 520.9L1304.1 517.0L1304.7 518.9L1305.3 519.6L1305.9 515.3L1306.5 516.6L1307.1 518.5L1307.7 517.0L1308.3 518.6L1308.9 517.5L1309.5 517.8L1310.1 514.5L1310.7 518.8L1311.3 515.2L1311.9 519.2L1312.5 515.0L1313.1 515.8L1313.7 514.7L1314.3 514.7L1314.9 516.4L1315.5 514.7L1316.1 513.9L1316.7 517.2L1317.3 514.7L1317.9 514.0L1318.5 516.4L1319.1 516.3L1319.7 516.9L1320.3 515.8L1320.9 515.5L1321.5 515.4L1322.1 514.0L1322.7 514.4L1323.3 513.2L1323.9 515.4L1324.5 512.6L1325.1 515.0L1325.7 515.6L1326.3 514.4L1326.9 515.5L1327.5 513.9L1328.1 516.9L1328.7 513.1L1329.3 514.6L1329.9 515.7L1330.5 515.3L1331.1 515.3L1331.7 514.7L1332.3 521.4L1332.9 514.4L1333.5 516.0L1334.1 515.0L1334.7 514.9L1335.3 514.3L1335.9 516.5L1336.5 514.6L1337.1 515.1L1337.7 515.0L1338.3 519.3L1338.9 516.8L1339.5 515.8L1340.1 515.7L1340.7 515.6L1341.3 516.7L1341.9 517.2L1342.5 515.7L1343.1 515.4L1343.7 516.4L1344.3 514.7L1344.9 515.5L1345.5 514.3L1346.1 516.4L1346.7 515.3L1347.3 514.9L1347.9 513.7L1348.5 514.4L1349.1 517.3L1349.7 514.4L1350.3 514.8L1350.9 513.9L1351.5 513.8L1352.1 515.1L1352.7 514.5L1353.3 515.3L1353.9 514.0L1354.5 514.6L1355.1 513.2L1355.7 515.9L1356.3 510.9L1356.9 516.0L1357.5 512.1L1358.1 513.5L1358.7 516.0L1359.3 511.5L1359.9 511.6L1360.5 513.9L1361.1 513.4L1361.7 512.0L1362.3 511.4L1362.9 511.2L1363.5 512.8L1364.1 513.2L1364.7 515.1L1365.3 512.9L1365.9 511.9L1366.5 514.4L1367.1 511.7L1367.7 513.5L1368.3 514.5L1368.9 511.7L1369.5 512.9L1370.1 514.5L1370.7 516.6L1371.3 514.7L1371.9 511.4L1372.5 514.2L1373.1 513.6L1373.7 510.8L1374.3 512.6L1374.9 510.8L1375.5 514.2L1376.1 512.4L1376.7 513.8L1377.3 513.4L1377.9 512.8L1378.5 515.3L1379.1 512.6L1379.7 513.7L1380.3 512.5L1380.9 513.4L1381.5 512.8L1382.1 514.1L1382.7 513.9L1383.3 511.4L1383.9 514.5L1384.5 514.8L1385.1 512.2L1385.7 514.6L1386.3 513.9L1386.9 511.4L1387.5 512.6L1388.1 513.3L1388.7 513.6L1389.3 514.4L1389.9 513.1L1390.5 511.4L1391.1 512.7L1391.7 517.6L1392.3 513.6L1392.9 511.4L1393.5 513.1L1394.1 513.7L1394.7 514.3L1395.3 516.2L1395.9 514.8L1396.5 515.3L1397.1 511.9L1397.7 513.6L1398.3 515.9L1398.9 513.2L1399.5 512.6L1400.1 514.3L1400.7 513.6L1401.3 514.8L1401.9 514.8L1402.5 513.4L1403.1 514.2L1403.7 513.1L1404.3 515.6L1404.9 512.2L1405.5 513.3L1406.1 514.3L1406.7 515.6L1407.3 513.8L1407.9 515.5L1408.5 514.6L1409.1 515.8L1409.7 514.0L1410.3 513.9L1410.9 511.7L1411.5 517.1L1412.1 512.3L1412.7 514.4L1413.3 517.8L1413.9 515.2L1414.5 516.6L1415.1 515.5L1415.7 516.5L1416.3 518.0L1416.9 514.1L1417.5 518.7L1418.1 513.7L1418.7 516.1L1419.3 517.3L1419.9 515.2L1420.5 515.8L1421.1 516.2L1421.7 514.7L1422.3 517.6L1422.9 518.6L1423.5 516.1L1424.1 514.1L1424.7 516.7L1425.3 514.7L1425.9 514.3L1426.5 516.5L1427.1 515.3L1427.7 516.8L1428.3 515.5L1428.9 518.4L1429.5 517.1L1430.1 516.9L1430.7 518.3L1431.3 512.6L1431.9 518.2L1432.5 513.1L1433.1 517.8L1433.7 514.0L1434.3 512.5L1434.9 516.0L1435.5 514.4L1436.1 517.2L1436.7 515.3L1437.3 519.5L1437.9 514.9L1438.5 517.2L1439.1 514.7L1439.7 518.3L1440.3 518.4L1440.9 515.4L1441.5 517.1L1442.1 518.8L1442.7 516.4L1443.3 518.7L1443.9 517.2L1444.5 515.5L1445.1 518.5L1445.7 515.1L1446.3 518.7L1446.9 514.1L1447.5 515.2L1448.1 515.6L1448.7 518.1L1449.3 521.7L1449.9 518.2L1450.5 514.6L1451.1 516.2L1451.7 516.6L1452.3 515.8L1452.9 516.8L1453.5 518.7L1454.1 518.6L1454.7 517.7L1455.3 515.0L1455.9 516.0L1456.5 517.8L1457.1 516.4L1457.7 515.2L1458.3 515.5L1458.9 517.1L1459.5 517.8L1460.1 519.0L1460.7 515.5L1461.3 518.6L1461.9 511.4L1462.5 519.3L1463.1 514.8L1463.7 519.2L1464.3 511.5L1464.9 514.9L1465.5 521.8L1466.1 519.7L1466.7 516.7L1467.3 516.9L1467.9 512.9L1468.5 520.5L1469.1 518.7L1469.7 514.7L1470.3 521.2L1470.9 515.7L1471.5 515.0" stroke="#800000"/>
</g>
<g fill="none" stroke-width="4.3" stroke-linejoin="round" stroke-linecap="butt" clip-path="url(#c3)">
<path d="M214.6 875.7L215.6 880.1L216.8 880.6L218.0 878.0L219.2 881.0L220.4 882.3L221.6 880.7L222.7 881.4L223.9 884.0L225.1 883.2L226.3 883.4L227.5 879.6L228.7 876.8L229.9 880.0L231.1 878.3L232.3 881.4L233.5 880.6L234.7 881.7L235.9 881.2L237.1 879.5L238.3 879.8L239.5 879.6L240.7 878.2L241.9 882.0L243.1 882.1L244.3 881.1L245.5 873.8L246.7 868.5L247.9 866.2L249.1 867.9L250.3 870.8L251.5 870.1L252.6 867.4L253.8 868.2L255.0 859.5L256.2 862.2L257.4 868.1L258.6 875.9L259.8 875.0L261.0 876.7L262.2 876.4L263.4 876.8L264.6 880.0L265.8 880.3L267.0 880.5L268.2 877.4L269.4 879.1L270.6 878.1L271.8 873.7L273.0 876.0L274.2 873.9L275.4 866.7L276.6 862.8L277.8 861.8L279.0 871.0L280.2 875.3L281.4 877.6L282.5 877.8L283.7 880.2L284.9 876.4L286.1 877.8L287.3 878.1L288.5 878.4L289.7 880.1L290.9 877.4L292.1 873.9L293.3 870.7L294.5 870.8L295.7 862.6L296.9 861.3L298.1 865.2L299.3 862.9L300.5 867.4L301.7 866.7L302.9 867.2L304.1 870.7L305.3 870.2L306.5 875.6L307.7 878.6L308.9 876.3L310.1 879.8L311.3 878.1L312.4 881.5L313.6 876.1L314.8 882.3L316.0 883.2L317.2 880.1L318.4 874.6L319.6 870.7L320.8 865.5L322.0 869.0L323.2 873.6L324.4 869.1L325.6 873.4L326.8 873.1L328.0 877.5L329.2 873.0L330.2 875.7" stroke="#00009f"/>
<path d="M402.0 876.4L403.0 873.4L404.2 873.4L405.4 874.0L406.6 872.8L407.8 876.0L409.0 868.3L410.2 872.8L411.3 880.0L412.5 882.6L413.7 881.8L414.9 879.2L416.1 881.4L417.3 888.1L418.5 885.5L419.7 881.2L420.9 878.1L422.1 873.8L423.3 877.5L424.5 883.5L425.7 884.4L426.9 877.0L428.1 874.4L429.3 882.2L430.5 880.2L431.7 883.6L432.9 882.4L434.1 882.8L435.3 877.3L436.5 879.7L437.7 877.9L438.9 874.1L440.1 871.5L441.2 874.1L442.4 878.2L443.6 880.2L444.8 881.9L446.0 881.3L447.2 883.9L448.4 885.1L449.6 883.9L450.8 884.2L452.0 883.8L453.2 881.1L454.4 882.6L455.6 885.6L456.8 881.0L458.0 883.6L459.2 881.5L460.4 882.3L461.6 885.5L462.8 883.8L464.0 882.9L465.2 884.1L466.4 883.3L467.6 883.8L468.8 879.3L470.0 879.4L471.1 878.9L472.3 884.0L473.5 882.3L474.7 886.2L475.9 884.5L477.1 886.2L478.3 884.1L479.5 882.6L480.7 881.9L481.9 884.7L483.1 888.4L484.3 886.1L485.5 888.8L486.7 887.6L487.9 884.2L489.1 883.9L490.3 883.8L491.5 884.4L492.7 883.3L493.9 884.6L495.1 882.1L496.3 884.5L497.5 886.6L498.7 884.9L499.9 885.5L501.0 881.4L502.2 880.8L503.4 879.3L504.6 879.6L505.8 878.5L507.0 879.2L508.2 886.6L509.4 886.4L510.6 884.9L511.8 883.2L513.0 878.9L514.2 879.6L515.4 878.3L516.6 876.2L517.8 873.7L519.0 870.1L520.2 872.8L521.4 870.7L522.6 870.0L523.8 866.6L525.0 868.7L526.2 870.8L527.4 872.5L528.6 874.6L529.8 877.5L530.9 879.1L532.1 879.0L533.3 879.4L534.5 881.3L535.7 883.7L536.9 881.3L538.1 884.7L539.3 884.5L540.5 882.7L541.7 884.7L542.9 883.7L544.1 882.7L545.3 881.6L546.5 883.6L547.7 881.4L548.9 880.0L550.1 887.3L551.3 884.8L552.5 887.1L553.7 885.9L554.9 884.9L556.1 886.6L557.3 884.2L558.5 883.3L559.7 885.9L560.8 886.9L562.0 887.1L563.2 887.9L564.4 887.7L565.6 886.4L566.8 885.9L568.0 886.2L569.2 884.7L570.4 886.4L571.6 888.9L572.8 884.3L574.0 887.3L575.2 888.9L576.4 888.6L577.6 886.1L578.8 886.0L580.0 886.3L581.2 884.0L582.4 886.6L583.6 885.9L584.8 888.3L586.0 890.8L587.2 890.8L588.4 889.6L589.6 886.9L590.7 887.6L591.9 888.8L593.1 888.1L594.3 882.6L595.5 882.1L596.7 883.1L597.9 886.3L599.1 882.8L600.3 883.9L601.5 882.5L602.7 887.0L603.9 885.7L605.1 886.6L606.3 886.2L607.5 883.0L608.7 886.1L609.9 884.9L611.1 880.8L612.3 876.8L613.5 869.1L614.7 858.1L615.9 856.0L617.1 867.2L618.3 879.3L619.5 885.3L620.6 885.6L621.8 886.5L623.0 883.8L624.2 884.8L625.4 884.8L626.6 883.3L627.8 885.7L629.0 883.8L630.2 887.7L631.4 887.1L632.6 884.7L633.8 884.3L635.0 885.6L636.2 883.5L637.4 882.0L638.6 881.3L639.8 882.2L641.0 883.3L642.2 881.9L643.4 886.3L644.6 887.3L645.8 886.9L647.0 884.7L648.2 885.8L649.4 885.1L650.5 885.0L651.7 886.1L652.9 884.5L654.1 883.6L655.3 885.1L656.5 884.2L657.7 886.9L658.9 885.8L660.1 886.5L661.3 885.9L662.5 886.1L663.7 884.6L664.9 880.7L666.1 876.5L667.3 871.7L668.5 867.2L669.7 866.8L670.9 875.8L672.1 879.6L673.3 884.3L674.5 885.6L675.7 887.9L676.9 887.6L678.1 884.5L679.3 886.6L680.4 886.0L681.6 885.8L682.8 882.5L684.0 883.5L685.2 886.2L686.4 886.0L687.6 887.1L688.8 887.3L690.0 887.1L691.2 885.6L692.4 885.1L693.6 885.4L694.8 887.5L696.0 886.4L697.2 886.7L698.4 885.2L699.6 884.8L700.8 884.4L702.0 885.6L703.2 883.9L704.4 883.3L705.6 879.7L706.8 882.9L708.0 884.0L709.2 884.5L710.3 882.8L711.5 878.8L712.7 884.5L713.9 882.6L715.1 880.0L716.3 881.7L717.5 884.4L718.7 883.7L719.9 880.5L721.1 881.4L722.3 881.6L723.5 882.4L724.7 884.5L725.9 883.7L727.1 882.5L728.3 882.4L729.5 887.1L730.7 885.6L731.9 883.7L733.1 887.3L734.3 885.3L735.5 876.5L736.7 871.5L737.9 872.3L739.1 875.3L740.2 880.8L741.4 879.6L742.6 880.9L743.8 881.3L745.0 884.2L746.2 882.4L747.4 882.4L748.6 882.4L749.8 883.1L751.0 882.9L752.2 881.6L753.4 885.5L754.6 883.2L755.8 880.5L757.0 881.4L758.2 880.2L759.4 884.8L760.6 881.2L761.8 882.0L763.0 878.9L764.2 875.6L765.4 870.8L766.6 866.6L767.8 869.7L769.0 870.2L770.1 864.9L771.3 862.8L772.5 860.0L773.7 861.1L774.9 860.5L776.1 864.0L777.3 864.8L778.5 856.8L779.7 842.4L780.9 818.7L782.1 806.2L783.1 876.4L1785.4 876.4L1786.4 886.1L1787.6 875.1L1788.8 871.3L1790.0 865.9L1791.2 858.6L1792.4 858.9L1793.6 869.1L1794.8 875.8L1796.0 875.8L1797.2 866.1L1798.4 856.2L1799.6 851.2L1800.8 847.7L1802.0 858.4L1803.2 867.5L1804.4 873.1L1805.6 883.6L1806.6 875.5L1937.5 875.5" stroke="#0000bf"/>
<path d="M270.3 876.3L271.3 869.6L272.5 877.8L273.7 879.3L274.9 882.2L276.1 878.7L277.3 867.0L278.5 859.5L279.7 856.8L280.9 862.5L282.1 876.2L283.3 880.3L284.5 884.6L285.7 883.5L286.9 880.0L288.1 882.0L289.2 883.1L290.4 880.7L291.6 879.6L292.8 878.6L294.0 882.5L295.2 884.2L296.4 883.7L297.6 887.3L298.8 883.9L300.0 882.8L301.2 877.6L302.4 875.2L303.6 883.1L304.8 878.6L306.0 879.2L307.2 880.6L308.4 876.0L309.6 876.8L310.8 874.5L312.0 877.0L313.2 877.0L314.4 878.8L315.6 880.1L316.8 878.0L318.0 876.6L319.1 878.2L320.3 876.6L321.5 879.7L322.7 879.5L323.9 879.6L325.1 878.9L326.3 879.3L327.5 879.6L328.7 879.3L329.9 879.0L331.1 881.7L332.3 883.8L333.5 883.0L334.7 882.6L335.9 885.9L337.1 885.0L338.3 884.3L339.5 885.3L340.7 879.5L341.9 876.4L343.1 872.8L344.3 868.1L345.5 865.4L346.7 872.7L347.9 878.1L349.0 878.7L350.2 882.1L351.4 879.0L352.6 879.3L353.8 879.6L355.0 880.0L356.2 880.0L357.4 880.1L358.6 881.5L359.8 879.3L361.0 881.7L362.2 879.1L363.4 882.0L364.6 881.3L365.8 878.7L367.0 878.0L368.2 879.0L369.4 880.8L370.6 881.1L371.8 879.0L373.0 881.1L374.2 885.0L375.4 884.1L376.6 884.3L377.8 873.1L378.9 870.9L380.1 871.6L381.3 872.7L382.5 869.2L383.7 864.7L384.9 871.0L386.1 872.3L387.3 874.7L388.5 878.4L389.7 881.4L390.9 880.3L392.1 877.4L393.3 875.6L394.5 877.5L395.7 875.0L396.9 873.3L398.1 867.4L399.3 869.8L400.5 861.6L401.7 867.5L402.9 870.2L404.1 873.2L405.3 877.4L406.5 880.8L407.7 878.7L408.8 877.6L410.0 878.5L411.2 877.3L412.4 879.2L413.6 876.9L414.8 876.8L416.0 873.7L417.2 877.6L418.4 874.2L419.4 876.3L1318.0 876.3L1319.0 858.9L1320.2 858.8L1321.4 863.9L1322.6 867.1L1323.8 872.5L1325.0 874.7L1326.2 875.1L1327.4 872.7L1328.6 873.3L1329.8 877.8L1331.0 876.9L1332.2 878.1L1333.3 873.6L1334.5 870.8L1335.7 866.6L1336.9 865.5L1338.1 863.5L1339.3 868.2L1340.5 875.7L1341.7 877.2L1342.9 875.5L1344.1 876.2L1345.3 874.7L1346.5 869.2L1347.7 866.4L1348.9 865.4L1350.1 866.3L1351.3 864.0L1352.5 865.7L1353.7 873.0L1354.9 874.3L1356.1 877.6L1357.3 878.4L1358.5 877.8L1359.7 880.8L1360.9 881.7L1362.1 885.8L1363.2 879.9L1364.4 884.0L1365.6 880.2L1366.8 884.1L1368.0 883.1L1369.2 884.3L1370.4 883.8L1371.6 882.9L1372.8 885.9L1374.0 885.6L1375.2 885.8L1376.4 885.7L1377.6 885.2L1378.8 885.7L1380.0 882.0L1381.2 884.2L1382.4 884.7L1383.6 882.1L1384.8 884.3L1386.0 885.1L1387.2 886.0L1388.4 883.7L1389.6 885.1L1390.8 885.1L1392.0 886.7L1393.1 888.2L1394.3 888.7L1395.5 888.9L1396.7 890.8L1397.9 887.7L1399.1 884.9L1400.3 884.6L1401.5 882.9L1402.7 880.4L1403.9 875.9L1405.1 875.1L1406.3 877.8L1407.5 881.6L1408.7 881.1L1409.9 885.0L1411.1 885.2L1412.3 885.4L1413.5 885.1L1414.7 883.8L1415.9 885.3L1417.1 886.0L1418.3 885.1L1419.5 887.8L1420.7 889.5L1421.9 888.2L1423.0 888.7L1424.2 888.1L1425.4 890.8L1426.6 889.7L1427.8 888.5L1429.0 889.1L1430.2 886.8L1431.4 885.8L1432.6 887.4L1433.8 882.1L1435.0 883.8L1436.2 883.5L1437.4 883.8L1438.6 885.3L1439.8 884.4L1441.0 884.3L1442.2 886.7L1443.4 885.6L1444.6 886.1L1445.8 888.1L1447.0 886.9L1448.2 885.6L1449.4 883.2L1450.6 887.0L1451.8 888.6L1452.9 888.1L1454.1 889.2L1455.3 886.0L1456.5 887.8L1457.7 887.5L1458.9 881.1L1460.1 882.7L1461.3 888.9L1462.5 885.2L1463.7 883.1L1464.9 885.5L1466.1 882.8L1467.3 884.7L1468.5 882.2L1469.7 882.4L1470.9 883.2L1472.1 879.8L1473.3 881.8L1474.5 876.1L1475.7 873.2L1476.9 870.6L1478.1 866.1L1479.3 870.8L1480.5 873.2L1481.7 876.3L1482.8 878.6L1484.0 878.9L1485.2 875.7L1486.4 878.7L1487.6 881.6L1488.8 878.8L1490.0 875.2L1491.2 875.8L1492.4 870.1L1493.6 868.2L1494.8 871.1L1496.0 870.5L1497.2 871.1L1498.4 869.5L1499.6 869.0L1500.8 878.9L1502.0 873.2L1503.2 871.7L1504.4 872.1L1505.6 872.8L1506.8 876.2L1508.0 873.7L1509.2 869.2L1510.4 873.0L1511.6 871.5L1512.7 875.5L1513.7 876.3" stroke="#0000df"/>
<path d="M214.6 877.5L215.6 878.5L216.8 879.0L218.0 877.3L219.2 876.4L220.4 880.3L221.6 877.7L222.7 873.7L223.9 877.8L225.1 879.0L226.3 877.2L227.5 873.2L228.7 875.2L229.9 874.6L231.1 873.5L232.3 873.7L233.5 871.6L234.7 873.9L235.9 880.7L237.1 876.2L238.3 880.6L239.5 871.4L240.7 865.6L241.9 850.4L243.1 854.4L244.3 856.1L245.5 864.0L246.7 861.4L247.9 862.1L249.1 872.3L250.3 873.5L251.5 868.6L252.5 877.5L1180.8 877.5L1181.8 874.1L1183.0 871.5L1184.2 864.5L1185.4 857.2L1186.6 857.5L1187.8 863.5L1189.0 864.7L1190.2 870.1L1191.4 868.3L1192.6 872.2L1193.8 874.2L1195.0 873.3L1196.1 859.2L1197.3 849.2L1198.5 837.9L1199.7 837.7L1200.9 845.7L1202.1 851.8L1203.3 858.0L1204.5 864.3L1205.7 870.8L1206.9 875.0L1208.1 877.8L1209.3 874.2L1210.5 873.6L1211.7 877.1L1212.9 874.8L1214.1 873.5L1215.3 868.2L1216.5 864.3L1217.7 858.1L1218.9 853.7L1220.1 849.1L1221.3 859.6L1222.5 866.6L1223.7 875.0L1224.9 875.0L1226.0 872.2L1227.2 867.6L1228.4 872.3L1229.4 877.5L1741.5 877.5L1742.5 876.1L1743.7 867.0L1744.9 868.3L1746.1 876.4L1747.3 875.8L1748.5 865.3L1749.7 850.4L1750.9 849.5L1752.1 859.2L1753.3 864.0L1754.5 871.9L1755.7 879.2L1756.9 878.9L1758.1 885.2L1759.3 884.1L1760.5 884.6L1761.7 885.5L1762.9 882.0L1764.1 877.1L1765.3 881.8L1766.4 882.2L1767.6 877.8L1768.8 880.0L1770.0 881.1L1771.2 880.5L1772.4 881.8L1773.6 884.7L1774.8 886.0L1776.0 882.4L1777.2 877.4L1778.4 878.8L1779.6 878.8L1780.8 879.1L1782.0 884.6L1783.2 883.0L1784.4 881.6L1785.6 881.9L1786.8 878.0L1788.0 871.8L1789.2 870.2L1790.4 865.5L1791.6 863.6L1792.8 860.8L1794.0 868.9L1795.2 869.5L1796.3 869.7L1797.5 868.3L1798.7 864.5L1799.9 865.4L1801.1 870.2L1802.3 870.2L1803.5 876.7L1804.7 878.9L1805.9 881.1L1806.9 875.5L1937.5 875.5" stroke="#0000ff"/>
<path d="M513.0 877.4L514.0 871.2L515.2 869.9L516.4 857.2L517.6 854.1L518.8 854.6L520.0 862.6L521.2 868.0L522.4 876.5L523.6 878.9L524.8 879.4L526.0 881.1L527.2 882.0L528.4 874.3L529.5 873.6L530.7 876.0L531.9 874.3L533.1 877.4L534.3 875.7L535.5 875.2L536.7 873.8L537.9 877.2L539.1 873.5L540.3 875.7L541.5 880.6L542.7 876.8L543.9 877.3L545.1 874.7L546.3 877.1L547.5 875.7L548.7 874.6L549.9 872.0L551.1 872.7L552.3 874.9L553.5 876.9L554.7 876.4L555.9 877.2L557.1 876.4L558.3 878.6L559.4 880.7L560.6 875.3L561.8 874.9L563.0 876.0L564.2 877.5L565.4 878.3L566.6 877.8L567.8 879.0L569.0 882.3L570.2 879.8L571.4 880.3L572.6 879.7L573.8 880.7L575.0 879.6L576.2 878.1L577.4 880.1L578.6 879.4L579.8 878.7L581.0 879.9L582.2 882.5L583.4 884.8L584.6 883.0L585.8 881.9L587.0 882.1L588.2 884.5L589.3 881.2L590.5 880.4L591.7 881.5L592.9 883.2L594.1 882.8L595.3 882.3L596.5 882.2L597.7 884.0L598.9 883.4L600.1 886.2L601.3 886.7L602.5 884.3L603.7 882.1L604.9 885.3L606.1 882.4L607.3 880.8L608.5 880.3L609.7 881.4L610.9 879.4L612.1 879.3L613.3 881.3L614.5 880.5L615.7 881.8L616.9 884.8L618.1 884.6L619.2 880.7L620.4 881.5L621.6 882.4L622.8 887.6L624.0 885.2L625.2 884.8L626.4 887.8L627.6 888.7L628.8 886.3L630.0 884.0L631.2 882.0L632.4 883.7L633.6 885.8L634.8 886.2L636.0 882.1L637.2 881.9L638.4 885.1L639.6 885.5L640.8 883.7L642.0 886.5L643.2 888.8L644.4 886.2L645.6 885.1L646.8 883.8L648.0 885.9L649.1 885.1L650.3 883.1L651.5 882.0L652.7 881.7L653.9 883.9L655.1 885.6L656.3 885.1L657.5 884.4L658.7 881.0L659.9 882.9L661.1 884.4L662.3 883.2L663.5 881.4L664.7 879.5L665.9 880.7L667.1 884.0L668.3 885.4L669.5 884.3L670.7 884.2L671.9 880.5L673.1 881.0L674.3 883.2L675.5 882.6L676.7 885.2L677.9 886.3L679.0 885.0L680.2 884.4L681.4 885.3L682.6 882.1L683.8 880.9L685.0 881.3L686.2 881.4L687.4 880.2L688.6 882.4L689.8 882.5L691.0 879.0L692.2 874.8L693.4 873.8L694.6 878.6L695.8 882.3L697.0 881.2L698.2 881.5L699.4 879.3L700.6 879.6L701.8 880.0L703.0 881.3L704.2 882.8L705.4 884.6L706.6 882.5L707.8 884.0L708.9 882.8L710.1 880.1L711.3 881.3L712.5 882.5L713.7 886.8L714.9 884.9L716.1 885.2L717.3 885.5L718.5 885.1L719.7 885.2L720.9 884.1L722.1 884.9L723.3 882.1L724.5 882.6L725.7 885.8L726.9 886.3L728.1 884.9L729.3 885.8L730.5 883.6L731.7 878.9L732.9 881.0L734.1 880.8L735.3 878.8L736.5 883.1L737.7 882.5L738.8 880.2L740.0 881.4L741.2 879.1L742.4 880.7L743.6 880.9L744.8 881.5L746.0 882.3L747.2 885.6L748.4 886.8L749.6 885.9L750.8 884.2L752.0 881.0L753.2 881.1L754.4 882.8L755.6 883.4L756.8 886.9L758.0 886.6L759.2 885.8L760.4 885.2L761.6 886.3L762.8 881.8L764.0 881.2L765.2 882.7L766.4 887.8L767.6 887.1L768.7 886.9L769.9 885.0L771.1 884.5L772.3 883.3L773.5 883.6L774.7 885.7L775.9 885.2L777.1 880.5L778.3 877.4L779.5 863.4L780.7 846.5L781.9 841.5L783.1 854.3L784.3 870.8L785.5 878.0L786.7 879.4L787.9 882.9L789.1 881.9L790.3 883.8L791.5 882.9L792.7 882.3L793.9 884.9L795.1 884.7L796.3 883.6L797.5 886.1L798.6 885.0L799.8 885.1L801.0 882.9L802.2 880.9L803.4 883.2L804.6 883.0L805.8 883.2L807.0 883.0L808.2 883.8L809.4 881.8L810.6 884.9L811.8 885.3L813.0 883.4L814.2 882.5L815.4 879.6L816.6 879.2L817.8 881.4L819.0 878.5L820.2 872.3L821.4 868.9L822.6 866.3L823.8 863.6L825.0 870.8L826.2 871.5L827.4 878.0L828.5 878.7L829.7 876.2L830.9 876.7L832.1 877.9L833.3 875.6L834.5 878.4L835.7 872.7L836.9 869.4L838.1 860.9L839.3 855.4L840.5 858.8L841.7 865.9L842.9 875.4L844.1 875.1L845.3 875.3L846.5 872.9L847.7 864.6L848.9 859.1L850.1 853.5L851.3 847.2L852.5 852.5L853.7 860.1L854.9 874.3L856.1 878.9L857.3 872.6L858.4 871.3L859.6 867.4L860.8 852.6L862.0 847.6L863.2 853.2L864.4 855.6L865.6 863.7L866.6 877.4" stroke="#0020ff"/>
<path d="M287.0 876.0L288.0 869.7L289.2 869.7L290.4 872.9L291.6 873.3L292.8 872.4L294.0 872.0L295.2 870.6L296.4 874.2L297.6 872.9L298.8 868.3L300.0 876.2L301.2 873.7L302.4 870.6L303.6 870.7L304.8 865.5L306.0 870.7L307.2 873.0L308.4 870.6L309.6 874.2L310.8 871.1L311.9 868.1L313.1 868.3L314.3 867.0L315.5 867.5L316.7 871.9L317.9 868.3L319.1 868.7L320.3 872.0L321.5 874.4L322.7 877.9L323.9 882.6L325.1 878.7L326.3 879.1L327.5 880.9L328.7 876.3L329.9 880.2L331.1 883.1L332.3 881.9L333.5 884.3L334.7 881.4L335.9 881.2L337.1 881.1L338.3 884.7L339.5 883.2L340.7 883.9L341.8 879.4L343.0 879.2L344.2 874.3L345.4 877.6L346.6 879.9L347.8 884.2L349.0 884.4L350.2 883.4L351.4 880.1L352.6 881.7L353.8 882.2L355.0 883.5L356.2 880.8L357.4 883.1L358.6 884.1L359.8 887.7L361.0 885.9L362.2 884.5L363.4 885.6L364.6 882.2L365.8 882.8L367.0 879.3L368.2 880.3L369.4 878.7L370.6 879.4L371.7 883.2L372.9 884.8L374.1 885.0L375.3 885.3L376.5 882.0L377.7 881.4L378.9 881.2L380.1 881.6L381.3 881.3L382.5 880.4L383.7 878.2L384.9 879.0L386.1 880.8L387.3 880.4L388.5 875.9L389.7 878.5L390.9 876.4L392.1 870.8L393.3 874.5L394.5 875.6L395.7 877.3L396.9 878.2L398.1 878.9L399.3 880.6L400.5 881.7L401.6 881.9L402.8 884.0L404.0 881.3L405.2 881.6L406.4 878.0L407.6 880.9L408.8 883.5L410.0 883.5L411.2 882.3L412.4 880.7L413.6 881.8L414.8 882.2L416.0 880.3L417.2 881.4L418.4 882.0L419.6 882.8L420.8 882.7L422.0 882.1L423.2 881.6L424.4 880.5L425.6 880.1L426.8 881.5L428.0 883.0L429.2 882.1L430.4 881.2L431.5 881.2L432.7 880.2L433.9 881.0L435.1 880.8L436.3 877.9L437.5 877.9L438.7 878.5L439.9 879.1L441.1 879.1L442.3 878.6L443.5 879.7L444.7 880.3L445.9 879.6L447.1 879.8L448.3 882.3L449.5 883.5L450.7 884.8L451.9 884.3L453.1 883.3L454.3 883.5L455.5 884.2L456.7 884.2L457.9 883.2L459.1 888.6L460.3 888.5L461.4 886.7L462.6 886.8L463.8 886.1L465.0 882.0L466.2 882.6L467.4 889.7L468.6 889.9L469.8 888.2L471.0 883.9L472.2 885.3L473.4 885.5L474.6 885.1L475.8 888.2L477.0 887.2L478.2 887.2L479.4 885.4L480.6 886.6L481.8 887.7L483.0 886.5L484.2 885.1L485.4 886.0L486.6 884.4L487.8 882.7L489.0 885.4L490.2 885.3L491.3 883.0L492.5 884.3L493.7 887.3L494.9 884.0L496.1 883.9L497.3 885.6L498.5 884.4L499.7 880.7L500.9 882.1L502.1 881.4L503.3 881.1L504.5 883.2L505.7 883.6L506.9 884.7L508.1 881.9L509.3 880.5L510.5 881.6L511.7 881.6L512.9 882.4L514.1 880.9L515.3 879.2L516.5 876.6L517.7 876.4L518.9 874.6L520.1 876.4L521.2 880.6L522.4 877.1L523.6 879.7L524.8 880.5L526.0 882.4L527.2 885.4L528.4 882.2L529.6 883.2L530.8 883.9L532.0 882.4L533.2 884.7L534.4 885.6L535.6 884.2L536.8 882.2L538.0 882.2L539.2 883.2L540.4 884.5L541.6 881.9L542.8 883.3L544.0 881.0L545.2 883.2L546.4 882.5L547.6 882.8L548.8 884.2L550.0 883.6L551.1 882.9L552.3 884.0L553.5 886.2L554.7 885.6L555.9 887.5L557.1 885.8L558.3 886.0L559.5 884.7L560.7 883.4L561.9 879.5L563.1 873.2L564.3 867.2L565.5 861.2L566.7 856.2L567.9 860.7L569.1 866.4L570.3 873.3L571.5 878.6L572.7 882.1L573.9 879.5L575.1 880.3L576.3 882.5L577.5 884.9L578.7 884.7L579.9 885.6L581.0 885.8L582.2 888.4L583.4 885.6L584.6 884.8L585.8 882.9L587.0 885.0L588.2 882.0L589.4 880.1L590.6 880.3L591.8 875.0L593.0 861.7L594.2 856.6L595.4 866.3L596.6 877.1L597.8 881.2L599.0 882.8L600.2 882.5L601.4 882.5L602.6 881.4L603.8 880.7L605.0 881.2L606.2 883.9L607.4 884.7L608.6 883.3L609.8 885.0L610.9 886.0L612.1 885.2L613.3 884.4L614.5 878.3L615.7 876.0L616.9 875.6L618.1 874.2L619.3 874.1L620.5 867.9L621.7 866.8L622.9 876.1L624.1 879.3L625.3 883.3L626.5 880.3L627.7 886.1L628.9 883.4L630.1 881.9L631.3 880.9L632.5 877.1L633.7 873.9L634.9 877.3L636.1 875.9L637.3 876.2L638.5 878.1L639.7 878.4L640.8 876.6L642.0 877.0L643.2 878.0L644.4 876.7L645.6 875.7L646.8 876.9L648.0 876.5L649.2 871.3L650.4 870.5L651.6 865.4L652.8 857.8L654.0 856.3L655.2 853.2L656.4 853.4L657.6 859.8L658.8 865.7L659.8 876.0L1599.4 876.0L1600.4 879.3L1601.6 877.5L1602.8 875.5L1604.0 873.1L1605.2 870.5L1606.4 871.8L1607.6 871.9L1608.8 869.6L1610.0 861.8L1611.2 864.7L1612.4 862.6L1613.6 866.8L1614.8 875.8L1616.0 875.6L1617.2 874.0L1618.3 879.1L1619.5 884.4L1620.7 881.5L1621.9 883.7L1623.1 880.7L1624.3 878.4L1625.5 878.4L1626.7 880.4L1627.9 883.4L1629.1 883.9L1630.3 881.8L1631.5 878.6L1632.7 882.4L1633.9 883.6L1635.1 884.1L1636.3 881.1L1637.5 883.7L1638.7 883.1L1639.9 879.6L1641.1 873.6L1642.3 877.0L1643.5 878.5L1644.7 882.2L1645.9 881.8L1647.1 882.8L1648.2 877.1L1649.4 880.6L1650.6 885.4L1651.8 885.6L1653.0 887.0L1654.2 886.4L1655.4 885.4L1656.6 885.6L1657.8 882.8L1659.0 883.5L1660.2 885.6L1661.4 883.1L1662.6 884.2L1663.8 885.5L1665.0 880.2L1666.2 878.1L1667.4 880.4L1668.6 878.8L1669.8 877.2L1671.0 879.2L1672.2 878.7L1673.4 878.7L1674.6 881.7L1675.8 880.4L1677.0 878.3L1678.1 880.7L1679.3 878.3L1680.5 881.3L1681.7 884.9L1682.9 881.5L1684.1 878.9L1685.3 881.7L1686.5 880.0L1687.7 880.1L1688.9 878.8L1690.1 880.4L1691.3 882.8L1692.5 881.8L1693.7 884.7L1694.9 884.6L1696.1 883.4L1697.3 881.4L1698.5 882.6L1699.7 882.6L1700.9 882.7L1702.1 883.3L1703.3 883.5L1704.5 884.2L1705.7 884.1L1706.9 882.7L1708.0 881.8L1709.2 881.3L1710.4 880.3L1711.6 880.3L1712.8 883.1L1714.0 882.3L1715.2 878.3L1716.4 879.1L1717.6 881.3L1718.8 881.1L1720.0 884.0L1721.2 884.9L1722.4 885.0L1723.6 885.1L1724.8 884.2L1726.0 882.6L1727.2 881.4L1728.4 881.7L1729.6 885.2L1730.8 885.6L1732.0 886.3L1733.2 884.7L1734.4 886.7L1735.6 886.6L1736.8 889.7L1737.9 887.3L1739.1 887.9L1740.3 887.7L1741.5 882.5L1742.7 882.8L1743.9 884.0L1745.1 884.0L1746.3 883.9L1747.5 884.4L1748.7 884.8L1749.9 885.4L1751.1 883.5L1752.3 883.8L1753.5 886.4L1754.7 882.8L1755.9 885.0L1757.1 883.5L1758.3 885.1L1759.5 883.6L1760.7 883.3L1761.9 877.7L1763.1 877.9L1764.3 882.0L1765.5 883.8L1766.7 883.2L1767.8 883.6L1769.0 885.1L1770.2 885.7L1771.4 886.4L1772.6 885.0L1773.8 887.7L1775.0 886.5L1776.2 886.4L1777.4 883.0L1778.6 885.7L1779.8 885.1L1781.0 886.1L1782.2 887.1L1783.4 886.8L1784.6 885.4L1785.8 886.0L1787.0 883.6L1788.2 882.2L1789.4 883.2L1790.6 882.5L1791.8 883.3L1793.0 882.6L1794.2 883.0L1795.4 882.1L1796.6 883.0L1797.7 885.0L1798.9 881.5L1800.1 878.1L1801.3 876.4L1802.5 873.8L1803.7 876.8L1804.9 876.6L1805.9 866.8L1937.5 866.8" stroke="#0040ff"/>
<path d="M1506.3 876.5L1507.3 870.4L1508.5 870.7L1509.7 873.6L1510.9 870.3L1512.1 876.6L1513.3 878.2L1514.5 882.4L1515.7 882.2L1516.9 882.2L1518.1 875.8L1519.3 873.3L1520.5 872.6L1521.6 870.8L1522.8 872.4L1524.0 872.8L1525.2 873.4L1526.4 864.6L1527.6 868.5L1528.8 862.2L1530.0 865.6L1531.2 874.3L1532.4 873.1L1533.6 872.6L1534.8 864.2L1536.0 857.6L1537.2 861.4L1538.4 871.4L1539.6 875.8L1540.8 875.9L1542.0 875.2L1543.2 875.8L1544.4 878.8L1545.6 877.8L1546.8 878.6L1548.0 877.8L1549.2 872.4L1550.4 869.8L1551.5 870.4L1552.7 870.7L1553.9 874.9L1555.1 875.3L1556.3 878.0L1557.5 877.2L1558.7 880.4L1559.9 879.6L1561.1 879.7L1562.3 876.8L1563.5 879.6L1564.7 878.4L1565.9 877.0L1567.1 878.0L1568.3 880.2L1569.5 882.0L1570.7 883.4L1571.9 876.3L1573.1 878.3L1574.3 880.4L1575.5 880.2L1576.7 881.2L1577.9 882.4L1579.1 884.5L1580.3 882.3L1581.4 879.7L1582.6 881.7L1583.8 880.6L1585.0 885.1L1586.2 884.4L1587.4 884.6L1588.6 884.7L1589.8 883.5L1591.0 880.9L1592.2 881.5L1593.4 881.5L1594.6 880.4L1595.8 881.9L1597.0 882.6L1598.2 882.0L1599.4 884.5L1600.6 884.0L1601.8 882.5L1603.0 883.9L1604.2 879.2L1605.4 884.0L1606.6 882.9L1607.8 884.6L1609.0 886.4L1610.2 885.3L1611.3 882.6L1612.5 881.4L1613.7 879.9L1614.9 876.3L1616.1 874.7L1617.3 873.2L1618.5 875.3L1619.7 881.0L1620.9 883.5L1622.1 879.2L1623.3 882.1L1624.5 883.0L1625.7 882.5L1626.9 882.6L1628.1 885.5L1629.3 884.1L1630.5 884.2L1631.7 885.5L1632.9 885.7L1634.1 882.5L1635.3 883.7L1636.5 882.6L1637.7 883.0L1638.9 883.6L1640.1 883.5L1641.2 884.6L1642.4 885.3L1643.6 882.5L1644.8 884.2L1646.0 884.3L1647.2 886.9L1648.4 884.7L1649.6 882.1L1650.8 881.5L1652.0 885.4L1653.2 883.4L1654.4 885.8L1655.6 888.3L1656.8 885.8L1658.0 883.5L1659.2 884.5L1660.4 883.6L1661.6 882.9L1662.8 884.9L1664.0 885.5L1665.2 884.7L1666.4 885.1L1667.6 882.8L1668.8 884.9L1670.0 882.6L1671.1 885.0L1672.3 885.7L1673.5 882.3L1674.7 882.1L1675.9 884.7L1677.1 887.5L1678.3 888.0L1679.5 885.8L1680.7 885.0L1681.9 881.7L1683.1 883.2L1684.3 883.7L1685.5 879.8L1686.7 881.1L1687.9 884.5L1689.1 882.7L1690.3 886.1L1691.5 885.1L1692.7 884.7L1693.9 885.9L1695.1 882.8L1696.3 885.7L1697.5 890.1L1698.7 886.1L1699.9 886.5L1701.0 886.8L1702.2 888.2L1703.4 887.9L1704.6 886.6L1705.8 885.4L1707.0 885.0L1708.2 881.2L1709.4 885.8L1710.6 882.6L1711.8 881.8L1713.0 881.1L1714.2 881.0L1715.4 875.4L1716.6 874.4L1717.8 873.1L1719.0 871.1L1720.2 871.6L1721.4 876.1L1722.6 876.6L1723.8 876.2L1725.0 876.5L1726.2 872.6L1727.4 874.5L1728.6 879.4L1729.8 883.7L1730.9 879.3L1732.1 883.0L1733.3 881.3L1734.5 884.0L1735.7 877.5L1736.9 873.3L1738.1 874.2L1739.3 875.4L1740.5 871.3L1741.7 869.9L1742.9 864.0L1744.1 865.7L1745.3 868.0L1746.5 863.7L1747.7 863.6L1748.9 864.9L1750.1 868.2L1751.3 868.3L1752.5 862.2L1753.7 864.5L1754.9 870.7L1755.9 876.5" stroke="#009fff"/>
<path d="M214.6 875.6L215.6 880.4L216.8 879.5L218.0 879.7L219.2 880.7L220.4 879.8L221.6 880.6L222.7 880.2L223.9 880.4L225.1 877.9L226.3 879.6L227.5 878.7L228.7 880.9L229.9 881.8L231.1 880.9L232.3 882.7L233.5 881.1L234.7 880.1L235.9 880.6L237.1 880.7L238.3 878.8L239.5 878.6L240.7 881.0L241.9 880.8L243.1 882.7L244.3 882.1L245.5 881.0L246.7 880.8L247.9 883.1L249.1 884.7L250.3 882.0L251.5 883.1L252.6 883.7L253.8 882.4L255.0 881.3L256.2 879.0L257.4 883.3L258.6 884.5L259.8 875.8L261.0 873.2L262.2 870.3L263.4 866.8L264.6 866.1L265.8 862.3L267.0 863.7L268.2 864.9L269.4 870.8L270.6 870.8L271.8 867.9L273.0 867.7L274.2 872.4L275.4 873.4L276.6 877.3L277.8 872.8L279.0 870.6L280.2 866.9L281.4 864.8L282.5 863.0L283.7 868.0L284.9 863.2L286.1 866.7L287.3 867.4L288.5 863.6L289.7 860.8L290.9 861.4L291.9 875.6L1715.8 875.6L1716.8 877.1L1717.9 878.0L1719.1 871.7L1720.3 874.1L1721.5 873.6L1722.7 870.2L1723.9 877.1L1725.1 876.2L1726.3 873.4L1727.5 857.8L1728.7 864.7L1729.9 869.1L1731.1 874.4L1732.3 876.5L1733.5 874.0L1734.7 876.0L1735.9 878.7L1737.1 874.9L1738.3 878.2L1739.5 874.7L1740.7 874.8L1741.9 878.5L1743.1 879.5L1744.3 879.9L1745.5 878.2L1746.7 877.7L1747.8 875.5L1749.0 877.8L1750.2 874.7L1751.4 877.8L1752.6 879.5L1753.8 882.6L1755.0 881.4L1756.2 879.5L1757.4 877.5L1758.6 876.8L1759.8 881.4L1761.0 877.6L1762.2 875.9L1763.4 877.2L1764.6 875.2L1765.8 876.9L1767.0 876.8L1768.2 875.6L1769.4 875.6L1770.6 877.6L1771.8 881.5L1773.0 880.3L1774.2 881.0L1775.4 882.0L1776.6 880.2L1777.7 880.5L1778.9 879.2L1780.1 879.3L1781.3 880.3L1782.5 881.8L1783.7 884.6L1784.9 882.9L1786.1 882.3L1787.3 884.6L1788.5 885.9L1789.7 881.3L1790.9 881.3L1792.1 883.3L1793.3 881.5L1794.5 883.3L1795.7 883.1L1796.9 876.7L1798.1 875.8L1799.3 870.1L1800.5 871.2L1801.7 873.5L1802.9 876.2L1804.1 877.4L1805.3 879.8L1806.3 875.5L1937.5 875.5" stroke="#00dfff"/>
<path d="M433.3 875.8L434.3 877.4L435.5 877.0L436.7 882.0L437.9 880.1L439.1 878.4L440.3 865.9L441.5 860.6L442.7 863.8L443.9 860.3L445.1 863.0L446.3 858.5L447.5 857.0L448.7 859.3L449.9 862.6L451.1 864.2L452.3 865.4L453.5 874.7L454.7 880.5L455.9 883.4L457.1 879.6L458.2 878.0L459.4 878.5L460.6 877.2L461.8 879.2L463.0 882.2L464.2 881.8L465.4 877.3L466.6 878.1L467.8 883.3L469.0 881.5L470.2 876.3L471.4 876.9L472.6 882.8L473.8 879.9L475.0 881.9L476.2 882.0L477.4 881.5L478.6 880.1L479.8 881.2L481.0 882.0L482.2 882.0L483.4 880.8L484.6 883.1L485.8 881.9L487.0 881.1L488.1 879.5L489.3 880.8L490.5 883.1L491.7 881.0L492.9 880.2L494.1 878.1L495.3 881.3L496.5 878.6L497.7 877.9L498.9 880.2L500.1 879.2L501.3 879.0L502.5 878.3L503.7 880.1L504.9 877.4L506.1 879.1L507.3 880.0L508.5 878.6L509.7 874.0L510.9 877.0L512.1 878.9L513.3 878.5L514.5 878.0L515.7 877.5L516.9 878.5L518.0 881.0L519.2 881.9L520.4 880.3L521.6 881.8L522.8 881.6L524.0 880.6L525.2 879.8L526.4 880.2L527.6 879.1L528.8 879.5L530.0 880.7L531.2 879.2L532.4 876.5L533.6 874.6L534.8 876.5L536.0 879.5L537.2 883.1L538.4 885.9L539.6 889.0L540.8 883.5L542.0 883.2L543.2 882.6L544.4 879.2L545.6 879.3L546.8 878.8L547.9 883.8L549.1 884.4L550.3 883.8L551.5 882.4L552.7 882.9L553.9 884.0L555.1 880.7L556.3 882.3L557.5 883.6L558.7 883.8L559.9 881.7L561.1 881.8L562.3 879.5L563.5 882.6L564.7 882.5L565.9 880.0L567.1 880.9L568.3 883.7L569.5 880.6L570.7 882.3L571.9 881.0L573.1 881.3L574.3 878.9L575.5 879.8L576.7 882.7L577.8 884.0L579.0 882.4L580.2 881.0L581.4 882.7L582.6 883.3L583.8 880.3L585.0 883.3L586.2 881.1L587.4 882.6L588.6 877.7L589.8 877.7L591.0 877.2L592.2 879.3L593.4 878.9L594.6 880.5L595.8 882.8L597.0 882.2L598.2 880.9L599.4 880.1L600.6 881.6L601.8 880.9L603.0 882.0L604.2 882.5L605.4 883.6L606.6 885.8L607.7 885.0L608.9 884.3L610.1 884.3L611.3 879.3L612.5 880.0L613.7 878.0L614.9 881.2L616.1 879.2L617.3 879.2L618.5 877.2L619.7 876.8L620.9 877.7L622.1 879.6L623.3 880.8L624.5 880.4L625.7 877.3L626.9 877.7L628.1 879.5L629.3 879.5L630.5 875.4L631.7 869.9L632.9 865.2L634.1 857.4L635.3 855.3L636.5 860.1L637.6 862.3L638.8 872.7L640.0 871.8L641.2 872.7L642.4 869.5L643.6 865.3L644.8 872.4L646.0 871.8L647.2 874.1L648.4 878.5L649.6 872.9L650.8 871.5L652.0 874.0L653.0 875.8L1136.7 875.8L1137.7 877.8L1138.9 876.0L1140.1 877.2L1141.3 871.3L1142.5 871.0L1143.7 870.3L1144.9 872.1L1146.1 869.8L1147.3 872.2L1148.5 872.7L1149.7 874.4L1150.9 869.9L1152.1 863.6L1153.2 850.4L1154.4 853.0L1155.6 853.9L1156.8 854.7L1158.0 859.6L1159.2 859.5L1160.4 865.1L1161.6 866.6L1162.8 869.1L1164.0 864.5L1165.2 860.2L1166.4 865.6L1167.6 872.5L1168.8 875.5L1170.0 875.6L1171.2 877.4L1172.4 879.6L1173.6 881.2L1174.8 879.8L1176.0 879.1L1177.2 882.6L1178.4 875.6L1179.6 871.1L1180.8 872.8L1182.0 873.4L1183.1 876.9L1184.3 878.3L1185.5 877.1L1186.7 878.1L1187.9 884.9L1189.1 882.3L1190.3 876.5L1191.5 875.6L1192.7 872.7L1193.9 870.1L1195.1 871.8L1196.3 876.3L1197.5 868.9L1198.7 865.3L1199.7 875.8" stroke="#00ffff"/>
<path d="M673.3 877.1L674.3 873.1L675.5 876.5L676.7 877.9L677.9 880.6L679.1 877.1L680.3 865.6L681.5 869.2L682.7 870.9L683.9 872.5L685.1 877.8L686.3 882.3L687.5 878.4L688.6 882.8L689.8 879.4L691.0 881.6L692.2 877.6L693.4 874.5L694.6 878.5L695.8 878.3L697.0 880.5L698.2 879.8L699.4 877.1L700.6 881.0L701.8 880.1L703.0 880.0L704.2 876.7L705.4 876.3L706.6 877.9L707.8 880.6L709.0 883.9L710.2 885.2L711.4 882.4L712.6 883.3L713.8 883.2L715.0 880.1L716.2 884.0L717.4 881.2L718.5 877.4L719.7 878.2L720.9 878.4L722.1 878.6L723.3 883.0L724.5 884.6L725.7 884.4L726.9 884.9L728.1 884.7L729.3 882.5L730.5 878.9L731.7 878.9L732.9 880.1L734.1 880.6L735.3 881.0L736.5 876.6L737.7 877.0L738.9 879.9L740.1 879.9L741.3 883.0L742.5 880.7L743.7 882.0L744.9 878.4L746.1 881.4L747.3 883.3L748.4 884.5L749.6 881.8L750.8 884.5L752.0 882.4L753.2 880.1L754.4 880.0L755.6 880.0L756.8 880.5L758.0 879.1L759.2 880.9L760.4 879.4L761.6 883.7L762.8 881.3L764.0 880.8L765.2 881.8L766.4 882.2L767.6 884.7L768.8 884.7L770.0 882.8L771.2 885.7L772.4 883.7L773.6 884.7L774.8 883.3L776.0 884.4L777.2 886.7L778.3 884.3L779.5 878.5L780.7 874.5L781.9 878.0L783.1 880.5L784.3 882.8L785.5 881.2L786.7 879.9L787.9 880.2L789.1 879.7L790.3 881.0L791.5 885.4L792.7 882.2L793.9 883.2L795.1 880.0L796.3 881.7L797.5 884.0L798.7 885.1L799.9 883.6L801.1 885.0L802.3 882.5L803.5 883.5L804.7 884.0L805.9 887.6L807.1 886.7L808.2 887.2L809.4 889.2L810.6 886.4L811.8 886.6L813.0 884.9L814.2 884.9L815.4 885.6L816.6 884.3L817.8 883.8L819.0 885.5L820.2 887.0L821.4 886.9L822.6 885.5L823.8 886.9L825.0 884.3L826.2 884.4L827.4 882.7L828.6 886.4L829.8 885.9L831.0 885.5L832.2 883.3L833.4 880.6L834.6 882.8L835.8 885.1L837.0 881.7L838.1 885.5L839.3 883.3L840.5 885.9L841.7 885.4L842.9 885.7L844.1 883.8L845.3 881.9L846.5 882.3L847.7 883.4L848.9 880.6L850.1 882.5L851.3 882.4L852.5 882.6L853.7 880.0L854.9 884.5L856.1 886.5L857.3 885.2L858.5 883.1L859.7 883.7L860.9 880.3L862.1 880.5L863.3 878.0L864.5 879.9L865.7 885.6L866.9 886.1L868.0 883.5L869.2 882.7L870.4 881.0L871.6 881.9L872.8 884.2L874.0 885.5L875.2 882.7L876.4 883.4L877.6 886.0L878.8 882.8L880.0 880.9L881.2 881.5L882.4 880.3L883.6 881.5L884.8 883.7L886.0 882.0L887.2 881.7L888.4 883.9L889.6 879.7L890.8 876.9L892.0 877.9L893.2 879.5L894.4 878.1L895.6 879.4L896.8 878.8L897.9 875.4L899.1 875.8L900.3 879.2L901.5 879.9L902.7 882.3L903.9 879.7L905.1 875.3L906.3 878.2L907.5 879.1L908.7 874.7L909.9 871.8L911.1 871.2L912.3 877.4L913.5 881.1L914.7 878.1L915.9 875.2L917.1 872.6L918.3 875.8L919.5 875.9L920.7 881.4L921.9 879.6L923.1 883.6L924.3 877.9L925.5 877.7L926.7 865.5L927.8 860.1L929.0 863.4L930.2 868.7L931.4 870.7L932.6 867.1L933.8 863.0L935.0 866.9L936.2 867.5L937.4 873.4L938.6 876.8L939.8 879.6L941.0 873.8L942.2 875.4L943.4 876.6L944.4 877.1" stroke="#20ffdf"/>
<path d="M1008.2 876.0L1009.2 881.4L1010.4 878.3L1011.6 880.1L1012.8 882.0L1014.0 884.1L1015.2 883.6L1016.4 874.8L1017.6 867.8L1018.8 857.2L1020.0 850.6L1021.2 846.3L1022.4 848.6L1023.6 861.0L1024.7 872.9L1025.9 879.3L1027.1 876.8L1028.3 872.2L1029.5 873.9L1030.7 875.8L1031.9 883.0L1033.1 879.1L1034.3 880.0L1035.5 876.8L1036.7 880.2L1037.9 880.2L1039.1 877.2L1040.3 880.0L1041.5 879.5L1042.7 880.0L1043.9 879.0L1045.1 879.2L1046.3 881.4L1047.5 880.5L1048.7 879.9L1049.9 881.6L1051.1 880.4L1052.3 880.9L1053.5 882.3L1054.6 885.3L1055.8 883.0L1057.0 884.6L1058.2 883.6L1059.4 884.0L1060.6 880.9L1061.8 883.0L1063.0 880.7L1064.2 881.8L1065.4 885.8L1066.6 882.4L1067.8 881.6L1069.0 886.4L1070.2 884.1L1071.4 886.5L1072.6 889.4L1073.8 885.0L1075.0 884.3L1076.2 885.4L1077.4 882.7L1078.6 885.3L1079.8 882.9L1081.0 882.1L1082.2 881.3L1083.4 881.4L1084.5 883.2L1085.7 881.8L1086.9 883.9L1088.1 886.6L1089.3 886.1L1090.5 887.3L1091.7 886.5L1092.9 886.0L1094.1 883.6L1095.3 885.3L1096.5 884.1L1097.7 884.3L1098.9 883.1L1100.1 884.3L1101.3 885.0L1102.5 883.6L1103.7 880.0L1104.9 879.6L1106.1 879.7L1107.3 880.3L1108.5 881.6L1109.7 882.5L1110.9 880.5L1112.1 882.2L1113.3 884.5L1114.4 883.7L1115.6 882.1L1116.8 882.7L1118.0 884.4L1119.2 883.8L1120.4 879.2L1121.6 879.8L1122.8 882.1L1124.0 874.8L1125.2 876.0L1126.4 876.2L1127.6 882.2L1128.8 881.2L1130.0 879.6L1131.2 878.5L1132.4 880.0L1133.6 880.5L1134.8 883.5L1136.0 883.8L1137.2 887.8L1138.4 886.7L1139.6 880.9L1140.8 881.1L1142.0 880.0L1143.2 881.5L1144.3 880.8L1145.5 880.9L1146.7 880.7L1147.9 882.5L1149.1 882.2L1150.3 882.0L1151.5 882.2L1152.7 882.7L1153.9 881.2L1155.1 880.6L1156.3 880.0L1157.5 881.8L1158.7 878.6L1159.9 879.5L1161.1 878.2L1162.3 879.1L1163.5 882.6L1164.7 878.6L1165.9 878.2L1167.1 881.8L1168.3 883.2L1169.5 884.4L1170.7 881.7L1171.9 880.5L1173.1 879.9L1174.2 883.2L1175.4 881.8L1176.6 879.9L1177.8 878.8L1179.0 880.8L1180.2 881.4L1181.4 880.8L1182.6 880.3L1183.8 880.6L1185.0 882.3L1186.2 882.9L1187.4 881.2L1188.6 881.3L1189.8 882.9L1191.0 883.2L1192.2 878.6L1193.4 873.5L1194.6 868.5L1195.8 862.8L1197.0 863.1L1198.2 871.1L1199.4 876.7L1200.6 877.5L1201.8 878.2L1203.0 878.5L1204.1 877.4L1205.3 879.5L1206.5 880.9L1207.7 879.5L1208.9 878.5L1210.1 878.6L1211.3 879.3L1212.5 884.5L1213.7 884.5L1214.9 882.4L1216.1 882.8L1217.3 879.7L1218.5 879.3L1219.7 882.3L1220.9 878.2L1222.1 878.2L1223.3 875.8L1224.5 877.7L1225.7 880.3L1226.9 880.8L1228.1 879.9L1229.3 883.4L1230.5 884.8L1231.7 886.3L1232.9 885.7L1234.0 883.5L1235.2 882.2L1236.4 883.5L1237.6 884.6L1238.8 883.7L1240.0 882.9L1241.2 885.1L1242.4 884.1L1243.6 884.1L1244.8 882.6L1246.0 882.4L1247.2 880.5L1248.4 880.4L1249.6 878.9L1250.8 879.8L1252.0 879.3L1253.2 880.7L1254.4 879.4L1255.6 876.7L1256.8 877.4L1258.0 879.9L1259.2 879.5L1260.4 881.6L1261.6 882.0L1262.8 881.8L1263.9 882.1L1265.1 885.0L1266.3 885.5L1267.5 883.4L1268.7 886.0L1269.9 884.7L1271.1 883.1L1272.3 883.3L1273.5 880.7L1274.7 884.3L1275.9 884.0L1277.1 883.0L1278.3 883.1L1279.5 885.8L1280.7 886.2L1281.9 885.2L1283.1 883.9L1284.3 885.8L1285.5 883.8L1286.7 882.2L1287.9 884.9L1289.1 882.2L1290.3 879.1L1291.5 884.0L1292.7 884.3L1293.8 887.6L1295.0 884.0L1296.2 881.8L1297.4 884.4L1298.6 881.5L1299.8 883.2L1301.0 881.8L1302.2 884.1L1303.4 881.7L1304.6 882.6L1305.8 882.3L1307.0 882.8L1308.2 880.3L1309.4 877.3L1310.6 877.9L1311.8 879.5L1313.0 880.3L1314.2 880.0L1315.4 879.9L1316.6 879.0L1317.8 878.0L1319.0 876.7L1320.2 877.7L1321.4 879.4L1322.6 881.8L1323.7 880.7L1324.9 879.5L1326.1 882.3L1327.3 883.6L1328.5 881.8L1329.7 883.3L1330.9 883.2L1332.1 884.4L1333.3 880.1L1334.5 878.3L1335.7 878.8L1336.9 879.1L1338.1 883.2L1339.3 880.1L1340.5 880.9L1341.7 879.2L1342.9 876.7L1344.1 880.2L1345.3 879.2L1346.5 875.5L1347.7 872.3L1348.9 871.9L1350.1 868.7L1351.3 870.3L1352.5 877.3L1353.6 878.3L1354.8 882.7L1356.0 882.1L1357.2 878.0L1358.4 882.0L1359.6 879.6L1360.8 879.4L1362.0 873.7L1363.2 867.9L1364.4 860.9L1365.6 860.7L1366.8 870.2L1368.0 878.2L1369.2 879.3L1370.4 878.7L1371.6 875.2L1372.8 881.6L1374.0 876.2L1375.2 875.6L1376.4 871.0L1377.6 873.7L1378.8 871.5L1380.0 873.9L1381.2 877.3L1382.4 879.4L1383.5 878.0L1384.7 878.7L1385.9 873.3L1387.1 874.1L1388.3 871.1L1389.5 875.1L1390.7 868.1L1391.9 861.8L1392.9 876.0" stroke="#40ffbf"/>
<path d="M721.6 876.2L722.6 869.8L723.8 865.4L725.0 867.9L726.2 859.5L727.4 865.0L728.6 870.6L729.8 868.9L731.0 873.2L732.2 875.0L733.4 875.0L734.6 872.6L735.8 872.7L736.9 873.0L738.1 875.0L739.3 868.8L740.5 867.5L741.7 870.2L742.9 863.4L744.1 861.7L745.3 868.5L746.5 872.7L747.7 874.6L748.9 875.7L750.1 874.3L751.3 873.3L752.5 875.7L753.7 876.1L754.9 874.8L756.1 878.7L757.3 877.2L758.5 876.4L759.7 879.0L760.9 877.6L762.1 876.5L763.3 876.7L764.5 880.1L765.7 879.1L766.8 877.3L768.0 876.4L769.2 877.5L770.4 875.5L771.6 877.4L772.8 879.8L774.0 883.2L775.2 882.0L776.4 882.1L777.6 883.2L778.8 878.8L780.0 882.7L781.2 880.2L782.4 875.7L783.6 872.7L784.8 856.1L786.0 840.5L787.2 837.7L788.4 845.5L789.6 858.7L790.8 873.8L792.0 879.4L793.2 879.7L794.4 879.9L795.6 875.8L796.7 877.3L797.9 878.3L799.1 879.5L800.3 877.0L801.5 875.8L802.7 876.6L803.9 876.8L805.1 879.5L806.3 877.3L807.5 876.2L808.7 878.7L809.9 878.6L811.1 878.1L812.3 880.0L813.5 877.4L814.7 882.0L815.9 880.7L817.1 881.4L818.3 883.8L819.5 885.0L820.7 881.7L821.9 882.3L823.1 879.5L824.3 879.0L825.5 880.7L826.6 882.8L827.8 881.9L829.0 881.2L830.2 878.0L831.4 882.3L832.6 882.2L833.8 881.9L835.0 883.5L836.2 881.6L837.4 884.3L838.6 880.5L839.8 881.1L841.0 880.1L842.2 879.6L843.4 878.9L844.6 880.8L845.8 880.1L847.0 877.9L848.2 879.4L849.4 878.1L850.6 876.5L851.8 876.7L853.0 878.8L854.2 877.0L855.4 880.3L856.5 881.4L857.7 881.7L858.9 882.3L860.1 882.4L861.3 882.0L862.5 882.1L863.7 883.2L864.9 883.2L866.1 880.9L867.3 882.3L868.5 885.0L869.7 883.1L870.9 882.0L872.1 880.4L873.3 881.4L874.5 882.9L875.7 884.3L876.9 884.4L878.1 884.6L879.3 883.2L880.5 882.5L881.7 884.9L882.9 882.9L884.1 881.7L885.3 881.9L886.4 881.7L887.6 883.3L888.8 879.7L890.0 882.2L891.2 879.8L892.4 878.6L893.6 875.0L894.8 876.8L896.0 877.4L897.2 880.8L898.4 883.9L899.6 883.2L900.8 881.6L902.0 879.2L903.2 878.9L904.4 877.3L905.6 874.4L906.8 876.5L908.0 879.7L909.2 880.7L910.4 880.7L911.6 881.2L912.8 880.8L914.0 881.0L915.2 883.4L916.3 882.9L917.5 882.4L918.7 880.2L919.9 880.4L921.1 878.5L922.3 878.6L923.5 880.5L924.7 882.6L925.9 881.8L927.1 878.6L928.3 877.6L929.5 879.2L930.7 879.8L931.9 880.6L933.1 880.7L934.3 880.7L935.5 879.9L936.7 879.6L937.9 877.9L939.1 877.5L940.3 876.8L941.5 874.3L942.7 872.3L943.9 873.9L945.1 873.9L946.2 877.7L947.4 881.4L948.6 881.2L949.8 879.1L951.0 881.2L952.2 881.6L953.4 880.3L954.6 881.7L955.8 881.2L957.0 884.2L958.2 880.8L959.4 878.1L960.6 877.1L961.8 878.3L963.0 881.9L964.2 880.7L965.4 880.9L966.6 882.2L967.8 879.1L969.0 881.4L970.2 881.2L971.4 881.4L972.6 879.9L973.8 880.3L975.0 879.9L976.1 881.8L977.3 882.6L978.5 882.2L979.7 880.2L980.9 881.0L982.1 881.4L983.3 881.8L984.5 878.7L985.7 880.7L986.9 880.6L988.1 882.5L989.3 883.0L990.5 880.5L991.7 880.9L992.9 883.9L994.1 883.1L995.3 878.9L996.5 880.1L997.7 881.4L998.9 879.7L1000.1 874.6L1001.3 876.0L1002.5 878.4L1003.7 876.2L1004.9 877.3L1006.0 873.7L1007.2 873.9L1008.4 880.7L1009.6 874.2L1010.8 868.6L1012.0 869.2L1013.2 872.3L1014.4 872.5L1015.6 869.1L1016.8 868.1L1018.0 868.5L1019.2 868.0L1020.4 868.2L1021.6 871.0L1022.8 870.7L1024.0 876.8L1025.2 872.8L1026.4 872.8L1027.6 867.7L1028.8 862.3L1030.0 864.3L1031.2 864.6L1032.4 868.8L1033.6 871.2L1034.8 874.4L1035.9 866.5L1037.1 868.0L1038.3 867.4L1039.5 876.8L1040.7 876.4L1041.9 875.1L1043.1 877.4L1044.3 885.7L1045.5 885.4L1046.7 874.8L1047.9 872.7L1048.9 876.2" stroke="#60ff9f"/>
<path d="M1369.1 876.3L1370.1 868.4L1371.3 870.3L1372.5 872.7L1373.7 870.8L1374.9 864.5L1376.1 867.1L1377.3 873.3L1378.5 875.9L1379.7 868.0L1380.9 863.0L1382.1 857.6L1383.3 859.4L1384.5 864.9L1385.6 865.1L1386.8 873.4L1388.0 872.7L1389.2 876.2L1390.4 879.0L1391.6 881.2L1392.8 878.8L1394.0 876.6L1395.2 873.2L1396.4 876.2L1397.6 875.9L1398.8 876.9L1400.0 871.8L1401.2 873.0L1402.4 877.0L1403.6 876.2L1404.8 876.0L1406.0 875.0L1407.2 875.7L1408.4 878.6L1409.6 876.2L1410.8 878.4L1412.0 877.3L1413.2 874.1L1414.4 871.2L1415.5 871.5L1416.7 870.9L1417.9 872.9L1419.1 875.8L1420.3 875.3L1421.5 877.5L1422.7 880.2L1423.9 881.5L1425.1 877.8L1426.3 875.7L1427.5 877.6L1428.7 882.4L1429.9 879.8L1431.1 879.9L1432.3 880.3L1433.5 879.7L1434.7 880.6L1435.9 875.7L1437.1 874.5L1438.3 876.6L1439.5 876.3L1440.7 877.1L1441.9 877.5L1443.1 881.0L1444.3 877.7L1445.4 879.3L1446.6 879.9L1447.8 880.7L1449.0 881.5L1450.2 879.9L1451.4 882.3L1452.6 881.8L1453.8 882.1L1455.0 883.2L1456.2 883.4L1457.4 882.6L1458.6 883.8L1459.8 883.9L1461.0 884.3L1462.2 882.4L1463.4 880.0L1464.6 881.0L1465.8 878.8L1467.0 881.1L1468.2 879.0L1469.4 878.9L1470.6 880.3L1471.8 883.3L1473.0 880.6L1474.2 881.3L1475.3 884.0L1476.5 884.3L1477.7 886.6L1478.9 886.2L1480.1 884.6L1481.3 880.5L1482.5 879.0L1483.7 881.0L1484.9 882.9L1486.1 882.8L1487.3 879.6L1488.5 881.8L1489.7 881.9L1490.9 882.1L1492.1 883.0L1493.3 882.2L1494.5 880.5L1495.7 881.5L1496.9 881.2L1498.1 882.4L1499.3 885.2L1500.5 884.7L1501.7 882.8L1502.9 882.0L1504.1 882.0L1505.2 882.2L1506.4 884.5L1507.6 881.0L1508.8 879.5L1510.0 880.4L1511.2 877.8L1512.4 880.0L1513.6 881.3L1514.8 879.7L1516.0 879.1L1517.2 878.3L1518.4 878.5L1519.6 882.0L1520.8 878.9L1522.0 879.9L1523.2 880.7L1524.4 880.8L1525.6 880.4L1526.8 879.9L1528.0 877.2L1529.2 876.7L1530.4 879.8L1531.6 880.7L1532.8 882.1L1534.0 882.4L1535.1 884.7L1536.3 886.6L1537.5 887.5L1538.7 884.4L1539.9 885.3L1541.1 883.9L1542.3 883.3L1543.5 884.5L1544.7 883.8L1545.9 885.9L1547.1 881.7L1548.3 884.2L1549.5 883.3L1550.7 883.5L1551.9 874.5L1553.1 866.1L1554.3 865.2L1555.5 871.8L1556.7 873.7L1557.9 877.7L1559.1 876.3L1560.3 881.4L1561.5 885.4L1562.7 885.0L1563.9 885.3L1565.0 882.8L1566.2 883.9L1567.4 882.5L1568.6 881.8L1569.8 882.2L1571.0 882.5L1572.2 879.9L1573.4 881.9L1574.6 879.5L1575.8 880.2L1577.0 882.1L1578.2 884.1L1579.4 882.4L1580.6 882.5L1581.8 883.5L1583.0 880.7L1584.2 880.9L1585.4 880.9L1586.6 880.1L1587.8 878.5L1589.0 878.7L1590.2 877.0L1591.4 875.1L1592.6 873.6L1593.8 874.6L1594.9 878.9L1596.1 878.1L1597.3 880.1L1598.5 880.2L1599.7 878.8L1600.9 878.5L1602.1 879.5L1603.3 879.7L1604.5 880.9L1605.7 880.9L1606.9 884.3L1608.1 884.0L1609.3 884.0L1610.5 881.6L1611.7 881.4L1612.9 883.4L1614.1 883.9L1615.3 887.9L1616.5 886.8L1617.7 884.4L1618.9 886.3L1620.1 883.9L1621.3 881.9L1622.5 882.7L1623.7 884.9L1624.8 886.1L1626.0 882.6L1627.2 879.2L1628.4 874.2L1629.6 867.6L1630.8 863.4L1632.0 859.7L1633.2 854.0L1634.4 854.1L1635.6 860.6L1636.8 865.6L1638.0 874.2L1639.2 878.0L1640.4 881.4L1641.6 882.7L1642.8 880.9L1644.0 884.0L1645.2 887.8L1646.4 884.4L1647.6 883.6L1648.8 882.1L1650.0 880.2L1651.2 876.6L1652.4 879.8L1653.6 881.4L1654.7 879.5L1655.9 879.9L1657.1 875.1L1658.3 874.1L1659.5 873.7L1660.7 872.0L1661.9 873.5L1663.1 873.8L1664.3 877.9L1665.5 879.0L1666.7 877.4L1667.9 881.8L1669.1 880.2L1670.3 877.9L1671.5 876.0L1672.7 871.4L1673.9 874.1L1675.1 877.0L1676.3 875.1L1677.5 873.3L1678.7 868.7L1679.9 872.6L1681.1 878.8L1682.3 877.2L1683.5 879.0L1684.6 878.5L1685.8 878.0L1687.0 876.0L1688.2 873.3L1689.4 875.9L1690.6 874.7L1691.8 874.6L1693.0 873.1L1694.2 866.4L1695.4 871.1L1696.6 874.6L1697.8 875.6L1699.0 878.7L1700.2 881.5L1701.4 879.4L1702.6 879.2L1703.8 878.9L1705.0 876.8L1706.2 876.1L1707.4 881.2L1708.6 877.4L1709.8 880.5L1710.8 876.3" stroke="#80ff80"/>
<path d="M214.6 881.6L215.6 878.6L216.8 882.2L218.0 881.2L219.2 880.1L220.4 881.9L221.6 880.6L222.7 881.5L223.9 882.3L225.1 879.5L226.3 872.0L227.5 861.4L228.7 862.5L229.9 873.9L231.1 879.5L232.3 885.5L233.5 885.4L234.7 881.9L235.9 884.3L237.1 883.1L238.3 884.0L239.5 884.3L240.7 883.1L241.9 883.4L243.1 883.4L244.3 885.1L245.5 885.0L246.7 884.9L247.9 884.7L249.1 883.4L250.3 881.2L251.5 881.5L252.6 882.3L253.8 884.7L255.0 883.7L256.2 882.3L257.4 881.1L258.6 885.6L259.8 883.6L261.0 884.1L262.2 887.0L263.4 885.4L264.6 883.7L265.8 884.9L267.0 883.6L268.2 883.3L269.4 878.7L270.6 880.9L271.8 880.3L273.0 880.3L274.2 878.9L275.4 878.2L276.6 880.5L277.8 882.3L279.0 883.3L280.2 883.0L281.4 882.7L282.5 884.6L283.7 879.0L284.9 879.8L286.1 879.4L287.3 881.5L288.5 886.0L289.7 883.4L290.9 881.7L292.1 882.5L293.3 880.8L294.5 881.9L295.7 883.8L296.9 882.4L298.1 883.7L299.3 888.0L300.5 884.8L301.7 882.5L302.9 883.8L304.1 883.2L305.3 879.8L306.5 880.1L307.7 880.8L308.9 882.9L310.1 881.8L311.3 881.0L312.4 879.6L313.6 875.6L314.8 876.4L316.0 873.3L317.2 872.6L318.4 870.5L319.6 866.0L320.8 862.8L322.0 860.6L323.2 858.4L324.4 865.4L325.6 872.7L326.8 877.7L328.0 875.2L329.2 875.7L330.4 876.9L331.6 871.0L332.8 876.8L334.0 877.1L335.2 880.4L336.2 881.6L343.5 881.6L344.5 870.6L345.7 870.1L346.8 863.1L348.0 870.2L349.2 868.4L350.4 865.0L351.6 868.5L352.8 866.8L354.0 866.4L355.2 863.8L356.4 863.0L357.6 865.7L358.8 865.0L360.0 867.7L361.2 864.3L362.4 870.2L363.6 873.9L364.8 872.6L366.0 877.8L367.2 874.4L368.4 876.1L369.6 876.0L370.8 878.2L372.0 881.1L373.2 876.9L374.4 877.8L375.6 876.1L376.7 877.5L377.9 877.2L379.1 879.2L380.3 882.2L381.5 884.0L382.7 881.4L383.9 879.4L385.1 879.9L386.3 879.6L387.5 880.2L388.7 876.1L389.9 878.3L391.1 876.3L392.3 873.6L393.5 879.9L394.7 881.0L395.9 881.0L397.1 876.8L398.3 875.7L399.5 875.3L400.7 876.8L401.9 879.5L403.1 880.9L404.3 882.2L405.5 881.1L406.6 879.0L407.8 877.5L409.0 879.1L410.2 878.6L411.4 880.5L412.6 883.1L413.8 882.5L415.0 881.2L416.2 880.4L417.4 883.3L418.6 884.3L419.8 884.0L421.0 883.8L422.2 882.2L423.4 881.2L424.6 874.3L425.8 873.8L427.0 873.3L428.2 869.8L429.4 865.1L430.6 859.2L431.8 859.5L433.0 860.6L434.2 866.6L435.4 870.1L436.5 874.1L437.7 880.3L438.9 882.9L440.1 885.5L441.3 887.6L442.5 887.1L443.7 884.6L444.9 884.3L446.1 885.1L447.3 884.0L448.5 880.3L449.7 881.0L450.9 879.7L452.1 882.8L453.3 886.6L454.5 885.5L455.7 882.8L456.9 880.0L458.1 879.7L459.3 879.3L460.5 878.3L461.7 880.7L462.9 882.9L464.1 882.6L465.3 881.7L466.4 879.9L467.6 883.2L468.8 885.1L470.0 882.1L471.2 878.7L472.4 879.5L473.6 881.6L474.8 881.7L476.0 881.6L477.2 882.8L478.4 881.8L479.6 879.6L480.8 875.7L482.0 882.0L483.2 882.2L484.4 885.2L485.6 881.3L486.8 884.0L488.0 880.8L489.2 881.5L490.4 882.6L491.6 884.7L492.8 882.7L494.0 880.2L495.2 880.0L496.3 881.3L497.5 880.9L498.7 882.5L499.9 882.9L501.1 881.4L502.3 878.4L503.5 877.6L504.7 878.2L505.9 872.9L507.1 863.5L508.3 866.0L509.5 870.3L510.7 876.0L511.9 878.4L513.1 879.0L514.3 877.1L515.5 877.5L516.7 877.2L517.9 880.4L519.1 878.9L520.3 883.5L521.5 882.4L522.7 883.7L523.9 883.6L525.1 878.2L526.2 877.2L527.4 875.8L528.6 874.3L529.8 871.0L531.0 868.1L532.2 866.9L533.4 860.1L534.6 858.0L535.8 858.9L537.0 861.7L538.2 868.8L539.4 870.7L540.6 867.2L541.8 860.8L543.0 862.5L544.2 866.6L545.4 867.6L546.6 876.2L547.8 881.0L549.0 880.9L550.0 881.6L1937.5 881.6" stroke="#9fff60"/>
<path d="M849.0 877.1L850.0 874.0L851.2 874.8L852.4 879.2L853.6 873.8L854.8 876.3L856.0 870.7L857.2 872.4L858.4 874.3L859.6 880.0L860.8 880.3L862.0 881.0L863.2 874.8L864.4 877.2L865.5 873.7L866.7 875.5L867.9 871.7L869.1 873.7L870.3 876.1L871.5 877.1L872.7 878.1L873.9 876.3L875.1 872.7L876.3 873.0L877.5 873.8L878.7 874.8L879.9 875.7L881.1 878.2L882.3 878.0L883.5 879.4L884.7 873.4L885.9 869.2L887.1 866.2L888.3 866.2L889.5 870.5L890.7 874.8L891.9 876.6L893.1 879.9L894.3 876.7L895.4 877.8L896.6 876.0L897.8 875.8L899.0 873.1L900.2 870.6L901.4 868.0L902.6 860.4L903.8 857.6L905.0 859.7L906.2 861.6L907.4 869.2L908.6 872.6L909.8 877.9L911.0 881.9L912.2 883.9L913.4 882.4L914.6 881.3L915.8 880.5L917.0 883.0L918.2 885.6L919.4 880.9L920.6 881.3L921.8 879.5L923.0 879.7L924.2 878.9L925.3 880.1L926.5 882.6L927.7 883.4L928.9 882.8L930.1 879.7L931.3 880.6L932.5 883.1L933.7 883.0L934.9 884.4L936.1 883.1L937.3 884.2L938.5 885.3L939.7 882.9L940.9 883.4L942.1 883.8L943.3 882.0L944.5 881.8L945.7 879.7L946.9 882.3L948.1 884.4L949.3 885.3L950.5 883.2L951.7 879.0L952.9 878.5L954.1 879.1L955.2 878.2L956.4 879.6L957.6 883.4L958.8 882.5L960.0 883.5L961.2 882.1L962.4 882.5L963.6 883.9L964.8 881.0L966.0 883.2L967.2 883.3L968.4 882.4L969.6 881.8L970.8 880.9L972.0 880.7L973.2 881.0L974.4 880.2L975.6 880.4L976.8 880.0L978.0 879.9L979.2 882.8L980.4 883.1L981.6 882.7L982.8 883.6L984.0 881.9L985.1 884.3L986.3 884.4L987.5 886.9L988.7 885.6L989.9 885.0L991.1 884.5L992.3 881.6L993.5 883.0L994.7 881.1L995.9 881.8L997.1 879.5L998.3 881.3L999.5 879.1L1000.7 877.8L1001.9 878.9L1003.1 877.4L1004.3 881.5L1005.5 882.8L1006.7 881.6L1007.9 879.6L1009.1 880.4L1010.3 879.5L1011.5 879.6L1012.7 881.5L1013.9 881.0L1015.0 881.5L1016.2 880.8L1017.4 879.6L1018.6 880.9L1019.8 884.2L1021.0 884.6L1022.2 882.2L1023.4 881.9L1024.6 878.9L1025.8 878.4L1027.0 879.3L1028.2 883.4L1029.4 883.1L1030.6 881.8L1031.8 884.3L1033.0 880.9L1034.2 881.5L1035.4 882.5L1036.6 883.5L1037.8 884.0L1039.0 880.6L1040.2 877.3L1041.4 876.8L1042.6 875.0L1043.8 869.4L1044.9 869.1L1046.1 869.7L1047.3 871.3L1048.5 873.4L1049.7 878.4L1050.9 880.6L1052.1 883.3L1053.3 879.8L1054.5 882.9L1055.7 880.5L1056.9 881.8L1058.1 880.2L1059.3 882.0L1060.5 880.0L1061.7 881.2L1062.9 881.0L1064.1 881.7L1065.3 881.5L1066.5 883.2L1067.7 884.2L1068.9 883.8L1070.1 882.9L1071.3 880.3L1072.5 879.8L1073.7 878.3L1074.8 878.3L1076.0 881.2L1077.2 881.1L1078.4 877.9L1079.6 877.8L1080.8 877.1L1082.0 872.1L1083.2 869.4L1084.4 863.1L1085.6 854.8L1086.8 850.3L1088.0 849.9L1089.2 851.0L1090.4 856.2L1091.6 862.6L1092.8 865.8L1094.0 868.1L1095.2 872.1L1096.4 877.3L1097.6 878.4L1098.8 882.3L1100.0 885.4L1101.2 884.0L1102.4 883.8L1103.6 881.7L1104.7 884.1L1105.9 883.0L1107.1 878.2L1108.3 880.0L1109.5 878.4L1110.7 876.8L1111.9 877.3L1113.1 877.6L1114.3 873.8L1115.5 874.2L1116.7 875.6L1117.9 877.0L1119.1 880.4L1120.3 881.5L1121.5 882.6L1122.7 883.7L1123.9 883.6L1125.1 884.2L1126.3 882.3L1127.5 882.1L1128.7 876.2L1129.9 881.7L1131.1 880.6L1132.3 883.7L1133.5 881.7L1134.6 883.8L1135.8 882.9L1137.0 886.2L1138.2 883.6L1139.4 882.4L1140.6 881.7L1141.8 881.8L1143.0 878.7L1144.2 884.1L1145.4 883.4L1146.6 882.4L1147.8 883.1L1149.0 882.2L1150.2 880.2L1151.4 877.4L1152.6 877.3L1153.8 877.5L1155.0 878.3L1156.2 876.4L1157.4 875.0L1158.6 876.7L1159.8 876.5L1161.0 877.9L1162.2 874.7L1163.4 872.8L1164.5 868.6L1165.7 868.5L1166.9 871.0L1168.1 872.6L1169.3 876.6L1170.5 876.6L1171.7 878.3L1172.9 874.3L1174.1 876.3L1175.3 879.1L1176.5 881.6L1177.7 877.7L1178.9 880.5L1180.1 881.2L1181.3 873.4L1182.5 869.7L1183.7 874.7L1184.9 877.6L1186.1 875.2L1187.3 871.9L1188.5 873.4L1189.7 869.8L1190.9 869.0L1192.1 872.5L1193.3 871.7L1194.4 870.8L1195.6 866.8L1196.8 865.8L1198.0 872.8L1199.2 873.8L1200.2 877.1" stroke="#bfff40"/>
<path d="M1579.9 876.0L1580.9 872.7L1582.1 873.9L1583.3 864.4L1584.5 864.0L1585.7 863.5L1586.9 869.7L1588.1 867.3L1589.3 869.8L1590.5 870.7L1591.7 873.1L1592.9 873.5L1594.1 870.3L1595.3 870.7L1596.4 876.1L1597.6 880.8L1598.8 877.4L1600.0 873.2L1601.2 873.4L1602.4 879.0L1603.6 880.1L1604.8 878.1L1606.0 870.4L1607.2 870.0L1608.4 866.2L1609.6 860.9L1610.8 861.9L1612.0 865.9L1613.2 873.2L1614.4 872.1L1615.6 872.0L1616.8 871.3L1618.0 871.6L1619.2 869.6L1620.4 865.6L1621.6 858.7L1622.8 861.4L1624.0 865.1L1625.2 868.0L1626.3 871.5L1627.5 876.2L1628.7 878.8L1629.9 878.7L1631.1 880.2L1632.3 878.9L1633.5 878.6L1634.7 880.7L1635.9 882.5L1637.1 882.5L1638.3 881.0L1639.5 881.9L1640.7 880.2L1641.9 880.2L1643.1 876.9L1644.3 879.0L1645.5 877.8L1646.7 879.9L1647.9 881.3L1649.1 883.9L1650.3 885.8L1651.5 886.5L1652.7 888.1L1653.9 886.5L1655.1 883.7L1656.2 882.1L1657.4 879.3L1658.6 882.6L1659.8 880.8L1661.0 881.2L1662.2 880.5L1663.4 881.0L1664.6 882.1L1665.8 884.2L1667.0 884.2L1668.2 886.3L1669.4 885.4L1670.6 887.4L1671.8 882.3L1673.0 880.4L1674.2 881.1L1675.4 878.5L1676.6 873.2L1677.8 865.5L1679.0 867.0L1680.2 869.4L1681.4 873.8L1682.6 880.2L1683.8 884.2L1685.0 887.5L1686.1 887.0L1687.3 886.7L1688.5 885.4L1689.7 887.0L1690.9 885.9L1692.1 884.2L1693.3 883.5L1694.5 889.0L1695.7 883.4L1696.9 884.9L1698.1 881.6L1699.3 882.1L1700.5 886.0L1701.7 884.4L1702.9 879.7L1704.1 885.2L1705.3 885.9L1706.5 887.7L1707.7 886.5L1708.9 889.4L1710.1 887.1L1711.3 887.7L1712.5 884.8L1713.7 885.0L1714.9 882.6L1716.0 879.3L1717.2 880.1L1718.4 879.2L1719.6 877.3L1720.8 881.1L1722.0 883.9L1723.2 885.0L1724.4 882.1L1725.6 884.9L1726.8 885.3L1728.0 886.9L1729.2 883.3L1730.4 883.0L1731.6 880.6L1732.8 884.9L1734.0 883.9L1735.2 884.5L1736.4 884.8L1737.6 883.7L1738.8 884.3L1740.0 884.9L1741.2 885.9L1742.4 886.7L1743.6 883.5L1744.8 884.3L1745.9 883.5L1747.1 880.5L1748.3 882.9L1749.5 884.3L1750.7 883.5L1751.9 881.8L1753.1 881.7L1754.3 881.8L1755.5 878.3L1756.7 876.6L1757.9 876.5L1759.1 874.6L1760.3 871.1L1761.5 868.3L1762.7 870.9L1763.9 871.6L1765.1 876.3L1766.3 879.4L1767.5 879.5L1768.7 875.6L1769.9 871.4L1771.1 870.4L1772.3 869.4L1773.5 869.9L1774.7 874.1L1775.8 879.3L1777.0 881.1L1778.2 881.0L1779.4 884.3L1780.6 883.0L1781.8 882.7L1783.0 882.6L1784.2 879.9L1785.4 878.7L1786.6 879.1L1787.8 879.5L1789.0 875.9L1790.2 870.6L1791.4 867.5L1792.6 871.0L1793.8 876.9L1795.0 880.2L1796.2 882.9L1797.4 883.9L1798.6 884.6L1799.8 882.8L1801.0 886.5L1802.2 885.1L1803.4 882.5L1804.6 883.0L1805.7 882.3L1806.7 870.0L1937.5 870.0" stroke="#dfff20"/>
<path d="M644.6 876.5L645.6 875.9L646.8 877.8L648.0 876.6L649.2 876.3L650.4 875.3L651.6 872.6L652.8 874.7L654.0 879.4L655.2 880.6L656.4 872.4L657.6 872.5L658.8 873.3L659.9 876.1L661.1 873.5L662.3 875.3L663.5 875.7L664.7 871.1L665.9 873.9L667.1 877.5L668.3 880.2L669.5 880.7L670.7 879.8L671.9 880.6L673.1 880.5L674.3 878.0L675.5 872.2L676.7 874.1L677.9 879.4L679.1 878.6L680.3 874.7L681.5 869.5L682.7 867.6L683.9 868.1L685.1 872.1L686.3 876.9L687.5 881.5L688.7 882.1L689.8 884.8L691.0 883.7L692.2 880.7L693.4 880.7L694.6 882.3L695.8 884.9L697.0 886.0L698.2 885.0L699.4 883.7L700.6 882.0L701.8 880.2L703.0 882.1L704.2 882.4L705.4 880.8L706.6 880.0L707.8 881.4L709.0 878.1L710.2 877.2L711.4 877.4L712.6 877.9L713.8 882.6L715.0 881.0L716.2 879.2L717.4 884.3L718.6 884.5L719.7 881.9L720.9 882.0L722.1 880.4L723.3 882.4L724.5 882.6L725.7 881.8L726.9 882.6L728.1 881.4L729.3 882.3L730.5 881.8L731.7 881.6L732.9 882.7L734.1 880.7L735.3 881.8L736.5 883.5L737.7 883.2L738.9 884.5L740.1 885.1L741.3 882.4L742.5 885.0L743.7 881.8L744.9 882.4L746.1 882.8L747.3 884.5L748.5 885.2L749.6 884.5L750.8 882.4L752.0 882.5L753.2 880.2L754.4 882.2L755.6 880.7L756.8 878.7L758.0 881.3L759.2 880.7L760.4 884.6L761.6 886.6L762.8 884.8L764.0 883.4L765.2 880.4L766.4 879.3L767.6 879.2L768.8 878.0L770.0 877.8L771.2 880.4L772.4 879.7L773.6 882.2L774.8 879.9L776.0 885.3L777.2 885.5L778.4 884.3L779.5 884.3L780.7 885.0L781.9 883.0L783.1 884.5L784.3 880.4L785.5 882.1L786.7 881.9L787.9 885.0L789.1 886.1L790.3 887.4L791.5 883.8L792.7 883.7L793.9 884.8L795.1 886.7L796.3 885.5L797.5 882.8L798.7 881.8L799.9 882.7L801.1 883.7L802.3 884.4L803.5 882.5L804.7 882.5L805.9 883.2L807.1 885.7L808.3 885.7L809.4 886.2L810.6 885.7L811.8 885.5L813.0 884.4L814.2 883.0L815.4 882.9L816.6 882.9L817.8 882.7L819.0 883.5L820.2 882.7L821.4 882.1L822.6 884.9L823.8 884.3L825.0 884.7L826.2 883.7L827.4 879.5L828.6 882.0L829.8 885.2L831.0 884.8L832.2 884.1L833.4 884.9L834.6 884.1L835.8 884.1L837.0 882.4L838.2 883.0L839.3 886.2L840.5 883.1L841.7 883.4L842.9 886.2L844.1 883.2L845.3 884.2L846.5 887.7L847.7 886.8L848.9 882.0L850.1 879.0L851.3 879.0L852.5 878.2L853.7 874.8L854.9 871.5L856.1 866.6L857.3 868.5L858.5 870.8L859.7 875.3L860.9 881.2L862.1 877.5L863.3 877.6L864.5 876.2L865.7 881.0L866.9 880.8L868.1 880.7L869.2 878.9L870.4 873.9L871.6 869.9L872.8 869.5L874.0 872.5L875.2 878.5L876.4 881.8L877.6 882.3L878.8 882.3L880.0 880.2L881.2 881.1L882.4 881.9L883.6 883.4L884.8 882.1L886.0 882.7L887.2 880.6L888.4 881.6L889.6 883.3L890.8 881.8L892.0 883.2L893.2 883.2L894.4 884.6L895.6 886.3L896.8 888.3L898.0 884.9L899.1 884.2L900.3 885.1L901.5 884.4L902.7 885.0L903.9 884.4L905.1 881.3L906.3 883.7L907.5 881.8L908.7 881.8L909.9 882.3L911.1 881.6L912.3 882.3L913.5 883.2L914.7 883.7L915.9 879.6L917.1 880.9L918.3 883.4L919.5 881.7L920.7 881.8L921.9 883.8L923.1 883.8L924.3 885.0L925.5 882.2L926.7 880.5L927.9 877.5L929.0 878.6L930.2 878.4L931.4 876.8L932.6 878.9L933.8 879.8L935.0 882.4L936.2 881.9L937.4 883.6L938.6 880.6L939.8 880.1L941.0 879.7L942.2 880.4L943.4 878.9L944.6 880.7L945.8 884.3L947.0 888.1L948.2 883.4L949.4 880.6L950.6 877.9L951.8 878.2L953.0 879.5L954.2 884.8L955.4 883.8L956.6 884.4L957.8 881.9L958.9 882.9L960.1 884.5L961.3 885.6L962.5 886.4L963.7 880.1L964.9 882.0L966.1 880.4L967.3 879.4L968.5 886.8L969.7 883.3L970.9 881.5L972.1 879.6L973.3 878.4L974.5 880.0L975.7 877.3L976.9 877.8L978.1 878.3L979.3 877.6L980.5 874.0L981.7 877.1L982.9 875.2L984.1 874.4L985.3 877.6L986.5 879.7L987.7 879.7L988.8 877.5L990.0 880.1L991.2 875.8L992.4 878.2L993.6 878.3L994.8 878.7L996.0 878.9L997.2 877.8L998.4 872.4L999.6 863.6L1000.8 857.1L1002.0 859.7L1003.2 858.8L1004.4 861.2L1005.6 864.0L1006.8 867.0L1008.0 867.6L1009.2 873.5L1010.4 876.6L1011.6 880.4L1012.8 881.0L1014.0 877.8L1015.2 877.5L1016.4 878.9L1017.6 874.9L1018.7 869.4L1019.9 864.0L1021.1 865.0L1022.3 868.5L1023.5 869.4L1024.7 872.8L1025.9 875.6L1027.1 876.0L1028.3 872.1L1029.5 870.7L1030.7 870.2L1031.9 874.4L1033.1 872.2L1034.3 873.4L1035.5 874.5L1036.7 872.2L1037.9 870.5L1038.9 876.5" stroke="#ffff00"/>
<path d="M773.4 875.9L774.4 881.1L775.6 881.4L776.8 882.0L778.0 870.1L779.2 875.6L780.4 873.4L781.6 873.6L782.8 881.8L784.0 877.8L785.2 876.0L786.4 874.8L787.6 878.4L788.7 879.4L789.9 874.5L791.1 879.9L792.3 880.8L793.5 880.6L794.7 884.4L795.9 886.1L797.1 883.5L798.3 882.9L799.5 880.7L800.7 877.0L801.9 868.0L803.1 860.0L804.3 852.5L805.5 850.4L806.7 860.0L807.9 866.5L809.1 862.1L810.3 860.5L811.5 853.7L812.7 856.7L813.9 866.7L815.1 874.2L816.3 877.1L817.5 877.1L818.6 879.8L819.8 879.2L821.0 879.9L822.2 880.4L823.4 886.4L824.6 887.8L825.8 889.4L827.0 887.5L828.2 884.4L829.4 885.7L830.6 886.6L831.8 886.0L833.0 884.2L834.2 884.5L835.4 884.6L836.6 882.3L837.8 883.3L839.0 882.2L840.2 887.0L841.4 888.6L842.6 883.7L843.8 886.2L845.0 886.9L846.2 889.6L847.4 888.0L848.5 882.9L849.7 884.3L850.9 880.9L852.1 883.0L853.3 880.4L854.5 881.3L855.7 879.6L856.9 883.2L858.1 886.3L859.3 887.3L860.5 882.1L861.7 882.4L862.9 884.0L864.1 885.0L865.3 880.4L866.5 881.5L867.7 880.5L868.9 881.3L870.1 881.7L871.3 877.9L872.5 870.7L873.7 865.0L874.9 866.1L876.1 870.7L877.3 868.1L878.4 866.5L879.6 863.7L880.8 861.2L882.0 863.5L883.2 870.2L884.4 874.4L885.6 877.2L886.8 879.0L888.0 878.0L889.2 869.8L890.4 865.5L891.6 864.3L892.8 871.1L894.0 877.1L895.2 882.3L896.4 875.7L897.6 870.5L898.8 874.3L900.0 883.1L901.0 875.9L908.5 875.9L909.5 869.1L910.7 870.5L911.9 875.8L913.1 876.1L914.3 872.8L915.5 867.4L916.7 870.2L917.9 869.0L919.1 871.5L920.3 871.3L921.5 876.8L922.7 876.0L923.8 877.1L925.0 875.5L926.2 879.8L927.4 882.7L928.6 876.0L929.8 877.1L931.0 878.0L932.2 877.6L933.4 873.8L934.6 880.0L935.8 876.3L937.0 868.6L938.2 867.5L939.4 873.1L940.6 874.9L941.8 877.3L943.0 879.9L944.2 876.5L945.4 879.7L946.6 880.0L947.8 881.2L949.0 881.3L950.2 881.1L951.4 882.0L952.6 879.4L953.7 880.4L954.9 879.4L956.1 881.0L957.3 880.7L958.5 879.8L959.7 880.7L960.9 881.0L962.1 880.0L963.3 881.2L964.5 877.9L965.7 878.3L966.9 876.9L968.1 877.2L969.3 879.3L970.5 878.8L971.7 881.5L972.9 880.5L974.1 879.2L975.3 879.6L976.5 879.1L977.7 879.3L978.9 878.0L980.1 881.4L981.3 879.4L982.5 876.9L983.6 882.3L984.8 880.3L986.0 879.5L987.2 882.3L988.4 878.7L989.6 880.1L990.8 877.6L992.0 875.0L993.2 874.0L994.4 875.8L995.6 877.2L996.8 877.2L998.0 878.6L999.2 877.7L1000.4 877.7L1001.6 877.7L1002.8 879.3L1004.0 877.5L1005.2 877.1L1006.4 878.2L1007.6 877.6L1008.8 878.7L1010.0 877.3L1011.2 878.5L1012.4 878.5L1013.5 877.4L1014.7 878.5L1015.9 881.6L1017.1 879.5L1018.3 879.9L1019.5 881.7L1020.7 880.7L1021.9 877.0L1023.1 877.9L1024.3 874.9L1025.5 872.6L1026.7 871.1L1027.9 876.3L1029.1 873.9L1030.3 873.8L1031.5 868.6L1032.7 874.2L1033.9 872.0L1035.1 873.7L1036.3 874.7L1037.5 873.5L1038.7 875.8L1039.9 870.9L1041.1 870.2L1042.3 869.1L1043.4 868.8L1044.6 872.8L1045.8 872.0L1047.0 874.1L1048.2 874.0L1049.4 878.9L1050.6 878.1L1051.8 877.4L1053.0 880.6L1054.2 881.4L1055.4 872.9L1056.6 874.8L1057.8 868.9L1059.0 864.2L1060.2 872.2L1061.4 874.2L1062.6 874.5L1063.8 870.2L1065.0 871.4L1066.2 871.9L1067.4 869.7L1068.6 867.1L1069.8 871.4L1071.0 874.7L1072.2 879.8L1073.3 878.9L1074.5 877.5L1075.7 872.0L1076.9 873.9L1078.1 878.8L1079.3 880.9L1080.3 875.9" stroke="#ffdf00"/>
<path d="M968.7 877.4L969.7 846.7L970.9 848.1L972.1 851.6L973.3 864.6L974.5 870.9L975.7 859.0L976.9 855.1L978.1 851.9L979.3 856.9L980.5 862.9L981.7 859.8L982.9 843.6L984.0 835.7L985.2 842.4L986.4 851.6L987.6 866.6L988.8 871.7L990.0 875.1L991.2 880.2L992.4 879.9L993.6 875.0L994.8 874.7L996.0 875.0L997.2 873.0L998.4 876.7L999.6 874.6L1000.8 875.6L1002.0 875.6L1003.2 872.6L1004.4 876.2L1005.6 878.8L1006.8 879.7L1008.0 876.4L1009.2 874.5L1010.4 869.5L1011.6 869.4L1012.8 869.5L1013.9 873.1L1015.1 872.7L1016.3 877.1L1017.5 877.0L1018.7 881.9L1019.9 882.8L1021.1 878.1L1022.3 877.5L1023.5 877.7L1024.7 880.4L1025.9 878.0L1027.1 881.2L1028.3 882.3L1029.5 881.0L1030.7 876.7L1031.9 877.4L1033.1 881.2L1034.3 883.0L1035.5 881.3L1036.7 881.7L1037.9 882.3L1039.1 883.3L1040.3 880.7L1041.5 880.2L1042.7 881.1L1043.8 879.9L1045.0 881.9L1046.2 880.2L1047.4 878.7L1048.6 881.3L1049.8 883.5L1051.0 881.7L1052.2 884.0L1053.4 884.7L1054.6 881.9L1055.8 884.9L1057.0 882.2L1058.2 881.2L1059.4 880.8L1060.6 883.8L1061.8 883.5L1063.0 884.9L1064.2 884.1L1065.4 883.1L1066.6 881.3L1067.8 879.9L1069.0 879.2L1070.2 880.5L1071.4 882.4L1072.6 883.9L1073.7 885.4L1074.9 890.1L1076.1 885.3L1077.3 885.0L1078.5 884.5L1079.7 885.5L1080.9 886.1L1082.1 886.4L1083.3 882.6L1084.5 881.6L1085.7 882.8L1086.9 883.1L1088.1 885.3L1089.3 886.7L1090.5 885.1L1091.7 884.4L1092.9 883.7L1094.1 884.6L1095.3 884.3L1096.5 880.9L1097.7 878.0L1098.9 880.5L1100.1 882.6L1101.3 882.5L1102.5 884.7L1103.6 881.6L1104.8 881.5L1106.0 883.8L1107.2 885.6L1108.4 884.6L1109.6 886.2L1110.8 882.1L1112.0 875.1L1113.2 863.2L1114.4 855.0L1115.6 853.1L1116.8 865.8L1118.0 877.1L1119.2 879.6L1120.4 883.1L1121.6 883.1L1122.8 884.8L1124.0 881.0L1125.2 882.2L1126.4 884.5L1127.6 882.7L1128.8 883.7L1130.0 884.0L1131.2 883.9L1132.4 886.9L1133.5 883.5L1134.7 884.5L1135.9 883.6L1137.1 883.6L1138.3 883.9L1139.5 884.3L1140.7 885.4L1141.9 885.0L1143.1 885.1L1144.3 886.8L1145.5 886.4L1146.7 882.3L1147.9 883.2L1149.1 880.3L1150.3 882.2L1151.5 883.3L1152.7 884.1L1153.9 885.1L1155.1 884.1L1156.3 884.8L1157.5 882.3L1158.7 886.3L1159.9 885.7L1161.1 884.9L1162.3 884.9L1163.4 883.0L1164.6 885.1L1165.8 884.7L1167.0 883.6L1168.2 883.9L1169.4 884.7L1170.6 885.9L1171.8 882.2L1173.0 879.3L1174.2 879.9L1175.4 881.7L1176.6 882.2L1177.8 884.4L1179.0 883.1L1180.2 884.9L1181.4 884.0L1182.6 883.8L1183.8 887.9L1185.0 884.6L1186.2 882.8L1187.4 879.6L1188.6 879.2L1189.8 879.9L1191.0 878.1L1192.2 879.8L1193.3 882.0L1194.5 882.3L1195.7 881.9L1196.9 880.5L1198.1 885.0L1199.3 882.3L1200.5 883.9L1201.7 880.0L1202.9 881.0L1204.1 882.3L1205.3 881.7L1206.5 878.3L1207.7 878.9L1208.9 879.9L1210.1 880.6L1211.3 881.7L1212.5 875.8L1213.7 877.2L1214.9 878.1L1216.1 879.6L1217.3 879.9L1218.5 879.7L1219.7 878.9L1220.9 879.5L1222.1 875.2L1223.2 878.7L1224.4 879.9L1225.6 880.3L1226.8 881.5L1228.0 880.9L1229.2 881.8L1230.4 883.5L1231.6 883.5L1232.8 882.1L1234.0 881.2L1235.2 877.6L1236.4 874.1L1237.6 873.8L1238.8 869.1L1240.0 861.3L1241.2 858.1L1242.4 869.1L1243.6 869.3L1244.8 873.6L1246.0 879.9L1247.2 881.2L1248.4 880.7L1249.6 878.9L1250.8 879.3L1252.0 881.0L1253.1 878.2L1254.3 874.0L1255.5 878.2L1256.7 875.7L1257.9 877.8L1259.1 877.9L1260.3 880.2L1261.5 879.1L1262.7 881.9L1263.9 881.3L1265.1 882.2L1266.3 878.6L1267.5 873.7L1268.7 872.4L1269.9 866.3L1271.1 860.4L1272.3 863.1L1273.5 861.5L1274.7 867.3L1275.9 872.4L1277.1 878.4L1278.3 878.2L1279.5 878.7L1280.7 875.6L1281.9 877.2L1283.0 880.1L1284.2 878.4L1285.4 877.4L1286.6 872.5L1287.8 868.0L1289.0 871.9L1290.2 870.2L1291.4 867.3L1292.6 870.0L1293.8 869.7L1295.0 870.7L1296.2 868.4L1297.4 867.4L1298.6 858.9L1299.8 861.5L1301.0 865.7L1302.2 866.7L1303.4 877.8L1304.6 870.5L1305.8 872.9L1306.8 877.4" stroke="#ffbf00"/>
<path d="M1399.9 876.5L1400.9 873.5L1402.1 874.1L1403.3 877.1L1404.5 873.8L1405.7 872.9L1406.9 871.3L1408.1 876.5L1409.3 872.5L1410.5 870.5L1411.7 871.0L1412.9 870.6L1414.1 868.8L1415.3 868.5L1416.4 869.5L1417.6 865.3L1418.8 868.8L1420.0 871.3L1421.2 879.4L1422.4 878.1L1423.6 871.8L1424.8 868.7L1426.0 862.9L1427.2 863.4L1428.4 867.1L1429.6 873.2L1430.8 875.2L1432.0 880.9L1433.2 877.0L1434.4 878.7L1435.6 881.1L1436.8 882.0L1438.0 885.3L1439.2 885.4L1440.4 883.2L1441.6 883.2L1442.8 886.0L1444.0 881.8L1445.2 882.6L1446.3 879.7L1447.5 880.0L1448.7 882.1L1449.9 880.5L1451.1 880.1L1452.3 881.6L1453.5 880.4L1454.7 883.2L1455.9 883.7L1457.1 883.4L1458.3 879.5L1459.5 880.5L1460.7 881.3L1461.9 885.0L1463.1 881.9L1464.3 883.4L1465.5 882.5L1466.7 883.0L1467.9 884.3L1469.1 884.3L1470.3 883.1L1471.5 881.5L1472.7 883.3L1473.9 884.0L1475.1 885.6L1476.2 884.9L1477.4 886.2L1478.6 886.6L1479.8 883.7L1481.0 887.1L1482.2 887.9L1483.4 883.9L1484.6 884.0L1485.8 884.4L1487.0 884.0L1488.2 884.9L1489.4 884.7L1490.6 884.4L1491.8 884.9L1493.0 883.8L1494.2 884.9L1495.4 883.3L1496.6 885.0L1497.8 884.6L1499.0 883.0L1500.2 888.3L1501.4 887.0L1502.6 887.3L1503.8 884.3L1505.0 882.8L1506.1 881.7L1507.3 883.8L1508.5 883.6L1509.7 885.5L1510.9 885.5L1512.1 884.8L1513.3 883.8L1514.5 884.7L1515.7 885.0L1516.9 884.2L1518.1 885.5L1519.3 884.2L1520.5 883.7L1521.7 884.5L1522.9 885.2L1524.1 885.4L1525.3 885.7L1526.5 886.8L1527.7 884.1L1528.9 885.2L1530.1 885.5L1531.3 885.4L1532.5 886.1L1533.7 884.9L1534.9 884.0L1536.0 882.6L1537.2 883.3L1538.4 884.2L1539.6 881.3L1540.8 883.6L1542.0 888.5L1543.2 887.8L1544.4 888.9L1545.6 889.3L1546.8 887.6L1548.0 884.7L1549.2 885.2L1550.4 883.5L1551.6 885.7L1552.8 885.2L1554.0 884.5L1555.2 885.5L1556.4 881.8L1557.6 881.9L1558.8 883.7L1560.0 883.4L1561.2 883.5L1562.4 883.5L1563.6 882.9L1564.8 884.1L1565.9 882.8L1567.1 881.8L1568.3 882.7L1569.5 884.0L1570.7 884.1L1571.9 886.6L1573.1 886.7L1574.3 882.1L1575.5 881.3L1576.7 881.2L1577.9 878.5L1579.1 881.5L1580.3 882.6L1581.5 882.7L1582.7 883.0L1583.9 881.7L1585.1 881.4L1586.3 886.6L1587.5 884.7L1588.7 884.3L1589.9 882.8L1591.1 881.5L1592.3 877.7L1593.5 879.3L1594.7 882.1L1595.8 881.2L1597.0 883.5L1598.2 881.6L1599.4 881.7L1600.6 885.2L1601.8 885.2L1603.0 884.0L1604.2 882.6L1605.4 883.3L1606.6 884.0L1607.8 881.3L1609.0 878.9L1610.2 882.5L1611.4 883.3L1612.6 880.4L1613.8 884.3L1615.0 883.6L1616.2 883.6L1617.4 883.4L1618.6 887.5L1619.8 882.9L1621.0 884.8L1622.2 885.6L1623.4 885.7L1624.6 882.0L1625.7 882.2L1626.9 882.8L1628.1 883.1L1629.3 885.0L1630.5 882.1L1631.7 881.7L1632.9 880.5L1634.1 882.2L1635.3 877.0L1636.5 877.5L1637.7 879.9L1638.9 878.4L1640.1 877.3L1641.3 880.6L1642.5 878.2L1643.7 878.6L1644.9 874.8L1646.1 871.1L1647.3 867.5L1648.5 868.6L1649.7 863.2L1650.9 861.1L1652.1 861.9L1653.3 868.1L1654.5 873.4L1655.6 875.0L1656.8 878.7L1658.0 883.8L1659.2 882.4L1660.4 877.9L1661.6 878.1L1662.8 880.9L1664.0 878.1L1665.2 877.0L1666.4 877.9L1667.6 876.5L1668.8 877.7L1670.0 877.1L1671.2 877.7L1672.4 880.4L1673.6 874.4L1674.8 879.3L1676.0 879.3L1677.2 876.8L1678.4 875.0L1679.6 872.7L1680.8 869.9L1682.0 866.8L1683.2 867.8L1684.4 870.3L1685.5 872.5L1686.7 875.5L1687.9 876.7L1689.1 878.1L1690.3 876.7L1691.5 876.3L1692.7 876.0L1693.9 875.0L1694.9 876.5" stroke="#ff9f00"/>
<path d="M907.1 876.5L908.1 876.5L909.3 870.6L910.5 874.2L911.7 875.3L912.9 885.6L914.1 877.6L915.3 879.5L916.5 881.2L917.7 878.3L918.9 878.4L920.1 877.3L921.3 877.6L922.4 872.8L923.6 874.0L924.8 871.2L926.0 873.6L927.2 869.5L928.4 870.9L929.6 870.3L930.8 866.3L932.0 861.8L933.2 860.3L934.4 858.5L935.6 858.4L936.8 863.0L938.0 863.9L939.2 866.9L940.4 871.2L941.6 875.8L942.8 881.4L944.0 878.5L945.2 876.8L946.4 877.9L947.6 875.3L948.8 874.2L950.0 875.1L951.2 876.3L952.3 875.6L953.5 879.0L954.7 879.5L955.9 875.9L957.1 878.9L958.3 878.3L959.5 879.7L960.7 874.2L961.9 875.3L963.1 879.7L964.3 879.4L965.5 877.2L966.7 878.1L967.9 881.1L969.1 881.6L970.3 880.6L971.5 879.2L972.7 878.7L973.9 881.0L975.1 879.6L976.3 882.8L977.5 881.4L978.7 884.1L979.9 879.7L981.1 883.0L982.2 883.0L983.4 884.2L984.6 882.1L985.8 881.0L987.0 882.8L988.2 887.2L989.4 888.1L990.6 887.6L991.8 887.2L993.0 883.8L994.2 882.1L995.4 883.8L996.6 885.2L997.8 884.7L999.0 889.9L1000.2 890.1L1001.4 886.3L1002.6 883.4L1003.8 884.2L1005.0 884.8L1006.2 882.7L1007.4 884.8L1008.6 884.4L1009.8 886.9L1011.0 883.0L1012.1 882.8L1013.3 882.9L1014.5 883.8L1015.7 883.7L1016.9 884.4L1018.1 884.6L1019.3 886.8L1020.5 885.9L1021.7 884.0L1022.9 887.3L1024.1 888.5L1025.3 885.0L1026.5 882.7L1027.7 882.6L1028.9 883.9L1030.1 886.4L1031.3 887.2L1032.5 887.8L1033.7 885.3L1034.9 880.9L1036.1 883.9L1037.3 882.3L1038.5 883.7L1039.7 885.9L1040.9 884.4L1042.0 885.8L1043.2 887.7L1044.4 886.1L1045.6 881.2L1046.8 880.3L1048.0 882.3L1049.2 884.2L1050.4 883.5L1051.6 885.3L1052.8 885.4L1054.0 881.1L1055.2 882.1L1056.4 879.7L1057.6 880.2L1058.8 883.1L1060.0 881.2L1061.2 882.0L1062.4 884.0L1063.6 885.1L1064.8 890.8L1066.0 889.3L1067.2 889.5L1068.4 890.8L1069.6 890.1L1070.8 889.6L1071.9 888.8L1073.1 886.8L1074.3 887.8L1075.5 886.3L1076.7 889.5L1077.9 888.4L1079.1 885.4L1080.3 888.0L1081.5 885.3L1082.7 886.0L1083.9 885.3L1085.1 886.3L1086.3 887.2L1087.5 886.5L1088.7 887.0L1089.9 887.9L1091.1 889.6L1092.3 886.6L1093.5 885.0L1094.7 884.9L1095.9 884.9L1097.1 884.1L1098.3 880.7L1099.5 881.1L1100.7 877.6L1101.8 879.6L1103.0 879.5L1104.2 882.3L1105.4 878.7L1106.6 877.7L1107.8 875.6L1109.0 874.7L1110.2 869.1L1111.4 868.2L1112.6 870.9L1113.8 876.7L1115.0 878.3L1116.2 877.6L1117.4 878.7L1118.6 883.5L1119.8 885.5L1121.0 887.3L1122.2 881.3L1123.4 883.1L1124.6 885.4L1125.8 885.8L1127.0 884.2L1128.2 881.2L1129.4 883.0L1130.6 878.0L1131.7 875.8L1132.9 874.2L1134.1 875.2L1135.3 877.5L1136.5 878.2L1137.7 881.4L1138.9 880.4L1140.1 876.0L1141.3 876.4L1142.5 876.6L1143.7 877.2L1144.9 876.7L1146.1 881.2L1147.3 872.7L1148.5 877.1L1149.7 874.4L1150.9 867.7L1152.1 872.9L1153.3 878.6L1154.5 880.3L1155.7 877.8L1156.9 879.2L1158.1 880.7L1159.3 879.7L1160.5 885.5L1161.6 884.6L1162.8 882.4L1164.0 883.5L1165.2 882.9L1166.2 876.5" stroke="#ff8000"/>
<path d="M548.0 875.6L549.0 870.7L550.2 867.6L551.4 866.7L552.6 862.0L553.8 857.0L555.0 865.5L556.2 870.9L557.4 872.1L558.6 871.8L559.8 873.9L561.0 880.0L562.2 873.0L563.4 871.4L564.5 865.2L565.7 862.2L566.9 862.6L568.1 867.4L569.3 871.0L570.5 863.6L571.7 861.3L572.9 856.9L574.1 856.0L575.3 859.9L576.5 864.2L577.7 865.4L578.9 859.3L580.1 857.4L581.3 852.0L582.5 851.4L583.7 858.4L584.9 869.9L586.1 875.8L587.3 877.4L588.5 879.2L589.7 883.7L590.9 882.1L592.1 884.1L593.3 885.3L594.4 883.1L595.6 885.7L596.8 883.2L598.0 885.3L599.2 881.3L600.4 885.3L601.6 881.9L602.8 880.1L604.0 876.6L605.2 879.3L606.4 881.0L607.6 885.5L608.8 885.6L610.0 880.9L611.2 885.2L612.4 882.0L613.6 882.1L614.8 881.3L616.0 876.8L617.2 863.8L618.4 847.2L619.6 839.1L620.8 851.1L622.0 870.5L623.2 881.1L624.3 884.7L625.5 887.0L626.7 885.4L627.9 886.1L629.1 886.2L630.3 884.0L631.5 880.0L632.7 878.8L633.9 877.4L635.1 881.1L636.3 879.5L637.5 882.3L638.7 874.7L639.9 871.0L641.1 862.0L642.3 856.4L643.5 850.3L644.7 856.8L645.9 866.0L647.1 868.6L648.3 874.1L649.5 879.1L650.7 880.3L651.9 879.7L653.1 880.6L654.2 878.5L655.4 877.7L656.6 874.5L657.8 870.8L659.0 875.2L660.2 879.0L661.4 878.8L662.6 884.4L663.8 879.0L665.0 877.6L666.2 876.1L667.4 870.9L668.6 878.0L669.8 877.9L671.0 879.3L672.2 879.7L673.4 875.7L674.6 876.8L675.6 875.6" stroke="#ff6000"/>
<path d="M1300.5 876.5L1301.5 866.8L1302.7 868.1L1303.9 870.8L1305.1 859.9L1306.3 856.2L1307.5 849.8L1308.7 853.9L1309.9 854.6L1311.1 862.1L1312.3 869.8L1313.5 870.8L1314.7 870.3L1315.8 874.5L1317.0 877.2L1318.2 875.4L1319.4 877.6L1320.6 873.4L1321.8 874.5L1323.0 873.7L1324.2 877.7L1325.4 874.2L1326.6 870.3L1327.8 875.8L1329.0 873.7L1330.2 877.0L1331.4 882.8L1332.6 881.8L1333.8 878.7L1335.0 878.6L1336.2 874.6L1337.4 866.6L1338.6 858.5L1339.8 855.4L1341.0 858.2L1342.2 858.9L1343.4 864.0L1344.6 859.7L1345.7 867.0L1346.9 871.6L1348.1 873.5L1349.3 880.6L1350.5 875.2L1351.7 875.4L1352.9 875.8L1354.1 877.0L1355.3 880.1L1356.5 880.9L1357.7 875.3L1358.9 875.7L1360.1 878.6L1361.3 879.0L1362.5 876.8L1363.7 874.9L1364.9 877.6L1366.1 878.4L1367.3 878.4L1368.5 880.0L1369.7 874.7L1370.9 870.8L1372.1 872.0L1373.3 873.7L1374.5 876.5L1375.6 871.6L1376.8 875.4L1378.0 874.7L1379.2 870.6L1380.4 875.3L1381.6 878.6L1382.8 879.7L1384.0 878.2L1385.2 876.8L1386.4 882.1L1387.6 880.3L1388.8 881.4L1390.0 878.9L1391.2 877.3L1392.4 880.5L1393.6 878.3L1394.8 873.8L1396.0 878.4L1397.2 881.8L1398.4 880.1L1399.6 879.1L1400.8 879.3L1402.0 878.3L1403.2 881.7L1404.4 883.1L1405.5 884.2L1406.7 881.1L1407.9 877.5L1409.1 878.2L1410.3 879.3L1411.5 875.1L1412.7 873.9L1413.9 876.2L1415.1 878.1L1416.3 875.8L1417.5 878.1L1418.7 879.0L1419.9 877.3L1421.1 878.6L1422.3 879.2L1423.5 879.8L1424.7 880.4L1425.9 880.3L1427.1 881.4L1428.3 878.1L1429.5 880.1L1430.7 882.0L1431.9 884.2L1433.1 884.2L1434.3 881.9L1435.4 879.6L1436.6 880.9L1437.8 882.1L1439.0 884.2L1440.2 881.3L1441.4 882.0L1442.6 875.2L1443.8 878.8L1445.0 878.5L1446.2 882.4L1447.4 880.1L1448.6 883.5L1449.8 883.6L1451.0 882.0L1452.2 880.4L1453.4 881.0L1454.6 878.9L1455.8 880.3L1457.0 882.0L1458.2 883.1L1459.4 881.4L1460.6 879.6L1461.8 882.3L1463.0 881.0L1464.2 880.8L1465.3 881.7L1466.5 878.8L1467.7 878.7L1468.9 883.2L1470.1 883.0L1471.3 884.4L1472.5 882.9L1473.7 880.4L1474.9 880.9L1476.1 883.8L1477.3 885.9L1478.5 882.4L1479.7 882.7L1480.9 883.7L1482.1 879.8L1483.3 879.8L1484.5 881.2L1485.7 880.5L1486.9 876.4L1488.1 871.8L1489.3 870.8L1490.5 874.1L1491.7 875.4L1492.9 880.9L1494.1 883.9L1495.2 881.8L1496.4 882.2L1497.6 877.7L1498.8 879.1L1500.0 876.0L1501.2 876.5L1502.4 872.3L1503.6 874.6L1504.8 878.5L1506.0 880.7L1507.2 883.0L1508.4 882.1L1509.6 881.7L1510.8 884.6L1512.0 884.0L1513.2 883.5L1514.4 882.3L1515.6 878.7L1516.8 876.9L1518.0 879.1L1519.2 880.3L1520.4 880.0L1521.6 877.5L1522.8 878.2L1524.0 878.1L1525.1 882.2L1526.3 879.3L1527.5 876.8L1528.7 880.0L1529.9 879.5L1531.1 875.9L1532.3 865.4L1533.5 860.0L1534.7 858.7L1535.9 866.0L1537.1 871.2L1538.3 874.3L1539.5 879.5L1540.7 877.4L1541.9 877.9L1543.1 876.8L1544.3 868.3L1545.5 866.9L1546.7 860.7L1547.9 861.5L1549.1 859.2L1550.3 860.8L1551.5 869.6L1552.7 873.5L1553.9 873.0L1555.0 875.3L1556.2 874.4L1557.4 874.0L1558.6 866.8L1559.8 862.7L1561.0 859.5L1562.2 859.0L1563.4 857.3L1564.6 856.2L1565.8 858.5L1567.0 857.5L1568.2 858.6L1569.4 859.4L1570.6 866.3L1571.8 873.6L1573.0 871.0L1574.2 866.0L1575.4 869.5L1576.6 865.6L1577.8 865.4L1579.0 857.8L1580.2 858.2L1581.4 863.2L1582.6 864.9L1583.8 869.1L1584.9 862.9L1586.1 867.5L1587.3 867.8L1588.5 867.6L1589.7 872.1L1590.9 871.3L1592.1 873.6L1593.3 872.9L1594.5 874.2L1595.7 870.6L1596.9 868.3L1598.1 868.4L1599.3 866.5L1600.5 869.5L1601.7 869.1L1602.9 866.9L1604.1 869.6L1605.3 858.5L1606.5 844.6L1607.7 831.0L1608.9 844.6L1610.1 864.1L1611.3 868.5L1612.5 848.3L1613.7 835.4L1614.7 876.5" stroke="#ff4000"/>
<path d="M1511.2 877.4L1512.2 868.5L1513.4 868.8L1514.6 875.9L1515.8 877.7L1517.0 878.7L1518.2 882.0L1519.4 874.6L1520.6 881.6L1521.8 884.0L1523.0 880.0L1524.2 878.0L1525.4 882.5L1526.5 883.7L1527.7 887.6L1528.9 887.2L1530.1 877.5L1531.3 874.3L1532.5 873.0L1533.7 863.7L1534.9 851.5L1536.1 852.1L1537.3 849.9L1538.5 851.2L1539.7 852.3L1540.9 859.7L1542.1 862.8L1543.3 873.4L1544.5 873.9L1545.7 876.8L1546.9 882.4L1548.1 877.6L1549.3 877.5L1550.5 876.5L1551.7 875.5L1552.9 872.8L1554.1 873.9L1555.3 873.3L1556.4 874.8L1557.6 876.1L1558.8 875.8L1560.0 881.0L1561.2 880.5L1562.4 881.2L1563.6 878.3L1564.8 875.9L1566.0 876.7L1567.2 876.1L1568.4 873.1L1569.6 879.4L1570.8 877.2L1572.0 879.9L1573.2 874.6L1574.4 878.6L1575.6 877.9L1576.8 874.5L1578.0 876.0L1579.2 877.6L1580.4 875.4L1581.6 876.3L1582.8 878.7L1584.0 879.7L1585.2 875.9L1586.3 874.6L1587.5 877.5L1588.7 880.3L1589.9 882.7L1591.1 881.7L1592.3 884.4L1593.5 882.8L1594.7 881.0L1595.9 880.9L1597.1 882.8L1598.3 881.4L1599.5 883.3L1600.7 882.4L1601.9 878.6L1603.1 875.1L1604.3 873.7L1605.5 880.9L1606.7 881.7L1607.9 880.4L1609.1 877.5L1610.3 881.4L1611.5 879.3L1612.7 881.8L1613.9 884.8L1615.1 886.1L1616.2 885.9L1617.4 883.0L1618.6 880.6L1619.8 878.8L1621.0 879.4L1622.2 880.2L1623.4 878.8L1624.6 881.7L1625.8 879.6L1627.0 880.9L1628.2 882.5L1629.4 883.0L1630.6 878.3L1631.8 879.6L1633.0 878.3L1634.2 878.4L1635.4 876.9L1636.6 872.3L1637.8 871.9L1639.0 873.8L1640.2 875.4L1641.4 875.7L1642.6 872.7L1643.8 876.4L1645.0 875.7L1646.1 872.3L1647.3 870.9L1648.5 871.0L1649.7 865.6L1650.9 858.0L1652.1 857.2L1653.3 857.5L1654.5 856.7L1655.7 860.3L1656.9 862.4L1658.1 867.8L1659.3 873.8L1660.5 877.4L1661.7 876.0L1662.9 880.4L1664.1 880.5L1665.3 885.3L1666.5 884.3L1667.7 879.6L1668.9 879.9L1670.1 882.4L1671.3 883.0L1672.5 886.1L1673.7 886.2L1674.9 882.2L1676.0 881.9L1677.2 879.3L1678.4 881.8L1679.6 882.2L1680.8 881.4L1682.0 882.3L1683.2 880.4L1684.4 881.6L1685.6 881.2L1686.8 883.2L1688.0 883.7L1689.2 880.0L1690.4 878.1L1691.6 879.0L1692.8 882.0L1694.0 879.6L1695.2 877.6L1696.4 876.8L1697.6 880.4L1698.8 882.0L1700.0 882.9L1701.2 882.8L1702.4 885.2L1703.6 884.3L1704.8 882.3L1705.9 883.0L1707.1 883.9L1708.3 885.7L1709.5 888.4L1710.7 887.2L1711.9 884.2L1713.1 879.9L1714.3 882.1L1715.5 881.7L1716.7 877.3L1717.9 883.2L1719.1 883.5L1720.3 885.0L1721.5 879.9L1722.7 879.5L1723.9 880.5L1725.1 880.0L1726.3 880.3L1727.5 878.4L1728.7 878.4L1729.9 881.0L1731.1 884.9L1732.3 884.4L1733.5 881.7L1734.7 880.6L1735.8 883.3L1737.0 884.5L1738.2 885.9L1739.4 887.3L1740.6 881.0L1741.8 883.6L1743.0 881.7L1744.2 882.3L1745.4 874.8L1746.6 872.5L1747.8 870.9L1749.0 866.7L1750.2 863.6L1751.4 860.4L1752.6 861.9L1753.8 860.8L1755.0 861.5L1756.2 869.5L1757.4 872.7L1758.6 866.7L1759.8 868.7L1761.0 868.3L1762.2 868.1L1763.4 864.9L1764.6 864.2L1765.7 846.7L1766.9 840.4L1768.1 841.8L1769.3 837.3L1770.5 837.9L1771.7 839.4L1772.9 845.2L1774.1 849.8L1775.3 859.5L1776.3 877.4" stroke="#ff2000"/>
<path d="M214.6 874.6L215.6 889.5L216.8 885.7L218.0 885.3L219.2 889.1L220.4 890.0L221.6 887.7L222.7 884.5L223.9 884.2L225.1 881.3L226.3 885.0L227.5 886.8L228.7 885.7L229.9 886.2L231.1 885.6L232.3 885.3L233.5 885.4L234.7 885.8L235.9 886.9L237.1 885.8L238.3 887.4L239.5 884.9L240.7 888.1L241.9 889.6L243.1 888.6L244.3 886.8L245.5 886.5L246.7 888.0L247.9 890.7L249.1 890.0L250.3 886.5L251.5 880.1L252.6 876.2L253.8 873.5L255.0 874.4L256.2 879.2L257.4 881.6L258.6 884.7L259.8 882.3L261.0 884.4L262.2 884.3L263.4 884.4L264.6 883.3L265.8 878.5L267.0 874.3L268.2 866.2L269.4 860.7L270.6 860.2L271.8 865.1L273.0 873.4L274.2 879.2L275.4 882.1L276.6 881.0L277.8 879.9L279.0 880.1L280.2 879.8L281.4 878.7L282.5 880.9L283.7 881.6L284.9 882.6L286.1 882.4L287.3 882.7L288.5 884.1L289.7 882.2L290.9 880.5L292.1 878.9L293.3 877.2L294.5 878.2L295.7 877.0L296.9 879.7L298.1 881.3L299.3 878.8L300.5 877.5L301.7 877.4L302.9 876.3L304.1 873.8L305.3 875.7L306.5 877.8L307.7 876.4L308.9 877.3L310.1 878.8L311.3 881.7L312.4 881.0L313.6 880.8L314.8 880.1L316.0 882.4L317.2 884.4L318.4 884.4L319.6 883.9L320.8 881.7L322.0 883.6L323.2 881.5L324.4 881.7L325.6 879.5L326.8 878.6L328.0 883.6L329.2 885.0L330.4 883.2L331.6 883.2L332.8 880.4L334.0 881.7L335.2 880.0L336.4 879.4L337.6 879.3L338.8 881.8L340.0 881.7L341.2 880.2L342.3 875.8L343.5 879.5L344.7 883.6L345.9 882.0L347.1 877.0L348.3 876.8L349.5 877.2L350.7 878.5L351.9 881.4L353.1 876.1L354.3 877.0L355.5 877.4L356.7 878.1L357.9 881.2L359.1 882.6L360.3 880.9L361.5 880.6L362.7 883.7L363.9 881.4L365.1 880.0L366.3 876.5L367.5 877.7L368.7 880.3L369.9 883.2L371.1 881.4L372.2 878.8L373.4 879.7L374.6 878.5L375.8 882.8L377.0 880.8L378.2 885.0L379.4 883.4L380.6 883.5L381.8 882.7L383.0 880.3L384.2 880.1L385.4 873.1L386.6 866.1L387.8 864.4L389.0 865.4L390.2 866.5L391.4 874.0L392.6 875.6L393.8 876.8L395.0 881.8L396.2 884.2L397.4 886.7L398.6 884.1L399.8 876.2L401.0 871.5L402.1 871.0L403.3 869.1L404.5 867.5L405.7 865.1L406.9 869.7L408.1 872.0L409.3 872.2L410.5 869.2L411.7 870.1L412.9 868.3L414.1 869.4L415.3 863.2L416.5 862.6L417.5 874.6L1786.1 874.6L1787.1 874.9L1788.3 864.9L1789.5 861.7L1790.7 856.3L1791.9 850.7L1793.1 844.7L1794.3 850.6L1795.5 845.5L1796.7 856.2L1797.9 859.8L1799.1 859.1L1800.3 858.3L1801.5 862.6L1802.7 871.1L1803.9 877.1L1805.1 876.9L1806.1 873.6L1937.5 873.6" stroke="#ff0000"/>
<path d="M626.4 877.0L627.4 866.8L628.6 860.2L629.8 852.4L631.0 849.4L632.2 848.2L633.4 840.3L634.6 855.2L635.8 851.4L637.0 851.9L638.2 851.1L639.4 856.4L640.6 855.3L641.7 861.8L642.9 865.3L644.1 867.9L645.3 872.6L646.5 875.0L647.7 873.7L648.9 875.5L650.1 876.8L651.3 883.3L652.5 885.6L653.7 881.5L654.9 876.7L656.1 872.7L657.3 871.2L658.5 867.2L659.7 864.7L660.9 863.4L662.1 858.0L663.3 860.7L664.5 856.2L665.7 861.1L666.9 867.8L668.1 866.5L669.3 870.1L670.5 872.0L671.6 869.1L672.8 872.2L674.0 871.0L675.2 869.6L676.4 864.3L677.6 860.5L678.8 862.8L680.0 869.4L681.2 873.6L682.4 877.7L683.6 879.0L684.8 878.9L686.0 879.0L687.2 880.5L688.4 882.2L689.6 880.4L690.8 881.7L692.0 882.2L693.2 882.5L694.4 880.0L695.6 880.2L696.8 881.1L698.0 880.0L699.2 881.9L700.4 880.0L701.5 880.1L702.7 878.4L703.9 878.9L705.1 879.5L706.3 879.8L707.5 883.1L708.7 886.2L709.9 886.5L711.1 883.3L712.3 881.8L713.5 882.8L714.7 881.5L715.9 885.8L717.1 886.7L718.3 883.3L719.5 883.7L720.7 882.9L721.9 880.7L723.1 880.0L724.3 879.1L725.5 880.4L726.7 881.1L727.9 882.3L729.1 881.1L730.3 880.3L731.4 881.3L732.6 882.7L733.8 881.2L735.0 881.2L736.2 884.0L737.4 883.9L738.6 884.4L739.8 883.6L741.0 880.8L742.2 882.1L743.4 878.9L744.6 880.3L745.8 881.1L747.0 880.5L748.2 879.4L749.4 879.8L750.6 881.8L751.8 878.9L753.0 880.1L754.2 880.3L755.4 879.6L756.6 878.6L757.8 878.9L759.0 879.2L760.2 879.9L761.3 879.5L762.5 879.9L763.7 881.5L764.9 879.1L766.1 881.9L767.3 881.5L768.5 881.9L769.7 879.2L770.9 874.3L772.1 870.0L773.3 866.5L774.5 866.8L775.7 867.5L776.9 867.4L778.1 870.8L779.3 875.1L780.5 875.1L781.7 875.4L782.9 874.3L784.1 873.4L785.3 867.8L786.5 870.4L787.7 871.1L788.9 875.4L790.1 877.7L791.2 879.4L792.4 881.2L793.6 882.1L794.8 881.9L796.0 886.1L797.2 884.7L798.4 886.2L799.6 882.3L800.8 881.9L802.0 881.2L803.2 884.9L804.4 885.7L805.6 884.1L806.8 882.3L808.0 881.0L809.2 880.4L810.4 879.8L811.6 881.9L812.8 877.1L814.0 880.1L815.2 884.1L816.4 880.2L817.6 880.1L818.8 879.8L820.0 879.4L821.1 882.6L822.3 882.0L823.5 881.4L824.7 882.2L825.9 882.2L827.1 881.4L828.3 880.1L829.5 882.3L830.7 881.9L831.9 881.2L833.1 886.4L834.3 883.4L835.5 884.0L836.7 883.2L837.9 887.6L839.1 882.6L840.3 879.1L841.5 880.2L842.7 881.6L843.9 883.8L845.1 882.6L846.3 879.5L847.5 874.1L848.7 871.9L849.9 872.0L851.0 876.2L852.2 876.7L853.4 877.2L854.6 868.0L855.8 861.7L857.0 863.3L858.2 862.3L859.4 867.6L860.6 869.1L861.8 871.3L863.0 874.4L864.2 869.9L865.4 868.1L866.6 879.2L867.8 885.8L869.0 882.6L870.2 876.0L871.4 870.8L872.6 872.3L873.8 871.8L875.0 870.4L876.2 871.2L877.4 877.1L878.6 875.7L879.8 877.3L880.9 879.6L882.1 879.5L883.3 874.2L884.5 878.9L885.7 874.2L886.9 888.1L888.1 886.5L889.3 881.1L890.5 873.9L891.7 878.0L892.7 877.0" stroke="#df0000"/>
<path d="M214.6 877.0L215.6 884.2L216.8 882.5L218.0 875.8L219.2 882.5L220.4 878.7L221.6 877.7L222.7 882.0L223.9 877.0L225.1 880.1L226.3 885.6L227.5 881.5L228.7 874.3L229.9 877.1L231.1 878.5L232.3 871.6L233.5 878.5L234.7 876.0L235.9 878.1L237.1 883.2L238.3 874.0L239.5 873.5L240.7 874.0L241.9 875.0L243.1 876.5L244.3 879.4L245.5 883.3L246.7 880.6L247.9 875.1L249.1 874.0L250.3 878.4L251.5 872.9L252.6 875.6L253.8 877.2L255.0 880.1L256.2 880.8L257.4 874.6L258.6 879.5L259.8 870.3L261.0 858.8L262.2 857.4L263.4 865.3L264.6 868.4L265.8 874.4L267.0 884.6L268.2 884.2L269.4 873.1L270.6 871.1L271.8 876.4L273.0 878.5L274.2 873.0L275.4 872.7L276.6 865.9L277.8 874.2L279.0 872.6L280.2 864.6L281.4 864.0L282.4 877.0L1697.6 877.0L1698.6 866.2L1699.8 865.6L1701.0 862.1L1702.2 860.7L1703.4 861.2L1704.6 869.5L1705.8 865.3L1707.0 869.1L1708.2 868.8L1709.4 862.8L1710.6 860.8L1711.8 860.7L1713.0 858.1L1714.2 865.8L1715.4 868.7L1716.6 869.3L1717.8 866.2L1719.0 876.6L1720.2 872.4L1721.4 870.6L1722.6 874.9L1723.8 872.8L1724.9 874.6L1726.1 870.3L1727.3 869.6L1728.5 866.0L1729.7 869.0L1730.9 872.6L1732.1 869.7L1733.3 873.7L1734.5 874.5L1735.7 874.6L1736.9 873.8L1738.1 875.0L1739.3 882.5L1740.5 879.6L1741.7 878.5L1742.9 870.3L1744.1 871.9L1745.3 871.4L1746.5 869.2L1747.7 873.2L1748.9 875.0L1750.1 875.1L1751.3 876.3L1752.5 877.7L1753.7 878.3L1754.8 876.9L1756.0 878.5L1757.2 876.6L1758.4 872.3L1759.6 874.2L1760.8 876.9L1762.0 880.8L1763.2 881.3L1764.4 879.4L1765.6 879.1L1766.8 878.2L1768.0 880.0L1769.2 879.6L1770.4 886.0L1771.6 883.8L1772.8 879.5L1774.0 884.9L1775.2 879.3L1776.4 880.9L1777.6 878.8L1778.8 871.8L1780.0 868.5L1781.2 873.9L1782.4 877.0L1783.6 876.7L1784.7 879.1L1785.9 884.2L1787.1 885.3L1788.3 883.3L1789.5 886.3L1790.7 884.5L1791.9 882.9L1793.1 879.4L1794.3 875.5L1795.5 875.6L1796.7 874.3L1797.9 877.6L1799.1 880.3L1800.3 882.7L1801.5 880.4L1802.7 882.2L1803.9 881.4L1805.1 882.1L1806.1 877.0L1937.5 877.0" stroke="#bf0000"/>
<path d="M1161.9 876.7L1162.9 871.5L1164.1 871.6L1165.3 878.4L1166.5 878.6L1167.7 869.4L1168.9 876.7L1170.1 867.0L1171.3 869.6L1172.5 867.0L1173.7 859.0L1174.9 862.5L1176.1 869.9L1177.2 871.1L1178.4 869.9L1179.6 869.3L1180.8 877.9L1182.0 864.0L1183.2 868.1L1184.4 861.4L1185.6 861.6L1186.8 860.7L1188.0 862.5L1189.2 869.7L1190.4 868.2L1191.6 866.1L1192.8 859.8L1194.0 849.6L1195.2 851.0L1196.4 848.7L1197.6 851.7L1198.8 860.0L1200.0 870.0L1201.2 869.7L1202.4 868.6L1203.6 870.3L1204.8 874.6L1206.0 872.0L1207.1 875.8L1208.3 874.5L1209.5 873.3L1210.7 872.0L1211.9 876.1L1213.1 880.6L1214.3 875.0L1215.5 870.0L1216.7 873.4L1217.9 881.7L1219.1 885.2L1220.3 881.4L1221.5 882.6L1222.7 878.0L1223.9 880.4L1225.1 881.0L1226.3 878.4L1227.5 876.7L1228.7 874.0L1229.9 872.2L1231.1 875.2L1232.3 876.9L1233.5 876.6L1234.7 877.5L1235.9 875.4L1237.0 876.8L1238.2 877.4L1239.4 884.5L1240.6 886.6L1241.8 872.6L1243.0 867.0L1244.2 863.8L1245.4 867.0L1246.6 865.0L1247.8 870.2L1249.0 873.6L1250.2 878.2L1251.4 879.5L1252.6 878.0L1253.8 876.2L1255.0 875.4L1256.2 878.9L1257.4 880.7L1258.6 881.1L1259.8 876.0L1261.0 876.1L1262.2 878.9L1263.4 879.2L1264.6 879.2L1265.8 880.7L1266.9 885.3L1268.1 881.9L1269.3 882.5L1270.5 883.9L1271.7 885.7L1272.9 882.5L1274.1 880.7L1275.3 884.0L1276.5 886.0L1277.7 876.4L1278.9 870.4L1280.1 869.9L1281.3 873.2L1282.5 871.9L1283.7 867.8L1284.9 871.9L1286.1 875.9L1287.3 878.4L1288.5 877.0L1289.7 876.7L1290.9 876.0L1292.1 873.7L1293.3 875.9L1294.5 872.6L1295.7 872.8L1296.8 877.4L1298.0 873.7L1299.2 878.3L1300.4 875.5L1301.6 877.5L1302.8 876.1L1304.0 873.3L1305.2 874.6L1306.4 873.9L1307.6 875.6L1308.8 877.3L1310.0 872.5L1311.2 875.9L1312.4 876.5L1313.6 874.0L1314.8 871.8L1316.0 870.4L1317.2 869.1L1318.4 869.2L1319.6 876.2L1320.8 876.5L1322.0 880.0L1323.2 878.4L1324.4 876.1L1325.6 872.2L1326.7 869.2L1327.9 868.5L1329.1 868.1L1330.3 865.4L1331.5 865.4L1332.7 868.4L1333.9 868.8L1335.1 872.4L1336.3 877.8L1337.5 874.1L1338.7 875.0L1339.9 880.3L1341.1 881.1L1342.3 881.9L1343.5 884.5L1344.7 884.0L1345.9 875.6L1347.1 882.4L1348.3 884.0L1349.5 880.8L1350.7 880.6L1351.9 882.6L1353.1 882.0L1354.3 884.4L1355.5 879.4L1356.6 879.1L1357.8 882.5L1359.0 884.1L1360.2 879.9L1361.4 883.6L1362.6 885.9L1363.8 878.9L1365.0 880.0L1366.2 881.8L1367.4 886.5L1368.6 882.7L1369.8 878.8L1371.0 882.8L1372.2 878.6L1373.4 885.5L1374.6 880.1L1375.8 877.6L1377.0 881.1L1378.2 884.4L1379.4 883.9L1380.6 883.4L1381.8 882.6L1383.0 875.6L1384.2 874.5L1385.4 873.1L1386.5 876.9L1387.7 878.4L1388.9 879.2L1390.1 882.3L1391.3 880.2L1392.5 880.7L1393.7 883.2L1394.9 885.3L1396.1 888.8L1397.3 883.7L1398.5 876.6L1399.7 877.6L1400.9 881.5L1402.1 883.6L1403.3 884.5L1404.5 879.9L1405.7 879.5L1406.9 880.3L1408.1 882.7L1409.3 884.5L1410.5 880.9L1411.7 884.4L1412.9 887.1L1414.1 886.2L1415.3 884.9L1416.4 884.7L1417.6 885.5L1418.8 884.6L1420.0 884.3L1421.2 884.4L1422.4 880.1L1423.6 879.7L1424.8 878.6L1426.0 883.2L1427.2 881.9L1428.4 889.1L1429.6 883.9L1430.8 881.1L1432.0 882.0L1433.2 882.1L1434.4 884.0L1435.6 886.0L1436.8 878.3L1438.0 881.1L1439.2 883.1L1440.4 877.1L1441.6 875.7L1442.8 877.9L1444.0 882.4L1445.2 882.3L1446.3 877.5L1447.5 879.4L1448.7 878.9L1449.9 876.2L1451.1 878.8L1452.3 883.0L1453.5 881.6L1454.7 879.2L1455.9 873.1L1457.1 871.0L1458.3 875.5L1459.5 871.2L1460.7 873.5L1461.9 881.3L1463.1 887.5L1464.3 880.6L1465.5 879.5L1466.7 877.6L1467.9 875.5L1469.1 879.3L1470.3 877.6L1471.5 875.5L1472.7 873.0L1473.9 870.5L1475.1 875.6L1476.2 873.7L1477.4 879.5L1478.6 876.9L1479.8 881.0L1481.0 880.0L1482.2 879.6L1483.4 881.6L1484.6 875.4L1485.8 874.8L1487.0 880.5L1488.2 879.0L1489.4 886.3L1490.6 880.3L1491.8 868.5L1493.0 876.9L1494.2 871.2L1495.4 874.4L1496.6 869.3L1497.8 867.2L1499.0 870.1L1500.2 872.2L1501.4 870.0L1502.6 870.8L1503.8 873.6L1505.0 874.7L1506.1 870.0L1507.3 866.6L1508.5 868.7L1509.7 862.0L1510.9 866.6L1512.1 869.7L1513.3 869.0L1514.5 874.1L1515.7 881.7L1516.9 873.2L1518.1 866.9L1519.3 871.7L1520.5 870.4L1521.7 872.6L1522.9 873.8L1524.1 869.9L1525.3 860.8L1526.5 852.1L1527.7 849.3L1528.9 859.5L1530.1 864.4L1531.1 876.7" stroke="#9f0000"/>
<path d="M1209.5 876.6L1210.5 862.6L1211.7 848.6L1212.9 862.3L1214.1 866.0L1215.3 872.7L1216.5 871.9L1217.7 879.8L1218.9 881.1L1220.1 872.6L1221.3 858.2L1222.5 860.9L1223.7 863.3L1224.8 871.3L1226.0 869.5L1227.2 867.4L1228.4 882.0L1229.6 876.8L1230.8 874.1L1232.0 870.1L1233.2 857.7L1234.4 855.0L1235.6 860.4L1236.8 858.7L1238.0 864.5L1239.2 863.7L1240.4 864.4L1241.6 870.5L1242.8 875.0L1244.0 875.6L1245.2 873.8L1246.4 873.5L1247.6 874.8L1248.8 878.0L1250.0 875.5L1251.2 879.2L1252.4 872.3L1253.6 874.5L1254.7 875.0L1255.9 880.0L1257.1 880.1L1258.3 881.4L1259.5 878.5L1260.7 880.1L1261.9 877.1L1263.1 877.5L1264.3 876.4L1265.5 878.7L1266.7 883.5L1267.9 878.7L1269.1 876.7L1270.3 877.1L1271.5 880.4L1272.7 880.1L1273.9 875.2L1275.1 880.0L1276.3 882.9L1277.5 886.1L1278.7 882.0L1279.9 879.3L1281.1 878.9L1282.3 874.3L1283.5 873.8L1284.6 875.5L1285.8 882.1L1287.0 885.9L1288.2 883.5L1289.4 885.9L1290.6 878.9L1291.8 877.6L1293.0 884.1L1294.2 885.1L1295.4 877.2L1296.6 878.0L1297.8 874.8L1299.0 880.7L1300.2 880.7L1301.4 879.4L1302.6 879.3L1303.8 884.2L1305.0 883.4L1306.2 884.8L1307.4 887.8L1308.6 884.7L1309.8 883.9L1311.0 878.0L1312.2 883.0L1313.4 881.3L1314.5 877.3L1315.7 880.3L1316.9 881.8L1318.1 876.6L1319.3 878.6L1320.5 877.0L1321.7 881.6L1322.9 880.4L1324.1 881.8L1325.3 882.6L1326.5 886.6L1327.7 884.4L1328.9 880.7L1330.1 879.5L1331.3 878.5L1332.5 878.9L1333.7 877.6L1334.9 877.6L1336.1 879.3L1337.3 878.0L1338.5 880.4L1339.7 878.7L1340.9 881.4L1342.1 887.5L1343.3 887.4L1344.4 882.3L1345.6 881.8L1346.8 883.4L1348.0 882.0L1349.2 882.6L1350.4 878.7L1351.6 873.0L1352.8 875.1L1354.0 877.7L1355.2 876.2L1356.4 879.7L1357.6 883.1L1358.8 885.0L1360.0 883.7L1361.2 875.7L1362.4 878.6L1363.6 877.2L1364.8 879.6L1366.0 875.0L1367.2 878.1L1368.4 880.9L1369.6 878.5L1370.8 884.2L1372.0 890.4L1373.2 882.6L1374.3 878.0L1375.5 880.6L1376.7 881.2L1377.9 882.6L1379.1 881.6L1380.3 879.5L1381.5 874.4L1382.7 871.2L1383.9 874.4L1385.1 873.9L1386.3 871.4L1387.5 875.6L1388.7 876.5L1389.9 874.3L1391.1 881.2L1392.3 875.6L1393.5 880.8L1394.7 881.7L1395.9 883.0L1397.1 884.3L1398.3 880.0L1399.5 876.5L1400.7 881.1L1401.9 881.4L1403.1 882.5L1404.2 882.5L1405.4 878.5L1406.6 882.1L1407.8 874.5L1409.0 875.9L1410.2 875.9L1411.4 874.7L1412.6 879.5L1413.8 876.5L1415.0 877.7L1416.2 873.9L1417.4 876.9L1418.6 874.1L1419.8 885.1L1421.0 876.0L1422.2 874.4L1423.4 880.5L1424.6 882.7L1425.8 883.8L1427.0 881.3L1428.2 878.1L1429.4 878.2L1430.6 873.8L1431.8 879.5L1433.0 878.9L1434.1 875.2L1435.3 872.7L1436.5 884.1L1437.7 879.7L1438.9 877.0L1440.1 870.7L1441.3 875.0L1442.5 874.3L1443.7 876.2L1444.9 886.7L1446.1 878.3L1447.3 870.4L1448.5 871.1L1449.7 861.3L1450.9 852.5L1452.1 852.6L1453.3 854.3L1454.5 859.5L1455.7 865.9L1456.9 864.2L1458.1 875.4L1459.3 872.1L1460.5 862.2L1461.7 855.6L1462.9 850.8L1464.0 867.7L1465.2 871.9L1466.4 871.8L1467.6 875.7L1468.8 875.5L1470.0 878.1L1471.0 876.6" stroke="#800000"/>
</g>
<text x="204.3" y="396.4" text-anchor="end" font-size="29.5" fill="#262626" font-family="Liberation Sans, sans-serif" font-weight="bold">0</text>
<text x="204.3" y="269.4" text-anchor="end" font-size="29.5" fill="#262626" font-family="Liberation Sans, sans-serif" font-weight="bold">10</text>
<text x="204.3" y="141.4" text-anchor="end" font-size="29.5" fill="#262626" font-family="Liberation Sans, sans-serif" font-weight="bold">20</text>
<text x="204.3" y="620.1" text-anchor="end" font-size="29.5" fill="#262626" font-family="Liberation Sans, sans-serif" font-weight="bold">-4</text>
<text x="204.3" y="573.5" text-anchor="end" font-size="29.5" fill="#262626" font-family="Liberation Sans, sans-serif" font-weight="bold">-2</text>
<text x="204.3" y="526.9" text-anchor="end" font-size="29.5" fill="#262626" font-family="Liberation Sans, sans-serif" font-weight="bold">0</text>
<text x="204.3" y="480.3" text-anchor="end" font-size="29.5" fill="#262626" font-family="Liberation Sans, sans-serif" font-weight="bold">2</text>
<text x="204.3" y="433.7" text-anchor="end" font-size="29.5" fill="#262626" font-family="Liberation Sans, sans-serif" font-weight="bold">4</text>
<text x="204.3" y="911.4" text-anchor="end" font-size="29.5" fill="#262626" font-family="Liberation Sans, sans-serif" font-weight="bold">0</text>
<text x="204.3" y="885.9" text-anchor="end" font-size="29.5" fill="#262626" font-family="Liberation Sans, sans-serif" font-weight="bold">0.1</text>
<text x="204.3" y="860.4" text-anchor="end" font-size="29.5" fill="#262626" font-family="Liberation Sans, sans-serif" font-weight="bold">0.2</text>
<text x="204.3" y="809.4" text-anchor="end" font-size="29.5" fill="#262626" font-family="Liberation Sans, sans-serif" font-weight="bold">0.4</text>
<text x="204.3" y="758.4" text-anchor="end" font-size="29.5" fill="#262626" font-family="Liberation Sans, sans-serif" font-weight="bold">0.6</text>
<text x="204.3" y="707.4" text-anchor="end" font-size="29.5" fill="#262626" font-family="Liberation Sans, sans-serif" font-weight="bold">0.8</text>
<text x="204.3" y="1168.4" text-anchor="end" font-size="29.5" fill="#262626" font-family="Liberation Sans, sans-serif" font-weight="bold">0</text>
<text x="204.3" y="1142.9" text-anchor="end" font-size="29.5" fill="#262626" font-family="Liberation Sans, sans-serif" font-weight="bold">0.1</text>
<text x="204.3" y="1117.4" text-anchor="end" font-size="29.5" fill="#262626" font-family="Liberation Sans, sans-serif" font-weight="bold">0.2</text>
<text x="204.3" y="1066.4" text-anchor="end" font-size="29.5" fill="#262626" font-family="Liberation Sans, sans-serif" font-weight="bold">0.4</text>
<text x="204.3" y="1015.4" text-anchor="end" font-size="29.5" fill="#262626" font-family="Liberation Sans, sans-serif" font-weight="bold">0.6</text>
<text x="204.3" y="964.4" text-anchor="end" font-size="29.5" fill="#262626" font-family="Liberation Sans, sans-serif" font-weight="bold">0.8</text>
<text x="216.1" y="1197" text-anchor="middle" font-size="29.5" fill="#262626" font-family="Liberation Sans, sans-serif" font-weight="bold">00</text>
<text x="287.9" y="1197" text-anchor="middle" font-size="29.5" fill="#262626" font-family="Liberation Sans, sans-serif" font-weight="bold">01</text>
<text x="359.6" y="1197" text-anchor="middle" font-size="29.5" fill="#262626" font-family="Liberation Sans, sans-serif" font-weight="bold">02</text>
<text x="431.4" y="1197" text-anchor="middle" font-size="29.5" fill="#262626" font-family="Liberation Sans, sans-serif" font-weight="bold">03</text>
<text x="503.1" y="1197" text-anchor="middle" font-size="29.5" fill="#262626" font-family="Liberation Sans, sans-serif" font-weight="bold">04</text>
<text x="574.9" y="1197" text-anchor="middle" font-size="29.5" fill="#262626" font-family="Liberation Sans, sans-serif" font-weight="bold">05</text>
<text x="646.6" y="1197" text-anchor="middle" font-size="29.5" fill="#262626" font-family="Liberation Sans, sans-serif" font-weight="bold">06</text>
<text x="718.4" y="1197" text-anchor="middle" font-size="29.5" fill="#262626" font-family="Liberation Sans, sans-serif" font-weight="bold">07</text>
<text x="790.1" y="1197" text-anchor="middle" font-size="29.5" fill="#262626" font-family="Liberation Sans, sans-serif" font-weight="bold">08</text>
<text x="861.9" y="1197" text-anchor="middle" font-size="29.5" fill="#262626" font-family="Liberation Sans, sans-serif" font-weight="bold">09</text>
<text x="933.6" y="1197" text-anchor="middle" font-size="29.5" fill="#262626" font-family="Liberation Sans, sans-serif" font-weight="bold">10</text>
<text x="1005.4" y="1197" text-anchor="middle" font-size="29.5" fill="#262626" font-family="Liberation Sans, sans-serif" font-weight="bold">11</text>
<text x="1077.1" y="1197" text-anchor="middle" font-size="29.5" fill="#262626" font-family="Liberation Sans, sans-serif" font-weight="bold">12</text>
<text x="1148.8" y="1197" text-anchor="middle" font-size="29.5" fill="#262626" font-family="Liberation Sans, sans-serif" font-weight="bold">13</text>
<text x="1220.6" y="1197" text-anchor="middle" font-size="29.5" fill="#262626" font-family="Liberation Sans, sans-serif" font-weight="bold">14</text>
<text x="1292.3" y="1197" text-anchor="middle" font-size="29.5" fill="#262626" font-family="Liberation Sans, sans-serif" font-weight="bold">15</text>
<text x="1364.1" y="1197" text-anchor="middle" font-size="29.5" fill="#262626" font-family="Liberation Sans, sans-serif" font-weight="bold">16</text>
<text x="1435.8" y="1197" text-anchor="middle" font-size="29.5" fill="#262626" font-family="Liberation Sans, sans-serif" font-weight="bold">17</text>
<text x="1507.6" y="1197" text-anchor="middle" font-size="29.5" fill="#262626" font-family="Liberation Sans, sans-serif" font-weight="bold">18</text>
<text x="1579.3" y="1197" text-anchor="middle" font-size="29.5" fill="#262626" font-family="Liberation Sans, sans-serif" font-weight="bold">19</text>
<text x="1651.1" y="1197" text-anchor="middle" font-size="29.5" fill="#262626" font-family="Liberation Sans, sans-serif" font-weight="bold">20</text>
<text x="1722.8" y="1197" text-anchor="middle" font-size="29.5" fill="#262626" font-family="Liberation Sans, sans-serif" font-weight="bold">21</text>
<text x="1794.6" y="1197" text-anchor="middle" font-size="29.5" fill="#262626" font-family="Liberation Sans, sans-serif" font-weight="bold">22</text>
<text x="1866.3" y="1197" text-anchor="middle" font-size="29.5" fill="#262626" font-family="Liberation Sans, sans-serif" font-weight="bold">23</text>
<text x="1938.1" y="1197" text-anchor="middle" font-size="29.5" fill="#262626" font-family="Liberation Sans, sans-serif" font-weight="bold">00</text>
<text x="1076.5" y="1239" text-anchor="middle" font-size="32.3" fill="#262626" font-family="Liberation Sans, sans-serif" font-weight="bold">UT</text>
<text transform="translate(159 257) rotate(-90)" text-anchor="middle" font-size="32.3" fill="#262626" font-family="Liberation Sans, sans-serif" font-weight="bold">VTEC</text>
<text transform="translate(165 516) rotate(-90)" text-anchor="middle" font-size="32.3" fill="#262626" font-family="Liberation Sans, sans-serif" font-weight="bold">ROT [TECU/min]</text>
<text transform="translate(135.7 791) rotate(-90)" font-size="32.3" fill="#262626" font-family="Liberation Sans, sans-serif" font-weight="bold">S<tspan dy="16" dx="2" font-size="26">4</tspan></text>
<text transform="translate(136.7 1088) rotate(-90)" font-size="32.3" fill="#262626" font-family="Liberation Sans, sans-serif"><tspan font-style="italic" font-size="28">σ</tspan><tspan dy="16" dx="3" font-style="italic" font-size="25">ϕ</tspan><tspan dy="-16" font-weight="bold" xml:space="preserve"> [rad]</tspan></text>
<rect x="895.2" y="78" width="362.3" height="53.1" fill="#9c9c9c"/>
<text x="900.6" y="116.8" font-size="32.3" fill="#000" xml:space="preserve" font-family="Liberation Sans, sans-serif" font-weight="bold">20150727    VTEC  LOU</text>
<text x="1937.6" y="130.6" text-anchor="end" font-size="25.15" fill="#0000ff" xml:space="preserve" font-family="Liberation Sans, sans-serif" font-weight="bold">Made by Yaqi Jin on 07-Aug-2019      NOT FOR PUBLICATION</text>
<rect x="1959.7" y="257.50" width="24.8" height="24.66" fill="#800000"/>
<rect x="1959.7" y="281.56" width="24.8" height="24.66" fill="#9f0000"/>
<rect x="1959.7" y="305.62" width="24.8" height="24.66" fill="#bf0000"/>
<rect x="1959.7" y="329.69" width="24.8" height="24.66" fill="#df0000"/>
<rect x="1959.7" y="353.75" width="24.8" height="24.66" fill="#ff0000"/>
<rect x="1959.7" y="377.81" width="24.8" height="24.66" fill="#ff2000"/>
<rect x="1959.7" y="401.88" width="24.8" height="24.66" fill="#ff4000"/>
<rect x="1959.7" y="425.94" width="24.8" height="24.66" fill="#ff6000"/>
<rect x="1959.7" y="450.00" width="24.8" height="24.66" fill="#ff8000"/>
<rect x="1959.7" y="474.06" width="24.8" height="24.66" fill="#ff9f00"/>
<rect x="1959.7" y="498.12" width="24.8" height="24.66" fill="#ffbf00"/>
<rect x="1959.7" y="522.19" width="24.8" height="24.66" fill="#ffdf00"/>
<rect x="1959.7" y="546.25" width="24.8" height="24.66" fill="#ffff00"/>
<rect x="1959.7" y="570.31" width="24.8" height="24.66" fill="#dfff20"/>
<rect x="1959.7" y="594.38" width="24.8" height="24.66" fill="#bfff40"/>
<rect x="1959.7" y="618.44" width="24.8" height="24.66" fill="#9fff60"/>
<rect x="1959.7" y="642.50" width="24.8" height="24.66" fill="#80ff80"/>
<rect x="1959.7" y="666.56" width="24.8" height="24.66" fill="#60ff9f"/>
<rect x="1959.7" y="690.62" width="24.8" height="24.66" fill="#40ffbf"/>
<rect x="1959.7" y="714.69" width="24.8" height="24.66" fill="#20ffdf"/>
<rect x="1959.7" y="738.75" width="24.8" height="24.66" fill="#00ffff"/>
<rect x="1959.7" y="762.81" width="24.8" height="24.66" fill="#00dfff"/>
<rect x="1959.7" y="786.88" width="24.8" height="24.66" fill="#00bfff"/>
<rect x="1959.7" y="810.94" width="24.8" height="24.66" fill="#009fff"/>
<rect x="1959.7" y="835.00" width="24.8" height="24.66" fill="#0080ff"/>
<rect x="1959.7" y="859.06" width="24.8" height="24.66" fill="#0060ff"/>
<rect x="1959.7" y="883.12" width="24.8" height="24.66" fill="#0040ff"/>
<rect x="1959.7" y="907.19" width="24.8" height="24.66" fill="#0020ff"/>
<rect x="1959.7" y="931.25" width="24.8" height="24.66" fill="#0000ff"/>
<rect x="1959.7" y="955.31" width="24.8" height="24.66" fill="#0000df"/>
<rect x="1959.7" y="979.38" width="24.8" height="24.66" fill="#0000bf"/>
<rect x="1959.7" y="1003.44" width="24.8" height="24.66" fill="#00009f"/>
<rect x="1959.7" y="257.5" width="24.8" height="770" fill="none" stroke="#262626" stroke-width="1"/>
<text x="1995.9" y="1015.6" font-size="34.3" fill="#262626" font-family="Liberation Sans, sans-serif" font-weight="bold">2</text>
<text x="1995.9" y="965.9" font-size="34.3" fill="#262626" font-family="Liberation Sans, sans-serif" font-weight="bold">4</text>
<text x="1995.9" y="916.2" font-size="34.3" fill="#262626" font-family="Liberation Sans, sans-serif" font-weight="bold">6</text>
<text x="1995.9" y="866.5" font-size="34.3" fill="#262626" font-family="Liberation Sans, sans-serif" font-weight="bold">8</text>
<text x="1995.9" y="816.9" font-size="34.3" fill="#262626" font-family="Liberation Sans, sans-serif" font-weight="bold">10</text>
<text x="1995.9" y="767.2" font-size="34.3" fill="#262626" font-family="Liberation Sans, sans-serif" font-weight="bold">12</text>
<text x="1995.9" y="717.5" font-size="34.3" fill="#262626" font-family="Liberation Sans, sans-serif" font-weight="bold">14</text>
<text x="1995.9" y="667.8" font-size="34.3" fill="#262626" font-family="Liberation Sans, sans-serif" font-weight="bold">16</text>
<text x="1995.9" y="618.1" font-size="34.3" fill="#262626" font-family="Liberation Sans, sans-serif" font-weight="bold">18</text>
<text x="1995.9" y="568.5" font-size="34.3" fill="#262626" font-family="Liberation Sans, sans-serif" font-weight="bold">20</text>
<text x="1995.9" y="518.8" font-size="34.3" fill="#262626" font-family="Liberation Sans, sans-serif" font-weight="bold">22</text>
<text x="1995.9" y="469.1" font-size="34.3" fill="#262626" font-family="Liberation Sans, sans-serif" font-weight="bold">24</text>
<text x="1995.9" y="419.4" font-size="34.3" fill="#262626" font-family="Liberation Sans, sans-serif" font-weight="bold">26</text>
<text x="1995.9" y="369.8" font-size="34.3" fill="#262626" font-family="Liberation Sans, sans-serif" font-weight="bold">28</text>
<text x="1995.9" y="320.1" font-size="34.3" fill="#262626" font-family="Liberation Sans, sans-serif" font-weight="bold">30</text>
<text x="1995.9" y="270.4" font-size="34.3" fill="#262626" font-family="Liberation Sans, sans-serif" font-weight="bold">32</text>
<path d="M1984.5 1002.66h-7M1984.5 952.98h-7M1984.5 903.31h-7M1984.5 853.63h-7M1984.5 803.95h-7M1984.5 754.27h-7M1984.5 704.60h-7M1984.5 654.92h-7M1984.5 605.24h-7M1984.5 555.56h-7M1984.5 505.89h-7M1984.5 456.21h-7M1984.5 406.53h-7M1984.5 356.85h-7M1984.5 307.18h-7M1984.5 257.50h-7" stroke="#262626" stroke-width="1" fill="none"/>
<text x="1927.6" y="237.9" font-size="33.6" fill="#000" font-family="Liberation Sans, sans-serif" font-weight="bold">PRN#</text>
</svg>
</body></html>
